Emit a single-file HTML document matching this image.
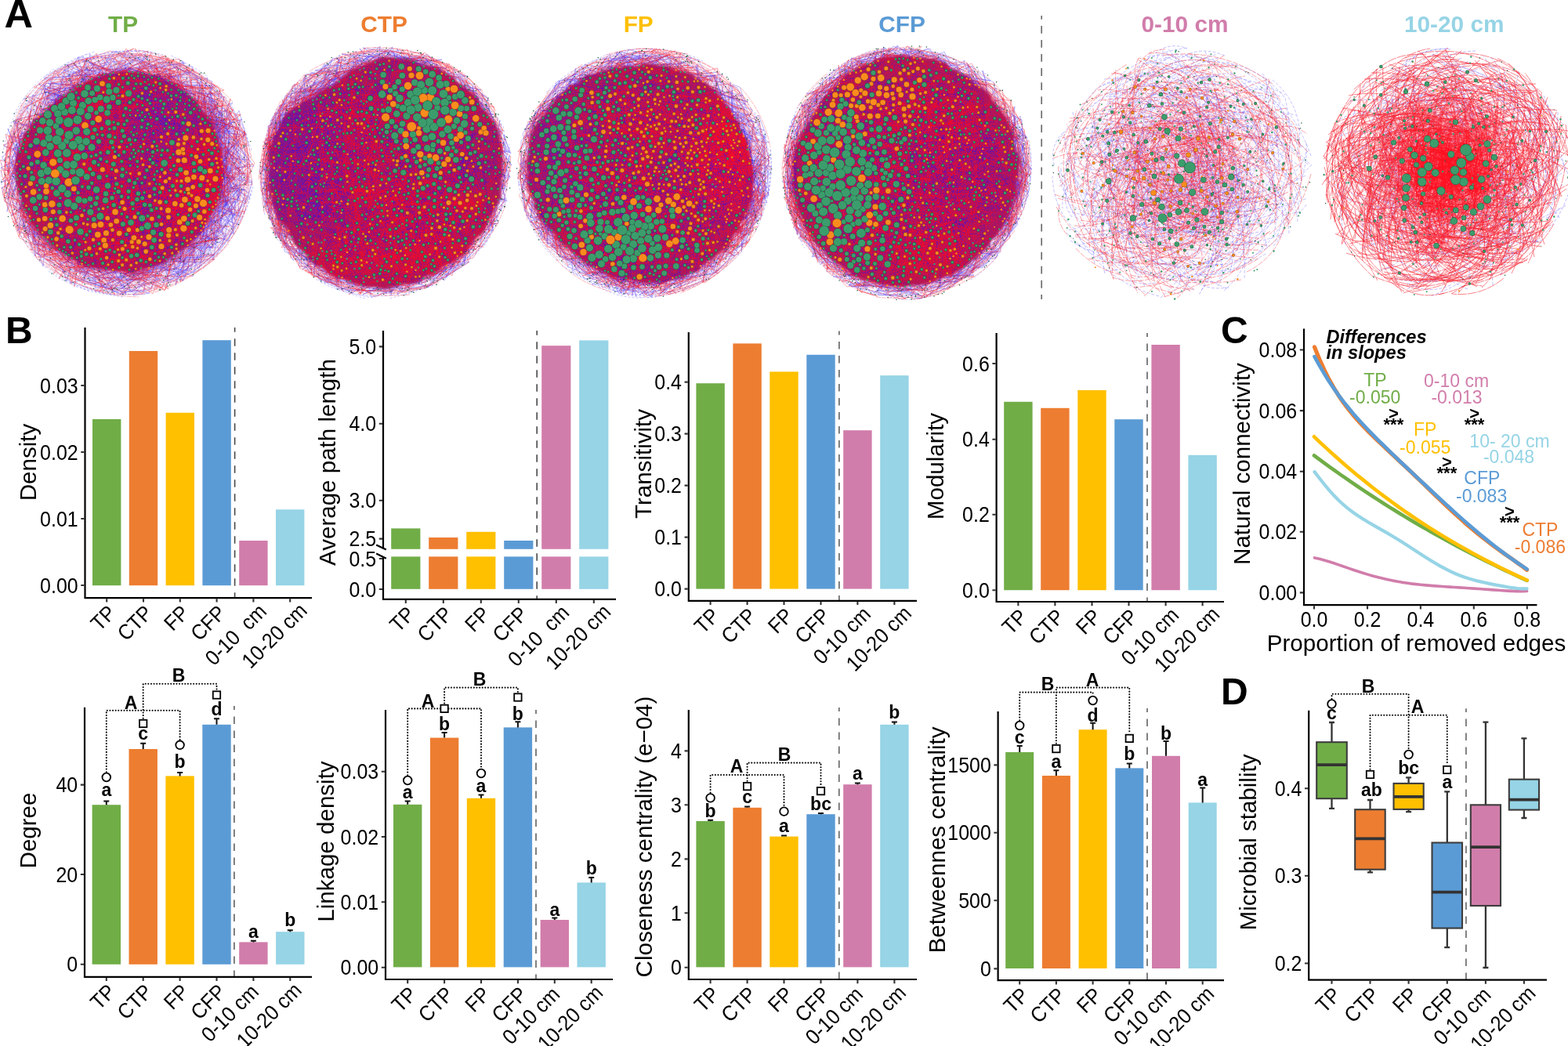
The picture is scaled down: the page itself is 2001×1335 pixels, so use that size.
<!DOCTYPE html>
<html lang="en"><head><meta charset="utf-8"><title>Figure</title>
<style>html,body{margin:0;padding:0;background:#fff;overflow:hidden}svg{display:block}svg{font-family:"Liberation Sans",sans-serif;font-size:26px}</style></head><body>
<svg width="2001" height="1335" viewBox="0 0 2001 1335">
<rect width="2001" height="1335" fill="#fff"/>
<g fill="none">
<defs><radialGradient id="g0h" cx="162" cy="220" r="161" gradientUnits="userSpaceOnUse"><stop offset="0.75" stop-color="#A060D0" stop-opacity="0.45"/><stop offset="0.9" stop-color="#C090E0" stop-opacity="0.24750000000000003"/><stop offset="1" stop-color="#E0C8F0" stop-opacity="0"/></radialGradient></defs>
<path d="M325 220L324 237L320 253L315 269L308 285L300 299L290 313L279 326L268 337L255 348L241 357L226 365L211 371L195 376L178 379L162 380L145 380L128 377L112 373L96 367L81 360L66 350L53 340L41 328L31 314L22 300L14 285L8 269L3 253L1 236L0 220L0 203L3 186L7 169L13 153L21 138L30 124L41 111L54 100L67 89L81 81L97 74L112 68L129 65L145 62L161 62L178 62L194 65L211 69L226 74L242 81L256 89L270 99L282 111L294 123L304 138L312 153L318 169L322 185L325 202Z" fill="url(#g0h)"/>
<path d="M247 309l0-20-13 15 38-42-15 20 5 27-4-7 26-45 7-66 2-49-18 47 9 14-9 21-4-23 13 38-4-26-34 140-49-26 40-218 6 30 20-30-4 7-30-12 26 2-6 41 33 32-3 34 34-43-34 33-8-6 35 58-9-22 16 24-44-9 33 28-29-17-27 32-33 28-3 3-42 32 17-23 8 4-39 1 13 37 48-36-21 17-33 4 20-26 45 16-12 5-8-21-19 18-78-3-56-59-18-12 4-13-7 6 210 69-9 15 3-23-7 23 26-47 14-18 6 21-2-35 39-33-47 59-5 28-47 2-32 17 8-18 45 29 15-48-35 11 12-5 69-47 5-24-26-33-2 2-7-60-15-5 7-48-53-26-13 6-15 7 33-6 14 39-7-28 6 22-33-31-45-19-30 48-54 32 17-18 16-11-8-29-29 30 26 6-26-6 23 5-10 13-2 11-12-34 35 17-29 19-3-4-36 8 3 32 41 120 13 23 97 28-28 17-41-14 11-29-30 11-12-2 30-13-71-38-4 9 12-25 162-160 43 25 15 15-9 4 13 12 41 5-11 6-31-6 23-12-23-8 20 2-25-7-62-50 26-12 59 37-26 39 27-23-14 2-1-23-2 60 15-21-13 14-2-61-56 1-52-12-61-24-10 21 53-14-4 22-33 3-1-21-19-3 11 39 54-18 122 67-1-42-5 14 1 31 24 20 19 38-38-8 30 8 3 45-17-8-2-41 34 21-36 44 35-40-31-16 10-35 20 14-33 31 28-4-36-4 20-57-28 5 30 44-20-52-4-33-13 11 9-49 12 13-64-1-38-16 55-22-5-4 11 17-28 7 62 132 37-62-38-21-12-33-5 21-221 31 1 8-6 38-8 82 44 4-7-9 42 44-56-62-3-6-29-61 21-13 25-72 3-3 1-19 57-6-66 6 20 9-21 42 3 4-43 38 27-17-16-19 3 2 28-3 4-13-35 51 60-68-25-20 52 4 35-45 60 23 22 31-33-22-9-23-64 37 23-17-13-20 64 26 9-15 43 45 25-1 1 41 25 91-64 50-12 32-110 15 19 6 26 9 17-34 2-6-18 4-5 16 32-23 18 4-36 0 3 4 42-15 12 0-28 3 33 2-12-8 24 26-70-9-50 8 20-4-45-7 35 16 0-11 33-4 34 2 70-155 5-32 9 45 2-37-33-11-28-35 58 55 5-5-13 19 7-29-4 33-7 26 5-29 32-30-37 13 7 16-192-62 5-5 16-12 3-29 13 23 64-12 7 1-7-4-59 22-44-20 28 26 30-25 3 17-20-2 12 2 5-2 11-10-116 94 1-3-29 39 20-58 52-29-23-6 79-20 55-5 69 48-1 10 27-18-260 88-11-39 16 30 3 84 5-34 17 23 16 20-18-24-13 15 1-10-19-28 0-32 11-40 6-16 10-36 7-25 86-16-31-22 32 25-37-16 81 19 55-16-58 15 23-8-63-5 18 2-80 34-19 7-32 28 0-6 6 10 2 12-3 2-8 65 1-33 0 45-18 17 17-39 12 33-13-53 3 17-16-67 13 47 0-25-5-12 5-1 14-3 3-16 18-12-3 1 0-2 49-48 30 10 27-5 112 22-13-5 26 56-2 31-17 37-5 8 13 6 2-12 15 47-33-25 32 9-20-40 4 9 17 36 1-23-42 17-25 42-3 21-21-16 81-64-17 50-42 43 39-36 19-10-30-34 24 26 34-70-21-16-20 20-16-103 19 30-11 15 11 24-9-8 16-34 2 67 16-19-14 21-11 52 24-40-36 22 27-2-29 8 41-43-4-11-17-5 32-19-12-44-14 24-21-40 17 15 24 33 2 34-33-42 6-42-13 5 0 81 20 4-13 4-7 21-1 11 0-26-2 19 20 31-19-7-32 37 3 25-16 22-6-17 37 2-1-22-26 23 1-17-5-10 7 7-61 17 31 23-45-17-54-13 27 7-38-15-12-3-37-14 58 33-35-23-5 11 4 0-9-30 18 17-20-13-8 17 73 23 2 32 61-24-30 22 96-62-38 15 3 39 22-10-67-10-76-12-63-35 3-47 17 32-10-19-9-25 3-56 8-55 232 161 25 17-15-32-134 68-22-3 147-91 31-34-1 45-21 22 17-10-6 20-23-28-4 24-14 62 34-57-73 55-64 15 8-17 98-28-32 7 2-218 27 49 32 13-18 20 13-40 6 17-41-15 18 30 44 35-23-55-13 48 22-48 10 29-33 22 2 57 40-63-41-32 7-19-1 10-7 18 5 2 9-2 0-16-20 13 53 37-33 13 37 11-16 45-32-50 15 35 2-11-3-50 1-36 13 8-16-36 20 20-5 20-110 192-20 4-29-18-2-2-8-21 49 9 8-2 9 2-57 23 50 9-21 3 48-58 41-39-15 39 20-36-42 47 15 2 20-28-9-19 41 14-12 25-15 1-5-7 22-27 17-20-13-26 10-1-16-40-9-39-1 1 0-43-26 5 24 44-1-17-21-40 3 28-237 70 21-37-14 15 36-44-17 50-29 5 7 24-12 7 24-8-16 45 3-28 8 0 226-115 5 18 21-35-131-8 50-31-39 15-28 19 4 5-2-24-34 30-57 158 12-2-23-1 8-23-12-46 5 9-10 14 10 7 9 42 3-15-7 34-2-55-2-33-20 52 47 23-39-72 20-22 3-6-21-25 34 10 33-46-23 12 31-3-14-26 45-22-38 51 10-40 7 2-30 35 6-11-28-10 38 24-36 29 32-47 45-8-13 8-19-31 13 28 46-25 2 18 2 0 15-6 36 11 17 15 38-24-11 56 25 4 5 45-6 23 22 0-29-2 34-45-28 26 35 45-21 57-39-20 22-52-9 31-152-174-6-16 181 72-48-13 54 40-15 50-27-78-35-31 14-4 38 39 15 2-30 1 23-19-20 22 0-41 12 74 18-12 30 28-52 50 8 45-95 53-10-18-31 12-8-13-83-26-8-51 76-144-2-15-18 9 4 15-40-3-1-15 38 3 23-18-28 38 20-13 60-40-42 5 9 14 23-8 16 11 27 7-22-1 45 3 58 38-89-37 28 1 44 48-19-29-11-7-16-23-39 7 8-13-15-19-33 31 3-6-26-7-7-2-16 34-41-15 22 28-17-14 66-19-42-13-19 56-35-20 40-11 1 25 5-12 43-43-5-16 30 28 18-31 65 37 51 28-17 36 10 37 5-8 46 36-26 7-26-70 33-2-17 97-6-59 9-8 3-6-10 18 14 13-5-6-9-15 9 20-13 15 6-1-14 16-13 58-50 52 47-16-20-41 0 32 24-50-1 11-1-4 23 23-51-2-1-5-21 32-55 2-11 14 61 0-30-23-31 42-30-44-30 15 37-9-17-10-58-22 95 57 106-62 0 9-19 54 7-38-24 22-8-21-45 9-43 5-68-52-1 16 7-8 1-2 19 11-41-27 17 48-1-60-1 20-11-87-31 14 31 15 12 37-7 29 30 9 18 55 11-39-32 9-18-6 46 29 66 24-17-20-46-11 59 31 36-15 52-18 31-17-63 6-56 37 70-58 14-9 11 34-4-38-14 6 26-30-34 38 40 6 14-17-5 31-6-21-2-17-4 33-10-14 5-31 23-21-12 28 39-49-32 3-172 106 43-12 37-2 4 35-28 3-42-13-9-35-32-9 14 11-39-53-17-11 238-111 30 20-33-47-18 23 0 0-41-35-19-23 9-9-29 261-28-8-21-3 58 10-1 23 12-34 52-29 30 16-25-19 33 8-17-23 21-2-49 24 2-1-22 16 19 39 31-52-48 53-14-11-35-9-9-4-1 8-93-12-2-39 8 11-23 19 3-20-22-29 10 5 5 32-7-22 73 63-5-21-30-21 112-242-24 14 13 21-64 7-11 11-37-13 172-28-37 7 21 31 50 42 10-1 27 4-3 40-23-14-5-26 9-11-10 9-4-2-9-29 11 20 24 53-24 44 20 4-66 63-183-39-8-36 15 40 43 68 113-25 63-60-237-36-3-11 4-9 0-9-14-7-14-3 56-64 48-18-10-32 8 0 2 35-9-18 61-2-21 7 38 7 35-5 41 3-41 11 5-17 11 30 15-10-11 15-7-40-5-4 50 19-10 31 0 33 44 33 8 28-18 13-36 52 14 20-10 3 11-40 10 15-67 35-41 31-23-4-35 1 55-16-51-2 22 34-92-257 41-2 11 4-40 33 195 120 45 18-31-51-2-77-58-58-8 10-58-23-2-13-16-2 22 31 72-10-22-15 44 6 45 113 5-54-16 14-12 15 22 29 4 34 5 61-13 5-12-74 19 16-17 67-23-15 7-21 28 30-52-1 15-10 34 18 9-37-50 18-49 44-60 13-44 11-16-24 13-3-43-57-2-17-9-6-30-53 62-74 15 9 5-37-13 22-12 4 12 3-26 43-31 4 3-5 2-18 8 50-18 53 17-84 16-8-25-6 26-30 8 34-28 43 14 84 37 36-21-23-33-17 12-58-31 14 130 101 24 23-16-27-39 6 34 25 16-33 124-141 2 11 37 26-66 76-1-16 10-1 13 17 6-5 4-45 23 1 6-36-33-54 22-13-3 3-22 35 0 24 51-5-37-50 30 42-28-2-4-14-3 2-16-18 5 10 21-18-12-12 17-21-7 3-2 34-128-82-30 15 30-23-10 258 11 40-8-15-9-21 41-2 67-8-10-32 7-15 13 2-7 44-42 17 11-33-186-32-26-81 4-25 19 20-20 54 7-15 4-28-16-42 17 42 47-80 8-38 15 29-39 34-24-14 9 39-12 42-4-16 1 4-6-19 6 49 40 68-43-39 14 7-2-21-15 44 22-29-28-7 16-76-24 56 35 36-2 19 14 46 5-48-6 28 23-7-35-1 35-3 20 36 29-10-21 20 21-23-54-27" stroke="#4A30F0" stroke-width="0.5" opacity="0.7"/>
<path d="M33 257l-9 45-22-62 31-21 1 29-1-6 26 57-19 20-6-26-3 9 69 55 22-23-19-1-63-18 8-36-15 25 0-20 13-12 9 13-16-3 10 10 11 32-7-3 6-10 16 18 18 6 24 10 30 31-23-35-16-1-44-18 21-9-24 8-22-3 63 39 50-20 75 23-11-12-1-8 7-3 3-23 53-8-50 5-1-1 26-8 20 10 0-21-16 43-133 1 27 24 41-6-35-18 36 26 2-5 33-25 28-44 0 18 16 12-5-39 46-8-31-5 10-41-7-18-6 12-13-44 41-27-32-8-29-5 28-17-1 63-14-36-49-48 28-6-110 5-16 1-23 25-12 16 0-25-16 5 37-12-38 7 38 9-6-27 5 4-4 19 15 0-18-2 33-47 13 38 42-8-42-11 17-20 24 25 0-5-11 16-27 0 26-9 13 6 4-22 25 34-3-6-43-44-22 44-23-9-1 17-16-2 95-4 21-34-44 9-45 25-70 31 48-21 38-23 61 1 17-19 19 9 16 64 14-3 14-19 1 79-8-11 0-2 31 24-31 26-18 27-35 42-27 23 21-19 7 22-7-17 16 10 41-1-31 22-72-2-20-8 2-6-40-3-52-31 26 17 40 36-60-28 0-10 11 0 14 37 11-12-43-34-18-26-9 8 52 57-22-16-10-8-26-58 4-40-4-15-1 15 9 34-5 44 19-18-13-43 18 54-33-29 22-3-1 4 8 49 12-23-7 0-29-20 22 21 22 31 77 7 21 23 39-6-29-1 6-10-116 1 23-23 12 26-11-17 3-2 1 25-47-30 18-17-32-14 49 49 74 36 11-12 6 7-169-154 26 0-32-11 6 19 17 36 0-59 10 20 1 41-9-27 12 12-4-44-16-33 17-9-26 34 19-9-20-14 23 83 4-20-14-2 18 23 12 25-2 0 3 8 28 34-30 7 2-47 6 30-34-18-22-77 32 2-12-59 63-35 12-13 15-37-29 55-19 11-21 38 3-14-25-11 16 42 243 11 17 25 3-62 1 10-52-43 19 47 31-45-24 45 3 33 36 17 12-26-30-39-19 30 17-59-7 1 1 13 7-28-2 8-41 4 7-33 21 16-59-15 5 0-7 0-14 3-8-20 24 22-29-4 50 12 12-1 28 12 16 11-11-18-9 43 31 24-5-22-3 57-38 36 21-69 32-21-96-57-1 1 15 0 33 49-8-57-3 50-6-19-128-30 19-6 4 3-11-16 38-3 59 23-71-18 13 9-9-2-13 6-14-16-38-3-55 26 49 12 26-16 2-25-34 19-2 9-54 28 51-26-8-18 24 29 2-23-38 2-24 46-30 50 11 8-15 24 25-28 8-22-26-7 21 45-2-27 73 132-7 43 5-44 1 3 4 1-69-59-14-79 9 52 3-32-5-1-7-36 26 101 2 6-17 22 31-4-41-65-3 50-2 6 20-14 34 30-2-2 1 32-36-75-31-7 25-14-9-29 19-48 18-4-36 38 2 24 20 66-8-10 11 13 12 23 15 10-28-15-29-22 14-9-17-52 6-2 9 62 42 18-56-48-8 2 6 17 37 11-21 11 6-38 15 32 31 37 3-2-26 4-10-46-5-9-18 9 11-29-21-4 22 38 53 57 92-7 38 6-22-10-1 13 20 13-6 14-43-34 19 16-12-8-15-9 51-9 24 8-1-32 11-5 4 4 29-29 2 16 7 9-37 17-48 12-38 12-62 8-7 2 14-23 2 0 67 7-55 29-43-9-19-21 61-1 11 44 18-15 35-21-66 9-65-28-30-17 62-174-42-4-20 74-18 49 18-53 6 3-23 13 8 21 2 20 49 46-42-8-4-1 53 30-27 10-9-69 13 44-18-129 27-51 56-18-18-15 5 28 15-10-5-29-49 41-3 14-27-13 29 30-41 1 34-9 15-54 222 152 0 8-15-23 42-7-59 52 32-17-17 1 5-31-4-2 28 3 1-17-8-13-13 19 5 9-25-67 13-27-20-32 6 46 21 14 6 43-18 104-43 11-22 51-23-8-26-10 20 0-30-6 63 27 10-50 16-13 43-11-3-5-12-36 8 18-13 15-15 1-63-200 7-24-45 18 9 18 20-25-7 2-25-13-32 11 48 21 9 4 6 3-44 1-33 17 15-46 47 24-40-19 54-19-50 24 26 19-12-15 35 5-44 14-47 0 22-10 35-4 22 7 35 3 59 22 7-9 14 37-3 7-28-41 24 45 0 2 17 59 4-8-20 81-38 34-29 34 15-48 8-8-8 37 8-19 26-9-22-12 3 9 4 7 13 0-49 11 1-4 15 1-63 6 11 9 29-15-59 8 38-7-34 2-51 6-10 14 18-35-16-11-61-49 68 70 89 18 26-2 46-8 2-33 5-18-12 7 53-6-23-2 1-24-6 25 4-41 4 1 25-9 16-23-9-17-50 95-5-7 50-59-22 15 0-41 1 34 38-26-50-28 0-3-5-45-67-30 17 9-2-17 19 13-23-8-14-33-6 38 80 7-16-1-2 34 2-3 13 8 0 6 7 37 1-46 1-2 37 28-27 2-10 8-40-69-3-40-32 7 18 32 59-2-80-4-36-16-13-20 25 29 69-6-1 39 22 19 7 30 43 1-1 1-34 47 24 9-15 12-8-3-6-12 2-20 40-51 10 69-16 0-30 17 17-52 10-49-21 2-12 19-12-19 2-4 11 25 16 8 5 72-242 57 27 18 49 2-41 11-27-27 9-8 2-9-22 25 45 2-24 24 15-29 2 0-53-38 220-133-2-3-1-29-34-11 1-20 1 24 42 32-27-16-17-10 6 1-22-43 2 30-30-8 20-16-30 18-25-12-22 0 15 20 14-33 29 15 40-18-44 13-8-11 63 18-32 12 40 23 42 28-15-21 2 29 44 3-54-21-9-58-24 29 45 37-38-32 14-19-10 11 14 12 62 85 8-41-34 28 3 58-11-21 3-16 3-17-15 113-41 2-11 9 10-5-2-4-10 23-12 37-56-38-101-27 6-2 19-12-4-5-17-28-39-15 10-35 63 99-26 19 49 26 12-29-66-41 11 7-4-14 22 35 15 7-59-70 0-10-9 6 12-32-21-26 17-35 14 7 52-43-3-16 0-6-11-5 11 27-19 5 203 151-78 60-4 14 5-23-28 7-19 3 36 9-79-19-9 1-30-11 26 27 37-8 51 23 10-29-12 46-64-38-52-36 6 2 208-89 17-5 21 17-7 15 3 19-45-18 9-54 22 22-30-24 47 45-26 18-48 46-9 29-31 0-50 52 44-29-35 15-16-10-4 17 37-20 33-21-18-1 48-33-8 12-10 22 0 4 36-30-55 26-12 41-66-38 12 21-41-17 21 2-16-10-28-19-24-178-13 35 29-18 20-40 21 11 80-12 62 5-31 6 33 18 25-26 26 53-44-1 4 3 15-22-9 2-9 21 13 5 8-56-14 51-33-53-128-15-24 33 47-29 6-29-36 30 21 8 14-10-2 8 53-7 89 35-12 9-44-35 13-18-60 6-20 6 64-16 14 28-37-31 37 19 28 46 3 10 47-14-33 25-8-41-13 21 45 9-32 19 49 47-13 15-33 21 34 10-32-46 10 65-25 18-2-24-18 16-21 38 0-9-81 10 26-3 8-2-34 3-10-3-12 2-8 5 30 20-7 11 9-39 35 5 40-17 0 21-28 2-17 0 25 19-84-38-61-14-12-33-27-56-2 33 140 104-87-29 49-3-34-9-25-37 6 26 7 17 35 13 48 18-28 7-40-24 11-25 9 11 65 20 37 17 2-30-15 2 30 35-33-21 57-35 44-9-32-4-2-16-10 63-9 13 10-51 20-14 0-15 18-19 17-29-3-14 31-9-46 36-2-28 16 43 16-10-31-47 5 43 27-36-14-9 19-31-26-34-52-9-49-21-157 85 25-31-26 24 17-17 45-56 80-23-67 12-10 2-26 4 94-27-21 16 32 8 51-2-37 1 10-17 24 24 3-5-10 11 23-14 8 11-1-3 4-21-47 15 10 11 5-1-42-27 23 17 43 31-2-8 6 4 20 4-28-12-27-34 18 4-12 24-2-11 9 0 41 50-68-53-15-5 50 20 4 8-27-39 16-9-26 27 39 26 37 11-16-8 6-10-54-28-29 4-1-19 32 34-3-21 42 20 22 51 13 50-14 42 17-18-4 39 2-22-20 17 22-29-11-53 39-6-42-21 0 38 14 19 30 2-7 16-24 37-42 32 3-10-20 30 47-2-27 7 4-46 11-5-3-6-14 16 19-27-3-1 8 3 30-13-206-172 25 20-3 14 4-7 167 53-18 20-54-105-26 23-20-29-29 33-13 0 43-17-10 6 38-1 43 40-41-27 2-18-25 18 2-2 25 9 24-24-46 1 32-9 34 66 60 9-7 24 2-16-15 36 26-29-35-15-16 14-2-42 22 20-35-49 39 18-38 10 1-7-8-16 10-1 4 35 4 9-40-28 8 2-55-21 6 7-9-6 65 13-9-29 50 26-40 19 48 9-106-49 15 7-20-33 50 46 62 22-65-50 16 22-28 4 6 4 29 19-21-9-5-45-43 17 40 16 72 26-29 12 37 7-7 41 11 0-12 31-7-23-5-3 15-12 13 50 14 15-75 60 19 9-30-14-60 31-47 15 31 3-12 5-44-31-6 33-6-47 93 42 22-28-61 5 72-10-37 13 19-10-21 7-25 32-26 5 26-19-14-14-30-9-63-67-25 12 24-14-4 10-4-15-7-44 2-15-22-12 40-12 0-20-8 43-13-24 12-30 7 10 15-37-21 71 3-45-6 41 5-34-17 28 23-8 29-27-6-36-16 22-16 49-12 41 20-40-4 0 13-27 7-3 46 215 13-33-26-10 6 12-46-47 14 30 69 30-25-11 22 35" stroke="#F01828" stroke-width="0.5" opacity="0.7"/>
<path d="M90 360Q157 386 223 358M218 71Q243 82 265 98M15 251Q27 296 61 328M314 252Q326 208 312 166M16 245Q1 168 56 113M312 255Q329 183 287 122M237 88Q290 117 311 173M101 358Q181 385 248 336M211 364Q275 339 308 279M131 72Q93 78 64 104M46 111Q77 78 121 66M39 301Q10 253 17 197M262 337Q298 308 308 263M262 109Q196 59 114 76M291 305Q270 328 246 347M62 346Q102 375 152 377M48 330Q81 364 128 373M186 70Q132 63 83 89M293 296Q308 270 313 242M107 73Q38 106 13 178M83 353Q126 381 176 375M18 146Q36 111 69 88M156 66Q184 62 211 71M323 238Q311 293 271 333M59 342Q21 308 13 257M141 368Q84 358 46 314M303 286Q318 265 321 239M120 80Q143 75 167 72M280 317Q255 348 217 360M26 301Q84 369 172 376M114 372Q45 341 16 272M89 348Q163 384 233 343M289 132Q263 98 223 83M157 379Q129 375 103 364M179 65Q110 62 54 104M58 97Q122 59 195 67M9 253Q-4 184 36 127M188 367Q269 344 308 269M293 296Q272 333 235 353M240 84Q301 123 321 192M314 266Q300 295 280 320M137 72Q180 65 221 84M313 165Q267 89 182 65M93 80Q49 104 24 146M102 77Q45 99 16 153M112 69Q83 81 57 99M25 146Q68 81 144 69M274 310Q234 361 170 364M15 155Q-4 201 4 250M259 343Q309 296 322 228" stroke="#6A5CFF" stroke-width="0.5" opacity="0.7" stroke-dasharray="3 2"/>
<path d="M279 323Q234 368 171 375M282 307Q299 288 307 264M6 222Q12 140 78 91M47 330Q104 377 177 379M18 266Q0 217 18 168M245 99Q309 141 313 218M183 78Q233 80 269 114M15 164Q-6 228 24 288M6 213Q9 170 29 132M177 64Q248 77 297 130M51 111Q103 65 173 74M314 194Q302 141 259 110M6 223Q8 148 65 99M205 358Q136 378 76 339M47 328Q26 306 15 278M28 144Q-7 222 27 301M218 351Q153 385 88 352M290 310Q316 278 318 237M279 318Q239 360 182 369M59 337Q115 381 185 375M27 156Q11 184 5 216M314 248Q323 215 313 183M277 112Q223 66 153 68M127 72Q78 79 45 118M50 106Q73 87 102 77M38 119Q16 155 9 196M31 141Q-7 216 28 293M188 70Q228 76 257 103M299 281Q309 258 307 234M280 125Q319 173 316 235M320 221Q317 196 312 171M217 354Q243 342 264 323M278 318Q300 296 310 267M288 133Q267 103 235 87M308 271Q269 345 190 372M253 341Q301 307 315 250M21 270Q7 233 14 193M9 253Q26 312 78 345M315 203Q320 243 300 278M251 94Q175 56 92 79M197 373Q253 356 292 311M49 117Q11 163 11 222M265 335Q302 308 314 264M208 366Q129 384 63 337M26 136Q56 89 111 75M241 90Q209 70 171 70M239 85Q304 126 321 201M283 123Q253 87 208 73M69 95Q129 58 198 74M314 237Q322 182 293 135" stroke="#FF3040" stroke-width="0.5" opacity="0.7" stroke-dasharray="6 1"/>
<filter id="g0b" x="-10%" y="-10%" width="120%" height="120%"><feGaussianBlur stdDeviation="1.8"/></filter>
<path d="M285 217L286 224L284 231L282 237L282 244L282 251L277 257L277 264L272 270L267 275L265 281L261 287L259 294L254 298L249 303L245 308L241 314L235 317L229 321L225 326L218 328L213 333L207 337L201 338L194 340L188 343L181 343L175 347L168 349L161 347L154 345L147 346L141 345L134 343L127 344L120 342L114 340L107 340L101 336L96 332L89 330L84 325L78 322L73 318L66 314L62 309L57 304L52 300L47 295L43 289L38 284L37 277L32 271L28 265L27 258L27 251L22 245L22 238L20 231L20 224L19 217L19 210L21 203L21 196L26 190L27 183L29 176L30 170L37 165L40 159L43 153L49 149L54 145L60 141L62 134L69 132L73 127L78 123L84 121L88 116L95 115L99 110L105 108L110 103L116 101L122 98L128 96L135 95L141 95L148 94L154 90L161 92L167 91L174 91L181 92L187 94L193 97L201 96L206 100L212 103L218 105L225 108L229 114L236 116L241 120L246 125L251 130L254 136L258 142L263 146L266 152L272 157L273 164L276 170L278 177L278 184L283 190L283 197L282 204L285 210Z" fill="#B0125A" filter="url(#g0b)"/>
<clipPath id="g0c"><path d="M285 217L283 237L277 257L269 276L258 293L245 308L230 322L213 332L194 341L174 345L154 347L134 345L114 341L95 333L77 322L62 309L48 294L36 277L27 258L22 238L20 217L22 196L29 176L40 159L53 144L68 131L83 120L99 109L116 101L135 95L154 91L174 91L194 95L213 102L230 112L246 125L259 140L270 158L278 177L283 197Z"/></clipPath><g clip-path="url(#g0c)">
<defs><radialGradient id="g0t0"><stop offset="0" stop-color="#F50A28" stop-opacity="0.88"/><stop offset="0.5" stop-color="#F50A28" stop-opacity="0.616"/><stop offset="1" stop-color="#F50A28" stop-opacity="0"/></radialGradient></defs>
<ellipse cx="250" cy="235" rx="60" ry="95" fill="url(#g0t0)"/>
<defs><radialGradient id="g0t1"><stop offset="0" stop-color="#5A18C8" stop-opacity="0.56"/><stop offset="0.5" stop-color="#5A18C8" stop-opacity="0.392"/><stop offset="1" stop-color="#5A18C8" stop-opacity="0"/></radialGradient></defs>
<ellipse cx="205" cy="150" rx="65" ry="60" fill="url(#g0t1)"/>
<defs><radialGradient id="g0t2"><stop offset="0" stop-color="#E80A28" stop-opacity="0.5"/><stop offset="0.5" stop-color="#E80A28" stop-opacity="0.35"/><stop offset="1" stop-color="#E80A28" stop-opacity="0"/></radialGradient></defs>
<ellipse cx="150" cy="300" rx="90" ry="45" fill="url(#g0t2)"/>
</g>
<path d="M284 211l3 23-2-13-26-30-22-14-41 2-59 14 5-75-6 42-37-15 56 21-14 54 16 40 1 51 31-5-15 25 10-11-36-37 5-39 5-58-41 38 53-12 53-9 62-3-5 5-243 39 56 78 8-66-22 41 20-58-13-61 185 65-20 15-43-25-16-48-31-16-7 4-37 2 12 19 16 51 4 55 25 0-75 4 183-45-8-60-112 142 6-164 11-65 56 19 18 65-38-39 42 8-9 142 16-34-175 49 48 21 15-89-11 58-60 11 5-30 16 45-10-52-24-19 36-24 33-13 56 20-159-9-6-17 61 20-14-16-10 64 51 6-15 20-7-6 6 0 105-16-62 3-40-9 66 0 13-3-6-16-14 21 22 33-57-228 23-2 51 19-133 118-23-31 62-4 19-2 36-25 14-57 5 60 32 35 46-13-70 47-1 68-9-65 0-64-1-52 4-16 11 59-17-10-32 29 27 40 11 51 35-43 9 67-26 24 1-33-38 11-67-2-2 14 71-233 47 16 6 53 5-44 32 24-23-19 22 51 6 29-169 52 13-50 60-2 12 64-12-27 40-30-20-9-27-30-70 0 23-43 60-17 0 11-7-6-1-18-43 9-9 48-4-32 42-14-69 142 73 1 26 14-28 29-22 42 107-120 6-55 7-14 17 82-6-12-33 8 13 34-80-128-27 7-4-30-13 8 21 48-60 2-14 46 22 7 30-34-33 3-38-3-6 42 9 54 154-55-8 43 35-29 2 37-43-20-30-44 21 5 43 37 5-2-21 9-14-61 22-32-5-31 19-8 5 71 9 10-10-21-13-49-34-8-12 47-58-18 56 21-46 27-10-59-59-7 30 12 7 10 2-43 5 5-76 127 175-46 3 19 33-23-55-8 16 12 29-11 16 26-61-11-9 20 31 25 4-5-40 32-8-54-37-35-45 19 36-43 49 27-50-23 38 31 31-18-68 4 48-9-8-34-2-50 34 39-27 2-10 0 43-37-11 0 6 10 66 12-49-27 39 33 15 17-195 153 41 1-13 36 2-115-44 30 75 0-4-61-3 13 6 72-54-25 5-58 55 3-2 63 22 6-5 7-16 60 17-54 107-72-41 12-13 25 27 27-70 7 33 38 36-28-36 21 21 14 38-14-29 11-85-139-32-30-25 36-21 49 62 6 4-32 25-7 13 1-34-20-48 3 21 35 43 75 18 19-36 21-96-120 13 38 124 42 17 44 24 2 15-13-78-98 50 70-39-8 13 14 30 10-23 25 30-34-54 19 8-60-52-15 7 72 20-45 6 63-17-48-45 15-8-47-22-56-25 23 11-58 11 12 10 36 2 60 38 27 11 35 41-4-28-9 52 7-9-53 49-13 2 5 64-7-23-38-62 14 64 2 7 58-24-18 26-2-41-114-29-28-47 6 20-44 106 113-56-7 16 63-26-7 1-62 29 0-32-35 16 32-23 11 1-17 39-31 7-15-9 64 21-54-120 103 38 27-32-17 1 35-11 45 54-17 9-27 5 27-63 6 7-8 26-80-52 24-31 14 8 41-17-15 10-70-36-10-6 47 245-56-56 21 21 50 2-38-26-53 59-5-4 47-12-35 13-2-241 40 95 35 43 7-29-35 12 33 2-19-20-29-54-11 1 37 47-29-48-31-22 20-11-10 34 12 2 38 48 10-7 22 41-23-27-41-15 21 62 8-14 6 29-33-41 17-13-66 16 20-11 58 20-27 38 11-9 33 31-17-1-21 3-16 28-47-57 2-25-21 6 9-18 5-34 14-47-3 9 53 75 2 14 58 25-25-39-32 25-34-43-26 16 63-67 6 51 25 35-23 2 11 25 40-22-45 21-56 40 21 19-43-30 46-146 112 3-3 3 5 24-9 7-19 8 26 20-47 24-2 67-10-29 36-5 7 1-65-16-6-15 57 30-43 16 0-87-8-50 15-9 11 48-14 30-32 21-51 73 3-4 13-8 17-35 23-43-2-16-2 2-47 34 17 19 41 60-10-43 17 22-39 19-55-4 32-45 3-91 122 53-6-54 14-11-45 23-16 0-64-4-69-38 39-9-17 10 53-2 13 48-5 19 28-1 9 8 3 56-15 21-24-77-2 29-44-22 23-6 74-38-30 35 13 52-4 5-17-67-10 18-37-2-41-20-28-4 37 26 31-3 66-23-11 12 49 5-57-19 36 34 0 18 10 42 6-12-25-52-3-29 13 19 19 28-7-10 49-36-21 30-24 24-11-22 28 19-29-24 53 34-35 24-13 24-33-61-14 62-16-71-76 33-14 31 42-27-30-15 13 0 31 21 16-67 84 9 19 49-25 27 15 0-58-20-23-19 11-6-1-33 3-30 26-32 30-19-64-1 58-55-4 12-33-32 28 132 24-8 8-63 9 38 29 1 14 27-10-16-45 43 17 72-6 7-9-34-25 46-30-15 6-29-43-7-17 36-14 28 49-33 33-25 51 3-27-63 5 18-58-59-5-17-40 11 59-86-42 17-45 29-28-14 6 33 40 9-9 35 9 24-39 30 16-8 8-9 58-38-2-53-27-33 39 24 8-34-34 216 6-64 101-20 28 12-27 3 7-27-45 36 1-33-43 15 12 20-36-34 40-18-15-48 30 36-6 2 31 45-8-35-17 21-45-57-7-2-23-10-32 18-22-32-12 26 0 66 9 10 33 25-53-57-17 58 72-5-54-2 16-68-10-6-14 55 4-1 9 7 54 11-60 28 14-31 37-65-9-61-3 32 35-27-42-21 44-34 45 70-74 1 28 17-46 73-1 37-12-10 178-3-12-38 29-42 14 52-6-1-11 17-26 2-30 68-3-39 26-1-47 31-81-57 1-74-42-29 12 22 56 28-4-10-64-16-11 92 193-12 15-23 22 22 10 17-101-51-4-11-31 30 13 39 13 2 31 21 42 20-139-57-4 50 11 0 2-51-4-38 10-27-14-35 39-19 38-60-1 9-20 18-31-12 66 15-54-39 9 47 8-32 29-22-29 88-87-3-10-42 19 41-9 2 35-31 21-36 0-7 36 33-38 18-36 17 37-23-47-23 7 221 13-177-20 51 23-52-5 38 4-25-11-41 18 55-21 37 25-6-38-41-26 0 44 21 45 15-12 43-21 2-57-12 10-34 27 38 12 41 32-2-45-29 23 31 17 24-39 15 13-74 4 11-64-19 54-39-35-3-6-13 11 6 20-32 28-19-1 57-5 50-2-3 64-43-10-5 40 38-22 54-15 54 20-46-6 3-32-50 8-14-49-12 63 45 15 2 10-36-29-36-27-53-17-26 6 139-70-134 118-1-17 41-8-67 12 190 96 0-17-166-20 13 42 7-18-38 3-8-46-2 0-19-59 154 99 32 21-5-33-65 11-11 23 62-8 17-32-71-2-23-52 36 25 37 33-31 45 49 10-41 15 37-15 1-27 18 7-9 23 39-23-16-53-27-45 34 27 1 7 27-24 18 5-8 19-223-110 46-8 15 31-1 3 10-46 24-27-27 196 65 12 3-55-69 3-44-23 3 18 64-2 7-49-31 2 14 24-31 15 28-32-26 8 28-48-62 112 36 21 31 29 55 4 40-8 11-10-31 7-46 7-17-45-7-50-37 19 1 24-4-45-51 4 26-39 1 65 72-29 60-19 38 26-27 7-18-13 27 33 21-33 15-2-17 61-53-17 51 13-34-152-29 45-56-16-15-48-19 13 3-19 83 178-26 41 23-34 5-48 53 23 25 30-47 1-12 30 39-31 7-42-8-52-23 13-3 38-19-32-15-26 45 3 25 2-50 8-11 0 16 39 57 20-23 0-10-50-50-27 17-40-102-24 77 149 40 21 13-7-23-47 19 38 11 27-55-8-19-18-41-4 11 63-11-64-46 27-1-57 7 46 94-97-35-22 6-41 45 24-24-12-31 31-60 17 64-4-38-16 36-20-35 9 11 69-30 4 34 39 22 25 20-33-54 19 163-23-55 17-40 29-30 36-31-44 59-17-23 35-10-56-69-11-42-36 7-1 46-8 0 77-9-64 32-46 8 21-3-38-10-31 41 15-43 32-45 9-4-26 4 60 16-18 18 19-29 13 19-33 3-70-11 50-31 26 72 5-1 51-27-4 22 14-21-18 143 81 12-44-59-10-40-30-57-3 15 0-16 53-38-25 38-20 13 23 34 14-6 40 59 14 17-65 28-29 5-27-42 11-3 61 24-54 17 59-32 41 13-2 25-14 2-32 23-28-8 14-153-74 0-7 34-8 54-11 68 18 29 25-18-4-138 24 12-51-32-21-31-11 75-2 7-53 34-10 16 62-6 38-20-21 46-14-34-37 62 10-27 27 10-29-12 62-103 74-3 13 22-21 9-33 30 7-18 7-6-67-35-23 52 12 64-4 30-5-7 32 23-22-24 18 10 54 10 48-158-84-19-45 18 60-15-61-51 7 52-2-25-32-8 53 22 40-38-3 18 58 57 8-4 55 61-124 17-38-44 34 22-9 50 11-53-9-12-26 42 10 51 27-45 29 6-24 0 42-36 42-62-6 20-56-43-35-21-33 13 33-22 7-8-43 24-36-4 12-31 8 3 37 20-42 53 12-7-2-1 0 13 58 49 31 43 8-143-15 10 68 61-5-19-7-26-48-3-34-65-13 57 12 4 66-11 35 17-36 8-8 16-21-6 19-14-49 7 23-4-38 7-26-54 9-14-16 56-10-14-40 66 1-54 1 29 51 18 55-38-12-5 45-27-34-41-24 49 25-27-49-4 26-13 10 34-13-11-44 8 45 71-8-23-54 38-13 15 40-42-32-10 20-94 35 50-11 29-7-55 14 12 65 33-32 35-10 30-31-46-18 7-20-6-29-25 46-13 35-3-70 3 42-5-7 25 20-28 39-2 2 34-21 1-63-22 13-5 31-21 25 11 39 98-94 0 36" stroke="#3A10E0" stroke-width="0.8" opacity="0.6" stroke-dasharray="2 1.5"/>
<path d="M200 230l-12-36 55 11-28-44-59 12 1-19 3 0-33-1-24 11 22 46-42 20-17-32 28 15 34 11-26-7 55-14-65 15-50-12 118-12 14-24 37 6 1 7 16 42-38 99 31-35 8-69 9-46 36 14-172 65 12-47-30-41 49 22 17 55 34-34-31 30-40 4 42-1-29 44-4-11-52 13 16 25-34-43 23-32-16-15 44-25-40 14 34 25-13 67-4-175 34-15 5 11-19 41-22-31-22 5-1 155 36-2-3 20 25-18 4 18 141-123 27 26-14 53-42 18-35 39 10-48 0-76 15-11-6-34-3-46-66 179-17-22 17-50-1 50 20 50-48 12 38 6-20-59-12-17-25-46 52 24-17 107-1-13-2-48 0 49 46-83-40-6-4-17-6-18 62 12-37 1 23-8-25 50 103 30-2-36-33 11 23-56-133-80 53 17 42 31-5 32 2 55-36 10 6 9-19 2-39-37-68 12 54-20 42-30-4-10-15-41 12-52-4-17 58 49 36-23 47 32-62-6 64 24 14 19-29 51-30 29-30 19-25-25 41-13 15 32 33-38-2-15-51-4 45-32-19-22 19 14-33-41-31-16-65-9 62-13-24 54-58 0 19-57 165 81-35-39 35 39-248 104 12-58 16-62 7 24-23-45 71 188-24-46 50-114-68 87 29-12 19-24-55-8-25 10 39-26-54 8 37 1 21-41 19-27 37 40-45-27 55 4 66 134-29 42 24-11-42 22 44-19-36 22 8-42 13-66 3-44-16-58 66 5 12 103-6-74-9-26 22 11-131 191-29-27-32-14-48-27 8-5 17-20-22-18 34 11-41 11 20 23 24-11 4 23 38-24 42 5-49-29-73 2 51-32-4 25 18-52 15-20-21 7 38 11 30-27-11 7-19 14 26-40 20-38 48 3-9 58-39 28 14 31 27 29 51 9-49-10-29-39-26-49-30 34-15-45-7-29 43-34-50 154 43 4-23-124 33-9 59 0 42 27-26 29-69 10 25-30-30-34-58-4 7 36 3 8 36-26-54-17 51 27 26 54 30-44 25-10 9 31 7 19-30-5-15-35-46 7 9-33-22 50 23 15 6 57-16 12-29-5-14-50 2-70 32 9 49-12-44 20 26-17-28 27 16 3-6-67-6-3 9 52 50 28-24 31-63 0-57 13-26 12 37 26 30 38 39 30-61 5 16 11 85-38 8-3 12-32 15 36-44-16-23-59-18 51 41-30-14 52-15 30 27-41-42-1-9-10 2 28 6-10-48-23 40 6-12-17 6 10 5-18 5-37 19-32-40-19 28-4-66-13-4 14 24 9-31 39 46-21 39-39-33-28-14 12 24-39-47 46 137-42-18 14-4 17-58 9-30-27 35 36 5-28-24 49-17 110-6-24 57-23 48-24-13-51 40-23-92-15 49 10-28-7-52 12 78-1-16 207-36-3-19-48-28-51 101-61 16-18-33-12 21-15 19 40-2 12 1 107 8 8 28-49 21-13-116-135 18 27-21-40 47 17 38 26-10 64-21-9-64 3 53-25-4 22-50-3 53 20-29-19 3-9 3 2 29 34-35 51-5-46-46 20 43 33 54-24 39 17-9 27-29 14-51 14 14-39-38 29 57-4-42-32 34-45 25-6-10-39 26 15 33 34 26 38-123-18 64 10 34 36 20-52-5-73-52-27-144-9-36 32 33-15-42 34 26 23 20-18 14 11 33-38 59-6 19-8 6 54 54-14 22 49-213 4-18-33 20 43-14-54 23 7 77-2 27 38-50-27-69 1 6-52 26-8 1-2 26-33 13 48-40-33 62 3-12 50-51 3 18 52-18-50 40-21 11-68-15-16-5 5-13 45 10-7 38 26 17-33-53 2 35-7-5-27 34 9-132 54 21 46-50-14 55-39-9 54 18-43-15 38 35-16-47 19 31 39-9-22-23-48 27-5 20 46-51-2-9-56 38-6-37-11 196-11-65-12-65-9-27 8-8 37-19 16-15-5-16 3 86-69-26 38 63 10-10-26 28-2 31-8-69-11 2 57 11 38-6-16-9-9-20-18 31 14-38 10 4 59-24 54-3 7-43-22 7-66 0 2 14 33-7 17 3 38 132 19-65 1 19 16 11-26 27-29-53 52 34 18 49-31 1-24-56 41 58-15-43 14-7 16 4-46 11-1-36-7 55-11-50 20 8-37-98-115 26 18 38 22 35 13 15 28-5 1 0 2-15 4-45-34 22-6-60 9 71 22 38 28 39-38-57 14-40 23-4-73-8 4-22-48 18 37-21 30-25-43-7-13 24 56 9 2 24 26-12-63 16-53-50 13 168 135 27-17-43-22-33 13-58 4-66 4 34-31 58 18 6 16 66-11 52 23 7-58-11-10-11 45-166-112-8 49-9 18 73-1-18 52-15 10-14 5 26 45 76-83 23 42-38-40 47 14-23 47 21-54 14 35 8-7-55-20-35 11 4 25 0-38-3 50-52-14 49 23-48-23 67-3 19 55-57 2-4-30-65 15 20-39 6 11-7-66-42 10-24-53 174-47 41 2-201 51 48-17 38 7-62 7 126 129 38-35 22-45 35-20-208 5-38-23 36 23-60 7 175 24-55 7-3 55-1 6-18 7 22-7 53-13-39 12 7-29-40 4 55 12-5-63-15 29 10-28-45 3-50-22-47-13 45-26 148 98 8-11-197-65 66-10-18-31 7-20-22 6 13 66 69 5-29-38-19-13-23-26-9 15-2 60 34 0 46-23 1 70 3-95 15-21-33-25-3 47-50-29 27-28 3 133-76-4 20 27-17 2 66 48 62-6 32 18-45-13-118-135 42-9 6 15-32-25-12 34 21 5-16-20 33-41 51-17 46-31 23 50-44-13-53 14 43-35-27 174-11-66 74 3-1 78-59 11-34-81 63-6 6-68-14 7 16-10-59 2 31 18-61-1 17-7-15 46 58-105 21 47-44-30-15 120-8-45 10 43-20 33 48 3-25 38 126-82-58-10 15 75 69-2-6-8 32 2-125-188 6 45 4 61 42 27 12 4 8 15-46 32 17 11-16 38-51-4 53-13 12-26-10-28-23-41 59 11 17 45 24-55-29-25 3 21 55 24-8 20 14-27-35-18-135-42 60 10-27-26 11 4 41-12 33-20 28 48 15 64-11 53-18-4-67-3 28-30 19 15 46-12-51 59 35-82-22-30 5 50-23-2 41 9-69 4-117-24 4-4 1 23 27 32-9-6-19 21-9-15 54-6 61-14-27 36-24-55-71 8 23-52-22-30-12 38 8-39-18-6 4 59-6 43 114-5 5 69-1-5 83-120-13 29 3-44-6 0-2-58 18 4-66 80-25 39-6-64 3 20-24 30 27-4 34 38-71 6-43-13 66-173-9 66 17-61 151 117-78 1 39 22-26 18 17-3-68-8-39 0-53-17-35-24-7 13 14 17-18-2 39-3-28-48 46-23-3 4-15-50 31 18 36-23-2 18 47-5-30 44 54-18-52 13-41-15-21-25 29-19 54 13-26 43-11 1 4 45 1-50 2-5-2 55 1-52 2 76 43-29-39-4 12 0-26-11 8-6 5-29-24 38-53 15 91-70-38 35-17 58 91 1 25 42 5-4-30 15-10 14 36-8 7-52-52 72 2 10-58 20 24-5 39 0-59-133-51 19-7 53-31-37 47 35 28 0 0 45-35-10 6-12 10-167 123 121 20-15-12 14 19 14-21 12-13-37-2 65 36-36-33 14-48-14 29-136-44-33-23 54 16 26-42 28 42-28-69-7 37-24 28-30 145 82-32-29-1 70-36 34-68-71 30-48-32-25 39-3-10-5 40 19-18-33 42 37-19-14-2 41 20-20-4 33-31 24-48-28-8-26-75-3 217 55-10 20 7-17-19-45-84-76-26-6 49 25 23-4-147 63 39 40 60 2-52-25 24-25 32 42-5-59-22-54 23 11-13 43-12 47-30-4 57-13 12 25-28 8 25 108 5-43 58-150-13 26-4-19-86 130-59-5-50-29-22-13 95-49 22 20 47 150-18-28 66-86-90-86 1-38-78 163-6 16 44-8-22-31 19 29-41-29 29 26 11 1-8 56 57 10 26-13-28-16-40 7 13-25 11 17 52-10-27-43 41 37 14 20 5 6-27-1 29-4 12-8 5-51-28-16 50-104-214 166 54-5 23-45 54 28-42 18-2 25 49-30-28-38-45 11-16-37 88-119 99 85-33-8 11 28-28 21 15 42 17 2-59-9 5-37 12-53-38-41 57-21-23-13-32 7 36 7-91-18 19 21-7 34-51-3-6-12 124 51 23-21-36-19-30 26-60-12 17 15-2-41 6 21 26-18 61 0-5-36-20 35-34-37 13 234-39 4 53-13-59 18 68-10-80-147-25-28-3 52 39-14-28 6-4-9-24-47 39 12-6-32 8 29 34 28 41 22-63 9 46 15-24 40 13 64-27-4 61 2-117-191 15 8-12 2 14 4 42-18 0-3 44 34-69-4-23 49 68 10-69 10 29-30-46 9-12-39 38-21-8-9 44-14 142 81-18 40-23 4 4-44-156 16-23-45 29 5 1-7-11 29 1-58-7-1 62 16 22 11 60 11-74 4 71-2 55-2-63-10 4-75-1 42 4-36 25 15-11 59 56 7-45-32 6 71 17-27-13-63 5-15-18 55 15 5-44 24-25 25 5 67-11-15-35-27 9-22 33-14 25 39-43 19-7 59 24-12 30 13-36-1-42 3-6 4-29-23 72 2-51-14-17-34 43 25-1-14 19 28 39-12 16-44-23-8-15 51 9 18-1-58 14 4-67 4 116-57 39 33 2-5-36-38-30 45-31-39-36-18-4-5 76-2 5 56 61-15-53-26 10-5-42-3-54-9-52 17-19 4-12 1 2 34 4-52-15 4 234 9-59 80-3 29-10-93 17 56 3-73-38 9" stroke="#FF0A1E" stroke-width="0.8" opacity="0.65" stroke-dasharray="2.5 1.5"/>
<g stroke-linecap="round" fill="none">
<path d="M166.2 81.4h0M23.7 155h0M94.6 81.2h0M87.8 102.5h0M143.1 373.1h0M15.4 250.1h0M50.9 332.1h0M33.6 128.5h0M162.9 362.5h0M84.9 340.2h0M270.1 143.2h0M31.4 165.1h0M172.3 366.3h0M79.7 353h0M5.9 252.2h0M103 337.8h0M204.6 369.7h0M198.5 68.6h0M238.2 86.1h0M33.4 125.6h0M20.4 185.1h0M251.2 310.2h0M126.6 357.6h0M87.5 85h0M254.7 94.6h0M151.2 67.9h0M4.2 180h0M281.3 252.1h0M165.6 73.6h0M51.9 135.2h0M311.9 155.8h0M312.8 186h0M165.9 352.7h0M214 365.1h0M229.6 329.9h0M221.3 75.8h0M277.7 137.6h0M18.2 267.3h0M69.2 338.1h0M247.2 315.9h0M283.1 275h0M21.7 268.9h0M211.6 72.3h0M125.6 77.8h0M143.2 369.4h0M107.4 354.2h0M293.9 243.9h0M298.2 178.9h0M222 343.7h0M230.5 77.6h0M6.3 223h0M8.3 239.8h0M251.8 128.6h0M286.1 152.4h0M50.8 305.2h0M43.1 140h0M33.3 283.2h0M25.8 163.2h0M320.7 218.6h0M311 187.4h0M64.7 329.4h0M265.8 324.1h0M31.8 288.3h0M269.9 294.2h0M15.1 181.7h0M169.3 346.7h0M256.3 101.7h0M134.1 362.7h0M311.5 200.9h0M8 246h0M190.7 76.7h0M6 204.2h0M27.1 153.4h0M132.9 370.7h0M254.9 116h0M93.3 360.6h0M234.1 333.2h0M295.8 292h0M216.7 363.7h0M145.5 367.9h0M187.4 72.5h0M198.8 69h0M187.6 76.1h0M103.6 104.5h0M33.5 297.3h0M119.8 342.9h0M310.8 185.7h0M260.8 93.2h0M277.4 133.1h0M269 153h0M185.6 71.5h0M40.1 151.6h0M111.3 87.3h0M288 288.1h0M197.3 95.5h0M218.9 79.7h0M37.7 154.9h0M46.7 146.6h0M246.4 350.6h0M210.7 97.5h0M211.8 337h0M267.5 109.5h0M31.1 295h0M126.5 345.8h0M200.8 349.1h0M319.8 180.5h0M298.8 156.6h0M311.3 226.8h0M1.8 232h0M154.4 349.5h0M97.3 350h0M18.4 171h0M277.1 115.9h0M86.8 352.2h0M89.8 344h0M149.8 369.2h0M10.9 200h0M304.4 286.6h0M26.4 265.4h0M256.5 93h0M99.6 107.5h0M284.1 146h0M258 113.4h0M112.4 355.6h0M63.2 319.1h0M30 289.1h0M65.8 317.1h0M66.1 348.9h0M307.9 241.9h0M241.7 83h0M148.1 368.1h0M211.4 352.4h0M259.4 323.5h0M16.9 225.3h0M15.8 250.2h0M227.6 88.8h0M57.8 118.1h0M114.4 357.5h0M292.1 182.6h0M89.3 114.5h0M298.6 208.1h0M277.1 309.2h0M104.9 100h0M270.3 305.3h0M158.1 353.6h0M17.3 287.9h0M156.8 375.7h0M262.4 307h0M217.2 337.9h0M172.5 74.3h0M135.2 94h0M282 173.7h0M215.5 79.3h0M110 78h0M88.3 95.5h0M110.6 97.7h0M274.8 283.5h0M221.1 331.3h0M288.8 201.9h0M312.8 235.3h0M119.7 368.3h0M203.3 370h0M49.1 302.5h0M106.5 101.8h0M262.2 106.2h0M175.9 360.3h0M154.2 352.1h0M45 145.3h0M22.3 287.7h0M277 159.3h0M20.5 237.2h0M280.2 254.5h0M108.2 362.8h0M289.8 226.2h0M304.4 159.2h0M113.5 101.6h0M294 142.1h0M18.1 145h0M62.4 119.1h0M42.7 153.2h0M192.8 361h0M264.8 138.4h0M275.8 148.9h0M14.1 160.8h0M148 81.7h0M229.6 357h0M279.8 150.2h0M277.1 126.6h0M159 365.7h0M17.9 154.2h0M278.5 304.7h0M164.9 366.7h0M89.4 100.9h0M32.6 294.8h0M83.2 82.9h0M10 234.7h0M214.9 360.7h0M270.5 311.9h0M254.2 298.5h0M82.6 346.9h0M168.3 68.9h0M245.1 89.8h0M253.6 330.9h0M238.2 99.9h0M189.7 90.4h0M170.7 351.5h0M227.3 349.9h0M43.4 134.7h0M244.3 343.5h0M130.5 95.8h0M3.5 194.3h0M208.7 357.6h0M112.5 77.4h0M137.7 372.7h0M52.3 136.4h0M83 358h0M10.5 276.6h0M176.9 73.7h0M219.9 332.1h0M33.4 308h0" stroke="#1E5A3E" stroke-width="1.5"/>
<path d="M105 106.4h0" stroke="#FA8C1E" stroke-width="2"/>
<path d="M57.5 139.7h0M74.9 125.8h0M63.8 311.5h0M133.2 95.1h0" stroke="#3C9D6C" stroke-width="2"/>
<path d="M262.1 285.1h0M104.5 336.7h0M273.8 166.7h0M275.5 261.1h0M256.7 294h0M21.5 209.4h0M249.8 301.8h0M227.7 321.3h0M189.9 341.7h0M283.7 212.8h0M49.1 149.2h0M282.6 203.5h0M283.9 226.9h0M239.6 313.1h0M278 252.6h0M260 289.7h0" stroke="#FA8C1E" stroke-width="2.5"/>
<path d="M22.4 229.3h0M56.2 302.9h0M169.4 92.1h0M198.5 115.1h0M283.1 223.5h0M31.7 267.5h0M116.9 100.9h0M164.9 91.2h0M52.3 145.9h0M190.5 94.6h0M89.5 116.1h0M21.9 221.1h0M33.5 271.3h0M27.6 181h0M212.1 331.1h0M214.8 127.6h0M48.4 293.5h0M180 342.2h0M275.9 171.3h0M181.9 93.8h0M239.3 120.4h0M219.5 107.1h0M264.8 150.3h0M271.8 268h0M81.4 121.4h0M222.6 326.3h0M29.5 259.5h0M20.3 226.4h0M91.7 329.2h0M126.3 98.4h0M93.6 114.5h0M245.1 124.6h0M23.8 241.6h0M235.3 117.6h0M280.7 242.3h0M144.6 92.8h0M43.5 156.3h0M62 136.4h0M60.6 307.9h0M225.1 108.7h0M98.9 110.6h0M267.6 276.3h0M176.3 92.9h0M24.5 189.6h0M26 252.8h0M112.7 338.2h0M214.8 102.8h0M39 281.4h0M279.6 248.3h0M198.5 143h0M83.4 325.8h0M275.1 256.5h0M37.7 165.2h0" stroke="#3C9D6C" stroke-width="2.5"/>
<defs><path id="n0_5" d="M102.2 266.1h0M24.5 206h0M202.5 100.2h0M183.8 98h0M47.4 288.2h0M184.8 104.4h0M75.9 318.1h0M274.2 175.6h0M26.5 247h0M190.4 108.1h0M175 133.2h0M195.8 170.1h0M168.1 96.5h0M254.7 141h0M192.6 337.8h0M220 139.1h0M219.8 149.5h0M218.6 114.4h0M166 146.9h0M165 344.3h0M225.2 138.1h0M84 322.1h0M193 161h0M235.9 132.6h0M278.8 238.6h0M268 159.9h0M236 139.7h0M42.9 280.2h0M167.5 168.5h0M47 154.1h0M167.9 195.5h0M178.5 147.3h0M275.7 180.6h0M193.9 99.1h0M278.5 193.2h0M214.5 119.2h0M35.8 168.7h0M31.7 178.4h0M194.5 199.5h0M209.9 164.2h0M25.6 193.9h0M251.5 134.4h0M175.5 141h0M174.6 170.3h0M135.5 342.2h0M247.1 130.3h0M208 117.5h0M190.9 121.1h0M189.9 145.4h0M140.6 95.4h0M30.2 184.3h0M189.1 101.4h0M199.6 210.7h0M87.6 325.2h0M195.6 138.3h0M104.9 332.7h0M199.3 234.7h0M182.7 177.8h0M109 334.9h0M80.1 320.2h0M230.4 124.3h0M227.7 115.1h0M102.6 110.1h0M67.7 310.4h0"/></defs>
<use href="#n0_5" stroke="#1E5A3E" stroke-width="3.5"/>
<use href="#n0_5" stroke="#3C9D6C" stroke-width="2.5"/>
<defs><path id="n0_6" d="M268.3 235.2h0M218.9 126.8h0M204 333.1h0M271.6 264.1h0M151.9 94.9h0M173.2 343.3h0M144.2 344.2h0M204.6 112.3h0M54.1 296.8h0M216.2 153.2h0M33.5 262.8h0M276.8 185.2h0M38.1 276.1h0M212.4 183.4h0M243.4 305.2h0M161.8 94.5h0M173.1 147.5h0M205.7 180.8h0"/></defs>
<use href="#n0_6" stroke="#90500F" stroke-width="3.5"/>
<use href="#n0_6" stroke="#FA8C1E" stroke-width="2.5"/>
<defs><path id="n0_7" d="M47 272.3h0M176.1 97.1h0M175.5 212.7h0M212.2 157.8h0M221 163.3h0M175.4 228.3h0M120.2 313.9h0M225.7 133h0M188.2 191.1h0M156.5 111.2h0M206.8 143.3h0M166.2 211.3h0M44.1 161.9h0M187.3 163.6h0M128.9 330.6h0M152 341.4h0M185.1 148.9h0M164.2 99.5h0M210.3 148.7h0M35.8 173.6h0M192.3 150.1h0M121.9 104.7h0M267.2 267.2h0M198.5 126.4h0M266.2 191.8h0M145.7 246.6h0M25.5 224.6h0M182 134.4h0M25.8 216.1h0M216.4 243h0M271 170.5h0M241.6 134.5h0M273.7 188.9h0M162.1 187.3h0M203.7 235.2h0M151.2 122h0M244.7 186.7h0M195.8 108.9h0M29.1 189.1h0M171.6 162.3h0M231.1 117.8h0M197.9 332.6h0M241.7 127.7h0M221.1 196.9h0M176.8 192.6h0M229.9 128.6h0M197.3 222.8h0M118.7 336.6h0M46 171.7h0M161.2 220h0M216.3 162.6h0M234.1 169.7h0M50.3 260.9h0M66.2 305.2h0M36.9 266.7h0M253.4 149.1h0M165.9 140.7h0M98.3 329.1h0M235.7 245.4h0M208.5 328.3h0M137.5 264.3h0M172.8 195.4h0M27.6 235h0M107.2 304.7h0M171.2 99.7h0M235.8 150.6h0M181.3 143.6h0M256.2 288.3h0"/></defs>
<use href="#n0_7" stroke="#1E5A3E" stroke-width="4"/>
<use href="#n0_7" stroke="#3C9D6C" stroke-width="3"/>
<defs><path id="n0_8" d="M225.6 230.9h0M238.6 306.9h0M72.8 313.3h0M138 337.8h0M147.4 227.3h0M261.6 280.1h0M257.9 284.2h0M255.8 157.9h0M278.6 213.7h0M214.9 143.5h0M108.7 318.9h0M183.6 183.7h0M225.1 317.5h0M180.6 202.2h0M131.8 117.7h0M217.8 249.5h0M150.6 318.5h0M180.7 302.2h0M198.7 104.9h0M32.9 238.5h0M166.4 221.4h0M219.8 322.9h0M60.9 302.7h0M109.2 309.1h0M277 207.9h0M192.6 117.1h0M204.4 225.8h0"/></defs>
<use href="#n0_8" stroke="#90500F" stroke-width="4"/>
<use href="#n0_8" stroke="#FA8C1E" stroke-width="3"/>
<defs><path id="n0_9" d="M252.5 190.5h0M204.3 306.8h0M266.7 203.4h0M160.1 313.3h0M106.5 285.2h0M152.3 325.2h0M131.6 266.3h0M167.2 338.6h0M123.5 323.8h0M111.7 286.6h0M182.5 210.2h0M190.7 234.5h0M84.9 271h0M92.3 323.1h0M190.9 212.8h0M225 312.3h0M230.6 244.3h0M145.4 99.8h0M265 230.8h0M212.2 109.9h0M233.8 146h0M77.1 292.2h0M223.8 242.9h0M257 177.2h0M174.1 335.4h0M260.6 184.3h0M249.7 291.1h0M175.4 316.8h0M210.2 323.8h0M197.8 255.9h0M228.2 177.9h0M211.7 114.8h0M276 202.3h0M181.4 119.1h0"/></defs>
<use href="#n0_9" stroke="#90500F" stroke-width="4.5"/>
<use href="#n0_9" stroke="#FA8C1E" stroke-width="3.5"/>
<defs><path id="n0_10" d="M184.9 171.9h0M166.9 184.3h0M170.4 172.3h0M156.1 328.8h0M47.2 236.6h0M155.3 273h0M171 200.2h0M173.7 107.1h0M81.9 315.6h0M259.4 197.2h0M169.7 266.6h0M181.3 125.8h0M143.1 334.3h0M217.3 201.3h0M235 303.8h0M247.6 138.9h0M227.3 273.9h0M33 193.7h0M139.6 100.4h0M139.8 164.8h0M218.4 122.2h0M179.6 107.1h0M200.4 218.6h0M71.2 279.1h0M97.2 118.2h0M196.7 180.9h0M170.3 239.2h0M200.1 186.5h0M140.1 319.1h0M261.9 156.8h0M136.3 224.8h0M107.5 268.4h0M170.6 191.2h0M181.1 233.6h0M202.5 328.3h0M179.5 187.3h0M200.9 191.8h0M277.1 218.9h0M146.8 193.6h0M95.5 306.4h0M217.9 216.7h0M142.8 215.9h0M247.1 160.6h0M197.9 323.8h0M152.8 264.4h0M188.3 127.8h0M155.3 237.8h0M232.8 311.2h0M145.1 155.9h0M124.2 171.8h0M197.2 248.4h0M171.2 113h0M146.8 240.4h0M204.8 128.8h0M151.6 107.7h0M205.9 198.1h0M224.8 121.7h0M166 202.7h0M191.4 132h0M112 279.7h0M184.1 245.8h0M240.8 274.7h0M90.4 270.8h0M30.4 244.3h0M186.4 334.3h0M135 320.7h0M251.7 180.8h0M50.2 242.3h0M76.9 252.7h0M181.9 193.4h0M208.1 138.2h0M258.4 152.1h0"/></defs>
<use href="#n0_10" stroke="#1E5A3E" stroke-width="4.5"/>
<use href="#n0_10" stroke="#3C9D6C" stroke-width="3.5"/>
<defs><path id="n0_11" d="M244.8 296.1h0M146.1 321.5h0M101.1 312h0M196.7 229h0M136.2 206.3h0M114.6 295.3h0M213.8 192.1h0M218.9 315.5h0M144.1 188.5h0M200.2 151.8h0M209.4 132.7h0M244.2 198.3h0M204.1 107h0M116.5 263.2h0M222 211.5h0M158.6 158.8h0M176.5 123h0M131.2 336h0M29.9 212.4h0M162.2 276.9h0M100.1 125.1h0M175.2 205.9h0M103.8 327.1h0M163.1 320.2h0M180.7 162.3h0M105 238.3h0M151.7 198.2h0M130.8 172.4h0M126.3 311h0M155.3 180.5h0M188.8 158.4h0M155.3 206h0M128.2 195h0M163.8 252h0M207.1 191.7h0M117 325.7h0M253.3 269.6h0M170.5 127.1h0M90.1 315.6h0M146.6 175.3h0M126.1 267.1h0M172.5 178.7h0M162 154.1h0M188.6 275.7h0M40.1 220.1h0M239.2 165.8h0M116.4 199.5h0M206.5 216.3h0M96.9 286.5h0M191.4 203.4h0M157.9 147.2h0M185 226.3h0M156.9 99.7h0M267.9 258.1h0M199.7 265.9h0M181.6 153.5h0M125.7 210.4h0M225.5 171h0M103.8 321.7h0M226.8 148.5h0"/></defs>
<use href="#n0_11" stroke="#1E5A3E" stroke-width="5"/>
<use href="#n0_11" stroke="#3C9D6C" stroke-width="4"/>
<defs><path id="n0_12" d="M143.8 306.3h0M244.5 249.5h0M240.7 246.5h0M161.2 331.7h0M234.9 182.9h0M107.3 209.5h0M224.3 143h0M152.4 187.8h0M127.8 317.6h0M223.9 292.9h0M187.5 140h0M205.6 266.2h0M214.1 170.7h0M206 174.8h0M33.9 249.9h0M151.2 333h0M231.4 231h0M225.9 300h0M194.4 186.8h0M156.5 122.4h0M156.1 338.2h0M216.3 227.7h0M216.4 307.3h0M245.6 282.1h0"/></defs>
<use href="#n0_12" stroke="#90500F" stroke-width="5"/>
<use href="#n0_12" stroke="#FA8C1E" stroke-width="4"/>
<defs><path id="n0_13" d="M160.4 138.5h0M231.2 237.4h0M65 279.9h0M155.2 250.8h0M176.3 272.2h0M243.2 143.7h0M202.8 276.7h0M195.1 193.9h0M72.5 287h0M204.1 245.4h0M128.4 202.9h0M117.1 233.8h0M158.4 194.1h0M150.7 158.1h0M179.6 332.6h0M99.6 246.1h0M110.5 299.8h0M78.7 301.5h0M186.2 112.4h0M165.7 130.7h0M122.5 197.9h0M66.8 240.1h0M195.2 208.1h0M226 222.9h0M187.4 217.3h0M233.6 156.9h0M129.8 164.1h0M110.2 324.5h0M161.4 299h0M211.9 257.7h0M270.4 195.5h0"/></defs>
<use href="#n0_13" stroke="#1E5A3E" stroke-width="5.5"/>
<use href="#n0_13" stroke="#3C9D6C" stroke-width="4.5"/>
<defs><path id="n0_14" d="M206 286.2h0M234.2 195.8h0M169.3 314.9h0M191.3 330.8h0M104.5 275h0M191 250.5h0M74.2 297.2h0M143.4 293.6h0M210.4 220.6h0M177.8 221.4h0M119 305.9h0M136.1 329.1h0M246.9 175.3h0"/></defs>
<use href="#n0_14" stroke="#90500F" stroke-width="5.5"/>
<use href="#n0_14" stroke="#FA8C1E" stroke-width="4.5"/>
<defs><path id="n0_15" d="M175.3 293.6h0M168.2 308.7h0M159 266.4h0M148.4 218h0M113.9 317.1h0M270.7 183.6h0M49.4 280.6h0M156.4 317.8h0M257.3 167.2h0M211.3 231.4h0M207.1 239.7h0M172.1 277.1h0M227.3 184.2h0M36.1 215.1h0M146.4 200.4h0"/></defs>
<use href="#n0_15" stroke="#90500F" stroke-width="6"/>
<use href="#n0_15" stroke="#FA8C1E" stroke-width="5"/>
<defs><path id="n0_16" d="M155.6 308.8h0M193.3 267.9h0M270.6 209.6h0M247.9 217.9h0M163.3 105.9h0M165.2 178.3h0M164.1 244.2h0M146 163.5h0M191.4 261.9h0M156.2 167.1h0M164.9 230.4h0M148.9 234.8h0M220.5 237.3h0M197.1 240.9h0M123.9 252.5h0M226.1 249.3h0M32 224.8h0M36.9 200.7h0M172 233.5h0M181.6 252.8h0M158.3 173.8h0M241.6 260.2h0M114.8 215.7h0M156.3 215.9h0M264.9 249.5h0"/></defs>
<use href="#n0_16" stroke="#1E5A3E" stroke-width="6"/>
<use href="#n0_16" stroke="#3C9D6C" stroke-width="5"/>
<defs><path id="n0_17" d="M123 144.1h0M137.9 194.2h0M239.6 284.9h0M272.6 242.4h0M156 224h0M121 165.6h0M145.3 261.8h0M174.9 254.6h0M255.6 236.4h0M113 239.3h0M174.7 325.6h0M167.6 326.8h0M40 209.2h0M193.8 315.6h0M151.2 244.5h0M142.9 252.6h0M86.9 308h0M176.4 246.9h0M184.7 261.3h0M247.3 208.4h0M58.5 252.5h0M76 270.4h0M39.1 185.8h0M169.1 259.8h0M90.4 281.5h0"/></defs>
<use href="#n0_17" stroke="#1E5A3E" stroke-width="6.5"/>
<use href="#n0_17" stroke="#3C9D6C" stroke-width="5.5"/>
<defs><path id="n0_18" d="M137.2 278.6h0M193.8 279.3h0M246.2 238.8h0M242.6 267.5h0M264.4 242.7h0M239.8 241.4h0M233.3 190.5h0M227.4 205.1h0M250.5 199.9h0M204.1 258.1h0M164.4 293.3h0M186.2 321.1h0M156.1 258.3h0M231.7 262.1h0M141.3 287.1h0M260.8 270.1h0M215 277.2h0M255.5 205.9h0M72.1 305.1h0"/></defs>
<use href="#n0_18" stroke="#90500F" stroke-width="6.5"/>
<use href="#n0_18" stroke="#FA8C1E" stroke-width="5.5"/>
<defs><path id="n0_19" d="M119.8 279.9h0M120.1 206.9h0M122.1 260.1h0M180.9 291.6h0M205.5 299.1h0M248.7 274.5h0M156.9 285.9h0M230.3 216.5h0M126 180.6h0M118.5 221.9h0M142.3 181.3h0M139.4 173.4h0M118.3 156.8h0M126.7 226.3h0M118.5 175.3h0M144.8 209.4h0M47.8 206.7h0M75.5 261.5h0"/></defs>
<use href="#n0_19" stroke="#1E5A3E" stroke-width="7"/>
<use href="#n0_19" stroke="#3C9D6C" stroke-width="6"/>
<defs><path id="n0_20" d="M177 308.5h0M184.7 311.3h0M215.2 300.4h0M240.7 157.9h0M249.9 262.7h0M265.3 178.6h0M265.6 166.8h0M38.9 234.2h0M67.8 270.3h0M57.6 292.1h0M130.8 216.6h0"/></defs>
<use href="#n0_20" stroke="#90500F" stroke-width="7"/>
<use href="#n0_20" stroke="#FA8C1E" stroke-width="6"/>
<defs><path id="n0_21" d="M139.4 136.5h0M138.5 109.6h0M135 247.3h0M115.1 253.8h0M196.7 306.6h0M199.5 287h0M219.5 182h0M261.1 219.1h0M57.9 267.8h0M64.4 296h0M45.1 266.1h0"/></defs>
<use href="#n0_21" stroke="#1E5A3E" stroke-width="7.5"/>
<use href="#n0_21" stroke="#3C9D6C" stroke-width="6.5"/>
<defs><path id="n0_22" d="M130.5 106.7h0M170.9 303.6h0M132.6 306.6h0M152.2 297.7h0M148.7 282.2h0M223.3 259.9h0M247.4 226h0M229.3 283.6h0M268.3 217.9h0M237.6 220.6h0M57.2 278.9h0M57.2 261.3h0M59 237.1h0M94.2 240.9h0"/></defs>
<use href="#n0_22" stroke="#90500F" stroke-width="7.5"/>
<use href="#n0_22" stroke="#FA8C1E" stroke-width="6.5"/>
<defs><path id="n0_23" d="M76.5 204.6h0M117.6 118.9h0M151 130.5h0M97.4 278h0M108.2 256.3h0M195.6 296.6h0M255.5 215.5h0M41.5 227.5h0"/></defs>
<use href="#n0_23" stroke="#1E5A3E" stroke-width="8"/>
<use href="#n0_23" stroke="#3C9D6C" stroke-width="7"/>
<defs><path id="n0_24" d="M206 314.6h0M134.4 313.2h0M120.2 287.8h0M135.5 297.6h0M215.7 293.5h0M190 302.6h0M214.6 268.4h0M254.6 277.4h0M257.7 227.1h0M235.3 204.4h0M274.9 228.3h0M236.9 176.1h0"/></defs>
<use href="#n0_24" stroke="#90500F" stroke-width="8"/>
<use href="#n0_24" stroke="#FA8C1E" stroke-width="7"/>
<defs><path id="n0_25" d="M71.5 161h0M84.8 180.1h0M92.8 219.1h0M143.9 124.5h0M137.1 144h0M112 111.8h0M121.1 127.4h0M138 156.5h0M127.7 124.2h0M134.5 255.7h0M137.6 237.1h0M167 284h0M50.3 251.3h0"/></defs>
<use href="#n0_25" stroke="#1E5A3E" stroke-width="8.4"/>
<use href="#n0_25" stroke="#3C9D6C" stroke-width="7.5"/>
<defs><path id="n0_26" d="M147 270.5h0M124.8 299.4h0M128.5 286.6h0M64.4 287.8h0M251.9 254.1h0M234.8 279h0M235.9 254.7h0M228.1 194.3h0M239.4 229.2h0M59 244.2h0M42.6 245h0"/></defs>
<use href="#n0_26" stroke="#90500F" stroke-width="8.4"/>
<use href="#n0_26" stroke="#FA8C1E" stroke-width="7.5"/>
<defs><path id="n0_27" d="M51 166.4h0M148.4 115.1h0M164.1 119.2h0M115.4 139.4h0M123.9 113.1h0M128.8 139.1h0M139.3 117h0M110.7 225.7h0M115.3 270.7h0M102.6 295.8h0M181.2 278.5h0"/></defs>
<use href="#n0_27" stroke="#1E5A3E" stroke-width="8.9"/>
<use href="#n0_27" stroke="#3C9D6C" stroke-width="8.1"/>
<defs><path id="n0_28" d="M234.4 291.6h0"/></defs>
<use href="#n0_28" stroke="#90500F" stroke-width="8.9"/>
<use href="#n0_28" stroke="#FA8C1E" stroke-width="8.1"/>
<defs><path id="n0_29" d="M112.2 148.1h0M46.5 180.4h0M58.3 194.6h0M54.3 154.4h0M107.7 199h0M55.6 210.9h0M72.3 246.5h0M112.8 128.8h0M100.5 254.9h0M123.1 242.2h0M209.6 208.2h0M42.3 255.5h0"/></defs>
<use href="#n0_29" stroke="#1E5A3E" stroke-width="9.4"/>
<use href="#n0_29" stroke="#3C9D6C" stroke-width="8.6"/>
<defs><path id="n0_30" d="M47.8 196.8h0M108.5 160.3h0M125.7 152h0M79.7 279h0M66.3 260.2h0"/></defs>
<use href="#n0_30" stroke="#90500F" stroke-width="9.4"/>
<use href="#n0_30" stroke="#FA8C1E" stroke-width="8.6"/>
<defs><path id="n0_31" d="M110.7 168.1h0M117 188.1h0M82.6 143h0M103.7 188h0M105.4 134.6h0M69.6 138.5h0M93.5 131.7h0M55.9 182.9h0M77 216.6h0M84.1 129h0M62.4 230.2h0M53.2 231.2h0M136.1 127h0M127.9 276h0M94.7 263.3h0M86.4 247.4h0M188.3 288.4h0"/></defs>
<use href="#n0_31" stroke="#1E5A3E" stroke-width="9.9"/>
<use href="#n0_31" stroke="#3C9D6C" stroke-width="9.1"/>
<defs><path id="n0_32" d="M67.7 207.3h0M259.5 259.4h0"/></defs>
<use href="#n0_32" stroke="#90500F" stroke-width="9.9"/>
<use href="#n0_32" stroke="#FA8C1E" stroke-width="9.1"/>
<defs><path id="n0_33" d="M109.9 180.7h0M97.3 166.9h0M63.6 156.6h0M78.5 136h0M62.5 176h0M85.4 210.4h0M83.8 222h0M64 186.8h0M73.9 145.2h0M98.5 200.7h0M108 119.7h0M52.5 221.3h0"/></defs>
<use href="#n0_33" stroke="#1E5A3E" stroke-width="10.4"/>
<use href="#n0_33" stroke="#3C9D6C" stroke-width="9.6"/>
<defs><path id="n0_34" d="M100.3 178.9h0M79.2 186.1h0M73.8 195.8h0M91.8 140.7h0M90.6 123.4h0M94 210.1h0M61 146.3h0M75.8 153.6h0M102.8 142.3h0M60.8 218.3h0M79.2 240.6h0M86.6 259.1h0"/></defs>
<use href="#n0_34" stroke="#1E5A3E" stroke-width="10.9"/>
<use href="#n0_34" stroke="#3C9D6C" stroke-width="10.1"/>
<defs><path id="n0_35" d="M87.6 232.8h0M88.6 293.2h0"/></defs>
<use href="#n0_35" stroke="#90500F" stroke-width="10.9"/>
<use href="#n0_35" stroke="#FA8C1E" stroke-width="10.1"/>
<defs><path id="n0_36" d="M76.2 168.2h0M85.3 195.2h0M96.5 230.2h0M60.8 166.6h0M71.5 231.2h0"/></defs>
<use href="#n0_36" stroke="#1E5A3E" stroke-width="11.4"/>
<use href="#n0_36" stroke="#3C9D6C" stroke-width="10.6"/>
<defs><path id="n0_37" d="M70.3 221.5h0"/></defs>
<use href="#n0_37" stroke="#90500F" stroke-width="11.4"/>
<use href="#n0_37" stroke="#FA8C1E" stroke-width="10.6"/>
<defs><path id="n0_38" d="M102.2 220.2h0M93.2 185.2h0M88.1 172.5h0M98.9 152.9h0"/></defs>
<use href="#n0_38" stroke="#1E5A3E" stroke-width="11.9"/>
<use href="#n0_38" stroke="#3C9D6C" stroke-width="11.1"/>
<defs><path id="n0_39" d="M72.6 178.7h0M87.2 156.1h0"/></defs>
<use href="#n0_39" stroke="#1E5A3E" stroke-width="12.9"/>
<use href="#n0_39" stroke="#3C9D6C" stroke-width="12.1"/>
</g>
</g>
<g fill="none">
<defs><radialGradient id="g1h" cx="490" cy="220" r="162" gradientUnits="userSpaceOnUse"><stop offset="0.75" stop-color="#A060D0" stop-opacity="0.45"/><stop offset="0.9" stop-color="#C090E0" stop-opacity="0.24750000000000003"/><stop offset="1" stop-color="#E0C8F0" stop-opacity="0"/></radialGradient></defs>
<path d="M654 220L652 236L649 253L644 269L637 285L629 299L619 313L608 325L596 337L583 347L570 357L555 364L540 371L524 376L507 380L491 381L473 381L457 379L440 375L424 370L408 362L394 353L381 342L369 329L358 316L349 301L342 285L337 269L333 253L331 236L330 220L331 203L334 186L338 170L344 154L352 139L361 125L371 112L383 100L396 89L410 80L425 72L441 66L457 62L474 59L490 59L507 59L524 62L540 66L556 72L571 79L586 88L599 99L612 110L623 123L632 138L640 153L646 169L651 185L653 202Z" fill="url(#g1h)"/>
<path d="M402 319l12 18-41-16 26 11-41-77 3 15 5 48 55 14 16 16-15 10-47-63-37-51 22 2-16-24 289-56 2 79-42 77-14 25 49-51 10-86-16-37 1-18-14-9 19 62 11 33 6-9-7-44 7 18-18 24 6 0-3-24 9 49-10 7-34 37 3 5-26 30-38 11 5 13-7-8-25 1 57-23 34-23 11-7-32 40 28-30-31 19-11 1 30-20-26 50-17-22-61 29-108-26 2-6-31-39-1 6 42 31-36-25 0-79-18-10 12-29 7 14-15 36 9 9-6 19 15 19 30 47-18-1 14-30-24-22-13-12-1-26 11 3-3-16 6 28-7-94 13-1 47-59 29-1-16-1 16-7 21 3-1 1-13 3 29-32 16 16-44-8 41 13-37-11-25 27-15 11 19-25-49 24 48-29 23 9-35 17-45 5 45 0 33-22 0-8 5 10 19-6-28-9-55 43 6 10-18-23-17 11 29 14 13-6 31-22-12-17 3 2-55 49-1-36-32 54 15-15-6 16 47-34 63-31-8 5-85 63 18-39-9 20-14 12-22 33-4-2 13-36 4 77-18 12 14 5 4-30-6-31 13-16 10-57 37 2-30 34 51-57-22 33-16 16-2-2-36 16 26-4 176 186-28 10-59 17-47-2-5-23-4-9 0 6-27-31 12 21-17-32 1 8-30-85 17 57 12 48 11 11 42 7-77-173 25-33 39-14 13-14-8 1-9 7-31-15 7 41-16 0 12-45 40-6 6 25-18 13-18-21 86-18 7-3 7 3 19-18-5 11 24-12 30 24-53-8 55 2-28-2-7 7-69 2 5-15-12-17 25 25 51 5 87 171 10-35-17-98-9 14 22 2-21-5 10 22-20-49 6 26 18 27-4-8-2-40 17 40-8 28 2 1 0 10-20-67 3 9-30-52 0 30 45 10-40-37 23 44-2 6 17 28 4 34-6-47 2 19 2-1-21-64 6 33-34-41 7 17-6-4-146 3-25-14-50 55-7 23 41-48-13 22 8-44-9 27-3-15 45-6 58-30 89-12-43 10 4-7-10-4-26 8 6 4 10-4 3 6 7-17-2 5-6-15-1 22 62 20-21-25-36-7-1 12-23 3-15-18 10 9 1 13-3-15-24 21-14 13 15-10 14-28-84 56 31-18 21-8 51-15 65 14 18 12-17-31-66-14-12 23-34 17-31 0-60 37 32-4 5-45 11 26 23-4 82-32-43-25 35 6 25 14 31 20-4-5 47 27-7-22-17 12 36 24 25 33-274 134-12-8 52 18-4-3 2 17-36-76-7 11-12 8 5-57 5-25 12-15-17 48 10 7 4 27-15 31 40 21-44-61 91-140-78 29 56-27 18 9 31-33 55-4-47-9-43 48-31-6 29-38-33 29-34 43 34-9 32-39-29 37 38-28-7 14 17-36 21-15 48-8 16 27-30 283 21-16 4 2-43-7-43 17-23-258-43 20 38-2-8-16-6 26 44-38-20 25 85-44-1 1 8 5 27 0-5-8-39-6 7 7 25 0 53 251 16-29 6 18-27 19-48 23-18 12 8-18-174-164 19-21 29-49-25 53-9 19 13-30-6 5-11 0-13 50 29-52-2-11-14-13 5 81-18-44 17 38 18-62-16-2 1 38 16-39-35 24 23 4-11 17 8-44-3 27-11 3 9-6 67-62-1-22-27 23-9-9 46-37 8 18 189 161-14 23-21 31-1 7 25-36 12-17 5-10-11-3 14 38-17 3 9-61 12-69-21 9 33 29-12-30-11 45-9-38-50-64-20-10-62-10 9-20 5 17-4-18-38 25-4 6 56-24-21 13-4-24 30 15-36 9 32-1 16-5 49 23-60-32 27 7-4 15 73 20-21-4-59-17-15-15-12 287 15-19-6 2-49 2 42 5-31 1 148-177 17 27 5-10-14-37-16-30-27-30-73-11 26 7 78 28 10 53 6 39-5 32-10 14 8-24 2-42 5 29 13 0-14 8 8 4-21 58-25-157 37 56-6-32 6-11-45-32 26 45 20 76-8-1 4 37-23 7-10 13 26-8 13-53 8 22-23-13-2 37-34 38 35-21-22-6-6 28 8-30-20 21 15-4 6-20-46 49 18-18 38-21-51 41-21 23-25-7-27-1-5-1-26-3-22-1 13 26-37-18 26 5-30-20 24 1-25 3-2-24-3-5-18-12-3 22 54 28 8 9 10-15-69-41-28-22 8 31 45 12-24 16 22-23-44-33 16 18 15 36 15 16 16-23-34-10 2-8-23-32-3-7-8-18-19-12-2-33 21-49 6-32-22 147 16-25-24-21 6-14 12-3 9-40-1-26-10 31-6-24 31-6 20-32 21-25 46-12-49 29-30 35-41 39-5 30 26-40 13-25-17 5-4 28 4-1-13-9 9 37-2 0 22-56-19 39-18 26 5 33 12-37 0 8 7 44 34 43 8 13-13-18-21-2 23 5 69 40-32 6 13-9 56 24-58-1 36 1 0-2 23-2-30-3-32-22-24 4 4 13-44-60 32 28-45-14 16-20-16-5 0 33 37 15 232-125-5-21 5 17-6-11 12-30-20-11 6 5 6 39 3 53-21 57 33-50-1-6-24 20 9-24-2-27-3-38 14 19-1 36-7 16 14 0-18-6-26 63-23 5 12 22 12-26 8-24-94 66-85 14-2-33 146-6-2-3-26 40 42-46 3-18-3 5-3 23 11-23 40-50 14-59-16 68-24 19-44 46 12-14 17 11-13-2-35 25 41-20-15 18-17 0-42 9-38-269-20 11 21-9 24-31 4 17-35-7-6 9 21-21-4 32 41-17 40 31 0-5-31-21 56 46 40 96 0-9 11 4 2-28-11 66-23 39-20 31-76 47 4 0 29-6-48-13-41 18 46 3 10-20-47 8 20-5-18-4-19-5-42-19 25 10-15 23 41-5 2-6-21-4 43 15-30-2-8-257 64-28 28 4 12-9 9 8-34-6 2 20 77 31 7-1 19 57 13-2-17-45-3 26 16 67 0-18 0-24-37-65-9 5 6 5-34-40-44-10 36 7 14 20-38-13 3-1-32-24 26 11 14-5 53 50-47-26 36 6-223 97-26 22 30-38-2 9 37-57-7-4 15 1 23-12-3 2 8-52 23 29-35 20-27 18-37 2-10 12 10 30 4 1 9-20 40-32 14-16-57 39-31 38 33-43 12-31-31 69 7 40 4-89 52-13 25-28 63-36-15 21-3-8 5 11-1-16-37 12-48 10 52 3 28-3 84 18 37 15 48 103-50 65-19 36-43 25-16-5 14-4-13 3 7-2-7 4-41 18 15-13-51 7 5-2 22 2 32 1 31-18-23 30-12-11-3 15 1-25 28 6 16 8 26-24 29-8-32 21-50 1 13-9-47 7 11 21-87-53 37 21-60-7-26-32 10-33-19 23 35 12-32-27 91 65 28 18 44-2-15 10-41-3-9 7-49-23 0-18 20 2-38-30-6-4-7-27-23-38 2-31 0 19 6-47-17 7 36-27 56-76-2 20 2 12-15-30 55 3 27-4-61-13 79 7 18 14-7 2 0-19-3-2 7 13-31-19-20-4-31 17 28 9-15-13-33 43-14-13-2 8-19 14 33-6-36 14-12 5 46-27 9-36 8 21-26-6-1-10-38 72-17 22 17-25 25-15-37 44-12-19 35-18 28-20-1 7 5-6-31 9 9-10-3-1-3 9 29-15 52-29 46 1-13 2 45 0 45 26-25-5 15 0 33 47 15 12-5 70 4-8 13 10-20-47 25-1-7-21 2 24-30-40-3-10 6 16 35 49-37-53 14-1 20 38-27-12 1-16 21 89-14 14 11-33-11-9-66 103 5 23 10-26 49-69-18 26 28-90-13-14-18-50 2-8 2 33 23 10-50-65-23-4-14 1 25 11 62 78-5-16 2 20-9 77 4-31-185-127-45-18-17 59-22 25-13-22 79-39-24 22-42 102-10 10 11-11-20 21 20-114-21 118-5-30 24 3 5-54-11 36 6-1-1 46-18-28 15 0-8-15-3-59 37-20 2 1-32 18-11 51 5 61 2-4 6-3 17 19 7-1 121 76-5 8-8-15 8 7-62-15 86 7 1-2 35 1 31-9-32-5 30-21 40-50 9-62-15-71-41-30 28 27-30-20-28-34 35 36-7-20 15 21 13 21-16-12 32 20-45-48 26 4-45 3 32 21 45 109 3-9 0 15-3-28-13-60 10 48 3-11-2-23 13 26-11 20 8 18 12-2-17-51 3 23 4-43-11 57 13 10-276-98-8 26-8 45-17 26 28 25-12-11-3 4 13-32 10 64-18-7 32 31 46 47 48 25-8-14 7 28 40-12-41-15 11 0-66-9 11 12 61 1-73-12 30 19-13-16-23-19-45-60 9 19-21-15 12 10 24 56 43 15 31 3 20-4 22 7 7-9 11 13 15-18 10 14 32-23-9-1 18-18-40 22 39-20-26 27 28-35-31 20 28-23 5 30 1-28-10 3-9 20 0 12 26-55 29 4-14-29-30 44-11 24-37 14 46-26-26 15 18-7-54 41 1-23-50 6 16 11-26 12 24-12 107-60-142-232-2 30-76 50-7 19-8-25 31-2 18-12-27-10 16-7-29 5-22 52 23-8-19-10 46-44 42-12-14 25 3-6-5 5-16 4-5 6 24-58 61 15-32 4 49-5 49 7-18-9-45 3 32-5-28 5 66 11-22-11-60 1 17-4 76 9 20 29-6-13 8 11 2-5 33 82-25 120-28 0-5 15-21 5 48-21 0 2-50 21 78-81-2 25-43 30 14 19 2-19 5 11-49 38-42 5-20-281-7-12-25 24-12 9-21-14-11 0 11 9 30-39 12 23-75 217-13-4-24-4 76 41-21-14 24 14-29 12 19 8 0-25 9 30-25-6-1-15-24-43" stroke="#4A30F0" stroke-width="0.5" opacity="0.7"/>
<path d="M633 164l12 46-12 33 15-14-34 52 21 5-23-3-8 5-1 0 19-42 16-37 1-4-14-22 1 1 0 16 13 45-27 28 26-50-41 74 43-72-7-13-8 37 10-15-6 9 9 0-5-11-49 87-7 33-24-17 7 5-20 0 31-9-9 22-44-265 55 19-31-10 11-4 35 6-3 22 13-22 22 28-28-22 4 16 43 83-9-67-24-16-2 0-10-19-6 3 4 13 2-11-12 13 36 48 14 86-25 31-26 28-4 20 27-23 17-30-13 10-8 7 3 14-20 25 21-7 31-55-24 32-23 9-7 22-38 20-65 13 40-21 53-12-32 6-62-264-23 10-66 7 12 37 21-18-60 47 23-19-11 18 9-13-29 9-21 69 26 14-5 0-4-7-16 11 15 9 14 61-23-46 21-6-9 39-8-49 14-28 1 5-18-2 30 64 6-5 23 65-52-60 18-15 49 55 10 9 2 7 0-5-1 13-27-3-3-35-53-39 4-7 12-22 8 54-3-49-19-42 13 11-3 69 61 50-6 3 66 20-59-29 45 39-21-33-56-2 3-37-35-27 9-4-23-55 3 20-1 23 13-7 4 20 0-70-19-19 20 19-7-40 2 28 22-33-15 7-3 9 16-29-17 22 14-30-20 52 26-49-19 19 10 3-9 36-6 51 11 8 12 54-5 6 54 27 34 8 4 18 15-18-2 14-33-23 70-265 18 15-50-18-42 26 31-6-80 46 33-17 96-41 6-2-2 7-10-18 35 27 2-4 6 9-16-10 9-15-49 2 35-5-40-11-17 28 88-6-30 9-12-13 36 7 11-4-6 24-207 178 16 21-12-31 33 36 1-1-2 28 8-16 58 40-6-13-33-14-68-64 15-3-3-10-28-11 21-17-3-15 3-5 14 74-19 1 3-45-7-49 9-45-2 52 25-48-26 38-15 9 18 21 90-144-5 35 87-21-61-3-15-1-57 11 35 21 140-5 16 11-16-41-23-5 15 2 25 24 12 4-33-15 49 52-61-42 19-17-27 9-16-1-66 2-18-22-17 45 6-46-37 44 11 12 11-37 36-17-21 3-10 43 32-31-2-14-15 31-30 12 12-5 67-24-61-10 43 10-9 9 16-7 5-2 54 1 43 24-13-15-48-11 21-20-23 20 30 8 14 5 47 50 37 60-298 48 1-32 7 12-8-19 3-39-1 3-10 16 5-38 14 5-4-27 89 207 4 1 20 16-50-34-23-206-25 6 25 7-51 38-5 91 17-36 4 50 0-32 0-67-3 16-7 7 16-46-26 32-3 9 16-6 11-25-14 20 30-36-42 28 4-5 46-31-18 15 23-23-36 74-12 29 11 2-12-59 4 56 5-54 3 32 23-65-3 5-16-29 2 7 2 33 18-17-4-18-17 22 5 110-3-82-6 48-23 15 35 41-16-7-5-68-1 11 3 27 3 1 18-90-3 110-14 27 3-18-1-86 1-22 6-8-26 46 36-70 53-23-17-26 36 13-4 4 33-32-16 22 10-2 46-5-2-26 62 39 17 17-140-32 42-23 30 26 5-16 103 94-35-36-23-52-6 9-31 4-7-1-39-4-15-8 18-6-44 23-3 0 4 7 20-10-55 33-26-14-28 25 239-14-58-58-24 17 0-6 39-2 27 40-7-29-13 7-2-4 32 29 31 19-13 15 3 4 4-8 3 23-24-49 0 3 10 15 21 76-5 80-4-19-16 8-22 29 8-8 27 8-33-2-74 37-54 4 50-3-30 4 4 0-21 21 12-24-26 24 26-14-40-20-29-26-39-6 1 0 7-26-29-30-3-21 8-6-3-20-9-10 47-47-12 0 13-36 7 14 31-41 24 0 100 11-8-11 14 11 6-17 6 23 1-17 21 22-44-13-29-18-89 16 21 16 12-13-3-24 8-6 89 21 21 18 39 47 15 17 10-11-23-4-19-28-5-22 5 19-44-31-14-21 50 43 45 101-36 88 18-23-7 8 22-37 1 40-36 29-25 16 24-26 7-10-101 54-119-211 32-16-28 10 4-11-46 64 15 15-15-29 47-32-23 7 39-38 44-8-8 1 8-13 4 11 33-23 32 7-25-1-71 7-29 42-14 8-2-1-18 37 36-40 3-32 14 220 22 16 0 14 7-12 0-6-37-22 3 13 74 47 19-10-58-21-35-19 34 43-23-17 56 12 26-13-43-3 67-4-166-165 1 20-14 7 92 147 26-3 14 8 63-17-15 7 11-8 51-33 6-7 17 16-24-8-20 17-46 45-7-1-24-6-62-21-74-60-5-6 19 5 34 31 67-254-20 17 65 9-29-8 11 4 16-10 54 30-21-8-57-10 31 4 41 11-4-26-53 1 12 1 100 76 31 15-34-41-3 17 7 13 7 13-11-20 12 14-7-12-19-27 43 65-10 8-8 71-236-140-6-8 54-26-67 55-6 17-22 62 14-2 0 4 46 83-60-56 29 7-10 39-1-54-20-2 21 57 5-35-19-45 0 5-8 15 18-52-2 3 77-97 72-29-106 73-16 0-3-13 18 4 188 182 5 7 0 18-10-22-13 13-5 9 62-49 6-46-14 57-8 21-254-117 15-29 9-67 42-17 0 18 10-14 37 1-29 18-9 7-68 15 3-5-20 81 13-34 11-10-21 39-1 0-4 37 16-29 3-5 17-83-27 82-3-51-1 38 4 1 5-1-2 30-16 0 57 90-11 7 44 28-7 2-31-42-26 3 7-14 6-19-16-74-5 27-13 9 37 83 24-9 2 14 37 9-38 12 3-18 53 15 21 6 30 3-3-1-63 10-38-53-53-69 17-114 68-26-1-6-18-14-33 17 10-9 28 8-16 16 27-4 36-22 52-30 4 20 25 11-21-6 20 1 22 22 43 29-21-18 25 18 19 65-2-34 12 8-19-6 0 34 3-7-10-26-20-35 2 2 14 22 11 122-12-17 13-2-14 4 4-10-2 25-25 18 7 32-42 25-17 9-45-3-8-12-29 21 7-4 12 4-87-30 37-6 19 8 14 7-29-5 3 17-28-15-7-39 4 16 24 12 59 12-92-4 43-6-15-9-26-6 4-14 15 17-17 14 18 12 28-1 7 8-70-48-4 9 22 22-11-44-10 5-17-58-23 15 16-6-7-45-1-35-4 57 18 51-13-26-7-2 20 37 3-31-26-8 12-28-7 10 0-35 16-36 27-24 21-34-63 79 6 8-1 39-9-31 15-13-17-10 14 4 25-26-4-16 20-6-9-16 15 14-28 14-13 17 27-26-26 26 6-18 16 2-26 12-2 17 49-58 32-29 56-2 27-10 56 27 9-11-33-24-52 10-18 9-26-22 33-2 35 18-173 134 3-8 5 64 9 37 6-6 16 0-19-10-5-27-10-56-11-31 22-10 25-28-3-29-17 54 15-43 24-8-4 8-11 10 5 2-25 15-27 37-3 1 32-49 21-15-12 8-26 7 9-18 11 22-9 12-13 82-12 32 14-49-15-22 0 0 53-88 27 0-34 4 31-13 64-34 27 14 34 1-6-18-23 1 20 25-9-2 56 19 6 14 25 32-35 171 54-75 4 20-21 12 0-13-25 46 25-43-1 23-3-16 19-41-2 23-20 21-10 30-24 21 42-39-14-1 39-45-4-20 14-19 2-11-23-17-4-37-19-36 24 32 11 23-4 51-11 31 5-28 5 29-3-17 17-25-16 24-9 7 19 20-28 32-22 12 2 22-58 39 4-20 14-10 32 2-42 5-4 30 72-57 1-28-51 43-16 21 3-2 19 1 2-2-15 11 60-93 27-73-14-12-292 34 9-6 12 35 7-122 28 16 217 142-16 35-45 44-19-8-37 8-14 14 20-14-19-4-50-1-58-73-29-25 30 39 16 15-45-17 24 30 14-24-31-4-1-45 3-12 2-3 1-20 1-8-11 13 10 2-15 18 9-10 9 34-11-18 23 87-21-49 47 31-18-17 5 7-13 16 29-3 22 40 59-1 40 12-54-15-37 6-11-21-38-10-33-50 17-3-14-50-3 23 8-37-3 26 13 64 16 43-45-76 36 15-14-89-3-44 2 47-16 41 16-63-12 34 9 11-4 20-6 29-2-40-9-41 20 2 26-36-9 10-17 5 3 32 1-8-7 21-4 1 5-9-10 17 14-7-17 47 17-27-10 46 71 49 96 20-54 22-5 0 31-9-70-2-35-58 33 48 24 4 179-57 20-65-21-70-16-24 23 35-3-18-7 0-19-44-32-17-48-4 18-20 31 35-20-8 66 50 27 31-232-45-40 44 7-15-3 5-3 1-4 2-9 30-19 4 25 26 2 34-21-22 19-41 4-19-3 12-14-1 6 15 276 2-4 34 4-34 16-30-2 11-10 37-5-45 19 55 7-27-19-8-8 46 13 11-15-5 5 15 8-18-27 35-37 35-20 31 20-32-47 29 52-9 6-26 39-66 7-35-2 13-18 65 24-79-7 28 9-31-32-79 38 40-17-30-14-5 28 44-10 38 19-16-19 88-2-57 9-31 11 15-16 25-1 22-4-15 19-18-17-9 17-5 8 2-26-35-12-25 20 27-27-46-1-9-14-35-36-19 5 22-14-3-8-16-51 9 4-26-17 22 5 2 6-13-28 9-10 21-4 3-6-9-2 17-39 20-20-3 3-27 18 33 8-14-29 13 0-29 34 13 11-17 8 0-34 23 6-25-21 40-29 126-7-23 12-25-17-22 14 31-4 0 9-72-15 21 10 10-13 27 32-56-8-12-1-6 35-10-28 33-23 7-13 42 72 114 48 37 44-5 47-17-1-1 45-12 3-28 13-18 5-9-4 11 9-10-59 56 48-188 24 28-18-25 0-13 20 4-29-22 29 58 16 33-11 22-6 12 1-54-215-65 37-19-15 2-67 38 8-4 3 13 3-14" stroke="#F01828" stroke-width="0.5" opacity="0.7"/>
<path d="M644 252Q633 294 605 327M347 188Q357 124 412 89M355 302Q338 269 338 233M482 71Q512 70 540 83M628 282Q604 336 552 361M357 134Q341 158 337 187M537 357Q459 386 395 333M642 161Q658 242 618 314M523 71Q577 83 611 127M383 102Q349 135 341 181M396 347Q336 287 335 202M543 75Q623 113 642 198M618 135Q575 78 503 73M338 184Q352 126 402 91M341 168Q354 142 371 120M546 76Q489 54 433 77M349 163Q324 222 348 283M476 380Q448 376 423 362M409 92Q452 63 503 68M626 302Q574 361 497 381M500 371Q426 376 375 323M516 376Q580 358 623 306M359 301Q326 251 340 192M364 147Q410 73 497 74M335 215Q339 151 386 106M357 298Q324 226 356 155M375 333Q332 277 331 207M561 90Q532 77 500 75M461 70Q384 90 349 162M360 294Q378 325 405 349M558 363Q479 388 402 356M515 72Q578 78 616 130M351 301Q394 361 466 381M615 313Q655 255 650 184M364 149Q324 224 364 300M557 350Q483 388 410 348M353 139Q325 204 338 275M546 355Q496 377 443 363M437 73Q377 97 349 156M523 65Q581 78 619 124M465 73Q518 65 564 92M401 348Q377 326 365 295M452 370Q416 361 389 336M496 368Q462 367 432 355M347 173Q324 235 354 295M409 360Q457 385 510 375M427 366Q363 332 339 264M359 152Q324 223 361 292M583 95Q645 147 649 228M343 178Q356 134 388 102" stroke="#6A5CFF" stroke-width="0.5" opacity="0.7" stroke-dasharray="3 2"/>
<path d="M606 319Q644 278 649 222M583 333Q626 296 637 241M341 201Q338 232 342 263M335 208Q339 173 358 142M407 355Q485 388 561 352M523 376Q446 384 382 340M631 273Q603 336 538 356M501 367Q473 375 445 367M405 346Q338 292 342 206M469 63Q554 64 617 122M395 91Q439 64 490 63M333 234Q334 194 349 158M340 228Q341 288 379 334M434 80Q394 99 371 137M645 261Q632 302 598 330M410 357Q384 343 368 318M519 363Q575 349 610 303M638 187Q645 217 642 248M419 89Q384 108 362 141M581 331Q643 287 641 210M350 165Q358 130 381 103M587 340Q549 372 499 375M369 309Q397 352 446 366M467 61Q532 57 588 92M382 342Q461 387 546 364M436 69Q519 55 594 95M342 176Q348 147 367 123M645 232Q646 150 584 98M616 116Q567 70 501 62M601 328Q552 373 485 375M558 80Q611 103 635 155M377 331Q342 293 340 241M411 89Q350 129 340 201M560 360Q524 375 486 371M588 331Q646 280 645 201M376 107Q335 161 330 230M415 86Q359 117 344 180M569 80Q610 103 633 142M449 71Q378 95 350 164M343 260Q328 206 355 156M358 129Q326 197 337 271M391 337Q439 380 503 370M398 103Q353 136 342 190M335 219Q340 148 388 96M429 76Q498 52 564 83M426 77Q451 65 478 65M576 342Q611 313 628 270M333 244Q328 191 352 143M334 220Q337 191 349 164M389 108Q422 77 468 72" stroke="#FF3040" stroke-width="0.5" opacity="0.7" stroke-dasharray="6 1"/>
<filter id="g1b" x="-10%" y="-10%" width="120%" height="120%"><feGaussianBlur stdDeviation="1.8"/></filter>
<path d="M642 219L640 227L640 235L638 242L639 251L636 258L632 265L629 272L624 279L621 286L619 294L613 299L607 304L602 310L598 316L594 323L588 328L581 331L575 336L567 338L562 343L556 349L549 351L542 353L536 359L528 362L521 363L513 363L505 366L498 367L490 369L482 367L475 366L467 366L459 364L452 362L445 359L438 355L429 355L423 351L416 346L411 341L403 339L397 334L392 328L388 321L381 317L376 311L373 304L369 298L366 290L360 285L355 279L353 272L350 265L347 257L348 249L343 242L343 234L344 227L342 219L346 211L343 204L344 196L344 188L348 181L349 173L355 167L358 160L361 153L364 146L370 141L376 137L384 133L389 128L397 126L403 122L408 118L414 114L420 111L426 108L431 104L437 99L442 94L448 89L455 87L462 85L468 81L475 78L482 75L490 73L498 73L505 74L513 76L521 75L528 78L535 81L542 83L550 84L558 86L564 90L571 94L578 98L583 104L589 109L596 113L602 118L609 123L612 130L615 138L622 143L626 150L631 156L634 164L637 171L638 179L641 187L640 195L642 203L641 211Z" fill="#B0125A" filter="url(#g1b)"/>
<clipPath id="g1c"><path d="M642 219L639 243L632 265L622 286L608 305L593 322L575 336L556 349L535 358L513 364L490 367L467 365L444 359L423 350L404 337L387 322L372 304L360 285L351 264L345 242L342 219L344 196L350 174L361 153L377 137L396 125L414 114L431 103L448 91L468 81L490 75L513 75L535 79L557 87L578 99L596 113L612 130L626 150L635 172L641 195Z"/></clipPath><g clip-path="url(#g1c)">
<defs><radialGradient id="g1t0"><stop offset="0" stop-color="#5214C8" stop-opacity="0.56"/><stop offset="0.5" stop-color="#5214C8" stop-opacity="0.392"/><stop offset="1" stop-color="#5214C8" stop-opacity="0"/></radialGradient></defs>
<ellipse cx="395" cy="200" rx="80" ry="110" fill="url(#g1t0)"/>
<defs><radialGradient id="g1t1"><stop offset="0" stop-color="#F00A28" stop-opacity="0.56"/><stop offset="0.5" stop-color="#F00A28" stop-opacity="0.392"/><stop offset="1" stop-color="#F00A28" stop-opacity="0"/></radialGradient></defs>
<ellipse cx="560" cy="290" rx="85" ry="85" fill="url(#g1t1)"/>
<defs><radialGradient id="g1t2"><stop offset="0" stop-color="#F00A28" stop-opacity="0.5"/><stop offset="0.5" stop-color="#F00A28" stop-opacity="0.35"/><stop offset="1" stop-color="#F00A28" stop-opacity="0"/></radialGradient></defs>
<ellipse cx="460" cy="330" rx="90" ry="45" fill="url(#g1t2)"/>
</g>
<path d="M422 170l-35-39 70-5 16 19-28-11 47-32 18-29 25 26 10-7-37 39-146 21 72-3-17-17 185 92-46 30-16-59 56-13-122-2-12 0-15 0-19 48-25 15-8-23-17-28 24 45-61-8 66 47 41-3-5 0-49-15 25 31 36 40-42-31-12 44 12-59 33-25-38-42 0-8-1 9 12 60-69-4 5-35 32-37-28 27 82-52-21-56 13-8 44 26 137 62-80 163 44-22-20-42-46 21-27-15 12 8 11-14 25-12 19 22 51 3-80-30-90-100-8 0-40-1-18 41 82-62-46 13 176-16 3 11-63 80 60-12 53-21-190-54-37 19-32-39 0 40-20 24 46 31 8-20-23 15 25 42-41-31 16-34-24-39 7 19 34 26-8 51-47-4 43 35 6 39 5-55 8-70-20-53-45 23 21-17 13-9 15-19 40 39 11 11-28 125 125-25 14 5 14 57-203-74-8-51 65-5-17 50 12-39 21 9 3 61 55-9-40-179-7 60-45-32-27 7 267 38-27-4 20 9-198 104-8-64 30-26 36 17 25 50 6-42 46 33 13 41-3-37-8-34 53-18-4-5-175-105 38 27 10 5 20-6 80 76 32 2 5 32-236-86 25-6-63 0 2 52 50-27-14-26 207 62-24 3 10 12 22 22 15-37-125 2-32 30-46 33-63-15 239-85-56 17-58-10-3-21-55-11 122 183 52-140-30 35 60 2-61 3-47-18-51-26 7 10 25 2-7 46 100 26-89 20 68 10-2 5-38-223-57-6-12 13 21 51 19-20-66-6 55 3-36-24-14 201-25 7 56 16 9 4-33-39-100-124 12 98-14 21-11-35-1-10 46 25-40 2 43-9 47 31-3 51 121-202 4-30-24-25-12 9-75 1-10 45-24 32 33-29-53 12 6 26-16 28-6 30 161 114 11-52-21 1 24 47-30 19 75-172 27 39 16-3-40 22-34-36-26 15 60 9 8 58-19-1-34 4-45 11 49 8-130-113-38-39 39-20-19 25 4 37 10 9-15-48 14 39-17 13-23 25 14 40-32-19 64 12 0-51 1 50 52-11 5-25-61 0 40 23-1-27-53-23 32-108 51-13-42 0-6 12 65-13 41 34 58 11 14 11 5 26-28-22-6 58 29-27 4 22-38 23-194 9 7 14-13-22 55-23 25 36 26-34 43 24 56 0 4-5-14 38-16-45 48-23 17 9-56-15 8 15 7 6 7-35 1 5 29 30-26-45-99-51-38-10 33-32-4 19-18 6 40 23-42-11 28 23-9 220 8-21 71-73 21-109-35-38 45 9-8 65 31-21-268 115 14 31 15 8-36-24 12-39 26 50 37-6-15 17 33 14-62 4 54-9 63-8-24 12 150-46-32 40-61 10-3 27-32-5 36-44-13 42-34 1-103-73 198 41 18-1-1-25-11 21-33-186 27 51-8-68 7 33 17 57-10-42-18 177-22 17-18 3-24-43-56-13-42 17 56 11-2-64-50-3 29 40 12 24-29 33 8-19 40-69 8 62 12-72 42 17 30-11-29 37 17-6 19 2-113-156-13 9 14-21-7 30-22-44 75 1-71 2-19-16-7 38 65-13 23-51-11 57 43-10-21 39 12 31-28 44 12 39-69 7-26 37-2 1-4-41 0-15-19 35-12-54 74 0 39 23 26-1-34-15 19-3 24 11 40 3 57 16-35 25-65 4-36-17-27-38 12 32 45 48-11-46-6 17-51-7 7-20-89-80 32-18 196 125-124-169-29-22-5 93-36 16 8 51-50-12 132-62 39-3 23-7 26-28 25-31-220 142-2 30 55-192 21 2-52 10-9 54 27-37-12-9-24 44 29 12 10-14 22 42-8-7 50 3 14 36-15-12 29 11-24-1-21-24 17 50-17-62 123 75-66 0 33 25 5 17 3-77-10 49-88-202 118 111 6 4-14 56 11 53 10-50-52-19 13 63 5 27 30-42-40 16-23 24 6-39-5-53-7 62 7-50 26-24 7-65-56-3 24-2-2-86 11-4-134 97 145-92 66 188-8-54 5 16-37-18 18 28 23-83-46-8 15 8 25-19-124 75 21 22 51-24 0 41 20 26-6 25 12-5-10-56 10-50-9 47 33-37-42 11-65-7 13 1-5 3-42-36-59 17-25 33-1-73 66 9-67-6 72 64-2-18 5 20-29 39-43 31 50-157-8-35 24-3 0 25-5 75-16 72 27-3-114 13 185 32 0-19 13-15-43 24-29 14 34 3-7-37 5 14-37-30 32-33 14-8-12-24 82 97-20-59-4 10-26-30-30 19 3 75 4-20-2 25 74-167-22 8 20 40-8 16 30-14 20-50-31-43-148 200 40-29-33 46 41 26-58 3 39-15-11-50-28-43 9 61-15-50 194 30 1-25-47 31-62 1 30-30 3 20 11-65-44-28-48 2 18-27-12 43-21-1 44 13 23 36 57 1-55-5 47 3-21-21-5 35-78 95-17-36-15-25 17 60-36-23 77-79 24-49 11-14 5 12-31 5-36-27 23-41-4-68-11 28 23 18 35-37-27-8-26 33 39-14-114 192 69 9-40-25 7 41 36-26-64-8-16-54 31-46 44 27-30 49-37 25 26 49-19 2 111-73 41 22-32-28 12 8-9 40 16-49-68 5-29-50-10-56-16-21 12 19 26 51-46-14 27-20 65 13 16 50 3 77-18-50-12 19 7-52 25 35-26 26-42-20-16 54-14-58-55-5 193 39 54-25-132-182 66 251 2-253-22 42 24 26 19-39-24 35-4 2 11 1 27-24-137 212-41-4 77-251-38 6-23 23-70 46 4-19 123 76-47-30-46-27-35-6 17 3 19 13 13 16-9-36 83 158-45-17 7-15-10-31 27-33-16 48-39 7-6 28 105 69-35-27 61-201 21 10 16 34 6 17-62 1 1 24 16 58 71 4-107-93-2-39-9-12-22 43-11-12 52-13 0-45 40 15-11 8 43-14-25-24-60 31-122 58 19-38 27 8 1-39-22 50 25-45 60-2-41-18 0 198-58-21 20-9 13-63-29 29 24 10 50 18-62 11-39 2-3-72 17 48 19-16-29 27-7-59 65-4 63-12 34-17-38-16 0-14 25 6 82 184-134-152 7 67 57-87-48 4-2-11-29-45 14 25 26-36 21-5 140 77-45 5-176 53 0 1 3 43 53 15 47-32 34-11 29-7-12 36-10-49-15 59 47 15-148-139 30 47 2-69-48-7 49 6 40-29 27-12-33 25 16-36 1 39 30 3 19-5-52 8-42-17-23 17-59 19-4-19 142 229-34-1-18-7-22-42-21 22 82-165-47-14 7-14-14 57 5-54-2 19 46 6-50-28-22-2 56-6-16 26-40 2 30-29-55-16 1 19 120 154 64 7-114-29 56-2 30-33-161-81-34 40-33-5 130 156-60-5-26-20 37-18-31-8-18 1 38-112-3 42-40-25 116-72 8 0-36-32 70 77 40 40-49 9 59-3 20-47 7 59 3 59-62-98-24 17 38 125-21-48 58 7 28-48 11-13-11-56-170 140 33-133 17 1 2-44 19-59-35 15 25 42-5 3 13 25-21-13 16 59-9 1 16-2 3 24-10-8 33 32 22-54-6-5 68-1-37 16 30-2-21 11-32-21-16 1 76 25-52 19-100 9-23-25-4-55 23 27-41-89 26 1-1-2-59 17 144 83 35 20-1-31-18-38 50-22-55-17-60-7-16 39-25-64-26 67 35-2 13 31 31-10-15-22 0 11 8-12-40-10 7 66-21-48-27 35 13-14-4-17 7-8 34-11 62-17-39 6 7-40-56 64-3 37 22 19-55 11-7-48-62-14 5-8 53-9 48 25 108 25-180 38 46-17 30-42-6-67-5 19-32-6 59 16 8 24-8 31-1 64 17-27 24 19 4 50 43-29-54 3-17 58-2-64-48 7 56 11 36 10 43-5 0 0-22-54 5-61-25-52-36-26-11 266-75-118 60 2-14 51-101-94 32-20 0 47-14 15 138 109-14-27-108-27 23 19 83-189-17-51-31 38 41 33 16-15-2-1-1-62 30 19-14-5-109 232 74-6 18-13 47-21-31-47-6-61-62-10 31-28 35-20-2 57-6 62-38-23 37 22-3-25-30-48-17 35-32 18 48-15 36-1 48 4-4-92 7 29-14 51 24 19 18 9-26-33 4-34-53 14 43 6 1 77-44 8 28 51-55 4-85-170 87-20 68 12-150 156 8-23 37-19 1-47-51 25 20 28-7-34-20 25 3 10 18 18 0 10 47 88-59-93 1-5 159-31 9-4 57 22-45 18-27-26-107 61 68-8 24 52-203-129 20 9 5 0 14 44 63-1 35 18 16-19 69 4 30-6 35 2-14-61 30 4-214-28 40 30 13 37-60-59-51-3 0-6-10 72 40-36 42-10-4 72-9 12-56-12 36-31-51-25 2-10-1-9 141-112-17 33-2 33-21 22-8 23-43 20 138 90-73-164 30 12-29 30 95-87-41 7-60-19-4 24 16 45 22-18-61-17-6 7 63 17 51 29-5 37 54-25-15 14 60 15-15-17-3-49-108 45-49 29 57 6-64 10 41-11 16-5 4-75-5 30 49 7 12 23-62 6 65 6-27 3 52 1-33 13 23-55-24-9-5-16-33-46-10 47-39 23 113-57-4 66 14 41-24-45 5 56-1-113-4 40-235 8 22 34 12 4-13-10-8 9 9-8 43-36-3 0 26 44-18 42 129-50-50-2 60-81 41 35 7 1-44 19 1 12-32-19-56-21 20 3 57-7 3 15 11 37-26 4 66 2-24 16-55-9-38 13-29 9-52 2-57 11 2-26 31-18-46 14 12-16 22-40-35 23 113-8 4 33-48-8-21 42 6-21 22-20 4 17 49 26-1 87-22 14 57-4 25-33-21-34 37-12 29 50-200-184" stroke="#3A10E0" stroke-width="0.8" opacity="0.6" stroke-dasharray="2 1.5"/>
<path d="M386 288l59-13 45-32-24 11 18 24 44-21-23 19-10-32 34 43-25-25-1 69-24-30 6 20 10-5 35 38 28-15-11 0-32 6 43-31 39 6 1-64 32 21-17 16-168 3-18 59 10-25-12-66-1 2 0-44 50 14 8-24-9-38-43-34 46-22-20 7-33 154-60-17 12-1-36-21 57 51 33-33 138-168-22 171 6-4-16 91 6 1-14-23-34-66 32-33-30 30-20-27 77 1 16 32-39 26 8-60 17 53 2-73-44-64 47-3 8 29-16-12-11 14-14-24 5 47 34-22-11 21 51 6 26-21-49 106 39-17-59 17-27-6 44-2-5-8-14-11-33 16-65 15 59-15-20-45 107-25 25-46-17-18-174 125 0 57-8-55-5 58-36 1 18 2-13-36 83-99-70 5-2-2 35-16-22 55-10-45 5-27 18-21 5-48 1 4-18 60 53 14 37-34 43-15 18 50-28 36 16-42 10 52-9-23 24 24 23 31-44 0 8-37 20-27 34-37-157-44-27 14 41 3 18 23 17 17 50 29-107 140 51-12-31 10-25 32 50-6 32-36-24 48 33-16-64-174 2-48-13-25 19 49-34-9 10 1 25-45 23 39 33-24-7-14-11 25 54-14-2 12-92 27 9 57 22-10-21 51-7 27 20 13-8-38-70 8-54-16 59-11-28-14-17-58-6-29-2-9 81 142 16-24 32 8-21 7 48-10 3 0-68 8-22 86 12-32-17-34 6 22-37-64 51 91-62 15-12-17 23 17 47 3-58-10 188-9-32 3-23-25-11-68-7-44-89 139-9-60 60 11 0 78 35 9-41-116-9-32-67 13 9 70 37-9 35-24 64 56 32-42-48-13-7-27 38-13 9 8-30 44-6 58 0-76 24 47 24-8-48-142-56 4-62 14 77-43 8-37 25 16-25 5 21-12 16 41 51 25-22-50-29-7 10 66 45 13-51 3-18-31-73 136 122-135-46-9-7-20-13-6-45 2-60 5 1-4 54 3 61 31 73-4-137 49 14 37-9-45-14 7 21-39 14 10-26-46-50-24-6 53-8-47 69 8 19-39-17 38-1 21-14 18-62 10-28-15 6 10 9 19 29-27 2-34 51-4 2 9 66-6-58-15 92 50 55-8 5 6 10-7-104 104-16-12-88-6 9 60 6-11-12 53 135-161 16-45 2-14-28 9-31-2-24 7 2 31-50-24 30-13 4 57-30-46-12 17 73 4-9 10 54-18-70-3-20 56 53-3-17 28-11 10 2 9-13 57-13-25 14 43-18-148-35 0 40-34-72 1 38 3 19 60 22-5-2-17 28 16 12-33-36-36 0 69-95 4 55 22 7-69 50-50-21 110 10 20-39 13-17-26-39-9 16-60 36-33 38 41-20 9-55 6 142 175 9-7 8 0 1-45 13-200-39-11-53 21 60 212-13-5-1-18-28-7-19-19 31-45-21 10-8 3-19 47 27 41 5 15-44-1 7-37 34 46-48 10-34-16 25-28-47 2 34-9 5 44-68-68 48 32 13-53 31-4 8 40-121-124 43-9 6-2 55 131 146-150-193-5 38-5-59 15 52-21 28-30 16 63 17 48-46-40 31-27-20-9-1 50 8 49 21-26-62 11-51-3 4-64 25 46 55-2 48 2-136 68 1 15 135 35-52 18 9-226-21 55-33-6 166-48 25 25 8-18-13 62-150 33 5-56 3-48 63 182-51-22 10-31 5-8-45 3 54 15 67-1-8 67 33 6-17 21-4-42-32-16 25-17-55 23-12-48 44-1 1 59-104-98 2 64 55-18 51 26 51-18-15 65-14-47-43-32-54 9-36-112-37 26 177 167-23-4-35 13-4-51-34 1-53-153-2 63 17 2 49 20 51 28-45-13-53 8 33 30 37 35-43-23 12 46 57 7 56-11-2-54-30 26-107-89 0 18 4-28-25 13 9-41 37 8 6 59-6 46 10-23 9-37-35 27 1 55 132 12-53-18-8 53-7-47-18-50-38 23-2-42 60 0-115-99 138-27-34-30-8 67-60 12 17 174 41-18 31 20-24-41-63 29 32-38 21-43-29 5 32 43-89-140 35 145-4 23 5-20-18 31-4 1 16 19-14-57-1-44 5-3 31-25 12-33-7 18-102-63-1 21 43 21-62-4 192 105 62 0 31-64-106 122-173-118 23-18-24-27 52 23 25-24 12-4-53-20 63 0 29 5-39-34 132 178-28 8-31-244-9 31 0-12 38 15 70 9-125-4-26 28 0 77-9-65 1-63 3 126 68-10-9 64-13 6-23 49 41 26-33-40 28-203-46 20-29 22 23-6-15-3-11 36-15-24-42 7 3 91-10-21 241-91-9 29-20 13-112-99-4 57-55-21 106 102 10 40-37-18 29-15 12-108-76 164-25 15 25-18-26 26 47-17-12-49 1 4 65 1-20 11 9 34-42-34-63-17 17 22 113-4 45 7 24-22 2 24-36-166 19 38-206 183-17-61-12-25 169 76-24 54 55-206 13 62 14 39-60-19 17-35-17-29-19 50-72-11 20-31 30-40-15-55 69-1-143 148 63 6 14 19 32 3-18 61 32-30 0 18-1 40 14-12 55-26-15-32 19-46-45 23-18-52-34-28 47 13-18 26-15 2 20-51-37-29 10-35 25-33 47 15 2 140 10 37 12-60 8-18-60-14-46 0 50-15 27 37-34 3-17 36 15 0 48 6 29 44-14-23-19-23-21 59-20 49 11-265-96 188-6-67-2 73-37 42 11 17 9-40 28-50-49 31-24 19 1-14 24 12-4 10 32-3-29 23-9-42-36 12-4-60 7-37 29-20 65-98-27 30 2 247 60-6-66-20-29-4-18-27-30-16 193-191 64 157-171-111 134 125 39-4 15-38-7 10 10-11 1-38-273 84 251-9-14 24-102-163 5-45-11 67 6-24 38 34-25-30 23 36-40-32 53 26-32 37-24 10 67 13 25 53-71 3 4 37-27 37-69 11-12-21-16-27 38-41 14 20 55-12-19-43 67 73 43 3-30 19 45-7-218-31 36-34-14-62 29 6 17 14 2 34 40-35-61 121-24 13-6-211-10 25-17-7 35 30-47-21 13 19 21 55-28 14-7 27 63 31 21 25 35 16 53 0 0-20 24-43 15 48 3 4-158-185 30 37 43-9-66 11 3 0 49 5 7 18-21-12-24-30-13 58-72-7 12-24 208 38 7 42-17 4 45-25-1 4-271-9 38-34 26-41 6 56 9-47-2 41-14 27 34 43 37-35 16 16 34-31 47 7-6 19-1 51-24-40 19 55 2-21-4-23-120-167 9 23-52-17 35-15-12 61-7 6-33 29 10-8-39 40 45 17 129 87 17-45-34-169 42-3-45 17-35 16 3 34-52 24-60-6-10 48 32 18 36-136 60 16 24 52 12 26-34 2 5-64-16-4-42 22-16 45 49 12-38-23 152 82-1-20-132-187-57 21 55 18-19 55-41 15 56-19 19 44 6 18-37-15 42-1 11-58-89 114-31-32 0-59 32 4-47 1 18 2 29 34 44 13 43-29-115-18 6 24 33-7 19 24 19 7 18-8-18-57 5-58 7 46 2-21 46-6-1 12 2-44-45 4-45 15 4-18 176 195-20-34 24-29-51 23 52-75-59 3 25-40 22 41 6 17 28 35-28 5-18-144 14 34-2 0 9 68 1 29-58-3-158-89 15 46 7-22 18-27 71 1 27 23 16-58 35 8-31-13-18 61 97 12-62-10 70 97 0-4 7 6 4-2-6-59 11 6-16-37-166 65-60 5-32-3-1 6 52-122 8 17 27 37 28 29 50-1-51 3-94 79 71-40 179-12-180 38-6 33 35-45 10-5 4 37 25-178 11-51-8-12 58 269-91-13 45 2 0-32-2 34 28 1-12-56 8-21 53-21-69 3-22-56 20-13 58 4-36-19-193 7 4-2-13 56 54 14-33 45-31-23 291-25 0-57-190-77 29 44-29-42 17 4-31 5-8 44-45-1 22 8 33-21 15-1-25-22 53 17-2 61 18 13-6-69-35 34 11-22-19 15-17-25-40 36 11 12-28 58 39 38 24-17-61-6 49-67-25-39-23 13 26 7 56 18 131 34-12 68 38-31 0-41 5 3-7-54-130-78-17 11-19 23 1 6-15-28 15 38 20 41-26 52 45 34 35 17-18 8 24 54 9-5-51-15-21 13 34 6 15 17-18-2-15-11-16-38-25-91 35-34 35 9-47-7 35 8 4-20-37-15-55 103 32-25 41-32-61 4 54 3-54-23 68-5 2 6-78 135 30-6-38-34-34-36 23 38 14-57 28-19 117 142-52-26 44 2-24-19 12-8 20-18 0 8 47-2-41-69-10 52 9 60-65-16 45-71-17 0-10 28-5 53 51-27 16 38 30-48-157-52-40 9-30-30-3-68 6-14 126 203 0-143-54 1 33 32 131 14-2 43-151 61-10-136-56-3 50 16-58 12 130-133 88 46-60 19 34 32-8-58 62 16 7 41-166 40-44 10-48-10 38-4 15-19 36-22 5-47 43-12-32 45-17-47 35-34 67 49-173 39-9 63-14-9-9-1 3-65 23-5 20-53 65 87-4 48-39 12 17 36-1-47-1-78 22-11-7-14 13 37-45 8-72 4 53 8-23 32 6-62-47 15 27-26-29-2-5 52 66 2-30-15 31-18 3 77 1-73 7-18 16-13 12 37-21-48 24 6-55 24-32 35 58 9-10-101 34-14 6 18 41 32-47-13 47 146 29 1-63-115 49 16-53-23-15-40-59 16 124 221-5-67 31-11 16-35-20-23 47-4 13 12-127-99 14-58-7 59 40 19-11-21-41 10 52-25-98 73 194 85-225-54 22 10 12-1 6-31-63 0 22-28-32 36 10-47 70 0 21 54 15 122 51 27-49-153-53-20-4-53" stroke="#FF0A1E" stroke-width="0.8" opacity="0.65" stroke-dasharray="2.5 1.5"/>
<g stroke-linecap="round" fill="none">
<path d="M357.7 156.2h0M518.7 75.6h0M339.2 242.2h0M603.4 116.1h0M545.3 358.9h0M392.3 331.6h0M647.5 207.2h0M481.5 65.6h0M484.5 70.1h0M341.9 253.6h0M637.1 267.3h0M352 303h0M336.5 240.4h0M638.7 181.8h0M596.2 98.5h0M358 307.1h0M458.8 70.7h0M450.5 65.9h0M352.2 157.5h0M564.6 350.8h0M352 156.8h0M606.3 311.2h0M633.9 167.5h0M629.7 149.3h0M549.2 353.7h0M537.9 76.6h0M596 109.7h0M377 311h0M643.6 263.7h0M513.2 368.7h0M623.1 138.9h0M647.4 175.6h0M565.5 356.5h0M350.4 288.2h0M442.5 359.1h0M630.2 156.8h0M392.4 339.1h0M381.6 326.3h0M579.8 86.2h0M340.7 213.8h0M525.6 69.1h0M385.4 323.2h0M609.3 306.2h0M485.9 370.1h0M380.3 131.2h0M525.3 372.2h0M350.1 164.1h0M448.1 373.2h0M610.1 126.6h0M649.3 213.5h0M488.8 73.5h0M599.1 114.1h0M551.4 72.9h0M388.1 118.7h0M551.8 81.9h0M511.5 68.1h0M593.8 108.7h0M632.7 288.1h0M578 337.6h0M639.3 268.7h0M597.9 114.2h0M470.7 78.1h0M498.7 371.7h0M343.7 275.6h0M417.2 80.7h0M621.8 286.4h0M621.4 128.7h0M632.5 145.8h0M336.7 264.5h0M644.4 263.8h0M332.2 207.5h0M495.8 67.7h0M340.6 195.9h0M352.9 303.6h0M351.7 156.5h0M591 337.9h0M400.4 353.8h0M558.2 358.5h0M423.2 73.4h0M481.6 370h0M536.5 67.5h0M516 74.2h0M447.2 69.2h0M418.7 81.9h0M606.3 308.1h0M359.4 286.8h0M342.6 204.7h0M646 174.4h0M489.7 375.5h0M544.9 354.6h0M444.2 66.4h0M632 149.1h0M440.2 73.6h0M343.3 278.2h0M406.9 350.5h0M549.2 356.7h0M347.8 278.3h0M603.8 319.3h0M635.3 281.7h0M493.1 61.6h0M585.1 91.4h0M639.2 253.7h0M420 89h0M572 90.5h0M650.6 240h0M481.5 366.7h0M607.3 115.4h0M384.5 330.2h0M332.5 221.5h0M348.1 285.8h0M623 125.3h0M626.9 132.5h0M340.5 217.2h0M635.9 146.1h0M644 207.3h0M391.9 109.5h0M370.6 308.9h0M557.2 363.3h0M470.8 69.6h0M650.9 207h0M646.7 242.1h0M409.8 359.1h0M344.5 187.5h0M340.2 237.2h0M391.2 329.3h0M566.1 348.3h0M444.3 80.8h0M338.7 209.9h0M430.9 369.3h0M514.1 64.2h0M444.6 367.1h0M642.9 209.3h0M618.4 303.7h0M404.7 95.5h0M387.9 331.8h0M598.2 321.4h0M594.5 321.1h0M537.3 67.7h0M632.8 145h0M618.4 295.9h0M543.1 363.7h0M342.2 198.8h0M390.4 97.2h0M348.6 297h0M363.7 301.5h0M589.9 338.7h0M641.9 240.6h0M343.9 252.1h0M641.9 222.9h0M426.1 93.8h0M497.2 367.2h0M620.7 134.9h0M532.8 64.6h0M564.6 79.4h0M527.9 373.3h0M605.3 107.2h0M464 77h0M373.8 116h0M620.7 134.1h0M337.1 216.2h0M631.4 282.2h0M581.1 92.5h0M640.2 254.2h0M515.5 377.1h0M336.5 189.4h0M338.2 183.7h0M596.7 97.6h0M632.8 147h0M346 175.4h0M385.9 118.4h0M583.6 331.4h0M481.9 374.5h0M553.9 357.5h0M611.4 314.4h0M377.2 330.6h0M534.7 361.1h0M405.6 96.8h0M339.6 196.9h0M396.8 111.2h0M436.8 368.8h0M427.6 90.5h0M569.2 343.8h0M540.3 73.3h0M450 365.5h0M445.5 371.7h0M587.3 90.6h0M361.8 150.4h0M338.6 233.1h0M483.4 369.5h0M520.8 370.3h0M593.2 323.4h0M344.6 248.7h0M619.6 133.5h0M642.7 230.8h0M451.9 73h0M535.9 369.4h0M552.8 360.1h0M361.8 289.6h0M506.2 367h0M521.8 367.5h0M332.9 212.8h0M519.5 369.9h0M365.7 140.3h0M366.4 141.3h0M633.6 261.8h0M340.5 184.1h0M461.5 368.8h0M642.8 185.1h0M549.7 82.7h0M461.7 81.6h0M550.1 76.9h0M416 95.3h0M544.8 366.5h0M476.8 367.9h0M542.7 80.5h0M494.7 69.3h0M430.3 74.5h0M610.1 305.7h0M639.2 176.9h0M612.8 300h0" stroke="#1E5A3E" stroke-width="1.5"/>
<path d="M523.3 76.6h0M635.3 254.9h0M342.5 216.7h0M411.4 145h0M504.4 74.6h0M530.8 78.3h0" stroke="#3C9D6C" stroke-width="2"/>
<path d="M351.2 171.3h0" stroke="#FA8C1E" stroke-width="2"/>
<path d="M388.1 321.6h0M417 152.1h0M356.8 213.5h0M432.9 104.2h0M424.2 194.6h0M467.9 129.9h0M422.8 346.9h0M453.3 318.9h0M396.5 301.5h0M442.1 296h0M411.3 320.4h0M467.8 273.3h0M554.8 347.3h0M470.5 326.8h0M411.5 185.5h0M540.8 84.9h0M414.4 306.2h0M498.3 310h0M426.6 262.9h0M400.5 262.5h0M422.6 320h0M382.9 148.3h0M540.3 355.1h0M574.1 99.2h0M391.2 175.3h0M453.3 314.6h0M399.5 331.6h0M477.8 354.8h0M500.5 257h0M639.4 199.3h0M381.9 306.4h0M421.3 111.5h0M460.9 129.2h0M406.6 309.5h0M446.4 317.9h0M410.8 170.9h0M478.1 263.6h0M375.3 142.8h0M623.8 212.4h0M622.8 283h0M398.7 293h0M420.4 276.3h0M533.9 341.5h0M427.1 161.9h0M513.5 285.7h0M372.9 302.3h0M416.9 222.2h0M432.5 352.4h0M478.8 94.3h0M351.3 186.8h0M350.2 206h0M433.5 260.1h0M510.5 361.7h0M366.4 170.8h0M447.2 358.5h0M452.2 165.9h0M619.1 265.9h0M433.4 166.9h0M569.1 95.3h0M462.5 177.1h0M481 338.9h0M463.6 355.6h0M454.5 176.6h0M617.7 139.3h0M488.8 305h0M451.2 302.8h0M396.4 196.9h0M451.7 96.2h0M348.9 236.5h0M459.3 89.2h0M605.4 299.7h0M442.6 330.2h0M478.8 79.7h0M482.1 316.1h0M410.1 339.2h0M475.3 111.1h0M393.4 151.8h0M452.4 342.9h0M606.4 123.4h0M410.3 309.4h0M460.9 363.5h0M500.5 238.3h0M378.4 256.4h0M392.2 286.4h0M632.1 221.7h0M449.8 157.8h0M474.9 327.3h0M427.7 325.8h0M513.9 229.1h0M526.5 263.7h0M426.1 168.5h0M417.8 174.3h0M479.2 255.9h0M487.6 133.8h0M456.8 309.5h0M382.9 296h0M481.5 359.1h0M555.2 87.9h0M410.9 283.2h0M413.8 233.8h0M496.9 106.4h0M464.3 359.9h0M399.3 127.9h0M464.4 87.3h0M399.4 328.1h0M346.1 209.1h0M355.4 253.5h0M393.2 325.6h0M372 230.6h0M629.2 158.1h0M474.3 335.4h0M404.2 126.4h0M631.2 168.2h0" stroke="#3C9D6C" stroke-width="2.5"/>
<path d="M516.9 325.7h0M435.7 271.8h0M481.6 146.7h0M360.7 260.9h0M633.3 234h0M347.6 247.5h0M461.6 169.1h0M368.4 294.4h0M535.5 307.2h0M493 261.8h0M389.6 279.1h0M425.4 343.4h0M468.1 334.8h0M470.9 295.9h0M630.3 263.9h0M443 322.1h0M426.9 303h0M436.8 108.7h0M411.3 264h0M353.6 217.8h0M421.2 149.1h0M483.2 218.1h0M435.5 256.7h0M417.2 226.6h0M393.4 199.4h0M570 338.9h0M519.4 346.7h0M418.8 160.7h0M344.7 233h0M467.5 182h0M472.2 285.7h0M398.9 174.7h0M436.5 354.2h0M349.8 214.5h0M381.5 136.2h0M418.6 138.8h0M443.7 196.7h0M370.5 166.5h0M376.9 171.5h0M373.8 205.7h0M508.7 266.3h0M583.7 326.7h0M529.6 311.8h0M530.5 344.8h0M476.5 242.2h0" stroke="#FA8C1E" stroke-width="2.5"/>
<defs><path id="n1_5" d="M504.7 319.1h0M548.7 324.8h0M435.8 157.6h0M492.9 234.2h0M610.8 189.6h0M592.4 290h0M494.6 275.2h0M496.6 77.5h0M600.7 244.5h0M435.3 328h0M479.5 210.6h0M456.8 209.4h0M510.4 241.1h0M415.4 121.4h0M471 353.7h0M398.1 164h0M504.9 249.4h0M574.9 288h0M535.3 352.8h0M409.5 316.9h0M567 286.4h0M576.7 315.9h0M588.6 321.8h0M460.7 103h0M371.7 199.3h0M518.2 316.6h0M409 148.1h0M464.8 163.6h0M530.5 353.2h0M435.9 134.1h0M563.1 252.3h0M563.7 93.9h0M494.3 269.2h0M397 208.2h0M442.1 342.7h0M619.4 280.6h0M470.1 209.5h0M463.5 298.4h0M370.7 275.3h0M455.2 100.2h0M525.5 341.1h0M443.3 231.9h0M361.8 253.6h0M601.9 205.5h0M430.6 183.5h0M465.3 204.8h0M629.1 259.6h0M407.4 287.7h0M362.8 229.8h0M513.2 261.6h0M632.9 251.1h0M501.7 243.7h0M485.5 282.3h0M636.8 189.6h0M562 308.4h0M616.5 255.5h0M609.3 258h0M490.6 89.1h0M433.4 304.9h0M429.9 130.9h0"/></defs>
<use href="#n1_5" stroke="#90500F" stroke-width="3.5"/>
<use href="#n1_5" stroke="#FA8C1E" stroke-width="2.5"/>
<defs><path id="n1_6" d="M624.4 222h0M410.8 161.6h0M465.4 216.7h0M435.7 149.7h0M387.5 209.4h0M478.8 100.2h0M452 192.8h0M479.2 158.5h0M442.8 143h0M499.1 327.5h0M436.8 336h0M378.9 289h0M412.9 238.1h0M456.7 253.5h0M530 279.5h0M549 273h0M578.2 103.3h0M420.8 176.9h0M430.5 270.2h0M366.1 262.2h0M494.3 175.7h0M466.5 279.5h0M475.8 165.4h0M408.7 122.2h0M536.6 253.6h0M446.8 140.2h0M382.9 171.3h0M584.5 295.5h0M475.5 267.6h0M464 132.4h0M543.9 342.9h0M439.2 211h0M523.8 319.2h0M405.5 209.8h0M410.2 293.2h0M478 193.7h0M467.9 239.5h0M444.5 255.4h0M541.1 332.4h0M527.7 80h0M393.5 159.9h0M500.9 89.5h0M471.9 171.3h0M481.9 260h0M619.8 250.4h0M447.7 203.3h0M439.3 128.1h0M385.4 275.4h0M497.8 221.6h0M436.7 268.1h0M382.3 311.3h0M366.4 202.6h0M417.6 331.7h0M420 212.1h0M620 219.3h0M489.2 205.7h0M540.3 344.8h0M635.4 241.1h0M374 244.3h0M456.4 328.6h0M608.5 176.8h0M490.6 330.2h0M368.6 150.5h0M413 175.9h0M417.3 135h0M503.5 190.3h0M531 295.7h0M491.6 345h0M386 223.6h0M359.6 278.9h0M466.8 352.4h0M424.9 228.2h0M356.8 267.3h0M622.3 277h0M447.2 98.4h0M550.2 337.2h0M462.4 97.9h0M430.1 219h0M628.2 200.8h0M489.2 276.2h0M379.5 262.1h0M493.2 306.7h0M409.1 235.5h0M621.7 149.8h0M353.1 248.1h0M555.7 310.9h0M404 156.1h0M376.8 235.8h0M479.3 311h0M403.3 250.8h0M449.7 207.9h0M403 234.7h0M487.2 221.3h0M396.6 267.7h0M610.7 266.3h0M546.9 310.7h0M416.5 326.8h0M425 130.9h0M412.5 124.8h0M393.1 309.6h0M458.5 232.3h0M471.7 100.6h0M615.2 281.2h0M494.9 214.8h0M450.2 110.9h0M509 214.4h0M509.5 288.3h0M494.8 245.2h0M469.4 189.1h0M518.9 253.5h0M373.7 185.9h0M433.7 187.5h0M423.4 247.1h0M637.6 220h0M420.5 124.6h0M506.8 322.8h0M453.8 239h0M636.8 195.6h0M471.9 342.2h0M511.5 183.9h0M494.8 130.9h0M480.2 153h0M438.3 170.5h0M437.8 238.6h0M609.5 201.9h0M532.2 289.5h0M563.9 324h0M453.4 218.8h0M423.5 324.1h0M364.2 207.9h0M609.5 132.9h0M466.3 306.1h0M435.2 318.7h0M447.9 335.7h0M445.5 121.3h0M427.8 299h0M427.3 222.1h0M519.8 330.2h0M577.9 310.5h0M483.5 299.3h0M456.9 201.2h0M378.9 153.2h0M355.9 188.4h0M420.1 185.5h0M588.4 202.8h0M407.2 325.1h0M499.1 167.4h0M444.5 130.8h0M401.4 147.4h0M427.2 329.8h0M587.8 110.3h0M415.7 157.6h0M506.9 360.5h0M487.5 339.5h0M376.1 221.6h0M616.7 240.2h0M458.8 342.4h0"/></defs>
<use href="#n1_6" stroke="#1E5A3E" stroke-width="3.5"/>
<use href="#n1_6" stroke="#3C9D6C" stroke-width="2.5"/>
<defs><path id="n1_7" d="M466.3 92h0M449.9 245.4h0M461.1 332.3h0M596.1 281.5h0M560.7 327.8h0M461.7 338.4h0M466.6 301.7h0M429.7 258.1h0M511.3 320.2h0M607.9 262.6h0M361 169.8h0M468.8 310.7h0M446.3 150.8h0M589.9 313.7h0M498.3 301.8h0M623.8 252.9h0M485.2 236.5h0M502.1 204.5h0M433.2 127.4h0M394.4 223.3h0M575 210.8h0M524.7 294.4h0M430.4 207.2h0M592.6 210.7h0M385.7 164.9h0M587.1 292.1h0M611.3 180.4h0M491.9 250.5h0M599.7 124.6h0M573.1 300.4h0M399.1 311.3h0M485.5 252.6h0M363.9 219.3h0M405 188.9h0M478.8 324.3h0M411.2 215.9h0M476.3 237.7h0M404.6 174.4h0M358.5 174.1h0M499.5 339.7h0M577.8 305.4h0M603.9 212.5h0M436 345.3h0M500.7 283.7h0M517.6 337.8h0M568.5 232.3h0M566.5 264.9h0M349.2 200.9h0M527.9 235h0M425.6 338.9h0M590.4 270h0M517.7 212.4h0M540.4 226.8h0"/></defs>
<use href="#n1_7" stroke="#90500F" stroke-width="4"/>
<use href="#n1_7" stroke="#FA8C1E" stroke-width="3"/>
<defs><path id="n1_8" d="M506.7 334.7h0M482.4 139.7h0M520.7 238h0M567.5 316.5h0M444.3 108.2h0M428.5 282.4h0M409.4 130.5h0M430.4 174.8h0M422.8 159.2h0M495.9 346.3h0M630.3 193h0M357.4 223.6h0M426.1 115.2h0M461.6 142.2h0M456.8 143.1h0M486.9 191.8h0M545.2 284.3h0M526.2 282.7h0M563 261.1h0M440.8 313.7h0M620.4 200.1h0M410.7 224.5h0M429.2 143.4h0M459.7 263.1h0M538.4 321.6h0M436 281.2h0M475.3 280h0M430.4 214.1h0M505.6 225.2h0M434.2 119.7h0M518.8 304.4h0M502.8 304.1h0M454.5 353.5h0M523.3 312.4h0M448.2 308.4h0M432.9 113.7h0M487.3 269.1h0M484.6 169.7h0M603.6 235.4h0M354.6 257.5h0M398.3 215.3h0M462.2 274.2h0M382.3 140.7h0M476.9 146.2h0M454.4 334.2h0M506.3 349.2h0M371.9 263h0M443 169.9h0M453.8 153.4h0M551 345.1h0M547.1 267.9h0M518.8 287.5h0M463.2 110.7h0M618 270.9h0M395.4 276.7h0M417.1 321.3h0M401 197.4h0M501.2 355.4h0M401 138.7h0M611.4 270.6h0M607.3 280.8h0M519.1 281.3h0M574.5 294.4h0M411.8 270.7h0M571.5 331.8h0M493.5 317.7h0M439 193.3h0M404.8 329.9h0M617.2 147.6h0M373.2 252.6h0M455.4 284.7h0M423.7 141.3h0M571 266.2h0M499.7 193.4h0M404.5 257.3h0M627.3 240.8h0M403.5 219.4h0M396.9 253.1h0M502.1 198.6h0M484.9 82.6h0M389.6 316.6h0M612.2 289.1h0M481.5 163.2h0M527.6 307.1h0M489.7 81.6h0M351.8 243.5h0M515.9 248.6h0M419.9 254.1h0M480.7 87.7h0M403 283.7h0M475.9 207.8h0M393.1 256.7h0M479.1 108.3h0M499.7 316.5h0M448.2 169.5h0M462.3 252.2h0M457 292.9h0M518.6 299.3h0M481.3 286.8h0M418.4 195.6h0M524.3 182.1h0M509.2 245.4h0M508.1 302.1h0M457.9 226.1h0M399.8 132.9h0M580.4 264.8h0M385.2 160h0M594.6 310.2h0M619.3 183.6h0M592.8 244.7h0M516 312.6h0M622.8 157.9h0M399.9 191.4h0M630.6 174.3h0M497.1 360.3h0M367.4 159.2h0M623.8 186.8h0M480.9 205.3h0M456.9 214.5h0M444.3 214.7h0M380.8 266.4h0M437.8 183.9h0M551.9 285.5h0M403.6 243.7h0M348.4 229.9h0M494.4 184.8h0M452.5 256.3h0M567.6 237.5h0"/></defs>
<use href="#n1_8" stroke="#1E5A3E" stroke-width="4"/>
<use href="#n1_8" stroke="#3C9D6C" stroke-width="3"/>
<defs><path id="n1_9" d="M574.8 130.5h0M562.7 213.5h0M540.5 312.6h0M464.8 152.3h0M532.4 334.2h0M508.3 308.6h0M553.3 275.5h0M398.3 238.2h0M503 267.4h0M568 328.6h0M521.2 246.7h0M632.4 213.7h0M485.9 344.3h0M478.4 174.6h0M456.6 118.7h0M506.5 275h0M487.4 262h0M355.8 198.4h0M364.8 177.7h0M488.2 199.2h0M472.9 307h0M465 228.4h0M427.8 187.6h0M448.7 296.9h0M489.7 173.9h0M416.8 181.9h0M457.8 305h0M474.7 291.5h0M469.7 161.1h0M603.1 158h0M473 92.5h0M552.5 332.3h0M554.3 339.8h0M482 276.6h0M513.2 306.8h0M532.7 257.6h0M484.7 349.2h0M569.8 251.7h0M466.7 257.9h0M521.5 231h0M574.8 273h0M619.4 207.3h0M496.9 85.1h0M448.1 240.7h0M467.9 144.1h0M390.8 205.2h0M487.8 165.5h0M406.8 203.8h0M453.4 107.5h0M487.3 229.2h0M443.6 288.3h0M586.9 276.5h0M444.8 113.2h0M395.1 167.4h0M517.5 352.4h0M434.8 228.7h0M372 257.2h0M391.1 182.3h0M360.9 249h0M588.2 232.5h0M493.4 334.2h0M462.4 237.9h0M513.2 330.2h0M461.9 183.1h0M380.5 206.5h0M367.2 254.4h0M430.2 334.6h0M505.3 291.8h0M497.7 293h0M422.4 202h0M458.1 111.3h0M615.1 177.4h0M477.4 350.7h0M624.1 258h0M563.8 201.7h0M528.6 201.2h0M384.6 285.5h0"/></defs>
<use href="#n1_9" stroke="#1E5A3E" stroke-width="4.5"/>
<use href="#n1_9" stroke="#3C9D6C" stroke-width="3.5"/>
<defs><path id="n1_10" d="M557.9 281.7h0M593.9 265.6h0M355.9 183h0M442.8 224.8h0M580.4 322.6h0M550.6 299.1h0M478.4 216.7h0M452 124.6h0M530.7 222.4h0M558.9 274h0M480.3 180.4h0M430.7 153.2h0M585.4 248.8h0M444.6 161.5h0M488.5 357.1h0M524.4 222.9h0M456.6 157.4h0M613.4 214h0M582.9 269.1h0M596.5 218h0M550.9 291.2h0M506.3 210.5h0M461.5 157.7h0M607.3 273.3h0M426.6 120.8h0M440 302.8h0M411.9 154.1h0M468.4 243.9h0M430.7 340.7h0M387.2 303.3h0M443.7 260.3h0M527.4 240.6h0M387.5 264.7h0M475.8 319.3h0M579.7 290.5h0M567.6 195.8h0"/></defs>
<use href="#n1_10" stroke="#90500F" stroke-width="4.5"/>
<use href="#n1_10" stroke="#FA8C1E" stroke-width="3.5"/>
<defs><path id="n1_11" d="M555.2 246.9h0M533.1 243.8h0M586.4 226.5h0M487.4 180.8h0M545.6 237.1h0M532.8 250.1h0M535.7 278h0M523.4 212.2h0M599.5 275.9h0M567.2 299.5h0M512.7 269.2h0M573.1 219.4h0M615.1 230h0M594 304.4h0M534.4 264.8h0M585.3 306.9h0M542.8 327.6h0M603.4 185h0M597.2 240.2h0"/></defs>
<use href="#n1_11" stroke="#1E5A3E" stroke-width="5"/>
<use href="#n1_11" stroke="#3C9D6C" stroke-width="4"/>
<defs><path id="n1_12" d="M536.4 204.2h0M541.7 264.3h0M535.3 271.4h0M612.7 247.9h0M519.9 271.8h0M607 250h0M507.2 205.4h0M602 265.9h0M543.5 300.2h0M556 316.8h0"/></defs>
<use href="#n1_12" stroke="#90500F" stroke-width="5"/>
<use href="#n1_12" stroke="#FA8C1E" stroke-width="4"/>
<defs><path id="n1_13" d="M534.2 227h0M496.4 228.5h0M578.4 188.4h0M603.8 289.4h0M606.2 194.1h0M569.8 280h0M580.8 245h0M578.5 283.9h0M569.1 273.6h0M554.2 264.1h0M547.4 252.5h0M595 224.1h0M590.6 282.5h0M597.3 187.8h0M508.6 189.5h0M568.3 292.7h0M554.4 255.8h0"/></defs>
<use href="#n1_13" stroke="#1E5A3E" stroke-width="5.5"/>
<use href="#n1_13" stroke="#3C9D6C" stroke-width="4.5"/>
<defs><path id="n1_14" d="M579.7 217.1h0M560.9 290.1h0M579.8 253.4h0M596.1 255.8h0M536.2 234h0M596.8 249h0M595.2 201.9h0"/></defs>
<use href="#n1_14" stroke="#90500F" stroke-width="5.5"/>
<use href="#n1_14" stroke="#FA8C1E" stroke-width="4.5"/>
<defs><path id="n1_15" d="M588.5 181.6h0M602.5 164h0M600.3 196.1h0M542.3 210.2h0M553.8 234.8h0M536 212.4h0M512.9 201.6h0M611.2 208.6h0M585.9 214.4h0M560.5 240.1h0M562 227.3h0M614.1 199.1h0M545.9 223.9h0M519.8 205.1h0"/></defs>
<use href="#n1_15" stroke="#1E5A3E" stroke-width="6"/>
<use href="#n1_15" stroke="#3C9D6C" stroke-width="5"/>
<defs><path id="n1_16" d="M534.6 163.6h0M562.3 220.5h0M587.1 259.1h0M517.5 199.3h0"/></defs>
<use href="#n1_16" stroke="#90500F" stroke-width="6"/>
<use href="#n1_16" stroke="#FA8C1E" stroke-width="5"/>
<defs><path id="n1_17" d="M488.8 141h0M559.3 180.2h0M593.9 169.3h0M582.1 192.9h0M493.5 168.6h0M559.6 207.9h0M531.6 206.7h0M504.1 218.1h0"/></defs>
<use href="#n1_17" stroke="#1E5A3E" stroke-width="6.5"/>
<use href="#n1_17" stroke="#3C9D6C" stroke-width="5.5"/>
<defs><path id="n1_18" d="M589.8 196.7h0"/></defs>
<use href="#n1_18" stroke="#90500F" stroke-width="6.5"/>
<use href="#n1_18" stroke="#FA8C1E" stroke-width="5.5"/>
<defs><path id="n1_19" d="M505 161.7h0M575.9 198h0M473.5 138.4h0M552.2 191.3h0M542.5 201.7h0M507.6 135.6h0M612.3 158.7h0M505.8 180.3h0M557.6 214.9h0M547.2 216.6h0M555.2 224.3h0M583.9 237.2h0M539.8 240.3h0"/></defs>
<use href="#n1_19" stroke="#1E5A3E" stroke-width="7"/>
<use href="#n1_19" stroke="#3C9D6C" stroke-width="6"/>
<defs><path id="n1_20" d="M613.6 168.5h0M522.8 87.7h0M571.5 113.4h0M548.2 198.9h0M572.5 258.8h0"/></defs>
<use href="#n1_20" stroke="#90500F" stroke-width="7"/>
<use href="#n1_20" stroke="#FA8C1E" stroke-width="6"/>
<defs><path id="n1_21" d="M572.7 124.8h0M472.5 125.5h0M576.5 182.2h0M488 104.8h0M604.7 138.4h0M503.6 110.9h0M498.2 115.4h0M543.2 91.6h0M529.6 178.2h0"/></defs>
<use href="#n1_21" stroke="#1E5A3E" stroke-width="7.5"/>
<use href="#n1_21" stroke="#3C9D6C" stroke-width="6.5"/>
<defs><path id="n1_22" d="M617.7 163.7h0M602.2 130.2h0M538.3 220.4h0"/></defs>
<use href="#n1_22" stroke="#90500F" stroke-width="7.5"/>
<use href="#n1_22" stroke="#FA8C1E" stroke-width="6.5"/>
<defs><path id="n1_23" d="M595.5 138.5h0M494.2 161.2h0M533.6 187.5h0M534.1 88h0M597.4 176.7h0M571.2 189.7h0M500 155.3h0M552.8 184.9h0M504.6 119.5h0M561.4 193h0M579.4 161.2h0M513.3 114h0M593.5 148.6h0M573.6 242.1h0M601.6 228.4h0M514.8 220.2h0"/></defs>
<use href="#n1_23" stroke="#1E5A3E" stroke-width="8"/>
<use href="#n1_23" stroke="#3C9D6C" stroke-width="7"/>
<defs><path id="n1_24" d="M497.1 124.2h0M525 96.2h0M491.9 110.6h0M620 169.8h0M582.3 177.6h0M566.8 209.6h0M571.7 203.4h0"/></defs>
<use href="#n1_24" stroke="#90500F" stroke-width="8"/>
<use href="#n1_24" stroke="#FA8C1E" stroke-width="7"/>
<defs><path id="n1_25" d="M580.7 123.6h0M558.1 137.8h0M527.9 192.6h0M513.3 96.5h0M513.6 158h0M508.3 104.5h0M587.5 165.1h0M575.1 174.1h0M560.1 99.2h0M517.7 179.6h0M489.1 95.5h0M512.2 84.9h0M581.8 204h0"/></defs>
<use href="#n1_25" stroke="#1E5A3E" stroke-width="8.4"/>
<use href="#n1_25" stroke="#3C9D6C" stroke-width="7.5"/>
<defs><path id="n1_26" d="M534.5 169.8h0M518.3 186.7h0M565.6 182.3h0M501.8 132.8h0M586.5 145.4h0"/></defs>
<use href="#n1_26" stroke="#90500F" stroke-width="8.4"/>
<use href="#n1_26" stroke="#FA8C1E" stroke-width="7.5"/>
<defs><path id="n1_27" d="M529.2 105.4h0M569.5 107h0M526.9 171.6h0M495.9 139.9h0M511.5 166.8h0M549.4 205.9h0M588.2 138.2h0"/></defs>
<use href="#n1_27" stroke="#1E5A3E" stroke-width="8.9"/>
<use href="#n1_27" stroke="#3C9D6C" stroke-width="8.1"/>
<defs><path id="n1_28" d="M517.5 171.4h0M536.3 197.1h0"/></defs>
<use href="#n1_28" stroke="#90500F" stroke-width="8.9"/>
<use href="#n1_28" stroke="#FA8C1E" stroke-width="8.1"/>
<defs><path id="n1_29" d="M564.4 171.3h0M551.7 94.7h0M582.8 154h0M545.3 189.1h0M506.3 145.2h0M593.4 128.2h0M542.7 176.8h0"/></defs>
<use href="#n1_29" stroke="#1E5A3E" stroke-width="9.4"/>
<use href="#n1_29" stroke="#3C9D6C" stroke-width="8.6"/>
<defs><path id="n1_30" d="M587.7 172.6h0M556.1 201.3h0M607.2 151.1h0"/></defs>
<use href="#n1_30" stroke="#90500F" stroke-width="9.4"/>
<use href="#n1_30" stroke="#FA8C1E" stroke-width="8.6"/>
<defs><path id="n1_31" d="M518.9 148h0M541.4 115.4h0M514.3 138h0M503.7 173.2h0"/></defs>
<use href="#n1_31" stroke="#1E5A3E" stroke-width="9.9"/>
<use href="#n1_31" stroke="#3C9D6C" stroke-width="9.1"/>
<defs><path id="n1_32" d="M509.9 125.5h0M578.1 143.4h0M520.7 131.1h0M524 120.5h0M592.6 158.1h0M551.5 174.3h0M487.6 120.4h0"/></defs>
<use href="#n1_32" stroke="#1E5A3E" stroke-width="10.4"/>
<use href="#n1_32" stroke="#3C9D6C" stroke-width="9.6"/>
<defs><path id="n1_33" d="M520.6 109.6h0M535.5 96.5h0M579.5 113.5h0M580.6 134.5h0"/></defs>
<use href="#n1_33" stroke="#90500F" stroke-width="10.4"/>
<use href="#n1_33" stroke="#FA8C1E" stroke-width="9.6"/>
<defs><path id="n1_34" d="M561.7 108h0M537.1 108.3h0M587.8 120.7h0M571.4 165.3h0M533.4 137.4h0M548.1 155.5h0M544.5 164.6h0"/></defs>
<use href="#n1_34" stroke="#1E5A3E" stroke-width="10.9"/>
<use href="#n1_34" stroke="#3C9D6C" stroke-width="10.1"/>
<defs><path id="n1_35" d="M572.1 152.2h0M549.2 124.5h0M492.1 149.8h0"/></defs>
<use href="#n1_35" stroke="#90500F" stroke-width="10.9"/>
<use href="#n1_35" stroke="#FA8C1E" stroke-width="10.1"/>
<defs><path id="n1_36" d="M556.8 129.3h0M567.5 131.1h0M554 162.1h0M547.9 104.8h0M565.9 119.7h0M532.4 149.7h0"/></defs>
<use href="#n1_36" stroke="#1E5A3E" stroke-width="11.4"/>
<use href="#n1_36" stroke="#3C9D6C" stroke-width="10.6"/>
<defs><path id="n1_37" d="M541.9 144.1h0"/></defs>
<use href="#n1_37" stroke="#90500F" stroke-width="11.4"/>
<use href="#n1_37" stroke="#FA8C1E" stroke-width="10.6"/>
<defs><path id="n1_38" d="M539.2 156.9h0M551.7 115.5h0M532.5 117h0"/></defs>
<use href="#n1_38" stroke="#1E5A3E" stroke-width="11.9"/>
<use href="#n1_38" stroke="#3C9D6C" stroke-width="11.1"/>
<defs><path id="n1_39" d="M540.1 125.3h0"/></defs>
<use href="#n1_39" stroke="#90500F" stroke-width="11.9"/>
<use href="#n1_39" stroke="#FA8C1E" stroke-width="11.1"/>
<defs><path id="n1_40" d="M524.3 140.3h0M567.8 140.7h0M563 156.3h0M529.8 127.7h0"/></defs>
<use href="#n1_40" stroke="#1E5A3E" stroke-width="12.4"/>
<use href="#n1_40" stroke="#3C9D6C" stroke-width="11.6"/>
<defs><path id="n1_41" d="M525.3 161.6h0"/></defs>
<use href="#n1_41" stroke="#90500F" stroke-width="12.4"/>
<use href="#n1_41" stroke="#FA8C1E" stroke-width="11.6"/>
<defs><path id="n1_42" d="M553 145.9h0M545.7 134.8h0"/></defs>
<use href="#n1_42" stroke="#1E5A3E" stroke-width="13.4"/>
<use href="#n1_42" stroke="#3C9D6C" stroke-width="12.6"/>
</g>
</g>
<g fill="none">
<defs><radialGradient id="g2h" cx="823" cy="220" r="161" gradientUnits="userSpaceOnUse"><stop offset="0.75" stop-color="#A060D0" stop-opacity="0.45"/><stop offset="0.9" stop-color="#C090E0" stop-opacity="0.24750000000000003"/><stop offset="1" stop-color="#E0C8F0" stop-opacity="0"/></radialGradient></defs>
<path d="M985 220L984 236L981 253L976 269L970 285L962 300L953 314L942 327L930 339L917 349L903 359L888 366L873 372L856 377L840 379L823 380L806 379L790 376L774 371L758 365L743 358L729 349L716 338L704 327L693 314L683 300L675 285L668 270L663 253L660 237L659 220L660 202L662 185L667 169L674 153L682 138L692 124L703 112L716 100L729 91L744 82L759 75L774 70L790 65L807 63L823 62L840 62L856 64L872 68L888 73L904 80L918 88L932 99L944 110L955 123L965 138L972 153L978 169L982 186L985 203Z" fill="url(#g2h)"/>
<path d="M688 269l-2-4 2 1 2-15-7-41 161-137-162 123-11-30 39-28 5 0 14-36 29-5 67-27 8 8-41-12 4 15-28 24-10-16-10 18 51-17-36 8-38 12 8-13-19 43 1-13 32-13 18-15-1-7-38 31 18-31-14 5 14-9-2-2 14 23 205 46-15-11 1 41-5-8 40 28-31-25-7-1 16-39-67-22-50-28 108 50-46-12 17-33-23 3-19-15-51 13-36-26 20 22-11-15-5 19-91 36-23 20 49-32 2-18 71-19 66-11-6 29 39 26 19-11-51-19 44-5 19 69-5-7 32 1-13 98 1 16 11-35-23 35 23 14-9 14-46 42-35 18 0-14-10 4-45 29 8-4-18-22-37-12 46 8-18 7-14-9 30 7-54-11 44 29-59-47-38-33 119 59 19 4-48-6 1 3-2 24 34-18-34-4-16 3-32-33 31 44 8-16-49-32-30-16 139 58 19-6-62 7 22-13-29 21-32-18 34 1-35-9 18-2-30 13-23-24 6 5 18 8 31-4-28-5 11 8 76 6 26 15-23 0-59-9 1 0-38-17 9 16 4-22-45-19 15 10-37-17-24-30 48 21-30-9 17-6 27 46-10-12 19 14-19-15-22-37-3 29 25-2-23-27-1 36 19-11 21 34 0-22-25 3 4-16-4-5 24 17-47-32-4-51-20-7 12 23 17 15-8-18-18-37 16 15 0-7-17 1 0-18 49-68-15 14 28-16 4-39-16 47 38-29-2 0 37-34 57 11 13-1 33 38-7-36 4 17-18 0-42-38-38 24 42-3 3-5-10 16 18-12 7 15-27-2-13-23-27 13-57 32-19 26 41-35 188 36-26-16 1 9-19-20 16 14 30 20-58-56 63 51 34 36-33-7-260-27-11 48 0 17 2 33-10 23 42 37-34-24 14 15-4-7-4-47 4-79 13-7 64-58-52 39 14-9 41-24-24 3-53 69 8-17-32 79 28 14 5 14 41 50 0 22-9 7-4-41 20 15-78-52 0-45 21 19-4 2 9 13 43 55 29 19 45-237 1-3-98 12-20 47 5 12-10 25-9 70 6-52 12-53-7 95 0 4-3 7 9 6-15-63 28-61-11 21 11-24-22 5 9-17 24-26-10 26 23-19 7-4 8 7 21-6 16-20 37 13-77-10-68 161 238-106 14 26-17-45-2-27 38 44-4 45-12-35-4 10 16 45 36 1-275 111 30 6 14 22 40-3 45 8-42-6-44-9-22-28-40-41 2-27 1 67 10-15 24 43-35-60-3-26 128 127 0-23-21-9-42-17-37-26-20-43 7 15 2 3-19 18 19-6 10 2 1 28 63 52-19-34-35-3 36-4 25 45 12-2-8-25 1 14-14-11 3-7 38 5-56-18 37 42-25-20-20-21-17-15-6-7-31-22 57 40 36 22-34-16 3 21 149-256-38 10 34 19 20-7-17 8 10 19 42 30-34-16-53-53-19-29 63 43 37 10-63-16 18-18 20 45 2-36 23 117-9 44-197-154-36 0 38-4-28-8 11 23-16-6-30 29 11 14 15-28-9-6 46-29 4-13 27 2 48-6 24-10 31 28 24 32 18 19-22-22 43-5-69-14-4-4-55-21 42-1 28-6 42 63 19-7-44-18 41 73 17 29-28 56 23-56 15 7-27-9 12 24-23 44 0-4 15 29 16-39-178 107-8-23 4-12 35 12-77-22 13-3 2 16-5 9 27-6 6 24 8-12 8-12-4 7-10 5-47-31-52-76-26-41 9-5 3-4 9-25 94-79-21 1 11-11 46 3 16-22 13 7-29 18-23-12 6-8 4-10 55 18-36 13 6 1 32-3-9-25-48 29 40-1 28-15-39 10 38 15 26 13-36-31 24-13-73-3-43 9 53-15 128 194 26-6-23 48-23-10 15-23 4 48 14-54 2-7-14 0-2-15-4 16 4 34-31 40-16-10 8 12 18-32 28-6 0-31-28 43 17 18-21 5 20-71 8-7 15-28-11 36-13 13-185 77 59 19-25 3 17-22-60 7-55-67 57 30 208-139-29-21 22 21-60-81 26 5 25 8 25 58-41-38-13-34-57-7 10 12 48-7 13 51 44 39-23 42 10 27 10 28-23-29-4 21 5 7 14-32-13-52 10 65 21-21-38 25-9 25-21-161 26 31 43 11-10-26-32 20-3-51 5 65 5-20 0-8-16-10-16-16 18 34 14 20 26 55-11-11 1-2 6-5 3-16 6 3 0-19 9 16-35-37 9 22-12 11-8-43 6-8-11-6-42-35 0-24 6 38 52 87 13 68 12-13-55 53 2-13 27-51-1 13 32-38-7 9-23 24-22 36 11 19 9-72 3-12 23 17-8 10-35 36 20-97 5 7-7 26-9 48 30-9-2-42-16-6 29-7 2 37-6-17-11-32-5 26 13-16-2 22-18 46 29-71-39 61 25-16-20-17 12 22-4-6-5-3 30-10-27-7-8-32 29 0-24 58 32-37-58-68 27 11 3 12-2 33-5-6 8-29 14 17-291 34 4-14-17 10 26 26-1 1 13 50-16-64 233-103 6 9 29 6-29 10 0-1 16-13 9 81 14 54-10-4 23-40-46 55-24 25 23-7-40 22-44 46 18-18-36-6-70-19 13 23 33 6 26 3 60-12-38 6-56-9 43-2 28 23 2-27 29 10 31-58-3 4-52 42-17 2-56 6-42-21-19 1-24-1 41 27-34-14 11-11-4-20-37-42 1-8 21 32-11 25 0-6 8 16 82 41 8 4 72-34 33-19-26 16 0 12-33 23-29 6-137-201 22-21-24 27 28-34-4 4 26-55 13 1-30 33 39-27-2 8-14 9-29 16-16 43-3 60-23-31 22-68 44-18-14 12-47 40 23 4-24 33 36 95-19-109-7-7 3 60 6 8-22-86 19-31 61-34-40 27-28 23 18-19-18 21 19-8 12-45 33-14 29 9 16-33 103 43-38-21 32 20 26 26 48 43-26-14 36 14-18 26 9 17-14 15 4 2 1 10 15-6 7 10-21 21 3 14-6-16-3 50 10-69-4-46 9 89-71 36 38-21-37 16 41-22-7 9 32-74 2 21 3 4 18-15-8 7-44 47-14 3 37-15-29 8-35 48-16-9 23-5-19 23 40-8-20-25-48 48 8-24 13 2-11-6 16-6-73 32 5-7-30-20-66-23-12-54-29-45 16-60 19-11-16 33 14-32-27 9 19-5 15-9 29-43-15 21 1-22 252 65-33 15 8 18 23 16-118 145-6-4 56-243 24 40 12 36 26 40 7-54-19 72 30-34-21-4-36-50-47-52 32 28-14 217 14-36 28-39 2-20-1 45-9-20 34-19-15 28-41 46-220-47 26 12-36-80 204 111-78 28 25 18 7-30-44 7-78-29-8-31-11-25-3-108 11-15-36 28 33-22 14-29 16-1-39 43-18 6 14-41-2 36 39-44 65-29 1-7 13 5-25 3-1 1-44 23 6-15-2-6 10 13-11 6-41 30 37-26 34-23 2-6 19 0 33 2-53-20 46-2 136 61-8-23-9-3-3 57 11 29 1 2 15 7 13 24 2-6-27-8 34 34-52 40-19 61 28-22-31-12-42 43-72-14 4 1-5-1-37 20 33 0-3-23 21 13 6 25-15-29 8-4-5 18 84-14-24-3 9-2-14-1-1 0-19 6 12-4-57-4-30 7 56 5-42-16-5 0 25 39 33-10 62-21 20-29 4 24-26-3-2-6-23 27-45-12 47-4 3-2 60-47 3 28-8-4 10-25 35-28 5-4-8-38-2 36-35 43 34-21 3 2-3-29-25-83-1-47-251 133 6-6 1 5 59-158-8 7 29-1-38 9-1 7-38 11 17-23 17-4-16 38-2-4-1-3 5-31-44 62 24-7-8 27 0 11 3-3 12-71 46-40 19 24 44-17 7-19-34 18 27 0-24-21 18 29-64 0-36 27-33 49-6 8 0 28 29 63-16 11 278-62-16 49 27-3-20 13 26-5-36 41-47 12-8 27-21 13 30-17-12-15 1-2-52 15-22 8 13-6-74-3-11-11 38-2 1 3-28 1 65 8-11 8-2 8-58-26 17 21 54-11-3 31 5-31 18 33 10-20 51-30-10 7-47 29-90-46-45-45-22 4 7-43-15-31-7 32 21-2 1-16-9 36 8 11-1 9-7-8 23 14 5 33 25 3 69-220 0-27-26 34-59 18-11 31-27 24 8-29 25-30 64-15 53-6 13-23-48 4-5 19-6-27-33 41-29 29-9-29 90-38 9 24-66 5 34-5-22-7-14 26 53-48-50 51-1-10 59-21 11-21-35 23 38 7 5-4-15 4 30-12-34 1 19-12 14 22-13-9 26 2-18-3-45-10-24 26-23 1-15 19-12 15-8 24 1 1 249 5 4 20-6-28-6-20-18 4 46 16-27 22 11 3 24-8-42-11 19-18-31 2 13 31 9 34-5 54-21 40 40-28-17-25 36 5-30-56 22 40-31 37-26 55-18-10 1 24 38-56 0-16 4-7-26 48 2-1-7 31-1-33-14 37 64-47-31 21 27-35-57 33-7 21 6-13 5-2 35-47-4 13-28 29-5 2 6 3-38 28 41-9-26-10 34 2 20-36 3-12 14 7 3-89 24-23-4-15 2 81-14-41-4-5-1-23-3-30-5 6 0 36 8-3-11 1 6 42-4-30 20-1-21 58-5 25-101 86 7-5 2-22 11-6-55 3-29 8 8-12-94-70 9-2 0 9-17-78-7 40 2-5-3-49 4-28 4 74 39 69 50 34-63-47-39-34-5-1 36 26-13 23 7-24-30-35 9-34 25-48-17-12-8 36 26-27-18-16-5 46 29-40-7 14-13 9-19 32-1 46 16 27 22 2-11 22 5 11-6-54-15 13 1-32 8 8-23-37 23-11" stroke="#4A30F0" stroke-width="0.5" opacity="0.7"/>
<path d="M760 328l-31-10-4-18-23-17-6-16 35 43 14 11-29-30-24-26 221 46 24 16-7-7-27 8 0-6 14-18 31-14-3-39-2 44 2-38 2 31-36 44-24 0-35 25 4-14 5 11-21 24 62-21-22-23-55 19 18-7 29 14 1-23-14 14 9 18 8-31-35 21-19-12-55-5 6 11-18-7-21-29-19-26 37 33 32 29 35-5-34-5-51-24-15 0-55-93 83 101-56-62-30-39 19-15 6 47-9-7 38 39 6 7 15 21 47 25 73 30 46-47-42 21-23-1-35 31-30-44 21 10 5 21 11-17 24 5 12-4-23 17 68-36 36-20 7 16 6-11-221 17-14-35-2-18-20 0 18-8 18 37 255-97-33 58 24 6-9 23-46 30 60-55 3-22-19-2 0-2 13-1-33 34 11 6-100 66-1 23 5-29-1 27-46-28-3 4-23 2 9 6 37 3 55-23 19-12 51-71-109 93 7-1-1 18-11-7-21 10 30-10 32-19 98-58-28-12 5-26-97-146-27-8 45 12 13-21 36 49 42 18-23-30-24 9 3-37-23 6-17 4 36 4-32 2-24-9 2-1-51-5-35-13-17 33 30-15-13-17-7 10-14 25-47 44-19-10 14 4-1 17 11-31 105 213-75-28-5-10-20-19-3 34-2-20-22-27 1-48-3 3 2-21-10-5 36-79 57-49-7 24 2-2 142 240-8-19-57 24-25 2-71-31-1 7-22-16-46-56-2 3 26 20 4 9-4 5-20 4 17-5-17-5 30 7-9-16 6 8 33 32-48-17 0-42-4-5 28 46-2 31-22-18 27 5 29 13 18 9 53 24 33-11-14 9 34-5-33 23-17-22 2 23-23-33-32 9 43-4 52-8-14 16 0 9-28 13-21-35 31 31 24-31-33 9 10 15 56-14-113-10-9 4-90-102 9-30-3-21 5-14-14 21 88-102 1-12-2 6 16-10-26 6 26 7-16-14-14 19-9-2 7 14 2-2 15-21-24-6 2 30 12-23 15 4 36-21-3 21-1-1 2-8 26 7 45 0-35-17 24 25 7-35-12 20-26-22 11-2 29 28-12-20 7 26 26 18-39-16-12-9 57 4-60-28-30 30 8-3 5-25-3 26 22-1 22 7-72-5 38-22-18 11 26-13 17 29 20 3-48-13-10 3 24 2-22-19-1-11-49 27-30 15-18 11-33 19 80-45 54 1 20 0-22-5 32 0-21-1-45-3-17 21-1-11 42 1 30-33 23 39-10-15 64 14-47-32-52 10-29 3 5 3-11 11 7 3 6 0 7-4 25-3 9 2 77 19-22 1 55 46 34 32-14 19 12 28-4-6-14-12 13 55 1-51 2 28-16-16-18-44 5 13 22 57-5-18-15-4 28 7-22 27-14 6 4-77 16 18-13 23 28-21-10 1-12 21-31 54 7 4-14 46-16-16 15-9 6 10-54 6 6 4-66 6-4 20 26-21-67-21 22 19-8 13 1-19-3-7-43-25 2-2 1 10 66 30-70-29 77 28-68 3-20-44 4 20-13-28-14 0 30 29-11-36-10 24 92 48-34-34-13 19-12-7 12-12 63 37-23-4 27-15 5 2-15 3-4 16 10-12-15 20 15-26 33-3-5 17-28-11 4-5-41-12-15-1 69 13 26 11 7-15-16 10-48 3 17 11-2-20-95-46-22-41-12 26 14-119-5-7-1 6 107-73-20 4-3-23 104 276-69 3-2 11-13-21-47-6 22-4-6 7 20 16-22-27 28 18-33 2 8-14-20-16 16 23-23-11 12 13 42 22 6-6-22-8-24-12 184-42-11 3 38-22 8-82-30-4 8-36 18 23-28-58 4 69 6 43 9 8-28 70 12 11-26-2 7-17-12 5 59-36-27-15-16 36-11 29 9 12-26-15 33-10 43-61-41 37 18-3 6-54-11 21 12 16-1 12-28 25-31 28 26 10 23-53-9-7-45 45 4-5 46-55-4 47-65 26 35-27 38-8 5-54-13 37 6 9-35 26-19 13-13 9-1-8-31 9 92-29 14-26-22 6-13 8 9-3 26-79-7-5 18 37-25 12-1 1 4-6 13 14-32 20 44-23-20-48-2-28-3-4-15-35 30-11-17 16-29-52-14 7-38-44-11 16 43-4 9 10 8 32 52 30-2 42-2 25 8 20-28 28-13 24-1 14 1-2-7-5 32-45 27-10-2 21-10-23 0 12-7 41-9-23-14 19 39-42-2 26-31 25-14 5 2 5-56 24 24-12 20 20-38-11 28 0 19-33-19 24 44-33-86 48-84 21 4-10-22 10 15-21 3 16-17-28-27 7-33-43 247-68 24-10-32 43 32-63-5-39-57-34-35-48 2 27 64 27 5 0-41-18 23-3-1 51 29 25-1 90-3-9 27-19-12 12-7-21-11 0 7 18-24 46 39-37-26-2-3-9-13 42 24 16-53 8 1 1-16 35 1 4-70-11 22 2-6 0 34-3-49 10 4 20 66-45-6 1 38-25-13 10 32-54 19-12 21-25-34-17 0-20 20-3-19 43 8 24 8 1-22 34 1-29-26 79-14-18-5 41 7-27-34 16 37-11-14-2-9 2-47 28-44-2 40-14-27-6 11 15-5 8-7-20-5 4 55 24-1-31 22-2-94 16-5-18-34 11 35-15-2 23 20-9-45-28-27-5 5 9 27 21-29-46 10 10-63-66 18 19 71 75-73-48 5 1 3-18-4 32 10-33-19-19 47 60-30-2 33 25-2-24-25-12 12 4-24-32 22 29-21-27 28 32 62 50 178-89-27 27 19-4 9-3-67 52-2 19-17-27-10 26-61-7 51-5-11 11-69-21 26 11-57-28 87 27-45-5-4 6 6 25 3-30-23 20-58-72 43-188 47-10 49-24 8 33-16-16-16-1 14 10 57 4-10 14 76 38-24 42-6-13 34 70-15 58-69 38-34 3-38-262 30 9-43-23-31 22 18 4 46-36-11 26-21-11 174 125-30-65-13 19 11 27-1-6 34 4-29 50 28 14-25 8 8 2-8 16-6 20-7-21-12 20-12 15-37 29 12-7-4 2-10 16 15-17-71 18-27-5-65-36 25 44-9-30-46-5 0-51-13 10 7-18-9-78-2-1-17 21 9 14-12 17 5-36 25 61-11 19 15-1-1-15-17-41 6 1 7 26 11 31 8 9-9-8 25 64-8-7 16-12 24 5 18 42 62-19-1-1 27 28-36-28-8 0-29 13-56-46 31 15 27 28 2-6 28 21 36-16-16 6 32-272 36 14-29-13-32-10-28 5 36-5 38 38-6-5 15-12-43-5 13-16-18-7 47 36 22 12 6 24 20 13-25-8 13-5 10 9 25 46 1 7-23 19 6-27 3 50-16 6-6 11-12 31 15-26 1 3-7 1-13 25 7-5 32-2-71 33 0 10 9-17 5 3-15 7-17 34-21 9 62-26 9-43 40-23-20-17-2 38-23 4 20 0-34 12 39-34 3 20 10-10-13 17-56 18 40 2-1-33 21-73 34-27-1 18-21-25-7 38-32-87 1 1-15-17 3-6-55-22 19 1 23 6-27-33-18 17 37 1-59-6 18 12 8-12 0-1 2 11 48 21 6-19 11 43 25 76-2-12 27-18-28 72 29-52-25 34-1-9 6-2 29-28-118 162-41 1-32 6 40-13 0-1 70-36 30-6-13 20 16-28-1 14-6-27 27 9-3 14-35-4-39 49 27-42 15 1-15 26-28-6 41-35 11-11 9-16-4 2-25 43-1-7-35 57-98-278 4 8 30-12 37 3-54-4-39 18-18-7 19 3 29-11-15 13 43-11 30-7-52 12 9-28-20 23 43 1 9-2 49-10-80 10-113 145 8 30-24-28 14-6-15-20 14 23 19 32 7 19-16 19 2-11-4-14-1-30 18 29-32-43 2 4 29 38-32-34-4-35 17 15-18 40 17-41 3-37-16 41-3-11 2-48 18 81 0-10-7-51-3-37 30-23 23-11 32-14 11-14-34 12-7 12-40 27 47-24-23 18-14 18-16-11 12 15 48-69 1 10 68-4 108 199-39 36 25-10 36-41-4-24-1 17-2 2-6 3 19-8-13 42-92 35 31 0-67 7-26 1-7-12-77-61 9 36-44-71 14-26 6 13-9 26-4-57 16 47 16 43-25-25 3-21-7-19-16-9 26-19-13-36 33-37-20 23-17 58 17-69 11 12 13-31 20-6 16-31 18 6 35-19 20 20-35 7-24 6 15 0 85-37-100 24 37 3-57 8-55 156-26-50 13-51 20 1-5 31-2 17-6-17 53-65-15 11-17 18-29 18 47-48 6 8-43 46 33-36-24-1 40-25 13-8 48-9-23 9 18-14 3-10-31-1 74-6 31 25-25-5-14 2-13-1-7-7 50-19-50 23-19-10-97 199-23-35-4-24 7-29-6 32 16-15 7 8 4 61-20-84 6 21 9-2-7-23 10 2 4-55-3-4 17-9-46 69 72-83-34 53 28-41-34 19 23-3-55 84 31 30-22-78 60-53 38-24 124 7 17-13-30 6-72-7-15-10 20-3 26 16-1-20-27 9-24 14-48 23-40 20-20 11 229-29-14-16 21 31 31-19-27-19 28 41-75-40 53 5-8 35 53 54-8-34-36-8-142-51 39-27 22 14 41-2-184 58-17 55 14-32 13-30 25-16 41-19 47-7 47-3-3-15-10-6-32 20-70 252 13 24 137-51-35 23 22-13 19-15 11-6-33 34-26 8-3 2-70 1-14-2-34-18-30-2-11-48-13-3 2-11 6-3-9-19 11 21-9 19 7 24-20-26 12 8-4-62-14 39 32-117-4 14 7-17-30 7 12 88 11 23-21-19 16 22 7 2-31-39 24-92-16 41 26-43 50-31-47 45-18 26-15 14 12 56 17 36-6-10" stroke="#F01828" stroke-width="0.5" opacity="0.7"/>
<path d="M945 312Q894 371 817 372M758 357Q694 325 668 258M703 319Q719 339 741 351M665 207Q668 246 686 280M900 358Q963 310 979 233M965 285Q990 240 983 189M879 359Q846 369 811 368M668 183Q657 237 678 288M885 359Q823 386 761 357M811 68Q838 69 866 74M810 63Q745 74 697 120M764 366Q790 381 820 380M741 92Q768 74 800 66M755 89Q702 115 680 170M950 139Q929 108 896 89M971 266Q984 229 980 189M847 71Q794 65 747 91M688 140Q654 198 669 263M667 185Q680 147 710 119M887 73Q836 55 784 67M683 159Q673 186 669 214M800 368Q724 352 683 286M767 76Q832 55 897 78M711 333Q685 309 674 277M674 261Q691 314 738 344M962 275Q976 243 976 208M872 369Q921 352 952 310M963 151Q983 197 970 247M979 190Q971 153 948 124M704 307Q661 248 681 178M717 339Q782 380 858 372M703 323Q665 278 660 220M777 367Q806 382 837 379M983 191Q988 247 963 298M730 347Q768 368 811 371M902 353Q855 383 801 371M826 368Q865 367 897 344M920 342Q895 358 867 365M979 243Q967 295 929 331M965 283Q991 213 963 143M862 371Q814 385 768 365M844 377Q782 380 729 347M981 222Q970 298 913 348M826 380Q884 375 927 335M855 375Q910 362 948 320M894 90Q830 55 764 86M981 244Q987 193 962 148M762 76Q724 89 697 118M669 166Q707 100 776 69M766 87Q846 56 918 102" stroke="#6A5CFF" stroke-width="0.5" opacity="0.7" stroke-dasharray="3 2"/>
<path d="M750 84Q812 56 878 69M968 287Q944 334 898 361M977 239Q971 268 956 293M947 306Q988 248 974 178M833 368Q903 364 943 307M829 376Q860 374 889 362M935 324Q909 359 868 374M954 131Q897 69 814 65M799 365Q743 356 710 309M664 221Q668 286 713 333M787 360Q717 342 688 276M675 276Q660 239 666 200M954 308Q935 334 907 351M673 183Q687 140 721 112M931 324Q965 286 969 236M900 89Q921 101 936 119M710 331Q738 362 780 372M704 120Q728 92 762 78M972 213Q970 241 961 268M800 69Q856 60 905 89M678 146Q725 86 798 64M703 121Q686 143 673 167M983 217Q974 141 915 92M872 70Q823 55 773 70M960 141Q932 92 878 72M770 80Q748 90 727 103M701 115Q654 193 673 281M948 305Q893 371 808 367M911 90Q933 107 953 127M662 198Q683 126 743 82M952 313Q991 233 967 147M948 315Q927 342 899 361M945 112Q975 144 983 188M966 169Q951 128 914 105M669 178Q683 125 730 95M687 292Q676 269 668 245M746 351Q824 386 899 347M707 314Q658 257 678 185M814 66Q870 62 919 92M682 284Q730 357 815 372M670 221Q671 249 680 277M867 67Q839 61 811 62M758 80Q693 113 670 183M835 378Q881 374 919 347M716 114Q736 96 761 84M958 282Q932 338 876 362M922 341Q891 365 853 376M855 71Q816 63 779 76M693 309Q673 280 662 247M731 100Q698 125 678 162" stroke="#FF3040" stroke-width="0.5" opacity="0.7" stroke-dasharray="6 1"/>
<filter id="g2b" x="-10%" y="-10%" width="120%" height="120%"><feGaussianBlur stdDeviation="1.8"/></filter>
<path d="M961 220L961 228L960 235L960 243L961 251L957 258L956 265L951 271L950 279L944 284L943 292L937 297L934 304L931 311L927 317L919 321L914 326L909 331L902 334L896 339L892 346L884 347L877 351L870 354L863 356L856 357L849 361L841 361L834 361L826 362L819 360L812 358L805 357L798 356L790 355L783 354L777 351L770 347L763 345L758 341L751 339L745 334L740 330L734 326L729 320L725 315L718 312L713 307L709 300L704 295L699 290L694 284L688 279L687 271L681 265L682 257L679 250L674 243L673 236L673 228L674 221L672 213L673 205L674 197L675 190L675 182L677 174L680 167L683 160L688 154L693 148L698 142L702 135L707 129L711 124L717 119L723 114L728 108L737 107L742 102L747 96L755 95L763 94L769 90L776 89L783 86L790 86L797 85L805 84L812 86L819 82L826 81L834 82L841 84L848 83L855 86L862 89L869 90L876 92L883 94L888 100L895 103L902 106L907 112L914 115L917 122L922 127L926 134L932 138L934 146L938 152L944 157L944 165L948 171L952 177L955 184L955 192L956 199L959 206L960 213Z" fill="#B0125A" filter="url(#g2b)"/>
<clipPath id="g2c"><path d="M961 220L960 243L955 265L946 285L934 304L920 321L903 336L884 347L863 355L841 360L819 361L797 357L777 350L758 341L740 329L723 316L708 301L694 284L683 265L676 243L673 221L674 197L679 175L688 154L701 135L717 119L736 106L755 96L776 88L797 84L819 82L841 83L862 88L883 95L902 107L918 122L931 139L942 158L951 178L958 199Z"/></clipPath><g clip-path="url(#g2c)">
<defs><radialGradient id="g2t0"><stop offset="0" stop-color="#F80A28" stop-opacity="0.88"/><stop offset="0.5" stop-color="#F80A28" stop-opacity="0.616"/><stop offset="1" stop-color="#F80A28" stop-opacity="0"/></radialGradient></defs>
<ellipse cx="925" cy="200" rx="65" ry="100" fill="url(#g2t0)"/>
<defs><radialGradient id="g2t1"><stop offset="0" stop-color="#5A14C8" stop-opacity="0.38"/><stop offset="0.5" stop-color="#5A14C8" stop-opacity="0.26599999999999996"/><stop offset="1" stop-color="#5A14C8" stop-opacity="0"/></radialGradient></defs>
<ellipse cx="715" cy="200" rx="60" ry="85" fill="url(#g2t1)"/>
</g>
<path d="M888 143l20 2-6-10-82 128 4 32 11 16 7 54-27-128-8 1-5 37 45 13-14 60-24-35 45 0 14 11 18-66-1-20-61 6-57 9-3 74-13-3 45 2-20-59 18 36 35 22-2-73-3 39-2-10 53 1-6-26-38 3 61-10 10 57 16-13-76-61-35 6-61 18-9 32-33-5 55 19-4-16 183-30-36-36 41 0-230-31 19 48 39 13 31 34-52 27 0 27 43 16 130-63-78-1-39-46 53 13-13-9-50 21 52-10-9 11 36-21 5-49 34 28-6-19-124-99-37 31 51 14-23 25 41-3-1-12-46-52 12-30-46 202 18-16-16 17 60-17 37-7-107-31 85 83 3 0 16-38-12 27-11-40 17 61 34 29-25 13-3-64 8-33-19 4-31-42 15 52 56 20 9 44-47 18-19-31 17-22 46-19 7-66-79-42 54 14 19 4-3 70 43-15-32-15-26-53-29 40-22-17-6 64 16-56 4-45 15 24-84 16-11-2-48 15 193 12 28 19 10 15 3 38-185-184 11 56 12-52-48 25 137 107-7-14-69-9-14 26-44-72-7 69 6-42 40 29 12-18 26-27 2 69-21 48 22-46-22 18 21-48 47-11-45 30 172-42-7-35-47-6-26-32 57 3-118 7-24 4-15 37 1-21 63-14-8 8-29 10-25 22 8-45-40 0 12-18-9 10-32-44-32 27 72 144-10-7-32-35-22 44-11-11 42 2 12 58 61 8-10-12-8 30 47-18-28 23 80-104-146-80 19 21 190 28-35-11-80 85 0 52 16-8 44-30-17-15-61-8-2-58 25-21-13 10 40 23 48 24 46-15-51-86-31-35 25 10-22-12 12 48-15 48-28 37-19-50 6 29 18 50-12-96-12-8-15-8 24-44-39 36 9-42-57 9-62-2 24 4 11-33 93-23 5 23 44-15-60 5 5 39 0 34-54-13-28-9 18-34-77 110 236 70-13 38-26 19-200-125 246 40 42-38-34 17 0 43 4-48 3 46 33-46-41-4-9 7 0 10-37 19 19-41 44 9-47 17 60 16 1-67-175 58-37-10 66-4-39-3 9 59 6-44 13 43-48-19 37-36 46-18-69-32-83 2 16 43 55 22 13 13 25 27 9 41 143-137-7-11-23-30-5 24 20 29-19-35-37-6 10-56-13 21-30-27-45-26-59 157 64-3 14-29 132 11-12-15 29 7-3-49 1 14 6 29-34 39-61 4-24 7 18-14 12 49-145-161 8 65 34 17 47-16 10-31 2 3-52 26 4 48-14 14 26-14-54 20 20 33 14-2 24 29 6-43 5 36-23-13 54 1-26-36 22 8 4 47 12-13-53 10 47 20 102-189 13 40-18-8-35-29-5 13 8 69-49 22 33 23-4-67-17 11 9-18-29 13-30 34 94-129-24-38-22 34-12-7 3-6 55 15 17 149-3 23-19-5 32-29 9-27-20 18-46 33-43 35-9-21-20 42 19-44 53-1-2 1-2 30-113-41 107-141 37-1-14-17-113-14-64-12-27 47 42 11 145 87 5-65 24-7-120 172-35-141 173-30-12-32-9-26-7 40 10-56-119 10 67 7-10-52-27 12 17 32 20-18-56 18-29-40 126 58-76-49 6 71 6 73 45-5 62 12 19-14-177-69 10-12 18-30-4 31-9-32 127 33-116 13-11 11-8-34-50 2-26 27 28-75 70 256 10-11-5-19 25 2 51-10 7-48 27 20-38-8 15 17-82 22-46-11-43 26 22-6 25-206 30 31-33-8-65-4-4 38 239 48-239-53 85 187-9-2 60-198-43-2 52-1-30 33-43 3 53 18 19 60-39-33 20 35 19-13 0-6-2 63 46 26-96-197 8-59-56 11 27 8-83 184 165 14 40-3-16-13 12 40-7 15-24 16-71-227 10-22 101 202-1-45 16-9-21 40-5-4 53-13-55-23 13 23-72-152-16 39 49 13 65-13 20 38-162 21-2 73-11 38 60-102-31-9-28 31 29-45 16-29 8-16-26-51-90 154 38 24-1-2-7-17-15 17 29 47-27-29 48-10-26 42-32-45-23-15 89 23 10-31-48-4 18-25 145-65-50 11-27 29 46-54-137 44-8 16-24 38-30-7 9 34-15-63-7-15 162 48 90-45-65 1 59-21 37 15 5-2-182 85 6 43 8-63-9-44-30-25 55 7-31 6-26 13-39-7-36 25 34 20 5-61-25-50 25 91-28 28 10 16-15-38 23 18-8 22 175-16-25 7 18-114-21-35-34 39-21-26 50 15-15-11-3-16-16 202 54 11 15 1 0-78-18-155 32 23 60 118 12-20-22-53-7 50 10-51-100-86 11 32-2-44 7 25 20 44-61 127-9 60-15-17 33 20-76-42 17 34 10-64-2-64-8 53-21 24 28-17 14-3-38-28 11-65-70 6 87 145 51-25 15-53-57 16-14-52 32-25 10 12-48 132 25 16 5-170-30-22 2-52 65 2 23 54-3-27-22-14 5 64 27 4-36 3-47-3-12-47 1 46 45 20-20-58-19 58-51 10 59 12 39 35 1 1-66 5-24-35 170 97-30-40-4 43 49-158-30-15-44 32 16 26 26 53-13 32-14-24-26-26 5 87 50-2 5-51-28-46 23-28 57-1-118 38 17 3-33 27 62-8-40-36-34 26-34-10 93-43-31-17-55-5 32-45-3-34 9 25-63-6 59 1 34-32 84 226 1-44-205 13 16 33 5-2-18-43-4 25 236-49-58-19 12-24-53 0-83 34 12-22-33-39 4-63-33 17 21 14 52 24-46 4 1-31-12 54-14-41 8 1-29 24 45 6-41 5 8 15 198 59-51 0 56 2-36 18 20 13-77-2-32-11 27 8-18 11 12 11-37-28-12 55 24-27 1 2 1 12-64-10 199-143 30 48-99-64-50-2 0-9-28-43 10 67 53-9-41-31 36-4 11 37 15 27-50 23-4 20-10-2 89-69-41 35-57-2 29 13 27-35 10 57 46 17 33 29-61-7 61 10-18-27 13-107 5 9-154 117-9-11 56 10-37 10-26 27-8 24 18-25 183-69-22-45-230-28 30 42 36 0-1 75 30-45 146-7-4 30-129-7-46-21-44 18-7 31 19-44-50 28 237-141-59 100 21 48 38-22-55 9 42-31-70 30-1-75 47 26 31 11 27 31 6-20-32-54-46-10 26-1 8 29-14 56-35-6 10 53-55 13-27-27-8 39-31 7 77-240-5 7 53 8 32 36 13-8 24 23-32 11 3 20 22 39-49 1 5 41 8 62 45-142-7-52-8 11-98-49-72 3 71-5 10 34-57-9-34 45 16-51 27 74-29 31-32 0 36 40 187-84-23 36-36-41-142 39 77 33-55 15 42 15-47 25 10 33 29-51-32 8-32 26 16-61-23 0-26 46 48 5 59 10 76-184-4 33-19-6-11-52 85 158-1 0-58 18 18 38-35-21 2-34-29 9 21-1 2 73-46 10-33-9-67-54 68 1 8-22-41 0-23 13 121 43 75-141-17-45-193 99 34 41 68-7-121-99 61 14 48 27-4 12-13 47-33 10 40 27 34 43 27-11-37 2 60-185 36 37-167 102 26 36 28 6-10-54-34-39-11 33 45 34-2 20-7-62-90-28-1-24 47-2 39 27-37 29-4-65-32 45-1-53-23-49 170 89-5 33 14-21 14-32-48-7-27 37 8 61-2-37 60 18-35-11 2-48-21 50-26-28-14 57 51 24-47-6 35-1-36-3 30 20-52-86 18-3 39 13 56 13 10-19 0-162-1 26-23 50 53 74-151-80 21-4 52-24 68 33 1 40-20-6 44 35-197-147 104 134 22 23 34 0-18 43-15 36 52-23-9 11-205-173 54-19 44-5-20-25-36-5 40-18 26 69 20 18-52-15 7 46-5 61 9 66 27-35 16 36 12-26-32 28-5 23-5-70-4 49 34 25 6-21 15-55 28 19 6 30-45-21-41 1 122-16-11-27 16 14-143 18 24-113 57 17 5 51 57-15-4 20-32-33 59 4-44-16 68 11-193-42 20 13 16-38-39-38-21-10 49 20-24-17-12 13 8 9-16-48-33 27 58-11-16-8 28 37 62 17-39-10 94 28-39-14-13-43 69 9-50-13-2 4-28 5 9-24-17 33-29 34 128 87-5-55-3-48 18 9-22 47-21-1-49-4 9 37 20-7 7 44-2-7 8-52-4-102 25 49-207 51 7-13-40 35-5-12 16-4 35-8 62 14-14 4 49 9-67-7-8-9 18 8-32-39-32-27-15 51 20-12 185-100 15 13-20-9-9 56-17-57 61 130-64 8-85-80 7-55-41 14 21 157-23-48 63 128-42-246-4-18 111 100-19 58 14-11 25-26-10-43-30 4-13-65 52-3-11 60-29 26-4 71-2 45 56 3-1 31 7-73-7 58-20 9-5 10-47 5 56-192 10-20-151-38-32 31-2 13 3 2-27 41 43 4 16 4 80-18-66-14 39 35 1 37 3-55-3-63 14-20 81 225 12-15-22 27 8-49-5-71 28-39 9 5-77 3-16 18 14 50-12-43 45-23 8-15-29 44-24-12 2-65-37-27 40-5 23 37 16 3-24 32-53-3-10 59 21-52 21-27-4-66 68 6 31 38-50-19-37 41 55 14 14 4-24 1-69 0-10-65 15 4-89 60 6 14 59 3 28 9 10 45 3 27 12-32 58-4-13-28-32 32 22 44-31 26-13-14-46-16-41 10 26 16 47 32-91-158-25 21-12-51 170-53-56-11-76 194 190-73 26-33-90 99-49 1-10 37-12 4 35-22-85-117 37 45-20 31-61 18 240 34-21-127-58-18-24-56 27 28-42-30 39 38 17 2-26 35-35 41-7-52-51-4-3 27-13 6-34-37 38 14 14-38-38-14 11 1 149 131 23-9-190-55" stroke="#3A10E0" stroke-width="0.8" opacity="0.6" stroke-dasharray="2 1.5"/>
<path d="M825 291l5 44 29-48 61 19-30-28 2 3-71 9-67 13 44-9-46 1 36-11-76-1 20 47 23-32 69-4-22-53 28 18-60-11-30-38 9-7-17 13 135 100 50-16-12 30 1-66 34 25-152-126-55 11-8 5 32 11 18-29 14-64 14-7-23 4 27 43 21 13 4-37-11 41 25 20-28 1 15-61 35 3-20-18 10 39-35-2 28-39-84 158 58-28-8-12-53 26 0 68 25 43 85-57 38 25-75 1-104 8-9-60 62 8-15 15 35 2-40-29-16 61 121-65 33-14-6 62-20-56-29-136 28 6-23 36-13 8 3-18 27 29-174 10-13-24 112-18-9-14 4-27-17 57 1 17 12-64 5 29-12 43-4 12 49-16-4 57 49 21-12-49 60 5 35-35-43-30-21-1 35 27-37 31-42 30 56 7-9-61-42-30 44 3-4 9-6-6-26-49 45 8-18 43 51 0-48 21 3 64-16-51-12-66-20-19 9 21 52 7 19 31-37-12-38 8-61 2 117 11-4 42-25 20-24 2-18-51-37 29 14-28-49 26 4 1 40-29-49-2 7 63-11 39 69 1 1-39-95 12-53-8 6-27 6-27 36 39-14 18 144 55-21-9-52-24-8-52-35 36 11-22 129-71-39 28 20 49-18 47 77-126 19-23-16 9 22 16-19-27 11 55 10-5-149-51-70 26 12 57-7 32-9 57 104-175 54 23-3 64-5 31 40 20-10-20 3-53-1-52-44 14-10-5-25 25-6 10 13 31-62 11 13-22 12 15 53 19-27 13-11-62 22 56 1 50-23-8 47 50-16-61-1-5-40-28 45-17-36-1 44-3-15 55 19-26 3 58 53-198-64 8-37 38-19-7-17-32 5 74-68 6 50 24-11-19 19-29-6 30 42 13-133-7 43 10 16-38 52-21-8-34 25-36 35 41-37-4-1-57 30 178 5 60-4 10 27-60-24 5 29-25-26 41 12 12-47-207 0 69 49 20 4-37 11 24 8 14-35-20 21-24 28-10-38 10 23-42 0 13 31 32 2-23-63 12-44 5 55 4-20 12 11 11-25-7 8 60 24-6 6 5-96 72 23-30-78 2-19-29 37-40 39-25 3-69 21 21 13-44-27 15 9-2 53 95 48-25-93 121-48 30 49 29 14-234-9 22 10 27-14-55 23 19 7 55-13 25 43-36-58 14 38 35 55-2 2 49-43 32 51 13 46-12-69-2-29-2 58 10-33 1-59-6 26-34-41 17 16 48 50 27-25-18-6-47-3-35 6 38 3-14-34 43 30-50 0-69-20 9-2-21 39-13 37 7-100 129 19 25-30 9 43-6-49-14 61-11-14-31 11 34 36 12-107-69-3-62-9-33-11-43 192 105 7-51-172-85-28 50-27 35 82 110 0 67-18-12 19-26-6 20 10-67-3-20 39 22 11 64-10 16 55-24-155-47 45-1 9 54 32-34 3 9-56 19 16-7-33-17 7-184 59 31 18-8 67 10-21 5 30 44 55-15-51 89-28 3 6-33 26-28-19 20 10-67 34 35-14 6-59 2-6 17-10 14-38 18 64-14 21-14-15 22 14 25 12-28 35-36-126-62 23 15 47-13-9-36-49 20 35 33 17-57-47 16-20 24-52 24-30 28 11-21-2-61 6 25 13-33 140 118-68-9-7-65-39-34-12 3-16-22-53 128 130-33 30-39 62 12-24 6 3-59-68-9 2 16-21 113 2 66-66-8-3 28-2-70-29 42 12-39 39-33-11 3-20-7 50-1-58 19 16-44-19-6-19-36 82-16-52 178-30-15 12-30 29 39 161-195 0 41 12-24-163-14-31 40-11 13-22-35 109 162 9 37-40-27-14 17 181-132-118 115 17-17-12 25 65 1-10 2 9 22-179-79-22-47 17-53 70 8-26-28-29 40 9 0 4-72 183 7-59-1-48-31-10 21 58-21-37-7 25 14-25-17-43 16-6-10 27 21-106 173 21-59 68 6 4-72-23 29-18 22 11 2 60-5 12-28-42 6-29 41 21 48-9-10-39 41 45-19-35-43-1 14-4-71 194 118-11-38 2-52 20 8 14-41-2-3-196 124 66-104-31 12 40 24 7-5-35-122 23 48 24 11 13 58-16 21-32 9 34 31 102-48-37-38-105-46 15 12 55-13-37-34-4 44 6-42 54 212-38-2 53-23-32-34-44-34-9-18 37 3 1 33 15-41-10-45-23 35-27-38 27 33-4-32 32-26-10-39 40 16-184 28 66 10 45-26 104 90-48 119 4-39-65-15 35 29-41 34-10-52 28-21 7 34-45 17-107-108 44-22-7 69 12-66-77 31 22-34 157 139 48 1 32-46-202 22 37-27 52-27 16 52 10 44 16-1 47-90 33-7-35-44 8 33-48-2-43-14-36 22 123-5-63 7 69 3-20-50 47-7-68 7-23-11-68-10 16-25-13 57 76 2-32-27 6-35-15 55-19 36 59-10 2 46-49 10-13-19-60 16-7-48-21-43-10-44-12 67-14-48 41 26 24 14-61-6 29-24-2 23 59-3-25-1-15-53 24-30-24-13 49 16 93-34 94 165-39 32-156-69-58-1 63-1-32-3-23 3 137-105 9-5-37 34 1 69-44-11 69 90 11-19-6-7 48-19 44 28 1-3-66 5-56-20-17 26-121-76 54 19-33 12 4-31 50 25 13-25 8 45-19-116 34 43-39-28 16-13-1 30-1 1-43-9 20 62 80-48-22 8-44-24 6-14 70 9-53-22-49 14 29 29 64-4 8 68 29 20-10-34-28-21 3-45 11 51-16 23-54 15-6-6 160-30 5 33-5 57-45 35-64 4-14-7 4-22-23 14-112-137 50 29 20-2-26-51 20-19-28 38 42 20 0-6-21-44 13 39 19 30 41-27-32-8-24 49 8-38 27-20 55-15-10 52 18-33-27-1 3-9-12 14-30 7 22 8 11 38 5 39 44 25 60-9-54-8 7 57-3 16 22-23 27-22-182-45-24 32 81-74 3-18 51 4 26-46 46 16-14 38 40 38-101 66-11-5 32-43-11-59-1 53-10-32 14-54-32-4-15 35 4 23-14-50-2 77-29 34 70 4-20-19-23 38 22-37-54 7 7 12 38 39 5-53-14-51 27 18 28-7 55-6-24-50 47 14-35-27 18 20-77-2-73-4 5 34 49 19-19 17 15-13-34 35-6 50 55-5 15-57-24 30 20 46 100-67-260-18 96 90 17-41 25 1 24 2 51 20-78-149 5 58 10 50-25 5 1 45 16-37-25 25 9 18-57-7-24-232 3 3 16 25-25 7-11-19 47-4-1 18 5-11 15-37 76 236-5-71-33-41-42-34-6 50 0 54-16 35 37-33-24 42 50 14-14-53-96 13 4-13-6-27 88-52-44-2-43-35-30 11 74-2-2 55-42-13-36-21 19 51 8 28 97 23-17 20-41-19-24-17 33-3-16-19 1-10 53-7 35 17-19-9-39 32 48-99-12-31-46 29 21 2-20 12 2-4-59-1 59 4-14-1 23 11-8 44-10 54 27-33 28-37 35-22 20-124-95 199-31-11 36 5 12-22 26-7 7 10-50-18-27 2 25 52-45-8 106 20 2-76 12 33 72 46 8 7 36-37-236-140 24 4 142-51-58 101-38 30 9-60 1 52 68 7 25 46-4-63-20 49 0-26 39 14-17-45 14 127 11-15-76-164 12 44-38-28-53 17 0-19 9 27 73 7 69-2 62 11-45-25-55 13 26-30 56 1 6 57-81-108-50 30 31 41 19 13 53 25-47-26 3-41 46 20 24 36-172-58 62 13-7 8 17 10-5-38 10-29-16-39-3 48 32 13 45 30-122-79 14-1-10 29-43 9 5-31 37 41 154 40-28-35-9 26-169 98-19 7-29-15 197 68-34-58 11 21 41 19-8-35-11 27-6-53 9 47-50-19 99-72 1 67-19 34-28-28-7 28 10-22-56 16 14-53 48-54 9 11 37-5-3 31-41 24-5-8-11 23-179-55-1-26 35 22 45-10-25 17-9-67 13-41 7-7 34 34-36-31 35-21 34 40 2 15-7-3-35-28-18-30 38 38-44 6-29 21 56 10-17-61 109 101 35-10-17-57 6 39-6-37-8 20 16-19-17-8-138 52-48-36-32 0 64-10 59 41 1 0 56 15 4-44 44-25 0 44 4-28-30 13-5 50 26-11-54 2-28-50-31-17 16-34-23 221 25-16-3-70 25-53-8-40 32 25-51-4-11-68 66 5 34 28-109 150 6-4 19 10-45 21 16 35-36-23 32 42-62-30 49 20 36 18 28-40 4 18-9-28-130-71 7-15 59 13-27 40 16-45-1-9 31 17-18 36 22 46 11 42 38-8-35-15-45-6 108-88-51-11-27-1-23-9 15-63 34-2-2 71-48-11-45-7-4-28 11 6-6-70 236 131-11-1-187-119-8 24-14 44 44-33-65 10 42-5-53 9 23 16 0-14 33 29 24 26-26-51-9 0 36-38-1-9-21 11 138 191-39-28-7-69 26 4-37-39 3-58 52-26 0 63-18 31 3 54-22 37 3-53 0 25 37 40-47-21-54-20-7 26 57 10 70-169 12 71 12-44-81-56-34-18 100 40-24 42 21 9-4 44 7-56-4 33-47-15 63-5-106 172-146-156-8 30 71-5-51-22 70-2 30-41-10-12 29 24 16 57 28-2-13-47-57 7 44-33-75-2-27-20 5 12 15-19 70 80-2 61-62-15 21 58 1 6 127-68-46 6-15 57 39-32 11-10 2 23-4-47-13-63-13 3 49-31-46 20-56-16-44-2 25-47 26 29-38-8-23 15 50 17-15 33-27 53-23-38 93 53 6 37-37 17 0 28 19-1-31-66-47 7 37-25-13-14 9-44-72 0-8 26-1 71 232-42-15-32 18 23" stroke="#FF0A1E" stroke-width="0.8" opacity="0.65" stroke-dasharray="2.5 1.5"/>
<g stroke-linecap="round" fill="none">
<path d="M839.5 81.4h0M678.4 154.5h0M876.3 75.8h0M964.7 221.2h0M974.3 243.7h0M966.9 165.7h0M720.5 102.6h0M682.6 162h0M982.6 198h0M666.2 227.8h0M929.4 101h0M862.6 76h0M901.3 357.1h0M976 202.2h0M659.6 215h0M964.7 292.6h0M705.5 128.3h0M927.9 318.4h0M832.4 369.6h0M744 100.1h0M911.9 332.3h0M811.4 65.9h0M876.7 71.5h0M714.7 326.9h0M940.8 125.3h0M969.9 210.4h0M771.4 362.4h0M728.9 347.6h0M943.4 127.3h0M791.7 79.7h0M943 157.4h0M971.3 231.5h0M693.3 295.5h0M846.8 63h0M795.9 356.6h0M958.2 285.1h0M761.4 358.4h0M824.6 62.2h0M699.8 294h0M678.3 172.1h0M687.7 306.1h0M756.8 350.1h0M865 85.4h0M739.5 347.6h0M763.5 80.4h0M962 269.4h0M927.7 98.6h0M790.7 84.6h0M938.9 122h0M891.4 78.6h0M976.2 171.3h0M855.1 85.4h0M674.2 164h0M716.6 333.1h0M882.7 80.6h0M681.7 147.2h0M841.3 70.3h0M877.8 71.2h0M840.8 364.8h0M962.6 205.2h0M752.7 359.6h0M828.6 364h0M762.2 82.7h0M667.1 245.1h0M955.8 299.7h0M872.1 79h0M884.1 348.4h0M682.6 163.9h0M681.3 293.3h0M667.8 244h0M784.8 372.5h0M694.2 129.9h0M881.9 78.7h0M678.7 148.8h0M914.5 106.4h0M964.4 278.1h0M733.6 339.2h0M779.7 360.9h0M670.1 165h0M969.3 155.3h0M860.1 366.7h0M922.1 103.5h0M842.6 367.9h0M753 355.3h0M894.6 96.6h0M877.5 78.6h0M952.8 176.9h0M811.5 77.3h0M798.4 358.9h0M763.3 73.5h0M762.3 349.2h0M749.4 84h0M765.6 346.3h0M733.3 97.8h0M957.2 290.9h0M975.6 218.9h0M792.8 361.3h0M744.1 87.4h0M926.1 329.9h0M919.4 117.9h0M668.9 194.8h0M964.8 153.3h0M967.6 152.8h0M935.5 315.7h0M669.3 191.8h0M671.4 255.6h0M736.5 91.3h0M807 69.4h0M819.6 64.6h0M929.1 118h0M875.7 72.2h0M681.1 160.6h0M687.7 297.9h0M921.1 124.9h0M670.9 177.9h0M686.7 154.5h0M914.3 335.2h0M927.6 117h0M666.1 241.6h0M752.2 355h0M925.9 110.8h0M661.7 220.2h0M895.5 93h0M963.9 274.5h0M915.5 113.5h0M904.6 356.1h0M774 360.3h0M664.3 193.7h0M685.6 273.7h0M792.5 360.4h0M768.1 89.5h0M966.6 284.9h0M967.5 282.1h0M673.9 181.8h0M965.7 150.6h0M683.1 152.2h0M953.9 127.4h0M910 111.9h0M668 198.2h0M892.9 352.5h0M785.8 72.5h0M784.9 367.4h0M776.3 365h0M921.7 94.3h0M745 335.7h0M856.4 364.8h0M826.6 364.6h0M874.8 78.2h0M749.8 356.3h0M921.8 104.2h0M879.1 80h0M680.8 141.5h0M708.4 119.7h0M727.6 104.3h0M914.3 108.4h0M683.2 144.9h0M976.1 231.8h0M822.6 66.9h0M704.5 128.9h0M956.4 190.5h0M941.9 313.2h0M677.7 275.2h0M967.3 195.3h0M767.9 80.6h0M901.9 349.9h0M692.7 134.9h0M873.1 68.8h0M934.7 309.7h0M744.4 340h0M968.1 227.1h0M983.4 220.3h0M929.5 314.3h0M664.3 218.3h0M746.8 95.6h0M955.5 268.7h0M899.1 350.2h0M957.9 145.6h0M818.7 64.8h0M915.2 91.4h0M729.9 330h0M945.6 138.2h0M672.1 255.8h0M790.7 66.8h0M796 374.9h0M797.8 363.4h0M713.2 325.1h0M972 262.4h0M823.7 71.6h0M766.2 75.8h0M885.9 346.9h0M898.5 345.7h0M739.1 334.7h0M860.8 363.1h0M695.1 132.7h0M760 87.6h0M837.5 364.8h0M961.1 221.4h0M676.3 151.1h0M846.2 378.2h0M676.5 152.3h0M964.4 156.1h0M946.4 165.9h0M738.4 103h0M687.8 130.1h0M940.5 314.9h0M952.7 286.9h0M671.9 180.7h0M776 86.8h0M666.5 252.8h0M761.6 361.3h0M684.4 282.6h0M974.9 223.8h0M759.8 360.2h0M831.3 366.3h0M816.4 360.6h0M984.6 215.4h0M718 312.1h0M664.9 192.9h0M863.6 68.1h0M718.5 115.3h0" stroke="#1E5A3E" stroke-width="1.5"/>
<path d="M723 316h0M741 330.2h0M698.3 139.2h0M873.7 351.5h0" stroke="#3C9D6C" stroke-width="2"/>
<path d="M790.7 85.2h0M938.1 234.7h0M954.1 186.3h0M951.7 272.4h0M726.1 112.3h0" stroke="#FA8C1E" stroke-width="2"/>
<path d="M931.3 307.6h0M677.6 247.6h0M918.7 208.4h0M922.3 239.1h0M948.4 249.5h0M943 264.3h0M899.3 213.4h0M717.6 121.1h0M912.5 254h0M894 339.3h0M887.7 100.3h0M933.3 268.4h0M944.2 194.2h0M929.1 301.7h0M933.2 185.7h0M923.9 315.4h0M955 250.5h0M897.1 104.2h0M934.3 145.2h0M930.3 272.9h0M937.4 182.3h0M957.5 202h0M926.9 283.4h0M948.9 173.7h0M925.5 276.4h0M933.2 260.2h0M913.2 209.6h0M926.5 311.1h0M909.1 242.1h0M921.3 127.8h0M915.1 158.4h0M932.3 216.2h0M934.3 200.8h0M862.6 89.4h0M858.4 354.7h0M921.5 245.1h0M938 281.4h0M761.4 341h0" stroke="#FA8C1E" stroke-width="2.5"/>
<path d="M909.3 180.6h0M841.7 358.9h0M821.3 84.6h0M863.2 354.1h0M683.8 259.8h0M909.4 235.3h0M867.3 352.6h0M745.3 100.9h0M754.2 336.5h0M846.8 85.3h0M679 179.9h0M704 293.7h0M828.8 358.9h0M873.9 92h0M767 93.2h0M932.5 160.9h0M912.1 118.2h0M757.8 340.6h0M953.6 190.7h0M680.1 252.4h0M868.5 91.9h0M696.2 285.1h0M675.8 197h0M913.5 238.2h0M944.4 272.6h0M815.6 84h0M738.6 327.6h0M749.4 334.6h0M937.7 150.5h0M675.6 190.7h0M881.2 347.6h0M781.6 87.3h0M674.7 232.8h0M927.4 137.1h0M732.7 322.9h0M902.4 156.9h0M692 280.2h0M916.4 204h0M926.7 160.7h0M705.9 131.6h0M688.5 155.8h0M906.6 287.3h0M941 219.8h0" stroke="#3C9D6C" stroke-width="2.5"/>
<defs><path id="n2_5" d="M928.1 305.7h0M870.9 103.8h0M796.6 204.5h0M679.1 189.1h0M681.8 175.5h0M804.5 87.1h0M851.5 135.1h0M798.9 183.6h0M851.2 91.4h0M944 168.5h0M753.3 99.6h0M902 327.1h0M677.6 235.2h0M693.3 150.7h0M881.4 244.2h0M884.7 251.4h0M786.8 88.7h0M781.8 91.6h0M713.6 302h0M904.6 330.3h0M897.5 311.3h0M928.5 202.5h0M930.5 287.2h0M690.5 159.8h0M913.6 269.5h0M716 306.2h0M687.1 266.3h0M721.8 119.5h0M900.7 319.5h0M701.5 141.5h0M675.1 208.6h0M838.2 356.8h0M771.2 94.4h0M939.2 291h0M906.2 279.2h0M789.3 183.2h0M697.4 281.4h0M850.1 222.1h0M814.3 176.7h0M917.5 139.7h0M909.8 277h0M956 228.8h0M890.6 217h0M892.9 151.2h0M772.1 345.6h0M679.6 244.2h0M898.8 116.6h0M703.6 137.1h0M845.9 222.9h0M798.9 354.8h0M776.1 347h0M871.8 115.6h0M851 99.6h0"/></defs>
<use href="#n2_5" stroke="#1E5A3E" stroke-width="3.5"/>
<use href="#n2_5" stroke="#3C9D6C" stroke-width="2.5"/>
<defs><path id="n2_6" d="M918.5 231.8h0M935.1 222.5h0M793.6 170.3h0M886 103.8h0M876.1 253.5h0M794.2 210.4h0M900.6 130.8h0M915.6 308.5h0M808.4 152.4h0M832.8 236.3h0M907.2 163.6h0M901.4 165.2h0M821 106.1h0M929.2 267.6h0M840.9 133.7h0M933.6 166.2h0M849.1 167.5h0M816.5 180.7h0M938.4 163.4h0M748.5 103.3h0M899.6 111.1h0M856 168.3h0M869.1 145.8h0M933.8 246.3h0M844.6 187.8h0M810.5 146.7h0M884.7 177.1h0M891.2 221.9h0M874.7 208.2h0M936 178.7h0M907.7 295.2h0M905.2 203.7h0M896.7 282.7h0M946.6 243.5h0M915 196.9h0M689.4 271h0M921.5 154.9h0M882.7 212.2h0M804.2 203.7h0M893.1 194.7h0M943 282.8h0M840.6 240.6h0M776.8 92.7h0M847.2 235.7h0M906.1 194.5h0M941.2 185.9h0M841.1 219.1h0M905.5 268.6h0M847.4 124h0M935.4 189.1h0M890.4 103.6h0M901.7 181.7h0M899.4 268.5h0M917.1 146.5h0M922.8 164.4h0M825.5 86.6h0M856.4 225.1h0M855.4 161.2h0M854.4 122.2h0M865.2 149.7h0M890.7 190.2h0M862.3 174.8h0M815.6 88.7h0M789.8 232h0M956.4 208.5h0M847.7 163.4h0M832 201.8h0M818.3 196.4h0M916.2 126.6h0M809.6 138h0M927.7 279.7h0M911.7 297.1h0"/></defs>
<use href="#n2_6" stroke="#90500F" stroke-width="3.5"/>
<use href="#n2_6" stroke="#FA8C1E" stroke-width="2.5"/>
<defs><path id="n2_7" d="M903.4 176.7h0M831.9 174.1h0M847.1 182.6h0M805.1 172.8h0M910.8 264.8h0M894.3 235.3h0M844.1 96.5h0M875.5 235.5h0M931 232.3h0M829.7 152.6h0M786.7 236.2h0M873.7 138.3h0M769.3 160.8h0M826.8 130.3h0M877.7 211.3h0M830.5 227.4h0M827.9 222h0M948 225.2h0M929.5 219.5h0M865.4 224.7h0M899.6 192.8h0M866.9 319.8h0M826.6 142.3h0M870.2 235h0M902.1 222.7h0M953.9 239.9h0M830.6 161.6h0M922.9 180.6h0M900.7 198.8h0M835.3 218.8h0M888.2 146.4h0M940 171h0M836.1 132.6h0M897.6 151.6h0M831.9 87.9h0M903.4 217.5h0M868.7 229.6h0M883.2 149.6h0M817.7 211.8h0M842.2 145.9h0M896.4 187.1h0M936.4 159.4h0M910.7 168.1h0M881.4 191.8h0M903.7 210h0M944.2 229.8h0M835.5 159.7h0M807.1 198.5h0M897 294.2h0M862.9 97.4h0M878.5 161.4h0M778.8 169.7h0M789.5 157.7h0M867.1 176.1h0M905.5 319.2h0M842.4 129.3h0M836.1 187.3h0M874.3 98.6h0M883.2 340.2h0M773.8 186.4h0M948.4 205.6h0M842.9 103.3h0M848.5 152.3h0M827.5 120.7h0M886.1 194.7h0M876.1 268.9h0M882.3 272.4h0M864.5 123.9h0M803.1 230h0M870 151.2h0M911.4 260h0M882.4 186.8h0M786.2 210.4h0M826.4 159.4h0M929.3 172.3h0M869.4 330.4h0M825.9 147.6h0M864.5 166.9h0M870.2 193.7h0M913.5 228.5h0"/></defs>
<use href="#n2_7" stroke="#90500F" stroke-width="4"/>
<use href="#n2_7" stroke="#FA8C1E" stroke-width="3"/>
<defs><path id="n2_8" d="M800 224.5h0M923.5 249.9h0M809.2 130.3h0M735.1 112.4h0M851 264.1h0M859.9 127.3h0M920.7 190.7h0M849.5 275.9h0M913.6 319.6h0M876.3 312.6h0M830.3 109.4h0M928.9 154.6h0M874.4 217.1h0M817.5 99.5h0M781.5 205h0M766.7 263.5h0M903.8 304.5h0M809.6 354.7h0M887.6 241.1h0M878.1 104.2h0M745.4 107h0M857.8 300.3h0M846.9 89.3h0M907.1 138.3h0M838.2 96.6h0M843.4 227.3h0M808.7 177.4h0M727 117.5h0M678.2 216.9h0M948.7 267.8h0M834.1 145.7h0M819.3 92h0M763.5 111h0M789.1 191.4h0M895.2 139.8h0M853.3 139.3h0M811 243.1h0M678.9 210.7h0M800.9 177.5h0M866.5 202.8h0M791.5 91.8h0M787.6 169.2h0M933.9 284.5h0M797.9 89h0M848.5 217.8h0M823 353.5h0M834.5 241h0M908.2 325.1h0M823.4 94.7h0M903.8 293.6h0M824.4 242.2h0M834.3 223.7h0M922.7 171.1h0M750.7 125.3h0M699.8 147.8h0M717.7 127.8h0M834.2 350.4h0M687.4 261.9h0M827.7 135.6h0M797.3 147.5h0M793.8 156.6h0M858.9 122.7h0"/></defs>
<use href="#n2_8" stroke="#1E5A3E" stroke-width="4"/>
<use href="#n2_8" stroke="#3C9D6C" stroke-width="3"/>
<defs><path id="n2_9" d="M799.1 350h0M835.8 294.4h0M769.6 140.9h0M774.7 104.5h0M766.5 213.1h0M713.4 133.1h0M775.2 179.4h0M830.4 117h0M812.2 196.1h0M792.9 151h0M878.6 341.4h0M786.8 216.1h0M765.5 100.3h0M777 226.2h0M733.4 283.3h0M895.5 331.5h0M786.8 130.6h0M777.4 115.8h0M767.9 174.1h0M761.9 170.7h0M845.9 115.5h0M726.3 310.3h0M805.7 140.8h0M882 139.2h0M703.4 283.2h0M686.8 196.2h0M869.2 129.8h0M807.2 101.8h0M873.9 338.6h0M796.1 122.9h0M792.4 195.1h0M840.6 208.1h0M735.2 304.4h0M923.6 219h0M780.9 233.8h0M890.8 288.7h0M739.7 200.4h0M759.8 298.5h0M729 131.4h0M813.7 104.6h0M689.5 203.4h0M796.7 233.4h0M762.7 222.4h0M757.3 235.7h0M829.3 349h0M857.5 110.7h0M940 275.1h0M910.1 157.1h0M772 99.2h0M890.8 271.4h0M681.3 193.8h0M884.2 218h0M851.2 213.4h0M841.4 352.6h0M866.9 159.7h0M742.3 164h0M720.1 276.6h0M781.9 142.3h0M692.6 264.4h0M906.6 172.5h0M905.4 226.6h0"/></defs>
<use href="#n2_9" stroke="#1E5A3E" stroke-width="4.5"/>
<use href="#n2_9" stroke="#3C9D6C" stroke-width="3.5"/>
<defs><path id="n2_10" d="M803.1 165.5h0M833.9 193h0M881.2 222.2h0M758.3 201.4h0M772.4 200.1h0M801.4 118.2h0M682.3 200.4h0M893.5 241.7h0M861.2 209.1h0M927.6 167.2h0M872.2 187.2h0M874.4 175.8h0M856.3 211h0M826.2 104.3h0M846.2 243.8h0M797.6 132.6h0M889.5 134h0M943.2 180.5h0M877 133.6h0M806.8 188h0M824.3 164.6h0M905.7 128.6h0M907.9 256.5h0M865 113.6h0M812.5 212.3h0M862.5 155h0M751.5 173.1h0M852.2 248.6h0M923.6 149.9h0M860.1 145.2h0M841.2 235.1h0M680.1 206h0M888.9 258.8h0M897.7 232h0M814.8 135.1h0M777.3 154.5h0M865.8 212.9h0M850.2 196.8h0M831.2 140h0M882.6 202.6h0M860.3 181.1h0M853.6 103.9h0M924.2 210.9h0M896 204.3h0M917 289.1h0M817.6 143.8h0M823.8 117.3h0M791.8 127.5h0M868.4 183.4h0M895.2 180.7h0M916.6 182.3h0M756.2 124.1h0M846.9 207.5h0M901 125.8h0M758.3 259.5h0M868.8 242h0M926.9 192h0M891.6 247.9h0M860.6 231.2h0M917.3 262.5h0M877.1 201.5h0M910.2 309.5h0M788.9 164.1h0M907 221.1h0"/></defs>
<use href="#n2_10" stroke="#90500F" stroke-width="4.5"/>
<use href="#n2_10" stroke="#FA8C1E" stroke-width="3.5"/>
<defs><path id="n2_11" d="M835.9 345.5h0M740.2 220.8h0M764.6 187.8h0M782 185.3h0M747.2 261.9h0M857.8 319.1h0M773.9 252.8h0M773 237h0M768 152.1h0M784.7 103.1h0M895.5 274.8h0M742.2 186.2h0M784.4 111.7h0M768.1 124.4h0M828.9 180h0M748.2 185.7h0M888.3 152.9h0M826.7 212.5h0M732.8 208.3h0M762.1 207.1h0M783.2 165.5h0M728.5 225.5h0M765.6 136.2h0M797.2 174.3h0M892.9 299.2h0M723 127.4h0M883.5 128.9h0M863.5 330.9h0M878.4 278.7h0M899 263.6h0M813.7 184.9h0M787.5 204.8h0M871.9 273.8h0M869.3 282h0M899.2 256.9h0M800.2 97.3h0M893.9 158.1h0M763.6 234.1h0M840.2 112.1h0M690.2 255.4h0M746.1 139.8h0M783.2 136.3h0M742.3 177.2h0M865.7 289.6h0M878.6 317.5h0M798.1 198.5h0M889 199h0M797.2 242.6h0M735.3 268.9h0M769.3 208.1h0M826.5 169.8h0M887.7 294.2h0"/></defs>
<use href="#n2_11" stroke="#1E5A3E" stroke-width="5"/>
<use href="#n2_11" stroke="#3C9D6C" stroke-width="4"/>
<defs><path id="n2_12" d="M844.7 170h0M753.4 158.6h0M842.4 200.2h0M827.7 91.8h0M835.6 126.9h0M898.3 239.3h0M900.3 279.2h0M839.6 120.6h0M818.6 168.4h0M794.1 182.9h0M785 120h0M808.4 221.1h0M887.2 275.9h0M841.1 158.2h0M881.5 285.2h0M830.7 207h0M901 298.3h0M891.5 169.9h0M837.9 164.5h0M889.8 210.2h0M888.5 182.7h0M883.9 117.2h0M864.3 295.7h0M821.9 173.9h0M854 218.9h0M879.4 153.6h0M840.8 182.9h0M875.5 182.1h0M813.4 164.8h0M778.4 97.3h0M857.2 154.7h0M815 219.4h0M824.8 193.9h0M900.2 247.5h0M807.8 121.4h0M878.3 297.6h0M873.3 161.3h0M878.4 195.6h0M884.4 159.4h0M884.7 305.7h0M837.1 214h0M892.3 229.8h0M880.2 233h0M862.3 217.2h0M801.7 189.5h0M891.2 280.7h0M802.9 146.4h0M838.3 149.7h0M883.4 333.8h0M896.3 323.8h0M902.9 310.4h0M903.8 147.7h0M891.5 111.5h0M896.8 167.3h0M915.8 135.5h0M778.1 162.4h0M873.1 224.9h0"/></defs>
<use href="#n2_12" stroke="#90500F" stroke-width="5"/>
<use href="#n2_12" stroke="#FA8C1E" stroke-width="4"/>
<defs><path id="n2_13" d="M885 263.5h0M741.4 269.6h0M820.3 202.8h0M881.3 169.6h0M773.3 193.1h0M826.5 200.1h0M782 260.3h0M877.7 112.3h0M775 216.2h0M810.4 109.5h0M862.9 135.5h0M817.4 156.4h0M872.8 264.2h0M820.8 189.3h0M815 126.4h0M755.6 131h0M853.8 236h0M861.5 188.8h0M804.5 158.3h0M863.8 105h0M870.9 256.7h0"/></defs>
<use href="#n2_13" stroke="#90500F" stroke-width="5.5"/>
<use href="#n2_13" stroke="#FA8C1E" stroke-width="4.5"/>
<defs><path id="n2_14" d="M850.6 228.7h0M766.2 298.4h0M712.7 190.5h0M698.5 154.3h0M729.5 238.8h0M725.5 206.8h0M714.7 198.2h0M816.8 240.5h0M861.4 198h0M687.3 185.9h0M819.3 120.8h0M891.1 127.7h0M803.3 210.3h0M744.7 133.1h0M843.4 176.9h0M803.8 237.1h0M783.5 156.5h0M854.2 179.6h0M751.8 150.9h0M767.1 181.2h0M829.8 98.9h0M761.7 104.6h0M844 193.9h0M823.3 111.7h0M775.3 129.6h0M809.6 92.7h0M888.7 163.5h0M804.1 110.7h0M773.4 112.1h0M797.8 105.5h0M859.9 117.4h0M790.9 106.4h0M763.3 120.8h0M810 226.8h0M785.3 179h0M772 146.8h0M786.8 96.6h0M893.5 117.3h0M764.5 200.8h0M787.6 242.3h0M860.6 239.8h0M851.6 110.4h0M740.7 226.5h0M832.1 340.8h0M752.5 142h0M830.6 186.6h0M854.8 204.6h0M777.5 242.5h0M707.1 201.4h0M717.7 287.8h0M776.1 205.9h0M811.6 206.5h0"/></defs>
<use href="#n2_14" stroke="#1E5A3E" stroke-width="5.5"/>
<use href="#n2_14" stroke="#3C9D6C" stroke-width="4.5"/>
<defs><path id="n2_15" d="M897.2 304.5h0M734.1 275.3h0M746.1 213.8h0M713.4 293.2h0M699.2 178.4h0M755.5 243h0M771.5 118.3h0M723.4 184.7h0M788 226.6h0M759.1 165.4h0M724.9 292.3h0M761.1 157.5h0M754.6 265.3h0M789.3 139.8h0M699.8 227.7h0M783 194.2h0"/></defs>
<use href="#n2_15" stroke="#1E5A3E" stroke-width="6"/>
<use href="#n2_15" stroke="#3C9D6C" stroke-width="5"/>
<defs><path id="n2_16" d="M880.5 291.6h0M699.2 254.9h0M776 139.1h0M793.9 217.4h0M684.5 229.3h0M778.6 122.4h0M732.9 160.1h0M781.3 221.1h0M696.5 202.4h0M821.3 227.7h0"/></defs>
<use href="#n2_16" stroke="#90500F" stroke-width="6"/>
<use href="#n2_16" stroke="#FA8C1E" stroke-width="5"/>
<defs><path id="n2_17" d="M746.9 281.7h0M799.8 285.6h0M781.8 337h0M741.1 288.5h0M754.9 118.2h0M770.1 168.3h0"/></defs>
<use href="#n2_17" stroke="#90500F" stroke-width="6.5"/>
<use href="#n2_17" stroke="#FA8C1E" stroke-width="5.5"/>
<defs><path id="n2_18" d="M820.7 251.7h0M722.9 283.9h0M870.1 314.8h0M871.1 296.9h0M718.3 262.7h0M720 238.4h0M733.6 198.1h0M763.4 130.2h0M735.6 215h0M726.8 275.1h0M716.3 250.6h0M713.4 281h0M719.1 270.3h0M709.2 225.4h0M700.8 213h0M762.5 251.4h0M739.1 206.7h0M769.9 247.4h0"/></defs>
<use href="#n2_18" stroke="#1E5A3E" stroke-width="6.5"/>
<use href="#n2_18" stroke="#3C9D6C" stroke-width="5.5"/>
<defs><path id="n2_19" d="M828 296h0M775 283.7h0M754.1 254.3h0M875.9 328.3h0M849.6 339.6h0M722.7 217.9h0M735.9 149.6h0M719.4 169.2h0M722.8 136.2h0M753.2 192.6h0M732.3 167.8h0M698.1 186.5h0M759.7 148.8h0M741.1 121.3h0M721 230.3h0M725.4 269.3h0M701.3 266.9h0M700 238.2h0M685.1 210.4h0M698.5 244.4h0M708.8 250.6h0M754.8 229.3h0M747.6 221.6h0"/></defs>
<use href="#n2_19" stroke="#1E5A3E" stroke-width="7"/>
<use href="#n2_19" stroke="#3C9D6C" stroke-width="6"/>
<defs><path id="n2_20" d="M843.4 261.4h0M748 248.6h0M826 235.1h0M754.8 302.6h0M713.4 273.3h0"/></defs>
<use href="#n2_20" stroke="#90500F" stroke-width="7"/>
<use href="#n2_20" stroke="#FA8C1E" stroke-width="6"/>
<defs><path id="n2_21" d="M819.5 340.4h0M832.3 310.5h0M808.5 341.6h0M707.7 275.8h0M889.2 312.9h0M788.5 269.7h0M732.6 294.2h0M729.9 255.1h0M753.7 296h0M847.7 348.8h0M740.1 277h0M841 340.8h0M764.7 274.1h0M739.5 261.9h0M787.5 253.3h0M889.5 319.4h0M834.3 274.4h0M771.3 271.8h0M844.8 282.4h0M820.2 273.7h0M718.1 193h0M758.4 215.8h0M708.4 213.6h0M732.6 174.8h0M707 192.1h0M729.8 245.3h0M697.2 167.1h0M748.9 201.7h0M725.3 155.5h0M725.8 197.7h0M733.7 126.5h0M703.2 221.1h0M691.4 172.1h0M742.7 115.3h0M747.1 193h0M770.3 226.8h0M734.4 234.5h0M736.1 188.7h0M685.9 218.3h0M737.1 249.3h0M714.4 243h0M743 254.6h0M692.7 233.2h0M712.3 207.9h0M715.7 257h0M697.4 275.3h0"/></defs>
<use href="#n2_21" stroke="#1E5A3E" stroke-width="7.5"/>
<use href="#n2_21" stroke="#3C9D6C" stroke-width="6.5"/>
<defs><path id="n2_22" d="M796.4 251.9h0M858.8 288.9h0M740.6 156.5h0"/></defs>
<use href="#n2_22" stroke="#90500F" stroke-width="7.5"/>
<use href="#n2_22" stroke="#FA8C1E" stroke-width="6.5"/>
<defs><path id="n2_23" d="M801.9 297.5h0M850.7 326h0M792 258.6h0M804.8 264.5h0M858.3 275.4h0M815.5 262.8h0M796.8 339.7h0M813.8 252.2h0M806.9 283.6h0M727 301.7h0M794.8 268.5h0M772.6 260.4h0M727.1 145.5h0M719 145.2h0M706.3 241.6h0M724.8 163.2h0M697.1 194.3h0M707 231.8h0M709.4 267.6h0"/></defs>
<use href="#n2_23" stroke="#1E5A3E" stroke-width="8"/>
<use href="#n2_23" stroke="#3C9D6C" stroke-width="7"/>
<defs><path id="n2_24" d="M816.1 353.2h0M859.3 260.9h0"/></defs>
<use href="#n2_24" stroke="#90500F" stroke-width="8"/>
<use href="#n2_24" stroke="#FA8C1E" stroke-width="7"/>
<defs><path id="n2_25" d="M772.6 330.7h0M837.8 283.3h0M862.8 339.8h0M790.7 336.3h0M857.4 268.4h0M733.5 314.5h0M783.9 343.4h0M871.1 306.5h0M712.3 183.9h0M713.3 150.3h0M720.4 177.2h0M707 175.3h0"/></defs>
<use href="#n2_25" stroke="#1E5A3E" stroke-width="8.4"/>
<use href="#n2_25" stroke="#3C9D6C" stroke-width="7.5"/>
<defs><path id="n2_26" d="M742.3 312.5h0M879.6 259.8h0M722.6 255.8h0"/></defs>
<use href="#n2_26" stroke="#90500F" stroke-width="8.4"/>
<use href="#n2_26" stroke="#FA8C1E" stroke-width="7.5"/>
<defs><path id="n2_27" d="M795.8 315.3h0M784 296.8h0M813.5 322.7h0M849 302.9h0M749.6 306.8h0M766.4 283.2h0M839.9 325.8h0M793.4 348.7h0M758 177.7h0M715.3 162.3h0M685.9 248.9h0M740.3 239.4h0"/></defs>
<use href="#n2_27" stroke="#1E5A3E" stroke-width="8.9"/>
<use href="#n2_27" stroke="#3C9D6C" stroke-width="8.1"/>
<defs><path id="n2_28" d="M840.3 268.2h0M827.5 266.9h0M744.5 321.9h0"/></defs>
<use href="#n2_28" stroke="#90500F" stroke-width="8.9"/>
<use href="#n2_28" stroke="#FA8C1E" stroke-width="8.1"/>
<defs><path id="n2_29" d="M771.7 301.5h0M781.4 270.7h0M830 329.2h0M709.3 141.2h0M706.3 164.4h0"/></defs>
<use href="#n2_29" stroke="#1E5A3E" stroke-width="9.4"/>
<use href="#n2_29" stroke="#3C9D6C" stroke-width="8.6"/>
<defs><path id="n2_30" d="M838.5 253.9h0M853.2 256.3h0M863.7 251.1h0M808.5 257.4h0M865.8 268.2h0M854.3 311.1h0M862.2 307.6h0"/></defs>
<use href="#n2_30" stroke="#90500F" stroke-width="9.4"/>
<use href="#n2_30" stroke="#FA8C1E" stroke-width="8.6"/>
<defs><path id="n2_31" d="M752.5 316.3h0M752.7 276.4h0M767.4 336.7h0M817.6 307.2h0M830.5 288.6h0M827.5 257.4h0M737.9 141.3h0M715.8 220.6h0"/></defs>
<use href="#n2_31" stroke="#1E5A3E" stroke-width="9.9"/>
<use href="#n2_31" stroke="#3C9D6C" stroke-width="9.1"/>
<defs><path id="n2_32" d="M789.1 302.6h0"/></defs>
<use href="#n2_32" stroke="#90500F" stroke-width="9.9"/>
<use href="#n2_32" stroke="#FA8C1E" stroke-width="9.1"/>
<defs><path id="n2_33" d="M832.8 319.2h0M838.7 304h0M808.2 330.1h0M764.9 291.7h0M781.6 328.2h0M822.6 289.1h0M809.2 275.1h0M806.9 291.6h0M753.9 284.6h0M827.4 279.9h0M840.2 315.7h0"/></defs>
<use href="#n2_33" stroke="#1E5A3E" stroke-width="10.4"/>
<use href="#n2_33" stroke="#3C9D6C" stroke-width="9.6"/>
<defs><path id="n2_34" d="M799.6 331.4h0M808.2 311.8h0M845.4 292.2h0M810.4 301h0M786.1 312.2h0M776.2 317.5h0M798.7 277.9h0M819.3 297.2h0M745.5 299.2h0M764.6 324.9h0M827.3 304.7h0M814.8 285.9h0M755.3 328.9h0"/></defs>
<use href="#n2_34" stroke="#1E5A3E" stroke-width="10.9"/>
<use href="#n2_34" stroke="#3C9D6C" stroke-width="10.1"/>
<defs><path id="n2_35" d="M820.3 329.3h0"/></defs>
<use href="#n2_35" stroke="#90500F" stroke-width="10.9"/>
<use href="#n2_35" stroke="#FA8C1E" stroke-width="10.1"/>
<defs><path id="n2_36" d="M789.2 321.5h0M819.5 316.8h0M763.1 307.1h0"/></defs>
<use href="#n2_36" stroke="#1E5A3E" stroke-width="11.4"/>
<use href="#n2_36" stroke="#3C9D6C" stroke-width="10.6"/>
<defs><path id="n2_37" d="M776.6 292.6h0M788.7 283.5h0M803.6 320.3h0"/></defs>
<use href="#n2_37" stroke="#1E5A3E" stroke-width="11.9"/>
<use href="#n2_37" stroke="#3C9D6C" stroke-width="11.1"/>
<defs><path id="n2_38" d="M779 306h0"/></defs>
<use href="#n2_38" stroke="#90500F" stroke-width="11.9"/>
<use href="#n2_38" stroke="#FA8C1E" stroke-width="11.1"/>
<defs><path id="n2_39" d="M798.7 305.8h0"/></defs>
<use href="#n2_39" stroke="#1E5A3E" stroke-width="12.9"/>
<use href="#n2_39" stroke="#3C9D6C" stroke-width="12.1"/>
<defs><path id="n2_40" d="M794 293.5h0"/></defs>
<use href="#n2_40" stroke="#1E5A3E" stroke-width="13.4"/>
<use href="#n2_40" stroke="#3C9D6C" stroke-width="12.6"/>
</g>
</g>
<g fill="none">
<defs><radialGradient id="g3h" cx="1156" cy="220" r="162" gradientUnits="userSpaceOnUse"><stop offset="0.75" stop-color="#A060D0" stop-opacity="0.45"/><stop offset="0.9" stop-color="#C090E0" stop-opacity="0.24750000000000003"/><stop offset="1" stop-color="#E0C8F0" stop-opacity="0"/></radialGradient></defs>
<path d="M1317 220L1315 236L1312 253L1307 269L1301 284L1293 299L1284 313L1274 326L1262 338L1250 349L1236 358L1222 367L1206 374L1190 379L1173 382L1156 384L1139 383L1122 381L1105 376L1089 370L1074 362L1060 352L1047 341L1036 328L1025 314L1017 300L1010 285L1004 269L1000 253L998 236L997 220L998 203L1000 186L1004 170L1009 154L1017 139L1026 125L1036 111L1048 99L1061 88L1075 79L1090 71L1106 65L1122 61L1139 58L1156 58L1173 58L1190 61L1206 65L1222 71L1237 79L1252 88L1265 99L1277 110L1288 124L1297 138L1305 153L1310 169L1314 186L1317 203Z" fill="url(#g3h)"/>
<path d="M1249 310l-35 26 11-3 29 9 19-22-11 4-26-3 20-23 30-51 15-11-14-10 2-21 9 39-1 37-12 22-55 53 19-46 19-22 13 4-21 3 25-9-14 43-21-12-45 23 13 8 15-27-26 44-49 4 36-22 23-6 16-18 35-20-74 44-15 2 4 23 36-35 46-52 24-19 5-12-7-13-22 44-9 16 10 19-9-21-2 2-115 68 36 12-63-6-48-58-34-46 18 34 31 24-42-51-16-23 193 88 11 4-201-154-20 7 13 51 28-115 165 203-12 4 1 24 63-78 2 13 21-24 7-86 11-28-16 23 12 1-2 70-243-140 48-22-4 4 32-31 13 2 33 16-29-4 0-2 41 7 47 25-21-19-59-24-27 18-55 32 118-29-37-13-41 7 14-13-10 16-1 4 1-6 4-11 31 9-49 13 2-16 75 3 83 45-37-20 30 15-6-3 18 18 32 27 2-1 8 11-32-22-51-47 34 20-18-6 23 27 16 41 5-10 8-5 3 63-14 9-7 12-1 22 9-37 14-8-9-47-27-45 24 39-33-47 30 32 19 60-3-45-17-16 9 62 20 17-21-6-19 54-22 20 34-44-23 20 11-13 29 3-30 5 16 0-61 52 50-75-10 23 22-12-12 0-13 21 4 13 12-7-12-20 3 6-5 12 7-27 20-16 22-25-11-47-20-4 22-6-23 18 8 47-29 54 12 19-2-33 15-22-24-109-33-66 1-3-24 20-10-27 8-4 17 37-36-21-7 7 31-5-24-5-37 7-34 3 60-1 8 0-18-1 40-10 4 22 13 5-17-28-46-15 61 22 51 73 29 52-24 56-23 38-5 23 11-32-71 62-16 0 71-4-158 2 5-11 197-121-1 11 24-1-13 38 4-37-18 31 10 29-12 10 6-79 11-49-12 24 4 7 17-20-16 28 15-12-3 61-30 20 16-11-10-3 22-16-15-56 24 0-18 8-3 57-37 41 34-41-31 52-58 54 77-50-56 45 28-53-40 44-42 17-33-3-115-153 20-41-15 24 219-80-5-36-37 5-58 0 61-9-3 16 66 10-108-19-29 5 22-27 72 29 20-7 23 64-2-3-106-59-51-14-24 34-23 28-21-7 46-40 41 3-22 4-11 12-5-30-16 21-26 22 45-14-1 1 9-11 102-26 37 35 26 37 14 122 2 7 9 18-60 40 16-4 4-16-7 12-51 33-36 6-53-17 28 12 30-2 6 22-108-66 3 4-10 14 12-3-14 15-22-54 0-8-8 23 0-61 3-4 5-1-2-28 2 25-9 11 11 4-1 10 248 28 15-18-20 14-35 45-74 36-41-2-36 6 35-8-19 9 49 0-54-24 42 15-5 20-48-12 21-21-36-1 8-8-8 15-13-41 8 17-15 2-23-24 7-39-16-65 29-40 1-25 5 8-15-26 16 12-2 16 21-22-44 45-15 4 39-61 7 31 12-42 18 3-9 6 183 210-36 8 13-11-39 29 50-30 30-26-48 37 45-64 1 7 11-33 23-13-31 29 9-63 5-52-15 43 14-16-8 40 0 22 1 18-3-6 4 38-23 30-4-7-203 15 7 9 3 18-15-30-9-11 3 28 34 27-2-4 2-20 16 36 77-16 26 12-5 8 51-45 27-3-18-14-62 42-41 16 17-7-67-3-20 0-19-3 41-2-5-9-6 7 32 4 17 14 35 11-55-13-1 12 30-2-4-20-18-3-4 14-38-32 30 13 0 8 20 2 32 3 15-11 4 6-34 16-53-20 0-3-27-19-14-3-2-2 32 33 23-1-7 12-12-8-8 2-6-18-35-18-31-35 57 49 3 15 9-9 24-1-4 9 2 14-73-55 67-234 24-2 23-19-41 33 30-28 44 24 24-18 26 26 29 38 22 13-25-14 47 108-22 49 35-75-17-18-283 31 6 39 4-14 34 59-5 5-39-28 0-40 14 32 33 35-19-21-7-22-34-49 23 28-18-33 18 0 18-61-22-12-4 30 32-22 4-21 5 5-36-3 10 8-9 74-22-24 266 107 28-33 15-47-38-60-3-53-19-12-18 3-4 14-8-33-7 6-38 2-29-27-18 30-6-12 51 10-51-1-28 265-24-27-58-57 298-92-35-10 23-15 1 14-5-8-20 9 38 18-27 14 7 15-6 14 20-11-2-62-19-10 6 22-5 60 17 15-9-1-8-13 1-14 21-17-16-37-3 32 20-15-47-47 9-16 13 76-5-21-20-54 3 20 44 56-18 36 16-11-16-45 14 69-6 26 0-58 21 10-32-30-25-57 44 83-20-37 18-27 5 32-31-24 19-9-4 49 5-48-10 75 4-17 2 12-7-34 23 39-22 1 8-7 0 7 7-39-14-8-69-73-189 15 39 6-15-13 106-26 27-10 14-2 8 22-34-28-51 20-27-11-69 66 23-39-3 35-3 0-35 32 56-41 8-27-9 3 38-7-30-11 25 10 43-39 45 17-1-6-36 8-32-4-28 11-16 11-29 29-22 71-7 5-4 23 13 13-11-3 12 7-12 3 4-26 10-26-14 30 136 144-110-39-9-65-21-12 18-16 6-65 0 4 27-50 5 9 7-20-38 28-10 39-6 35 1 15-4-22 8 29 6 32 0 15-2-34-7 16-6 4 29 31 40 35 42 15-24-6-26-20-26 11 40 0 2 5 28 14 7 7-39 5 76-4 7-5 23-8-5 28 103-187 7 35 8 40-10-46-9 83-16 28-190-1 35 18-8 16-22-30 15 24 30 17 45-6-10-13 67-19-213-175-12 1 60-37 35-46 18-16-7 29 49-27 27 7 15 24 61 196 16 15-9-34-6 30-35 32 21-13 10 12-48 24-10 3-68-7-21 20 28-21-23 6-58-18-24-44-24-29-9-51 6 29 7-28 4 84 19 20 20-5-23-26 30 32 22 20-9-13 62 22 19 2 62-23-8 4 34-17-3-3-22 22-19 2-36 18-11-5 17 15-16-15 63 3 1-4-17 3-23-5 62-33-20 25-20 3-63 18 35-8-70 0 29 16 20 1 46-27 27-9 1 9-32-2 17 22 17-43-57 45 29-14 11-5-47 16 54-4-80 0 34 19 40-13 16-39 10-14 13 27-74 24 46-36 61-56 10 15-11 13-3-39-284-14 18 20 11-11-29-24 9 14 4-11 18 48 3-10-24-13 18-69 4-50 137 213-23 10 22-9 9 17-55-5 3-16 37 15-85-36-54-36-11-48 18 19-7-30 3 39 2 30-10-19 7-78-28 26 24 4 3-30 23-66-13 35-10-23 18-32-25 83 12 55-9 45 35 3-12-15 20 27-28 10 14-29-15-8 1 1 30 30 41 28-18-15-3 22-36-58 27 30-34-7-7-45-12-43 8 36 0 18 11 5-32-51 2 13 16 16-11-68 6-31 42-45 40-41-20-12 30 4 20 6 1-15-48 27 40-27-47 13-8 25 11 2 20-12 13-5-2-27-16 32-46 48 7-16 45-35-48 6 50-26 57-9-57 18 15-1 29 2-34 6 11-5-32 5 33-29 16 24 35 1 93 207 26-57 13 13-31 46 13-36-42 42 31-29-10 19 18-16-27 29 15-8-47 27-51 27-2 0-53-1-15-3 6 13-19-7-18-12 2-8 23 32 31 4-18-10 58 8 5-2-15-12-46 6 66-12 44-9-24 32-69-13-10-3-64-19-36-83 0 3 8 26 10 15-38-29 30 27 45 45-42-11-20-93 5 36 22 28 11 29-6-5-29-86-10-6 21 46-3 10-27-53 0 4 5-18-3 39 21-63-7-13 7-7 8-13-18 40 10-49 46-33 42-28 2-25 7 0 41 19-36 3-10-13 176 89 3 13-14 6-5-5 0-9 9 23-4 7 29-12-13 52-11-14-180-140-1 8-58 25 41-14-20 16-38 6 21 15 4-44 1 40-49 36 19 81-7 2 2-37-3 19 5 9-13-6-15-3 27 0-11 14 2-84-1 46-12-7 18-50-17 40 10-50-5 7 17 40 18-42-22-20 6 12 43-23 12-28-33 52 4-45 48-3-38 22-27 10 9-5-24 11 45-35-8 26-25 51-5-32-23 86 14 57-17-24 2-75 20 50 1 10 5-68-19 3-10 23 20-37-2-4 7 24-18 51 11-45 7-32-14 15 10-7 88-79 63-7 59 28 59 70 21 57-52 83-69 26-39 1-60-8-82-100 18 11 16 37-7 4 2 15-34-56 5 24 5-25 36 48-19-10 187 44 21 7 58-63-13-22 0-8-5-2 14 17-21 4 14 33-31-7 34-39-48 67-46 34-46 7 8 8-41-1 28 1 79-38 26-28 19-31-5 12 28-44 13-42-5 33-12-13 6 4-9 50 6-17-3 31-13-10-9 3 26-14-32 36-24 38 15-38-14 16 30 6 29-43-17 11-18 31-47 30 10 2 12-18 26-31-88-241-2 10-11 10-9-26-3 21 29-7 11 8 42 30-49-51-59 27 3-29-2 17 15-3-5 13 40 1 29-10-10-3 35 15-12 10 36 8 12 39 6-14 21 24 4 42-8 36-6-64 23 30-9 47-17-75-1 2-21-56-37-13 34 27 18 22 17 57-9-34 6-15-6 15 0-19 1 29-3-24-19-23 45 45-2 20-13 8 21-36-28-47-21 13 31 101-57 109 15-35-19 22-17 12 13-5-3-6 4 8-216-104-9-44 1 34 7-16 14 34 4-84 19-26-11 12-9-24 15 23 17-32-28 15 134-71 2 0 51 36 20-14 9 16 2 4 9 34-4-15-62-43 65 25-2 18-23-45 32 29 5 23-18-3 26-5 8 22 6 34-26-31 1-3-6-5-4-40-4-14 5 19-64-17-33-8 96 36-37-23-35-11 91 77-132-80 49-2-7-19-95 25 0 4 10-1-3-13-17 15" stroke="#4A30F0" stroke-width="0.5" opacity="0.7"/>
<path d="M1125 84l-45 19-42 14 37-3 7-1 23-16 37-12 1 1-12-2 41-10-70 15 2 9 33-35-39 8-13 33 4-26 12 12 9-21 14 10 6-5-5-2-19 12-16 9-11 3 63-29-57 27 11-3-20-7 13 13 31-32-12 31 22-12-31 9 2 2-9 4 66-14 18-26-60 34 40-9-65 19 29-12-19-10 19 3 76-13-2 17-20-2 28-8 13 15-31-5-26-2 66 1 9 5 17 27 32 40-25-42-28-7-17-15 28 0-5 21 15-10 24 41 3 16-12-21-11-24 8 24 40 28-27-5 11 58 26 16-26-20 26 24-23-14-1 18-35 55-4 41-19-13 38-35-10 13-94 47-52 0-25-15-26 2-46-56 23-7-12-43-9-76 41-40-4-16-27 95-5-48 0 50 137 170-14 9 12-306 27 1-28 10 29 5-60-2 7-16 31 14 70-7 24 31-6 12 30 27 12 25-13-19 1 1 10 61-8-56-22-18 11-1-27-30-8-28-18 21 36 16 42 53 4-1-16 16 6 41 0-45-9 64 5-2-1 27-44 40 24-1 13-18 10-83 5-1-2 26 20-58-10 71-16 32-6-25 6 26 2-74 0 18 5 22-7 16 26-47-17 67-22-10-13 17 32-46-15 40 13 3-10-33 13-11-4 12 3-4-6-45-15-71-25-27-15-1 32 9 28 24-25 0 16 26-41-47 19 172 4 0-30 48 30-27-4-9-19 44 4-4 44-42-4-60-7 50-10-10 2-7-1 20-8 4 14 2 23-22-19-25 17 31 8-14-18-64 10 17-9-18-2-15 5-64 7 41-9-20-19 3 6 11 17 11 13-7 11 55-31 6 10-6-2 12-6-33-18-66 6 31 5-41 8 70 20 54-27 49-91-221-36 8 48-7-54 2-15-18 2-1 40 18-19 2 12-9-26 12 17 1 52 12 21 16 46 52 5-34 12 83-22-51 5-3 2 14-4-36 13 53 1 23-13-54 10 44-2 29 3 5-2-71 1-12 16 23-23-7 14 54-14 52 5-35-5 10 16 6-10-33-146-142 46 7 1-6 52 12 27 28 25 5-32-22-6 21-33-25 54 53 32 28 9 39-25-7 1-71-21-11 31 51 10 41-23-22 9-8 5-26-17 15 6 22 3 18-8 29-24 56 5-24 9-22 1 57-26 1 29-47-15 17-83 66-30-6 29 28 66-55-11-5 31-3 9-39 11 3-24 11-17 49-42 12-38 0 18 25-44-26 2 2-50 9 100 9 37-19 27-39-34 15 62-37-26 43-22-17-27 52 35-27-56 26-4-18-82-9 36 14-12 9 33-3-27 12-62-45-59-44 19-27 9 21 2 20 13 5 1 1-26-48 19 39-35-14 22 0-6 16-28-44 26-9 2 16-21-50 7-11 47-92-20 47 1-38-3 25 34-46-46 32-7 33 55-44-21 16-5 10-26 77-8 24-2-13 4-40 20-23-15-28 41-37-3 8-35 32 21-3 9-20 38-40-2-5 18 16-84 84-3 57 19 54-7 9-21-45-4-2 1 7-4 9 11 36-18-98 25-10 1 16-19-36-6 66 11-10-4-3 26-66-17 64 25 62 9 37 76 41-90-71-20-19 21 8-1-7-21-81 5-23 28-26-13 13-37 58 29-44 7-44 40-21-5-23 4 33-33 34-25 18 16 13-21 0 35-35-11 24-31 25 37-35 28-52-25 41 39-41 2-7-44 11 3 43-15 97 277-23-10-14-21 57 29 2-15-30 13-31-5-13-20-46 2 22 19 26-13 39 4-70-10-56-22 9-13 0-9-22 15 3 10 31 4 9 4-15 22 76 1 6-3 36 4-11 9-1-16 9-16 38 30-23-11 25-41 26 34-39 4 0 15-11-55-147 21 28-19-34-8-18 44 46-9-22-41-15 21 34 20 7 15 61-100 145 39 12-12-24-48 20-18 17-10 4 16 6-6 1-16-5-5-25 7 0-12 16-35-31-53-43-16-47-4 44 1-74-14-7 8 46 25 34-26-20 30 26-11-11 6-3-2-17-20-47-8-6 12-21 15-57-9 99 10 35-13-52 5 16 38 82-37-9 14-22-21 21 60 37 32 14-19-17 13 5-11 27 26 8-22-6-19-43-36-14-10-43-16-15 13-78-10 36 19-50-32 108 7-8 1-16-1 4 14-5-18-49 17 65-10 5 5-42-2-22 9 57-9-54-6 22 10-16 5-30 0-1-6-48 16 5-26 11 45-10-13 5 3 0-14-10 3-3 31-7 21-50 42-11-9 25-43 4-48 34 7-8 24-8 24-3 70-26-62 18 31-21 8-16-1 16-40 20-21-7 20-10-7 17-2-6 13 3 13-5-18 10 26-15 52-1-68 288-19-19-26-14 36 11-23-2-50-59-10-40-7-67 18 43 17-76 11-20-19 60-6 30 5-45-4 28 3-5-12 29-9-26-6 17 13 35 20 53 23 1 6 17-5 1 0 18 8-17 46 31-50-42-39-15 27 8-42-48 24 12 139 77 11-1 63 4-72 8-59-13 13 4 14 0-99-194-11 28-6 17-13-22 10 62 55 117 184-63-19 52 18-55 45-62-12 17-9 10 4-39 13 37-6 17-3 21-8-34 9 21 2-38-4-5 15-55-5 1-1 35-11 34 25-27-28-43 13 29-10-51 16-10-16 15 4 11-2 44 12 1 9-14-1 20-17 37-7-34 19-2-4 15 9-29-18-10-15-46 4 19 8 16-3 6 9-39-29-38-31-43-21 16-22-27-90 15-72 37 77-43-67 64 8 13-10-2-7 17 53-95-20 51 24-22 48-20 0-17 32 12-40 5-46 12-5 6 10-4-16 21 17-42 3 26 12-6-21-14 6 4-9-5-11 8-14 27 8 13 19-40-34 40 5 15-17-10-1-5 37-25 16 2-4-23 12 14 4-25-23 45-49 15 8 44-25 24 18 65-20-59 13-35 20-8-40 23 11 32 7 21 4-25 4 54-4 24 8-4-25-33 20 10-2-46-8 40 6-32-3 30-17-21 18 9-1 7 36 50-25-7 1-30-28-13 7-14 1 23 34 52 22 11 8 4 5 21 40-3-65-5 21-10 2 14-19-26 68-256-2 4 51 8 31 19 21 1-3-11-24-13-48 11 42-9 4 13 32 16 20 8-30-7-50-26 5-15-119 258-14 7-14-79-22-17 23-44-3 12-7-52 29-23 26-6 43-44 30-5-12 16 40-21-44 20 58-11-37 5 5-21 39 11-166 195-5-51-21 46 18-35 8-44-13 28 10 34 4 42 7 23-17-32-13-3-2-16-8-36 27-24-1 25 8 49 17 59-4-12 19 13-11-12 5-1-3 29 31-1-27-21-8-11 1-2-29-50 50 64-41-26 28 15-32-63-13-15 14-49 3-19 41-60 53-47 53 25-56-19-33 8 28 15-31 17 4-16 20-10 22-9-56 45 1-36-20 34 3 19 5-30 40-12-9 8 0-20 118 21-27-21-20 0-7-19 21 22-36 1-17-2 38 2-81 14 44-18-38 1 30 6-5-15-13 25-13-21 29 4 54 7 9-17-18 15 15-1-5-17 62 29 11 31 29 39 27-11-31-39-27-14 32 30-18-13 26 111-110 149-52-31-23-7 89 4-9 8-1 23-9-15 40-12-112 8-49-53-19-9-7-53-5-4-11-65 15 26 0-2 21-38 50-58 34-17 39 2 27 4 8 3 68 14-35-1-9-4 35 40 33 45 6 9 4 25 9-17-40-43 20 9-3 5 5 27 11-28-35-47 16 24-16-6 14 48 6-33 3 68-6-24 10 3-14 46 4-61-12-45-41-33-35-36 8 3 48 56 16 22 23 41-11-32 16 8-22-15 5 21 17-16-23-13 0 15 13 9 7-6 7 53-13 47-2 21-43 26-13 5-19 10-38 38 32-34-10 29-19 13-40-23-65-16 25-1-19-8 2 6-22 2 18 3-21-31 223-55 32-51-26 0 0 18 23 3 4 10-48 47 49-61-16-8-18-73-4 1-37-25 40 12-8 23 5 6-7-8-10-13 29-1-29-34-13 23 25 25 14 36 0 5 1 1 14 3-7-60-12 39 4 58 14 34-15 38-42 25-46 46-30 6-3-1 9-30-26 1-47-6-33-12 24 13-35-38-46-29 22 4-22-9 12-21 54 82 40 32-40-11 5 2-29-58-36-37-2 27 12-46-17-20 19 20 2-54-3-11 10-22-8-2 28-53 42-2 106-21-60 5-118 197-2 20 66 42-4-2-43-43-29-36-1-60-6 46 34 46 19 31 6 11-16 2 12 13 10-26-25 5 34 35 34-5-20-20 21 12-22-14 21 10-35-15 13 20-52-31 101 29-69-2-12-35 219-169-40-65-26 11 8 9-28-9 6 3-24-29 42 38-55-32-8 8 55 13-22-3-5-6-14-1 64 22 28 35 4-8 23 9 15 65 8 40-5 22-47 31 11-23-7 22 1 1 28-17-20-5 18-5 8-28-21 32 36-43-25-6-7 37-34 67-6 17-44 28-42-14 40 10 9-28-47 11-64-13-25-23-51-28 31 37-17-28 19-3 24 28-35-40-5-14-10 3 26 26-42-39 5 4 3 3 20 9-24-31 6-4 18 36-14-14 10 11-10-51 3-4-12 9-1 27 28 39-9-29 25 75-28-77 226 71-15 11-21-11-42 35-17-1-25 3-31-16 88-8 48-27 31-4 17-91-11 48 13-1-41 34 1 10-40 38-73-3 18 30 22-17 26-12 11 6-33 3-12-10 13-4-23 8 9-5 17 12-38-7-18-3-38 12 52-4-33-13-18-12-5 20 4 1-61-69 25 21-51-56-4-28 11 10 34 100-16-49-6-81-22 1 11-26-6 31 9-6 11 26-9-40 3-24 46-58-5-8 12 18-1-3" stroke="#F01828" stroke-width="0.5" opacity="0.7"/>
<path d="M1046 107Q1086 66 1143 61M1088 74Q1067 88 1049 104M1095 83Q1059 100 1034 131M1105 75Q1081 88 1061 106M1021 151Q1054 85 1126 67M1218 360Q1249 348 1271 323M1273 311Q1251 337 1221 353M1030 122Q1046 101 1068 87M1019 266Q1007 232 1014 197M1012 175Q1001 215 1013 254M1184 67Q1106 58 1046 109M1109 374Q1047 350 1015 291M1015 147Q1002 175 1001 206M1301 164Q1321 211 1305 260M1036 125Q1006 161 1004 208M1151 63Q1230 68 1278 129M1116 68Q1048 90 1013 153M1171 66Q1109 57 1060 95M1163 369Q1075 370 1027 297M1003 182Q1008 156 1021 132M1284 291Q1273 314 1253 330M1296 174Q1310 216 1298 259M1071 353Q1106 374 1146 377M1272 316Q1239 354 1192 369M1170 376Q1105 383 1052 344M1090 354Q1058 345 1037 320M1111 65Q1053 86 1023 140M1259 95Q1186 54 1103 69M1068 93Q1093 80 1119 73M1232 347Q1193 374 1146 375M1188 378Q1162 386 1135 379M1295 290Q1320 245 1315 193M1127 62Q1046 92 1007 167M1021 152Q1009 180 1011 211M1004 239Q1006 281 1027 317M1024 309Q992 238 1007 162M1068 352Q1046 335 1030 312M1212 356Q1191 367 1168 370M1277 321Q1261 343 1239 357M1190 66Q1214 70 1234 86M1215 74Q1154 51 1093 75M1261 331Q1204 381 1127 377M1072 349Q1049 331 1032 307M1298 285Q1253 354 1173 381M1177 69Q1125 65 1081 92M1059 338Q1022 311 1009 268M1313 199Q1315 234 1300 265M1284 297Q1322 232 1299 161M1308 197Q1316 263 1276 317M1313 179Q1321 223 1307 265" stroke="#6A5CFF" stroke-width="0.5" opacity="0.7" stroke-dasharray="3 2"/>
<path d="M1032 299Q1049 331 1079 351M1003 186Q1011 155 1027 127M1313 184Q1315 266 1266 331M1022 154Q993 215 1020 277M1118 379Q1185 387 1242 353M1236 357Q1258 345 1274 326M1085 76Q1154 51 1222 77M1073 83Q1098 68 1126 62M1058 105Q1010 152 1013 219M1005 250Q1012 281 1027 308M1017 159Q1044 94 1111 74M1282 303Q1295 280 1301 255M1213 364Q1286 321 1306 239M1228 86Q1173 60 1114 76M1315 207Q1309 147 1267 105M1196 363Q1140 382 1088 354M1001 237Q1010 300 1059 343M1011 186Q1004 210 1006 235M1055 101Q999 165 1006 249M1059 339Q1023 307 1015 259M1010 211Q1006 280 1057 327M1024 305Q1009 278 1007 248M1295 267Q1305 245 1310 220M1161 60Q1093 63 1042 108M1007 183Q1019 135 1055 101M1002 190Q1011 146 1039 112M1058 338Q1018 298 1013 241M1275 124Q1255 102 1230 89M1295 294Q1248 358 1171 382M1244 337Q1275 312 1291 276M1245 101Q1313 156 1302 242M1288 137Q1241 73 1161 68M1115 377Q1063 361 1032 316M1302 190Q1314 264 1261 319M1292 286Q1255 353 1181 374M1034 320Q1077 368 1141 377M1133 63Q1205 58 1263 101M998 217Q1001 158 1041 115M1301 203Q1306 288 1240 341M1215 359Q1184 373 1149 370M1290 293Q1319 237 1304 175M1020 169Q999 228 1025 285M1047 324Q1006 275 1008 212M1189 364Q1219 359 1242 341M1308 231Q1300 284 1262 323M1278 123Q1298 143 1308 169M1001 226Q1002 278 1034 319M1307 165Q1321 240 1280 301M1055 94Q1032 113 1017 138M1076 84Q1014 130 1002 206" stroke="#FF3040" stroke-width="0.5" opacity="0.7" stroke-dasharray="6 1"/>
<filter id="g3b" x="-10%" y="-10%" width="120%" height="120%"><feGaussianBlur stdDeviation="1.8"/></filter>
<path d="M1300 217L1299 225L1297 232L1297 239L1298 247L1294 254L1292 262L1289 268L1286 276L1283 282L1280 289L1275 295L1271 301L1265 306L1262 313L1257 319L1250 322L1246 329L1239 332L1234 339L1228 343L1221 346L1215 351L1207 352L1200 355L1193 358L1186 361L1178 363L1170 364L1163 364L1155 366L1147 366L1139 366L1132 364L1124 363L1116 361L1109 358L1101 357L1094 354L1087 351L1081 345L1075 340L1068 336L1062 332L1056 327L1052 320L1045 316L1040 310L1036 303L1032 297L1027 291L1026 283L1022 276L1019 269L1016 262L1017 254L1013 247L1013 240L1010 232L1012 224L1012 217L1010 209L1013 202L1014 195L1015 187L1019 180L1022 174L1025 167L1029 161L1033 155L1036 148L1041 143L1045 137L1048 130L1051 123L1057 119L1062 113L1068 109L1072 103L1077 97L1083 93L1090 89L1096 84L1103 83L1111 80L1117 76L1125 74L1132 72L1140 72L1147 70L1155 71L1163 72L1170 72L1178 74L1185 75L1193 75L1200 79L1207 80L1213 88L1220 89L1226 94L1233 96L1240 101L1244 107L1251 110L1257 115L1263 120L1266 127L1271 133L1275 139L1280 145L1285 151L1287 158L1290 165L1294 172L1294 180L1295 187L1297 195L1302 202L1301 209Z" fill="#B0125A" filter="url(#g3b)"/>
<clipPath id="g3c"><path d="M1300 217L1298 240L1292 261L1283 282L1271 301L1256 318L1240 334L1221 347L1200 357L1178 364L1155 367L1131 365L1109 360L1087 351L1067 338L1050 322L1036 303L1025 283L1017 262L1012 240L1011 217L1014 195L1021 173L1032 154L1044 136L1057 119L1072 103L1090 89L1110 79L1132 74L1155 72L1178 74L1200 80L1220 89L1239 101L1256 116L1271 133L1283 152L1293 172L1299 194Z"/></clipPath><g clip-path="url(#g3c)">
<defs><radialGradient id="g3t0"><stop offset="0" stop-color="#8A1488" stop-opacity="0.38"/><stop offset="0.5" stop-color="#8A1488" stop-opacity="0.26599999999999996"/><stop offset="1" stop-color="#8A1488" stop-opacity="0"/></radialGradient></defs>
<ellipse cx="1245" cy="230" rx="75" ry="115" fill="url(#g3t0)"/>
<defs><radialGradient id="g3t1"><stop offset="0" stop-color="#F00A28" stop-opacity="0.5"/><stop offset="0.5" stop-color="#F00A28" stop-opacity="0.35"/><stop offset="1" stop-color="#F00A28" stop-opacity="0"/></radialGradient></defs>
<ellipse cx="1180" cy="320" rx="85" ry="50" fill="url(#g3t1)"/>
<defs><radialGradient id="g3t2"><stop offset="0" stop-color="#F00A28" stop-opacity="0.38"/><stop offset="0.5" stop-color="#F00A28" stop-opacity="0.26599999999999996"/><stop offset="1" stop-color="#F00A28" stop-opacity="0"/></radialGradient></defs>
<ellipse cx="1200" cy="140" rx="70" ry="50" fill="url(#g3t2)"/>
</g>
<path d="M1126 120l97 58 40-1-12-60-22-7-5 26-28 8 3-43 51 6-49-28-14 10 27 7-36 31-21-26-10-28 56 175-11-14-36-1-44-4-46 12-25-42 39-5 39 10-19 48 11-58 41 11 27-28 16-17-30 34 17-13 33 6 25 36-14 38 58 7-34-11-2 13 2 20-23 16 16 12-24 27-1-1-58-12-58-19 9 33 46 17-11-16-22 23 66-225-38 83 6 69-38 29 16-5-9 27 6-9-31 10 145-247-20 31-7-31-3 72 45 2-71-48-6-28 40 17-61 18 62-18 27 35-99 146-35 9-42 31 35-29-19 32 60 4-26-19-23-35 51 19 43-21-8 7 18 2 8 36-5-3-137-180-17-24 117-24 32 4-35 39-16 36-12-15-3 4 111 58-46-4 7-30-11 45 21 39 7 50-13-39 16-27-44 8 43 17-42-26-22-16 60-11-62 15 17-4-66-12-6-25-46-7 26 28 26 43-6-13-70 4 22-28-18-16-8-20 38-13 4 7 18-27-26-50-25 47 20 25 47 20-8 50-31 22 48-31-54 18 160-46 15 15 11 60 11-50-63-15 30-12 12 53-17 33 0-38-25 31 38-22 0 51-152-212 40-15-42-1 38 7-40 34 18 28 62 16 40 24-66 9 67 12-80-115 120 7-51 113-1 40-7 41-5-75-9 54-150-74 38-37-13-34 17 73-5-75 49-17 37-38-18-12-26 19 28-22-30 11 9-3 27 38 44 26 21 48-64 13-68 115 7-39-39-5 3-53 220 45-55 20-9-42 22-47-34 45-51-19 31-5-32 46 30 23-38 31 1-67 36-7-63 15-80-74 122-92-57 15-15 24 218 17 3 62 5-17-144 60-35 43-68-3 48 28-7-1 32-5 4-22 19-13-18 55-44 7 4-31-17-25 11-25 57 7 42 2 5-11-9 68 4 1-58 19-11-8-26-43 20 35-71-184 125 61-2-22-16 63 15 25-18 44 6-16-20-4-24-33-20-32 205 35-29-44-9-56-27-4 33-17 21 5 11 13-227 145 36 31 12-69-6 38 91 36-37-267 17 40 15 13-8 63 36-32-35-36 92 119-8 12-35-20-9-39 62-9-72 4 40 0 41-27-23-7 9 26-134-21-39 26 48 1 29-21 49-9-18 59-11-123 3 54-11 68-3 38-47-163-1 60-1-64-10 64 20-38 20-10 12 27 2 22 32-40-34-33 22 271 19-253 27-9-96 75 11 42 8 42-38 20 30-22-22 104 31-43 22 26-143-170 180-81-170 150 6-43-7-28-42 45 5 15 62-9 28-17 16-42 40-18 14 40 13 26-11 38-11 39 36 28 8 31 41-94-37-29 29 42 14-49 30 14-90-137 2-3 32 6-9 70-7 72 19-58 44 23-59-8 4 5 32-12-60-13 14-58-38 0-15 47 9 35-28 13 13 51-52 27-14 59 54-14 70-216-23 74 34 132-43-56 28-17 20-13 39 10-29-17 3 40-42 15 42-7-27-3 10 4 27 39 6-57-5-71-13 18 6 10 15-35-12-66-55-2-158 110 24 30 10-43 13 20 3-35-52-18 35-21 85 63 40 34-19 38-32 2 54-8 33-187-119 252-8-51 26 11 23-40 110-65 24 55-198-110 55-24 7-63-34 32 4 50 26 30-16-27-18 36-9 5 18 40 26 9 44 15 10 21-57-55 130-38-50 3-79 55 3-7-3 61-15-11 71-5-39-15-10 44-16 38-36-20 142-215-41-30 21 10-52 46 33 36 67-12-22-24-50 28 15 161 36-28 6-3-90-9 61 4-32-47 7 26-4-6-50-22-8 42-7 48 5-7 45-6 105-83 10-44-256 99 30-35-40 0 37-9 55-25-5 15-15-9-17-39-13 2 33 21 12 38-24 40 35 11 40-13 64-15 28-37-23-4 14 18 23-11-7 16-28 22-74-86-50 2 10-64 20 3 24-50 107 157-8 18-183 83-24-28-22-43 31-12-46 28 10-14 30 26 30 18 43 18 34-43 47-16 9-41-70-4 8-28-39 1-45-29-13-10 167-72 17 37-133-27-21 182-32-14-53-21-1-70 39 9-16 64 40 9-4 14 30-46 30 29 152-78-237 40-28-47 32 17 42-3-2 54-10-70 3-35 16-25 4-8 9 57-40-19-3 8-25-20 43 135 128 15 12 7-46-23 67 0-18 18-23 56-1-26-29-23 9 2-4 48-109-229 1 72 26 23 19-73-61-16 12 50 13-61 56 22 2-25-19 23-97 77 49 19 30 29-4-14-23 37-28-43 7-4 6 24 45 47-23 5-11-47 37-26 63 13 37-31 31 16-7 26 13-46-27-30-22-8 27 41-3 37 30-27 12 21-5-15-45 1-41-36 1-58-65 10-1 54 40 91 14-33 69 8 26 48 12-5-40 33-24-195-97 130 41 30-65 0 10 38 4-55-9-53 24 25 19-19-19-43 54-112 39 26 46-1 4 57-67 5-13 63 25 24-19-13 38 21-24-36 42-29-63 85 61 0-46-26 37-5-20 0-17-32 2-5 5-65 30-23-36 7 25-40-3 68-52 26-41 7 15 27-35-29 2 75-12-15 38-17-41-11-40-1 27 34-21-35-45-17 61 78 184-126-37-16 12-15-55 13 13 41-36-5-35-24 14-11 32 41 37 5 47-31 6-6-6 55 9-32-1-9 14 24-20 5-24-44-139 62-12-48 29 10-31 5 48 2-2-54-45 28-33 35 20 25-42 13 64-9-25 5 34-43 6 41 177-10 13-24-39-7 0 42 23-40 24 18-237-58 42 37 9-4 33-36 89 25-27-1 0 43 59 21-2-69 16 48-49-14-146-15 49 12-64 10 59-9-11-10-32 19-16-14 29-22-1-4-58-8 104 62-21-136-51 16 1 42-19 10 36-13-39 26 142 189 7-48-78 0 11 13-22 9-35-33 54-25-16-60-17-35 19 24 38-8-8 18 40 28-63 66 64 2 5-31-79-28 14-37-6 46-4 17 53-20 0-48 17 13 35 31-34-34-10 19-9-63-10-58-18 23-9 56-15 33 4-53 1 56-27-23-7 12 37 21-3-41 26 39 49 5 26 45 0-21-10-66 30-29 1 48 20 54 25-1-165-45-29 42-2 49 0-65 14 48-25 32 31-17 32-231 48 25 2 36 43-2 1-20 19 26-31-39-10 106-56-13 58-5 55 7 5 35-252 30 220-75 26-17-127 0 21-10 51 13 2 77 48-22-30-34 30 3-32 27 42 19-18-44-45-7 62-12-40-31 30-19 18 3-62 13-25 48-77 2 53-8-164 21 13 39-9-67 38-19-12-16 67 48-1-64-1 0-53 0 36 203-10-214-4 67-29-37 26-44-18 17 8 55-1 50-51 8 71-83-34-22 13 11 66 8 0 4 13-28 148 117-9-3-8 23-47-27 22-49 23-20-33 14 62-17-133 113 50-25 43 19-15-41-141 97 8-7-5-57-3 48 80-198-18-51 15 57 51-1 22 46 13 41 39 14-121-141-9-5-45 55-23 24-41 20 17-47 20-5 34 45 29 22 15 36-34-44-2-48-11 30-7 32-15-23-1 30 29 32-48 17 24 53-29-27-17 4-20 35 32 4 33-8-26 28-34-198 117 103-20 50 57-16 50-4 3-45-9-40-37 41-27-19 13 33-40-22 8-18 7 51-3 7 22-37-123-68 41-3 16 10 42-34 63 196-35-28-186-69 58 21 1 68 71-137 2-64-54 15-30-1 224 132-188 37-51-2 156-178-124 131-53 5 42-12-5 28 29 12-17 33 118-5 25-48-37-36 14-10 3 18 39 42-161-129 6-4-50 21 38-20 47 18-14 14-29-44 104 180 57-18-8-57 53-25 24 35-140 55-26 6-65-142 19 0-38 16 43-2-13 21 10 54-50-21 28-2-24-79 81-67-63 17 34 20 21-32 125 230-6 9-14-16 7-43-41 18-9 50-27 9-34-16 21-49 16-44-31 30-45-29-16-34-20-19 35 35 206 9 10-51-40-12 4-6-7-24-21 48 53 2 12-15-168-68-39 177-25 12 38-25 13-61-19-45 27 27-32 41-29-50 3-48-24 38-19 21 54-24-27-45 56 21 49 31 58 13 30-5-139-67 11 64-7 44 24 32 53-8 31 6-22-57-16 9 19-57 18 37 50-3-4 29-4-19-61 8 35-12-15 64-44-16 5-12 7-59-2-84-127 127 30 14-20 1 197-85-27 3-6 57-6 64-31-15 3-128-23 44 8 118-20 36-5 12 22-239-23 23 28 40-22 13-2 76-17 24 39-22-47-1 53 13 8-33 24-19 59-14-36 42 53-12-204 57 17 1 94-13 24-19-10-31-51-25 12-1-57 20 3 74-8-50-24-31-33-9 19 44-64-9 31-44 0-38-29 82 33-25-33-11 12 62 22-46 3-61 51-19-5 40-65-9 40-16 36 7-33 15 27 17 1-29-21-16 218 107-84-119 11-1-54-8-7-9 106 100 0 22-48 14 66-16-28 11-13 16-25-29-37 42-52 25-48-1-31-13-37-27 0-71-1 44 7-59 53-71 30 73 10-61-12 19-43-12 73 7-35-38 203 148 5-10-18 55-122-192 1 12-85-2 0-11-51 189 18-39 8-54 5 54-11-4 52-10-18-23-29 1-17 60 25-3 51-14 53-21-15-52 27 53-8-45-14 26-22-6 2 17 22 44 3-75-40-6-11 38 15-31 63 15 4 63 12 23-46-23 0-46 20-56-10 19-34 44-54-93 24 50 4-65 21 2 75 109 10-63 33-13-48 8-20 23-14-20-13-58-49 2-22 31 1-30-10 135-28 17-2-24 41 16 14-127 34 16-60 42 57-5-35 40-20 4 21-17-6 19 25-55-20-21-26 30 10-20-5 74-26-104 44 22" stroke="#3A10E0" stroke-width="0.8" opacity="0.6" stroke-dasharray="2 1.5"/>
<path d="M1144 221l66 14-78-162 116 47-38 38 29 45 50 11-56-18 28 27 32-35-195 100-12-107 0-41 18 51 52 5-29 21 57-45 16 58-2 36-70-7-12-53-17 55 4 63 42-7-16 51 118-127-178 81 22-47-30-24-49 6 227-105 21 44 39 16-30-10-43 17-52 11-77 3-18-43 33 19-62-7 25-22-31-42 32-44-2 55 118-5-1-20-30-19 35 19-12 45 5-20-41-28-46 231-37-30 16 14-4-33 49 10 40 3-41-32 18-17-12 0 7 57 36 11-3-228-65 10-32 39 3 3-15 57-37-43-19 39 226 10 3 39 9-12-1 60-17-29-210-97 117 110 17-60-44 34-1 10 118 29-42-36 23 4 34 24-23-34 24 47-203-114 57 7 9-35 30-44-41 0 60-10-14 30 0 43 12 5 70 126-54-26-20-57-25 21 0 68 178-80-256 10 221 63-34-183-58 1 26-41 8 12-35 27-74 72 38 36 19-1-63 13-17 11 32 42-17 49 78 1 18-48-15 40-57-18-24-12-1-59-47 15 15-20 5-44-42-19 37-41 11 67-9-37-50 17 55-2-33 4-19 38 36-43 40-24 20-21 52 23-5 74-84-75 54 26-37-12 166-10-8 58 5 68-22-3-4-63-141-5 34-27-26-40-26 6-11-34-29 48 31-44-22 27 12 49-30 18 20 25 167-143-123 232 4-74 54-13-51 13 29 24 18 48 27-212 63 209 11-11-52 17-13-32-39 31 15-16 32 7-58-176 137 86-109 56 25-16-72 5-30-1 76 2-6 19-62-95-53 25 207-48 32 34 32-63-249-15 125 77 28-8 18-43 60 13-70-2-29 40 47 4-50-25 15-36 29-39-16 59 21-55-75 149-60-12 50-14 57-3 13 32 66-91 22 55-56-21-14 25 44-1-228-88 4-25 239 41 9 39-89-97 27-30 5 42 49 19-38 14-102 198 35-179 54-19-35-35-42 31-30 44 61 6 34 17 47 2-42-37-2-65-170 85 34 1-14-6-34-12 26 27 46-52 3-58-6 14-45 3 160 149-9-46-4-76-37-17 34-21 7 13-86-16 43 27 39-36 7 59-183 2 86 118 33 37-16-2-80-167-13 10 15-49 30-13-22-2 187 107 4-91 28 43-27-30-7 19-168 16-14 54 50 2 1-78-45 4 70-10-64 6 13 42 153-17 8 44-174-38-18 13-35 31-5-18 41-21-47 5 49 13 69-8-59 9-20 51 22-39-8-63-50 23 39 9-23-36 55-10-33-8 28 24 34-10 33 44-17 53 91 36-9 15-32-22 14 19-6-93 45 4-4 63 12-116-32-21-64-15-43 27 36-41 35-2-5-18-16 45-32 28-64-4 136-23 10 10-133 138 16-62 27 152-6 6-33-274-33 34 184-27-8 21 30 41-53 18 48 14 30-41-41 16-16-32-41-1-6 26 75-9-57 20-17 4-107 71-37-38-12 62 173-13 55-9-164 40 11 33-6-33-21 37 82-138 11 49 7 36 75-3-59 21-24 20 50 9-2-72 4-65-7 49 18-33-10-40 20-31-26 28 34 11-6-20 41 39-54-8-20-5-84-18-6 57 4 29 2 68 32-23 92-171-9 1-44 19-19 1 31 46-5 40 36-10 0-26 45-1-11-10 28 48-19 24 18 0-5-12-213 79-4-48 6-10 14 43 4-66 54-8 71 4-11-66 65 1 13 18-46 31-18 38 23 49-18-1 25 11 5-73 13 58-41 37-44-19-62-181 71 6-27 46-9-67 36-15-36 8 16-19 0 69 15 9 20 22 2-47-8-63-64 0 41 6-4-8-50-11 10 39 26 16 54 22-25-47 21-3 26 24 3 24 1 12 20-3-73-3 44 20 28 34-52 149-4-35 36-30-91-218-34 1 104 91-21-13 15-38-19 25 12 62-55 7 16-3 9-69 42 15 47-20 14 62 11 37-169 84 42-92 40 29 28 0 24 30 27-40-226-93 30-5 30 32 14-22 17 24-57-43-43 37 7 61 13-37 11 19 58-90 5 57-16-53 9 38-14-5-66 2 28-12 16 49-43 22 7-1 54-16-31-30 47 16-28-18 11 59 102 37-34 44 55-21-2 3-51-9 6-36 49 0 18-10 18 35 13-66-24-4-35 39-22 1 44-7 36 31-53 25-50-24-27 37 28 4-11-36 26 19 7 56 27-223 1 40 14-16 29 39-50-9-25 143-45 1 46 25-53-258 56-1-20-5 22 24 66 89-127 103 39 23-126-56 26-47 0-57-24 8 17 1-32-10-23 29 218 116 0-34-11 26 50-28-25-37-72 126-56-190 67 1-12 5 39 36-54 15 0-44 10 54 2 72 62-14-23-22-7-9-53-21-29 32-19 51 68 7-46-18 15 7-52-13 23-43 44 9 59 20 49-31-54-10-8 36-110-157-33-15-6-5 4 186 5 18 34 23-15-11 19 9 5-9-49-9 111-47 16-96 0 46-16-97-62 15 60 11 35 29-25 31-4-9 64-5 12-57-87 211-1-249-40 35 12-11 20 17 46-33 36 43-13 57-14 43-27 49-13-61 51-1-14 20 29 12-41-17-41-14 33 42 36 31-76 29 3 13 15-49 54 19-64-202-20-34-15 3-28 28-1-37-21 30 110 65-26 1-40 21 36 39 50 7-3-70-57 92 19-133 54-9-3 7-11-51-147 247-7-16-22-85 245-36-12-52-47 27-21-10-50-8-38 38 2-76-40 19 17 26-1-2-1 29-63-16-2 100 65 7-18-44 10-17 45-12 9 56-15-40-64 1-11-68 43-14 26 20 6 69-31 39 60 10 8 53 10-66-38-24 62 12 5 20 11-10-30 40 18-56 36 34-52-4 28 31 54-21-66 13-9-62-47-47 4-55 32 33-44-8 6-9 16-16 38-27 3 14-68-10 30 141-7 70-2-56 3-14 42-30 46-21 8 50 46-9-50-12 17 43 25-105-36-8-24-25 33 71-29 25 26 2-128-135-39-5 74 247-33 14 5 15 72-42 28-3-4 19-11-32 19 8-118-102-13 43-45-16 59 106 54-17-66-14-3-29 1 46-25 5 11-56-44-18-10-45-25 44 54-2 84-125-54 9-5 6-30 24 16-12 1-7 48 28 14 4-6-16-29-24-29 51-14 47 1 56-36-23 27 30-25-11 147-118 50-25-11 27 23 27-37 16 12-59-4 13 39 16-28-53 43-11-29 2-3 72 29-48-67-3-22 55-11-57-19 8-1 72-65 11-28-99 28-26 31-20 29-25 36 0-11 6 61 170 30-30 0-2-25-10 26-30-33-3 7 33 30 75-116-105-27-14 14-45-47-4 162 39-162 103-10 35 29-12 17 62 2 1 91-20 32 1-111-76-20-39 29 40-1-66-15 6 40-17-9 50 8 10-33 27 1-106-13 17 29 25-23-57 0-20-56-18 13 4-33 85-36 2 3-14 50-3-4 13-13 18 25-31-45-3 13 69 57-17 11-30-14-21 34 11 0 47-7 64 8-32-59 7-35 30 245-150-42-31 22 32-18 14-88 183-8-45 24-12-20 22 56-20 0 57-12 10-4-59-38 40-138-123 55-19-18-14 97-53-10-49 12 48 39 13 45-25 16 47-1 1-238 70 10-36 256 28-1 51-17-62 47 8-172-151 17-1 3 25-41 33-5 34 12 44 5-128 2-7-21 12 69 183 53 6 11-44 37 37 6-15-41-69-37-15-24 40 7-19-89 146-44-32 14 16 20 23 24 4-44-27 30 25 0-75-31-37 13 52 130-181 27 36-31 19 5 63 0 38-2 58 33 5-60 19 25-44-73 0-44-14 32-3-59-12 30-48-20 31 7 3 173-128-7 14-26-36-20 54-46-4 7 24-34 19 39 30 39 24-20-15-24-49 0-29 23-54 26-14-61 67 3-21 79 29-45-3 4 21 16 8 55 12-109-113-21 45 65 106-47-25-73 129 38 14 34-42-2-20-12 10 58-13 51-19 1-30 33-14 4 8-36-24-36-23-45 0-31 32-64-1 25 46-52-16 155-80 21-12 35-11 8 42-19 60-7 46 30-29-252-46 42 5-36-25 89 62-20-7-30 20 33 46 64 3 34-18 18 0-16-16-4 38-31 14 41-90-15-13-11 47-51-1-12 39 17-61-13-15 42-38 52-6 22-2-31 37-111-61 29 11-8-69-34-30 86 253 25 7-3-22-48 23-54-10-23-31 142-70 0 20-45-33-6-4 50 22-150-14 28-7-13-27-6-44 3 59 227-48-1 13-65 7-3 56 19 32 17-26 28-20-15-6 10-44-49 30 5 34 31-47-19 24-62-18 13-29-17 7 25 13-21 10-10-30-39-12-61 17 4-4-66 12 21-23 16 64 37 10 179-79-11 20-8 10-13-61-59-14 76 163 21 3-3 6-153-81 26-44 11-49 147 111-11-63-27 11 29 47-57 10-48-26 64 14-44-2-27 15-3 58-34 25-3-8 48-27 36 20-1 32 20-58 50-3 1-63-19 54-28 10-133-19 1-71-25-13-19 25 31-45-44 35-3 67 48 4-23-19 18 60 22-48-52 10-25 30-7-2 57-2-57 7 1 19 26-42-20 20-2-73 4-46 9-24-14 51 15 35 167-43-69 3 31 45-28 51 3-33 63-2 42-11 6 44-22-31-10 64 34-16-48 23-7-6 3-57-25-40 17 39-83 108-93-142-6-49 89-9 3 4 20-49 28 21-46 30 87-14 32-20-199 2-30 50 59-11 145 174-54-202-23-33 105 108 13 55 21 20-32-42-187-35 23-86 17 4-2 73 40 27-34 37-5-37-28-32 47 2-18 53-12 8 16-35 27-12-24-22 61 8 14 55-110 22 64-23 3 28 8-38 19-10 51 21 33 14-39-14-148-9-3-31-19 31" stroke="#FF0A1E" stroke-width="0.8" opacity="0.65" stroke-dasharray="2.5 1.5"/>
<g stroke-linecap="round" fill="none">
<path d="M1198.2 357.9h0M1027 143h0M1283.7 285.1h0M1134.7 65.6h0M1285.3 140.9h0M1295.8 284.9h0M1181.2 364.1h0M1051.2 118.6h0M1120.4 62.2h0M1178.2 70.4h0M1025.7 287.5h0M1303.6 206.5h0M1262 333.2h0M1204.1 71.1h0M1007.2 198.9h0M1114.8 68.4h0M1212 366.3h0M1279.3 303.4h0M1176.8 367.8h0M1247.9 91.9h0M1001.4 243.4h0M1111.2 374h0M1002.9 194.2h0M1016.4 279.2h0M1300.2 173.1h0M1083.9 351.5h0M1259.3 320.5h0M1271.6 104.8h0M1304.3 158.5h0M1262.2 314.8h0M1098.2 368.8h0M1227 355.6h0M1270.6 313.8h0M1038.8 307.2h0M1256.6 340.9h0M1163.5 58.9h0M1297.1 163.2h0M1015.3 282.8h0M1159 379.4h0M1005.7 232h0M1022.2 131.4h0M1144 382.4h0M1001 251.9h0M1293.5 286.8h0M1192 378.1h0M1027.5 149.6h0M1179.6 379h0M1020.1 277h0M1085.1 90.8h0M1010.7 167.3h0M1077.4 348.7h0M1004.6 175.4h0M1032.6 146.2h0M1032.3 136h0M1232.3 353.4h0M1135.9 376.6h0M1287.5 278.2h0M1074.2 345.1h0M1163 62.6h0M1152.1 369.3h0M1276.1 115.6h0M1168.4 378.5h0M1202.4 374.8h0M1173.4 66.3h0M1168.4 377.3h0M1266.6 327.2h0M1005.5 173.6h0M1259 316.9h0M1246.9 86.1h0M1041.8 130h0M1171.7 63.7h0M1173.4 59.1h0M1151 378.1h0M1182.3 60.1h0M1308.6 176h0M1301 162.6h0M1099.6 80.2h0M1205.8 79.8h0M1091.4 360.5h0M1193.5 66.7h0M1087.6 358.6h0M1148.4 375.8h0M1040.2 323.7h0M1010.8 244.8h0M1284.1 143.5h0M1068.3 339.4h0M1118.2 62.3h0M1312.5 196.2h0M1288.8 159.8h0M1075 91.6h0M1205.4 358.3h0M1128.4 68.4h0M1064.3 99h0M1027.7 301.3h0M1269.1 325.4h0M1072.4 95.9h0M1296.1 162.7h0M1089.7 356.8h0M1260.5 95.9h0M1183.4 368.9h0M1170.6 366.3h0M1314.5 234.6h0M1282.6 298.8h0M1162.9 377.6h0M1149.9 370.9h0M1014.5 177.4h0M1180 370h0M1259.2 318.9h0M1001.6 247.7h0M1127.6 60.6h0M1217.3 352.7h0M1110.9 69.7h0M1204.8 372.8h0M1002.1 196.2h0M1281 306.5h0M1307.6 208h0M1052.3 124h0M1292.4 165.8h0M1258.6 338.9h0M1094.1 370.7h0M1077.9 352.4h0M1042.3 130.4h0M1197.2 375.6h0M1285.9 155.7h0M1006.9 262.5h0M1301.7 174.7h0M1105.7 369.5h0M1306.7 183.6h0M1242 97.5h0M1308 235.9h0M1016.6 172.6h0M1000 225.8h0M1058.6 95.3h0M1301.1 246.7h0M1303.1 220.3h0M1281 139.8h0M1009.3 269.6h0M1071.1 357.9h0M1082.8 359.9h0M1010.3 176.4h0M1008.8 272.2h0M1120.5 69.3h0M1130.7 369.9h0M1006.2 211.5h0M1049.2 99.9h0M1053.2 99.6h0M1016 154.2h0M1244.3 330h0M1078.6 352.3h0M1254.3 104.2h0M1163.2 381.9h0M1059.7 89.3h0M1235.9 339.4h0M1008.6 246.6h0M1003.1 219.6h0M1124.4 66.4h0M1014.8 283.6h0M1308.5 217.1h0M1294 269.4h0M1156.6 377.1h0M1034.1 148.6h0M1133.1 379.4h0M1270.2 131.3h0M1030.5 127.4h0M1038.9 318h0M1095.4 357.3h0M1008.4 191.1h0M1078.7 89.1h0M1006.2 267.3h0M1042 126.4h0M1217 75.5h0M1285.7 285.7h0M1013.3 174.4h0M1286.2 292.7h0M1268.6 109.2h0M1149.4 69.6h0M1076.4 351.1h0M1301.4 218.7h0M1142.7 68.1h0M1119.8 371h0M1027.6 158.5h0M1253.3 326.5h0M1264.9 318.2h0M1307.2 188.9h0M1147.2 369.8h0M1028.4 306.2h0M1049.7 107.5h0M1078.9 92.9h0M1290.3 128.1h0M1028.3 123.2h0M1224.5 363.8h0M1004.5 207.8h0M1064 89.6h0M1011.6 166.9h0M999.6 240h0M1233.6 358.2h0M1046.4 122.8h0M1198.7 365.1h0M1061.8 105.4h0M1116.8 376h0M1268.7 311.2h0M1046.3 106.7h0M1234.5 352.3h0M1313.6 224.2h0M1243.8 91.2h0M1020.2 149.6h0M1017.4 156.3h0M1034.9 139.8h0M1035.9 132.3h0M1114.4 365.8h0M1020.5 139.8h0M1017.1 271h0M1197.5 72.9h0M1134 370h0M1085.1 84.1h0M1005.3 199.6h0M1102.4 362.6h0M1304.9 261.5h0M1172 375.2h0M1279.4 115.3h0" stroke="#1E5A3E" stroke-width="1.5"/>
<path d="M1236.4 258.2h0M1261 294.4h0M1199.8 79.8h0M1269.1 289.8h0" stroke="#FA8C1E" stroke-width="2"/>
<path d="M1202.9 239.8h0M1267.2 181.6h0M1253.9 251.4h0M1228.4 94h0M1225.9 187.3h0M1292.3 170.9h0M1017.5 264.3h0M1028.2 160.5h0M1265.9 255h0M1253.8 274.8h0M1208.9 235h0" stroke="#3C9D6C" stroke-width="2"/>
<path d="M1012 209.7h0M1252.7 195.9h0M1037.9 145.7h0M1233.8 100.2h0M1084.9 94h0M1185.6 162.2h0M1025 280.6h0M1289.1 244.3h0M1277.9 159.8h0M1281.8 279.1h0M1062.5 115.3h0M1033.7 298h0M1212.4 164.7h0M1259.3 275.5h0M1048.1 132.8h0M1211.6 290.1h0M1070.8 106.5h0M1297.2 225.5h0M1205 121.1h0M1252.2 243.3h0M1132.1 364.2h0M1186.7 359.1h0M1254.1 190h0M1222.4 123.4h0M1257.9 183.2h0M1257.2 160.4h0M1235.1 136.7h0M1210.3 277.5h0M1075.3 343h0M1216.9 233.1h0M1077 102.1h0M1120.6 77.7h0M1142.2 365.2h0M1282.5 262.2h0M1271 250.2h0M1249.7 323.2h0M1047 316.7h0M1187 194.8h0M1279.4 203.1h0M1096.8 86h0M1257.6 242.3h0M1205.1 194.6h0M1195.2 288.2h0M1237.1 213.4h0M1220.5 323.6h0M1279.7 282.3h0M1253.1 317.5h0M1236.3 178.7h0M1174.4 74.7h0M1182.9 203.2h0M1234.4 182.8h0M1278 267.5h0M1166.3 73.7h0M1237.8 101.1h0M1249.6 111.6h0M1244.6 108.2h0M1241.2 231.9h0M1256.5 222.5h0M1216.6 327h0M1277.4 253h0M1011.3 223.4h0" stroke="#FA8C1E" stroke-width="2.5"/>
<path d="M1180.4 183h0M1215.9 103.5h0M1270 246h0M1270.3 256.9h0M1203 224.2h0M1089.6 90.2h0M1092.7 351.4h0M1182.2 274.6h0M1015.8 189h0M1019.9 179.3h0M1213.4 262h0M1294.3 246.1h0M1036.7 300.8h0M1012.7 229.9h0M1251.2 173.3h0M1254.3 279.7h0M1107 81.5h0M1261.8 225h0M1232.4 164.1h0M1226 130h0M1227 256h0M1259.3 257.9h0M1269.1 177.3h0M1065.3 333.7h0M1279.7 206.7h0M1167.5 194.2h0M1229.9 274.1h0M1198.9 328.6h0M1247.6 130.1h0M1275 166.7h0M1213.6 206.6h0M1216.1 259.9h0M1201 320.7h0M1038.7 304.2h0M1188.1 174.4h0M1014 250.3h0M1194.5 246.9h0M1275.1 292.5h0M1258.7 170h0M1241.7 310.3h0M1241 145.2h0M1291.6 255.6h0M1170.5 75.1h0M1211.1 168.7h0M1155 365.7h0M1232.1 322.6h0M1192.5 337h0M1181.6 218.1h0M1146.1 365.5h0M1114.3 80.3h0M1272.6 135.8h0M1161.4 364.3h0M1194.1 349h0M1106.9 357.5h0M1231.2 227.8h0M1286 270.6h0M1215.4 302.5h0M1211.3 304.8h0M1239.6 327.1h0M1282.9 171.5h0M1260.5 281.5h0M1297.9 199.9h0M1025.5 167.3h0M1288.2 176.9h0M1256.5 202.6h0M1210.8 258.5h0M1240.1 188.4h0M1016.1 258.7h0M1289 266h0M1230.8 340.1h0M1296.9 204.3h0M1057.4 122h0" stroke="#3C9D6C" stroke-width="2.5"/>
<defs><path id="n3_5" d="M1242.9 291.7h0M1177.5 78.4h0M1229.5 314.1h0M1035.5 153.8h0M1212.5 329.9h0M1175.1 252.6h0M1208.8 348.7h0M1014.5 206h0M1174.3 169.1h0M1257.6 262h0M1201 165.3h0M1209.8 127.7h0M1223.9 176.6h0M1201.5 85.1h0M1260.3 209.2h0M1203.8 187.4h0M1174.2 303.2h0M1186.6 330.3h0M1224.5 183.7h0M1249.6 239.9h0M1261 219h0M1179 287.5h0M1223.3 297.6h0M1171.8 149.2h0M1041.9 144.3h0M1199.2 178.5h0M1209.9 172.4h0M1165.7 239.8h0M1249.6 283.1h0M1197.8 300.8h0M1270.5 166.5h0M1236.8 304.7h0M1254.3 304.4h0M1166.7 277.5h0M1218 267.1h0M1208.1 205.5h0M1212.3 190.6h0M1285.3 242.2h0M1069.1 110.4h0M1203.5 157.6h0M1222.5 95.3h0M1239.5 239.6h0M1191.8 103.2h0M1110.6 83h0M1291.5 180.7h0M1272.1 218.5h0M1092.5 92.6h0"/></defs>
<use href="#n3_5" stroke="#90500F" stroke-width="3.5"/>
<use href="#n3_5" stroke="#FA8C1E" stroke-width="2.5"/>
<defs><path id="n3_6" d="M1225.7 280.8h0M1162.7 274.8h0M1271.8 234.3h0M1060.3 327.6h0M1185.2 268.1h0M1181.6 235.6h0M1167 335.4h0M1213.5 89.5h0M1225.6 114.1h0M1164 264.1h0M1234.8 240.6h0M1196.8 103.4h0M1239.5 321.9h0M1126.1 351.3h0M1295.6 215.1h0M1216.6 238.1h0M1057.6 323.2h0M1252.3 157.1h0M1296.3 210h0M1190.8 260.6h0M1235.1 199.4h0M1173.3 233.1h0M1239.9 119.7h0M1186.6 198.8h0M1237.1 330.9h0M1194.8 149.8h0M1160.2 189.4h0M1200.8 291.8h0M1211.1 138h0M1169 171.1h0M1265.7 246.4h0M1167.7 258.3h0M1024.4 272.3h0M1190.5 185.4h0M1207.5 115.1h0M1276.1 276.3h0M1162.8 347.4h0M1055.1 127.8h0M1143 75.5h0M1287.1 202.9h0M1158.2 76.6h0M1292.3 185.2h0M1253.6 230.2h0M1275 231.4h0M1243.2 181.5h0M1167.1 341.6h0M1147.7 75h0M1215.9 198h0M1250.6 314h0M1225 141h0M1047.7 137.3h0M1265.8 189.2h0M1254.4 311.1h0M1230.5 171.6h0M1237.2 316.5h0M1244.2 238.4h0M1216.4 287.2h0M1263.6 304.8h0M1243.8 321.1h0M1152.8 74.7h0M1150 187.9h0M1218.1 163.1h0M1179.9 241.9h0M1203.9 137.4h0M1272.7 141h0M1167.5 290.7h0M1223.4 101.4h0M1184 208h0M1276.3 218h0M1191 218.7h0M1179.1 124.1h0M1190.7 289.8h0M1029.9 287.4h0M1252 168.2h0M1015.7 242.1h0M1274.8 162.9h0M1271.9 171.8h0M1161.6 194.9h0M1241.6 161.1h0M1173.7 349.2h0M1223 118.6h0M1161.2 309.9h0M1115.9 355.2h0M1287.7 198.1h0M1037.3 296.4h0M1203.2 272.1h0M1044.5 309.4h0M1191.3 80h0M1017.7 252.4h0M1160.8 330.1h0M1051.1 317h0M1229.9 200.1h0M1203.7 341.4h0M1168.3 230.5h0"/></defs>
<use href="#n3_6" stroke="#1E5A3E" stroke-width="3.5"/>
<use href="#n3_6" stroke="#3C9D6C" stroke-width="2.5"/>
<defs><path id="n3_7" d="M1182.5 259.8h0M1159.6 360.1h0M1174.1 126.5h0M1167.7 225h0M1020.1 191.4h0M1137.3 89.4h0M1223.9 267.1h0M1206.9 318.8h0M1276 152.6h0M1222.9 338.4h0M1069.1 114.8h0M1189.9 346.5h0M1162.8 179.2h0M1237.4 220.8h0M1207.5 90.1h0M1028.8 174.8h0M1243.1 254.5h0M1158.7 87.3h0M1175.7 187.2h0M1168.6 212.7h0M1139.4 360.5h0M1191.2 242.2h0M1164 250h0M1200.8 128h0M1173.2 159.7h0M1025.6 262.7h0M1232.5 149.2h0M1146.7 340.2h0M1030 281.8h0M1164.2 199.5h0M1227.8 148.9h0M1197.5 295.8h0M1019.8 196.6h0M1212.2 233.2h0M1248.4 293.7h0M1293.4 195.9h0M1120.4 358.1h0M1167.9 303.7h0M1274.6 207.5h0M1190.9 236.7h0M1134.1 172.6h0M1188.5 154.1h0M1231.5 117h0M1193.5 175.2h0M1148.2 202.4h0M1194.2 193.9h0M1150 165h0M1278.6 171.9h0M1178.2 213.5h0M1245.5 245.2h0M1255.6 236.1h0M1253.2 179.4h0M1185 212.2h0M1180.8 143.6h0M1237.3 170.8h0M1134.9 325.7h0M1119.7 299.6h0M1116.7 83.6h0M1188.1 278.7h0M1161.4 323.3h0M1033.8 289.5h0M1214.6 144.9h0M1264.6 136.5h0M1172.6 110.9h0M1144.2 181.4h0M1018.6 217h0M1288.1 216.9h0M1172.4 322.6h0M1153.3 345.8h0M1250 249.2h0M1224.7 166.4h0M1226.2 171.7h0M1245.8 313.5h0M1192.6 156.6h0M1230.7 259.5h0M1186.4 283.7h0M1248 125.5h0M1179.3 305.7h0M1203.1 211h0M1243.3 249.7h0M1034.9 159.4h0M1237.3 228.4h0M1166.8 317.3h0M1146.4 79.3h0M1152.1 234.2h0M1286.2 257.1h0M1118.4 342.4h0M1191.3 200.4h0M1227.8 99.1h0M1117.3 307h0M1230.3 105.5h0M1146.2 176.5h0"/></defs>
<use href="#n3_7" stroke="#1E5A3E" stroke-width="4"/>
<use href="#n3_7" stroke="#3C9D6C" stroke-width="3"/>
<defs><path id="n3_8" d="M1139.8 140.7h0M1209.4 245.1h0M1275.5 238.3h0M1291.2 189.7h0M1232.3 209.1h0M1282.6 193.8h0M1159 236.3h0M1188.8 130.6h0M1170.3 190.2h0M1167.6 79.5h0M1144.3 323.4h0M1250.1 152.9h0M1227.1 225.9h0M1224.8 204.4h0M1173.3 277.3h0M1229 137.3h0M1190.4 125.9h0M1133.8 78.8h0M1154.5 327.2h0M1202.5 308.9h0M1182.4 345.3h0M1280 258.4h0M1259.4 252.3h0M1250.7 200.8h0M1256.7 298h0M1214.5 175.3h0M1214.8 216.4h0M1232.3 175.8h0M1150.5 274h0M1219.8 274.8h0M1281.5 162.6h0M1217.5 111.2h0M1281.3 188h0M1157.1 117.3h0M1195.1 343.8h0M1098.7 90.6h0M1186.4 246.1h0M1285.8 167.4h0M1177.7 259.1h0M1146.3 155.6h0M1209 340.1h0M1066 328.6h0M1193.5 353.1h0M1208 263.8h0M1246.7 136.6h0M1180.2 191.5h0M1205 298.1h0M1248.6 143.7h0M1189.4 311.3h0M1175.5 283.9h0M1108.1 353.6h0M1207.7 165.1h0M1219.1 188.8h0M1238.9 264h0M1237.2 107.8h0M1162.2 356.2h0M1248.8 270.6h0"/></defs>
<use href="#n3_8" stroke="#90500F" stroke-width="4"/>
<use href="#n3_8" stroke="#FA8C1E" stroke-width="3"/>
<defs><path id="n3_9" d="M1114.7 290.7h0M1061.6 256.5h0M1105.5 154.4h0M1045.8 231.2h0M1215.3 334.8h0M1189.2 273.5h0M1290.9 209.9h0M1152.1 84h0M1047 146.2h0M1156.1 282h0M1133.8 252.9h0M1174.1 142.5h0M1195 167.2h0M1128.7 347.2h0M1167.5 153.2h0M1142.6 243.6h0M1190.6 114.8h0M1190.9 207.5h0M1187.7 294.6h0M1180.8 198.5h0M1169.2 180.6h0M1176.2 343.8h0M1146.9 310.5h0M1172.6 238.3h0M1137.2 266.8h0M1185.8 89.4h0M1031.3 194.8h0M1149.3 306h0M1154.2 204.9h0M1189.9 302.9h0M1179.4 205.6h0M1236 125.5h0M1182.6 279.3h0M1201.3 112.8h0M1193.8 279.6h0M1194.9 93.2h0M1147.6 359.3h0M1179.7 354.3h0M1172.7 315h0M1194.6 143.1h0M1218.8 307.6h0M1259.4 156.9h0M1156.3 194.5h0M1181.7 156.1h0M1142 302.8h0M1227.6 122.3h0M1211.1 296h0M1138 294.4h0M1260.7 165.7h0M1175.4 219.2h0M1167.9 164.6h0M1146.4 328.8h0M1279.5 181.3h0M1053 136.6h0M1136.3 330.5h0M1282.6 246.3h0M1021.3 247.9h0M1171.4 268.4h0M1173.6 330.8h0M1207.9 252.9h0M1209.8 145.2h0M1145.1 353.9h0M1257.4 143h0M1138.5 321.7h0M1136.1 200.1h0M1269.3 151h0M1215.7 150.3h0M1097.5 338h0M1077.3 300.4h0M1153.5 341.1h0M1160.4 183.8h0M1173.8 198.7h0M1161.3 267.8h0M1155.6 312.4h0M1212 311.1h0"/></defs>
<use href="#n3_9" stroke="#1E5A3E" stroke-width="4.5"/>
<use href="#n3_9" stroke="#3C9D6C" stroke-width="3.5"/>
<defs><path id="n3_10" d="M1169.3 347h0M1195.9 113.7h0M1020.1 243.1h0M1083.9 311.5h0M1172.5 288.1h0M1212.9 319.7h0M1130.9 138h0M1124 139.1h0M1204.8 147.7h0M1200.8 153.7h0M1117.1 324.4h0M1181.8 296.6h0M1210.9 180.7h0M1162 81.3h0M1195.4 234.2h0M1102.1 146h0M1218.3 318.1h0M1183.9 323h0M1284.2 208.1h0M1161.2 336.6h0M1172.7 135.3h0M1210.6 104.5h0M1219.2 128.6h0M1174.6 119.6h0M1228.6 327.1h0"/></defs>
<use href="#n3_10" stroke="#90500F" stroke-width="4.5"/>
<use href="#n3_10" stroke="#FA8C1E" stroke-width="3.5"/>
<defs><path id="n3_11" d="M1063.5 128h0M1111.6 246.1h0M1153.5 290.9h0M1181.1 118h0M1164.9 159.1h0M1167.7 133.3h0M1200 338.1h0M1150.4 280h0M1135.5 144.5h0M1215.8 136.2h0M1159.6 93.8h0M1186.9 317.1h0M1158.4 252.6h0M1161.4 300h0M1098.5 123.4h0M1111.8 341.9h0M1195.8 323.1h0M1165.2 91.3h0M1160.9 172.5h0M1140.2 133.9h0"/></defs>
<use href="#n3_11" stroke="#90500F" stroke-width="5"/>
<use href="#n3_11" stroke="#FA8C1E" stroke-width="4"/>
<defs><path id="n3_12" d="M1117.2 318h0M1138.9 218.4h0M1126.5 300.7h0M1162 288.7h0M1161 167.1h0M1158.8 129.3h0M1130.3 355.4h0M1187.8 96.1h0M1165.5 329.5h0M1152.7 351.7h0M1156.7 319.9h0M1163.6 205h0M1140.7 309.3h0M1154.6 267.9h0M1034.9 281h0M1129.1 158.6h0M1155.2 162.9h0M1180.6 173.4h0M1178.7 130.6h0M1146.9 265.1h0M1204.3 100.5h0M1164.8 142.5h0M1166.7 311.5h0M1110.3 195.6h0"/></defs>
<use href="#n3_12" stroke="#1E5A3E" stroke-width="5"/>
<use href="#n3_12" stroke="#3C9D6C" stroke-width="4"/>
<defs><path id="n3_13" d="M1090.2 184.4h0M1131.2 203.1h0M1108.4 185.4h0M1132.9 229.3h0M1150.5 209.8h0M1144.1 296.9h0M1098.5 324.3h0M1112.9 350.1h0M1102.4 342.6h0M1194.6 121.4h0M1141 207.2h0M1175.3 153.6h0M1136.7 315h0M1138.8 256.9h0M1134.1 104.5h0M1126.6 252h0"/></defs>
<use href="#n3_13" stroke="#1E5A3E" stroke-width="5.5"/>
<use href="#n3_13" stroke="#3C9D6C" stroke-width="4.5"/>
<defs><path id="n3_14" d="M1148.6 93.5h0M1028.3 246.7h0M1113 300.2h0M1180.4 138h0M1178.4 90.7h0M1122 91.7h0M1150.2 101.3h0M1161.2 148.4h0M1153.7 89.5h0M1139.3 354.6h0M1155.5 299.3h0M1153.5 262.1h0M1139.8 110h0"/></defs>
<use href="#n3_14" stroke="#90500F" stroke-width="5.5"/>
<use href="#n3_14" stroke="#FA8C1E" stroke-width="4.5"/>
<defs><path id="n3_15" d="M1088.6 173.9h0M1094.2 154.6h0M1138.8 119.6h0M1093.3 135.2h0M1111.8 106.9h0M1111.2 137h0M1098.8 115.2h0M1140.2 125.7h0M1120.8 133.9h0M1073.1 121.4h0M1108.1 88.4h0M1071.8 331.3h0M1148.1 131.8h0M1155.6 155.1h0M1130.8 87.2h0M1171.3 87.4h0M1163.9 114.2h0M1153.9 147.2h0M1159.9 135.7h0"/></defs>
<use href="#n3_15" stroke="#90500F" stroke-width="6"/>
<use href="#n3_15" stroke="#FA8C1E" stroke-width="5"/>
<defs><path id="n3_16" d="M1167.4 105.4h0M1117.8 221h0M1080.5 323.8h0M1141 172.9h0M1089.5 334h0M1089.3 326h0M1147 223.6h0M1128.6 175.1h0M1140.4 271.7h0M1179.4 97.8h0M1116.5 336.5h0M1147.5 170.8h0M1073.2 319.4h0"/></defs>
<use href="#n3_16" stroke="#1E5A3E" stroke-width="6"/>
<use href="#n3_16" stroke="#3C9D6C" stroke-width="5"/>
<defs><path id="n3_17" d="M1107.7 129.2h0M1088.4 127.2h0M1144.3 189.7h0"/></defs>
<use href="#n3_17" stroke="#90500F" stroke-width="6.5"/>
<use href="#n3_17" stroke="#FA8C1E" stroke-width="5.5"/>
<defs><path id="n3_18" d="M1100.6 214.8h0M1158.6 224.6h0M1125.6 217.2h0M1096.3 130.4h0M1150.1 181.8h0M1153.5 240.7h0M1045.1 302.3h0M1148.3 196.2h0M1050.7 310.7h0M1116 187.9h0M1111.6 156.1h0M1121.5 174.5h0"/></defs>
<use href="#n3_18" stroke="#1E5A3E" stroke-width="6.5"/>
<use href="#n3_18" stroke="#3C9D6C" stroke-width="5.5"/>
<defs><path id="n3_19" d="M1086.1 134.9h0M1077.1 111.8h0M1123 111.5h0M1114.5 100.7h0M1131.1 113h0M1092.9 149.2h0M1103.7 171.1h0M1153.6 139.1h0"/></defs>
<use href="#n3_19" stroke="#90500F" stroke-width="7"/>
<use href="#n3_19" stroke="#FA8C1E" stroke-width="6"/>
<defs><path id="n3_20" d="M1074.3 127.4h0M1179.4 108h0M1107 109.4h0M1076.8 283.1h0M1080.8 331.1h0M1128.8 235.8h0M1024.1 255.2h0M1130 220.7h0M1106.9 293.5h0M1135 164.6h0M1107.1 335.5h0M1127.1 226.9h0M1114.4 92.9h0M1119.1 195.6h0M1130.8 152h0M1113 203.8h0M1156.2 215.2h0M1112.3 165.2h0M1041.8 288.9h0M1112.7 121h0"/></defs>
<use href="#n3_20" stroke="#1E5A3E" stroke-width="7"/>
<use href="#n3_20" stroke="#3C9D6C" stroke-width="6"/>
<defs><path id="n3_21" d="M1088.6 286.2h0M1088.6 167.7h0M1069.5 175.5h0M1025 182.8h0M1045.4 194.6h0M1077.4 149.8h0M1130.2 272.6h0M1021.4 236.3h0M1126.3 317.5h0M1141.7 150.1h0M1128.4 193.9h0M1122.7 183.9h0M1154.4 177.4h0M1125.7 203.8h0M1160.1 244.8h0M1136.2 224.1h0M1117 272.5h0M1109.5 309.8h0M1118.2 235.6h0"/></defs>
<use href="#n3_21" stroke="#1E5A3E" stroke-width="7.5"/>
<use href="#n3_21" stroke="#3C9D6C" stroke-width="6.5"/>
<defs><path id="n3_22" d="M1037.6 180.5h0M1156.9 107.7h0M1173.4 102.3h0M1120.3 148h0M1126.6 130.8h0M1149.7 121h0M1033.1 208.2h0M1117.5 286.3h0M1133.4 243.8h0M1133.4 283.8h0"/></defs>
<use href="#n3_22" stroke="#90500F" stroke-width="7.5"/>
<use href="#n3_22" stroke="#FA8C1E" stroke-width="6.5"/>
<defs><path id="n3_23" d="M1063.7 204.1h0M1117 264.1h0M1069.3 154.1h0M1065.9 121.2h0M1110.3 148.2h0M1147.2 114.2h0M1141.2 101.7h0M1103.8 119h0M1081.4 120.8h0M1106.9 317.8h0"/></defs>
<use href="#n3_23" stroke="#90500F" stroke-width="8"/>
<use href="#n3_23" stroke="#FA8C1E" stroke-width="7"/>
<defs><path id="n3_24" d="M1037.1 165.7h0M1079 132.6h0M1149.8 254.6h0M1144.2 287.1h0M1088.1 301.8h0M1095.8 331.3h0M1137.9 179.5h0"/></defs>
<use href="#n3_24" stroke="#1E5A3E" stroke-width="8"/>
<use href="#n3_24" stroke="#3C9D6C" stroke-width="7"/>
<defs><path id="n3_25" d="M1093.7 344.6h0M1050.1 240.2h0M1101.1 267.1h0M1048.1 160.9h0M1052.1 152.6h0M1083.9 152.5h0M1054.6 169.5h0M1069.1 164h0M1065.6 169.9h0M1123.3 329.3h0M1034.3 221.9h0M1027.6 223.7h0M1130.1 290.9h0M1126 306.7h0"/></defs>
<use href="#n3_25" stroke="#1E5A3E" stroke-width="8.4"/>
<use href="#n3_25" stroke="#3C9D6C" stroke-width="7.5"/>
<defs><path id="n3_26" d="M1075.3 158.9h0M1062.5 133.8h0M1131.4 121.4h0M1121.6 119.2h0"/></defs>
<use href="#n3_26" stroke="#90500F" stroke-width="8.4"/>
<use href="#n3_26" stroke="#FA8C1E" stroke-width="7.5"/>
<defs><path id="n3_27" d="M1040.4 272.5h0M1115.2 214.6h0M1045.9 262.6h0M1077.1 308.4h0M1117.8 251.1h0M1083.6 160.5h0M1072.5 135.8h0M1132.7 337.2h0M1132.1 210.9h0M1143.8 235.1h0M1085.3 338.7h0"/></defs>
<use href="#n3_27" stroke="#1E5A3E" stroke-width="8.9"/>
<use href="#n3_27" stroke="#3C9D6C" stroke-width="8.1"/>
<defs><path id="n3_28" d="M1109.3 284.4h0M1118.4 242.8h0M1094.8 102.6h0M1164.5 123.3h0M1114.7 130.2h0M1021.1 229h0"/></defs>
<use href="#n3_28" stroke="#90500F" stroke-width="8.9"/>
<use href="#n3_28" stroke="#FA8C1E" stroke-width="8.1"/>
<defs><path id="n3_29" d="M1089.1 252.9h0M1062.5 238.2h0M1103.6 279.5h0M1099.9 182.2h0M1108.4 253.4h0M1122.5 278.2h0M1113.1 179.7h0M1054.2 220.6h0M1121.9 164.5h0"/></defs>
<use href="#n3_29" stroke="#1E5A3E" stroke-width="9.4"/>
<use href="#n3_29" stroke="#3C9D6C" stroke-width="8.6"/>
<defs><path id="n3_30" d="M1038.6 253.8h0M1109.8 274.5h0M1058.9 308.6h0M1070.8 184.2h0M1042.5 156.3h0M1100.3 137.3h0M1124.2 99.4h0M1091.8 118.4h0"/></defs>
<use href="#n3_30" stroke="#90500F" stroke-width="9.4"/>
<use href="#n3_30" stroke="#FA8C1E" stroke-width="8.6"/>
<defs><path id="n3_31" d="M1063.5 316.9h0M1097.7 236.7h0M1095.2 272.4h0M1095.6 283.7h0M1097.7 252.8h0M1027.7 215h0M1045.3 280.8h0M1093.7 317h0M1048.8 248.7h0M1082.1 188.1h0M1027.6 201.9h0M1060.7 151.6h0M1099.6 310.3h0M1106.4 328h0"/></defs>
<use href="#n3_31" stroke="#1E5A3E" stroke-width="9.9"/>
<use href="#n3_31" stroke="#3C9D6C" stroke-width="9.1"/>
<defs><path id="n3_32" d="M1059.9 299.9h0M1057.2 143.3h0M1103.2 97.9h0"/></defs>
<use href="#n3_32" stroke="#90500F" stroke-width="9.9"/>
<use href="#n3_32" stroke="#FA8C1E" stroke-width="9.1"/>
<defs><path id="n3_33" d="M1031.8 186.4h0M1085.9 144.1h0M1096.4 174h0M1098.2 161h0M1107.2 261.6h0M1054.9 202.7h0M1038.1 214.3h0M1101.3 195.9h0M1103.3 243.8h0M1126.1 263.5h0M1081.8 256.4h0M1076.1 168.5h0M1030.9 238.3h0M1038.7 198.4h0M1108.4 210.8h0M1043.9 169.9h0"/></defs>
<use href="#n3_33" stroke="#1E5A3E" stroke-width="10.4"/>
<use href="#n3_33" stroke="#3C9D6C" stroke-width="9.6"/>
<defs><path id="n3_34" d="M1099.8 227.5h0M1070.3 144.4h0M1085.2 111h0"/></defs>
<use href="#n3_34" stroke="#90500F" stroke-width="10.4"/>
<use href="#n3_34" stroke="#FA8C1E" stroke-width="9.6"/>
<defs><path id="n3_35" d="M1069.1 296.9h0M1060.3 163.3h0M1059.5 214.1h0M1043.8 186.9h0M1084.8 268.6h0M1039.1 231.5h0M1044.7 220.7h0M1093 191.7h0M1108.1 235.3h0M1107.9 219.7h0M1069 308.9h0"/></defs>
<use href="#n3_35" stroke="#1E5A3E" stroke-width="10.9"/>
<use href="#n3_35" stroke="#3C9D6C" stroke-width="10.1"/>
<defs><path id="n3_36" d="M1054.7 232.1h0M1099.8 205.9h0M1035.2 265.4h0M1062.5 224.2h0M1060 178.9h0M1075 261.9h0M1081.2 178.5h0M1083.5 278.5h0M1069.1 275h0"/></defs>
<use href="#n3_36" stroke="#1E5A3E" stroke-width="11.4"/>
<use href="#n3_36" stroke="#3C9D6C" stroke-width="10.6"/>
<defs><path id="n3_37" d="M1079.9 197.1h0M1049.3 179.6h0M1054.3 284.1h0M1050.6 270.2h0M1081.3 216.1h0M1058.1 245.6h0M1054.5 191h0"/></defs>
<use href="#n3_37" stroke="#1E5A3E" stroke-width="11.9"/>
<use href="#n3_37" stroke="#3C9D6C" stroke-width="11.1"/>
<defs><path id="n3_38" d="M1068.1 284.7h0"/></defs>
<use href="#n3_38" stroke="#90500F" stroke-width="11.9"/>
<use href="#n3_38" stroke="#FA8C1E" stroke-width="11.1"/>
<defs><path id="n3_39" d="M1092.9 218.7h0M1090.7 244.1h0M1041.5 242.7h0M1098.8 297.6h0M1079.1 245.7h0M1054.1 257h0M1082.1 291.8h0M1050.4 210.9h0"/></defs>
<use href="#n3_39" stroke="#1E5A3E" stroke-width="12.4"/>
<use href="#n3_39" stroke="#3C9D6C" stroke-width="11.6"/>
<defs><path id="n3_40" d="M1072.6 221.6h0"/></defs>
<use href="#n3_40" stroke="#1E5A3E" stroke-width="12.9"/>
<use href="#n3_40" stroke="#3C9D6C" stroke-width="12.1"/>
<defs><path id="n3_41" d="M1063.2 266.1h0M1072.6 236.4h0M1093.3 261.6h0M1051.7 294.6h0M1071.1 209.8h0M1068.5 250h0M1084.7 206.4h0M1086.2 230.7h0M1065.1 194.6h0"/></defs>
<use href="#n3_41" stroke="#1E5A3E" stroke-width="13.4"/>
<use href="#n3_41" stroke="#3C9D6C" stroke-width="12.6"/>
</g>
</g>
<g fill="none">
<defs><radialGradient id="sh4" cx="1506" cy="220" r="165" gradientUnits="userSpaceOnUse"><stop offset="0" stop-color="#C860A8" stop-opacity="0.28"/><stop offset="0.45" stop-color="#D888C0" stop-opacity="0.16"/><stop offset="0.8" stop-color="#E8C0E8" stop-opacity="0.06"/><stop offset="1" stop-color="#fff" stop-opacity="0"/></radialGradient></defs>
<path d="M1675 220L1673 237L1669 254L1663 271L1656 286L1647 301L1637 315L1625 328L1613 339L1600 350L1586 359L1571 367L1556 374L1539 379L1523 383L1506 384L1488 384L1471 382L1454 377L1438 371L1423 363L1408 354L1395 342L1383 330L1372 316L1363 302L1355 286L1349 270L1344 254L1341 237L1341 220L1342 202L1346 186L1352 170L1360 155L1370 141L1380 129L1391 117L1403 106L1415 95L1428 85L1442 77L1457 70L1473 65L1489 62L1506 61L1522 61L1539 63L1555 67L1571 72L1587 79L1602 87L1616 96L1630 108L1642 120L1652 135L1661 150L1668 167L1673 184L1675 202Z" fill="url(#sh4)"/>
<path d="M1579 89Q1523 62 1462 73M1420 224Q1449 200 1487 206M1645 298Q1643 242 1599 208M1476 215Q1527 253 1587 232M1457 192Q1420 271 1453 351M1424 239Q1463 161 1549 151M1486 360Q1437 283 1482 203M1593 113Q1652 136 1657 199M1554 234Q1525 180 1467 158M1402 112Q1444 87 1493 94M1502 117Q1587 137 1621 217M1518 253Q1459 227 1439 167M1417 155Q1471 162 1503 207M1431 336Q1389 330 1371 292M1561 337Q1476 355 1409 298M1461 346Q1544 366 1617 323M1570 347Q1580 307 1564 268M1504 158Q1563 139 1607 182M1553 230Q1538 249 1515 243M1516 246Q1537 271 1528 303M1535 287Q1526 314 1498 321M1570 237Q1592 240 1602 260M1460 135Q1530 99 1591 148M1436 127Q1472 77 1532 87M1484 277Q1537 319 1604 311M1396 179Q1438 136 1494 156M1503 136Q1422 129 1380 200M1417 261Q1406 294 1433 315M1552 361Q1594 308 1574 243M1478 173Q1432 162 1387 180M1474 194Q1516 164 1563 183M1552 210Q1546 271 1507 317M1411 223Q1397 234 1398 252M1538 66Q1573 143 1524 212M1616 309Q1581 359 1522 349M1554 224Q1484 173 1405 209M1478 171Q1456 129 1484 90M1631 188Q1565 146 1487 156M1399 182Q1393 155 1404 130M1549 296Q1555 252 1517 230M1563 71Q1523 54 1493 86M1513 145Q1536 166 1543 196M1479 216Q1417 187 1353 209M1496 225Q1460 219 1434 194M1436 225Q1460 158 1531 147M1545 131Q1610 165 1622 238M1534 140Q1567 195 1528 247M1629 187Q1635 140 1612 98M1522 121Q1545 197 1507 268M1415 123Q1497 127 1525 204M1534 100Q1560 171 1505 223M1611 94Q1642 131 1637 178M1630 244Q1563 273 1505 229M1376 239Q1365 219 1376 199M1367 208Q1373 264 1423 292M1535 258Q1568 275 1604 267M1597 277Q1538 270 1502 222M1553 337Q1513 354 1478 329M1450 310Q1531 311 1575 244M1455 83Q1430 151 1450 220M1507 130Q1464 94 1409 101M1435 246Q1491 318 1581 333M1448 207Q1517 195 1579 228M1627 272Q1538 308 1469 242M1554 365Q1563 352 1559 336M1587 141Q1607 219 1562 285M1580 114Q1578 163 1544 198M1524 196Q1568 251 1544 316M1479 378Q1407 359 1372 294M1524 87Q1543 153 1512 213M1406 323Q1427 339 1452 332M1566 186Q1590 231 1571 280M1559 293Q1492 310 1450 254M1494 115Q1538 190 1529 277M1474 128Q1466 98 1478 71M1575 219Q1574 300 1523 363M1518 175Q1576 239 1547 320M1600 169Q1649 216 1656 283M1423 270Q1389 295 1397 336M1549 265Q1577 268 1594 244M1551 332Q1557 267 1516 215M1534 87Q1573 141 1556 206M1625 314Q1643 296 1637 272M1475 94Q1415 146 1409 226M1408 266Q1473 304 1548 294M1449 232Q1484 285 1548 293M1633 173Q1589 238 1511 242M1559 128Q1486 77 1404 110M1646 193Q1636 181 1621 186M1515 280Q1452 248 1451 178M1512 111Q1576 99 1636 124M1634 165Q1595 155 1557 169M1392 185Q1425 105 1503 68M1545 331Q1568 285 1559 235M1592 276Q1584 187 1517 126M1420 198Q1409 232 1428 262M1533 371Q1585 298 1541 220M1668 192Q1660 269 1606 323M1474 68Q1493 53 1515 62M1610 173Q1570 112 1498 125M1528 99Q1587 92 1640 121M1632 194Q1608 217 1574 223M1439 328Q1397 282 1422 226M1383 221Q1354 234 1356 266M1548 147Q1487 111 1418 120M1374 159Q1403 202 1453 215M1489 76Q1475 77 1469 90M1616 114Q1555 111 1530 167M1493 82Q1530 68 1563 90M1588 355Q1592 269 1540 200M1540 223Q1609 222 1656 274M1495 292Q1408 243 1413 144M1461 365Q1411 298 1447 223M1452 228Q1453 155 1510 109M1431 223Q1491 263 1558 239M1409 270Q1389 290 1361 294M1635 260Q1594 264 1562 238M1578 177Q1519 158 1461 183M1359 186Q1399 105 1488 88M1476 297Q1564 273 1597 188M1631 280Q1573 294 1517 274M1430 203Q1474 252 1536 231M1524 118Q1599 130 1627 199M1505 220Q1427 212 1401 139M1509 161Q1468 175 1464 219M1544 280Q1576 219 1533 165M1489 84Q1557 103 1569 173M1525 234Q1506 279 1457 277M1622 176Q1567 121 1491 136M1583 227Q1564 275 1517 296M1584 227Q1563 263 1525 280M1421 107Q1471 63 1537 75M1392 156Q1432 230 1516 229M1533 251Q1530 161 1468 96M1581 300Q1648 242 1616 159M1529 287Q1474 280 1460 227M1523 130Q1474 153 1477 207M1528 252Q1445 300 1365 246M1539 293Q1542 317 1522 329M1621 271Q1608 234 1570 231M1517 326Q1487 285 1487 234M1501 225Q1454 170 1451 97M1395 260Q1414 213 1459 189M1568 118Q1619 152 1640 210M1465 264Q1470 291 1495 301M1626 128Q1650 155 1649 191M1521 160Q1557 215 1551 280M1560 259Q1532 303 1484 322M1488 357Q1570 332 1621 263M1515 212Q1582 186 1637 233M1459 167Q1457 182 1466 193M1483 115Q1432 138 1412 189M1424 303Q1472 308 1505 273M1540 100Q1546 122 1533 139M1587 235Q1530 288 1454 296M1492 117Q1467 103 1440 113M1474 263Q1457 224 1479 187M1667 182Q1669 208 1647 224M1606 296Q1537 313 1479 271M1469 68Q1435 127 1456 193M1488 132Q1519 94 1568 94M1443 151Q1487 125 1537 138M1559 168Q1603 167 1623 206M1434 239Q1469 191 1528 197M1579 280Q1592 188 1515 138M1386 250Q1386 194 1434 164M1510 329Q1581 355 1634 301M1466 176Q1445 183 1439 204M1481 254Q1427 289 1365 270M1632 225Q1637 131 1557 84M1526 254Q1498 246 1480 223M1550 268Q1548 257 1539 249M1525 219Q1484 292 1402 300M1368 277Q1355 260 1362 240M1507 334Q1444 297 1454 226M1492 120Q1559 123 1607 169M1629 176Q1635 139 1603 119M1580 262Q1601 286 1586 314M1456 290Q1392 237 1417 157M1518 371Q1473 345 1459 296M1535 283Q1487 262 1488 209M1560 198Q1605 254 1578 321M1645 281Q1600 213 1519 212M1413 166Q1381 156 1357 180M1380 180Q1453 144 1533 159M1510 232Q1533 264 1525 303M1459 202Q1423 208 1414 243M1460 113Q1426 115 1407 143M1439 154Q1418 131 1432 102M1521 113Q1609 123 1666 191M1407 302Q1389 279 1404 254M1395 310Q1345 282 1343 225M1586 152Q1519 145 1459 179M1584 195Q1583 247 1548 286M1441 195Q1413 176 1385 192M1526 192Q1449 198 1393 252M1504 350Q1470 327 1461 287M1525 152Q1561 178 1570 221M1617 316Q1602 241 1528 216M1416 253Q1439 288 1481 294M1661 254Q1647 167 1572 120M1617 111Q1615 144 1591 167M1366 307Q1404 334 1446 315M1377 208Q1399 224 1423 212M1534 144Q1571 203 1569 273M1512 110Q1493 82 1459 77M1671 209Q1628 160 1566 180M1565 241Q1490 274 1418 236M1480 154Q1534 150 1568 193M1453 204Q1468 164 1508 150M1576 273Q1546 209 1477 194M1385 161Q1414 215 1468 242M1472 237Q1525 259 1578 240M1559 341Q1555 287 1519 246M1667 261Q1661 272 1649 272M1495 318Q1450 258 1491 195M1475 160Q1443 196 1447 244M1539 190Q1562 283 1492 349M1548 360Q1457 352 1423 267M1628 257Q1617 165 1535 124M1478 131Q1513 134 1532 162M1535 79Q1598 75 1639 124M1532 185Q1560 205 1564 239M1550 164Q1548 234 1486 268M1498 357Q1448 350 1411 316M1593 159Q1589 194 1557 207M1471 210Q1455 256 1479 298M1493 166Q1515 197 1513 236M1578 233Q1580 135 1493 89M1580 284Q1551 201 1474 159M1545 152Q1584 135 1624 150M1542 242Q1560 270 1541 298M1421 100Q1412 124 1420 148M1504 133Q1526 171 1514 213M1375 313Q1460 296 1516 230M1470 130Q1412 126 1384 177M1420 338Q1439 368 1475 361M1374 231Q1406 269 1454 282M1487 109Q1499 99 1514 105M1443 245Q1399 172 1432 94M1483 201Q1434 164 1379 192M1490 128Q1558 147 1583 213M1666 224Q1591 265 1512 233M1542 162Q1566 123 1612 122M1516 311Q1531 280 1514 251M1465 169Q1540 171 1566 242M1460 255Q1523 245 1560 193M1542 326Q1545 353 1530 376M1575 316Q1609 250 1588 179M1628 248Q1621 308 1563 325M1657 268Q1656 224 1618 204M1360 212Q1386 166 1438 160M1555 74Q1483 88 1463 159M1399 126Q1444 70 1516 61M1588 155Q1641 218 1626 298M1497 372Q1509 362 1506 347M1431 198Q1488 269 1578 281M1383 275Q1414 212 1479 185M1542 127Q1469 101 1412 154M1512 362Q1566 333 1572 272M1507 244Q1477 267 1446 247M1505 374Q1517 368 1517 354M1505 82Q1464 131 1495 188M1467 193Q1437 175 1403 181M1457 81Q1508 76 1551 102M1630 151Q1641 143 1654 147M1509 198Q1521 211 1514 227M1358 223Q1357 254 1374 279M1433 191Q1434 159 1461 143M1426 268Q1497 269 1534 209M1499 194Q1488 213 1501 231M1424 165Q1506 123 1589 162M1587 321Q1575 348 1545 346M1386 257Q1449 336 1546 305M1520 226Q1584 290 1668 253M1658 185Q1663 135 1624 102M1396 249Q1386 249 1377 243M1673 199Q1644 116 1564 78M1461 249Q1427 287 1449 333M1410 349Q1391 262 1459 204M1458 122Q1408 189 1420 271M1386 224Q1385 152 1439 104M1553 167Q1504 159 1479 202M1366 247Q1353 222 1366 197M1458 318Q1442 348 1408 345M1568 367Q1529 373 1505 342M1597 277Q1520 268 1477 204M1638 192Q1614 272 1531 283M1510 194Q1499 163 1467 158M1617 259Q1558 300 1489 283M1400 113Q1358 153 1372 209M1674 210Q1627 263 1556 268M1432 169Q1375 242 1404 331M1594 130Q1578 166 1544 187M1430 113Q1511 146 1559 220M1388 291Q1461 309 1504 246M1437 203Q1438 299 1526 338M1556 188Q1534 113 1455 107M1479 315Q1404 267 1380 182M1489 86Q1448 142 1460 210M1656 248Q1609 312 1533 336M1434 279Q1446 248 1478 236M1448 160Q1480 90 1554 69M1523 301Q1575 223 1548 134M1455 316Q1426 310 1417 281M1502 251Q1546 214 1549 157M1616 104Q1627 169 1596 227M1460 184Q1438 173 1414 180M1556 329Q1503 351 1452 325M1609 232Q1602 291 1554 324M1453 245Q1438 281 1448 319M1481 380Q1532 335 1548 269M1488 100Q1466 91 1444 98M1354 215Q1356 265 1393 299M1593 214Q1616 275 1581 331M1382 261Q1397 210 1439 177M1510 359Q1472 281 1503 199M1589 289Q1539 306 1489 287M1454 146Q1405 219 1433 302M1636 183Q1614 148 1573 152M1609 251Q1548 260 1500 221M1545 339Q1558 266 1529 199M1369 143Q1377 184 1408 213M1562 371Q1609 330 1589 270M1570 94Q1640 119 1661 190M1448 260Q1521 257 1573 206M1577 105Q1636 135 1641 201M1596 104Q1510 128 1485 214M1483 242Q1416 255 1360 216M1529 117Q1567 139 1566 184M1425 187Q1464 103 1556 97M1405 190Q1458 267 1551 264M1491 63Q1535 111 1527 176M1524 370Q1453 324 1449 239M1500 118Q1477 128 1465 150M1366 261Q1430 300 1502 279M1522 338Q1615 332 1640 243M1579 216Q1552 292 1472 303M1539 160Q1466 189 1444 264M1445 199Q1400 253 1410 323M1515 239Q1558 273 1607 248M1444 159Q1461 162 1473 174M1594 201Q1634 206 1654 240M1527 261Q1457 254 1412 200M1412 281Q1470 320 1532 288M1566 195Q1620 178 1663 216M1558 307Q1599 315 1638 298M1645 261Q1594 204 1517 206M1534 120Q1522 81 1483 72M1446 115Q1445 101 1432 97M1590 133Q1540 91 1475 85M1361 297Q1421 362 1503 331M1434 137Q1428 162 1446 180M1480 355Q1420 341 1384 291M1543 278Q1560 260 1554 236M1536 148Q1550 102 1514 70M1534 221Q1503 239 1470 227M1460 158Q1443 201 1471 239M1669 210Q1619 160 1549 150M1522 275Q1447 237 1445 153M1433 257Q1479 282 1528 265M1484 282Q1575 264 1608 177M1442 305Q1367 259 1358 171M1454 303Q1473 293 1478 272M1469 150Q1453 168 1454 192M1640 125Q1660 212 1615 289M1515 329Q1579 281 1583 201M1518 351Q1542 350 1557 333M1509 136Q1526 179 1507 221M1622 229Q1647 264 1629 303M1565 368Q1481 332 1453 246M1534 82Q1503 97 1487 128M1418 234Q1387 245 1381 277M1357 169Q1338 187 1346 213M1370 258Q1349 241 1353 215M1430 202Q1463 233 1506 220M1561 308Q1590 268 1592 218M1414 211Q1384 185 1398 148M1387 140Q1409 196 1469 201M1514 189Q1456 225 1448 293M1524 223Q1504 308 1440 366M1484 248Q1495 298 1546 306M1505 227Q1497 297 1442 341M1503 111Q1403 98 1349 182M1498 213Q1538 190 1582 202M1524 284Q1537 302 1559 300M1511 199Q1579 214 1606 277M1505 165Q1500 116 1455 96M1531 196Q1519 250 1473 278M1608 178Q1593 132 1555 104M1394 242Q1462 286 1528 238M1481 148Q1420 205 1401 287M1386 202Q1410 189 1437 197M1547 268Q1564 286 1553 309M1600 141Q1534 151 1492 202M1546 210Q1525 244 1484 247M1471 229Q1470 257 1491 274M1483 65Q1552 100 1578 172M1458 249Q1504 292 1567 300M1515 166Q1476 201 1487 252" stroke="#5A50FF" stroke-width="0.5" opacity="0.7" stroke-dasharray="4 2"/>
<path d="M1373 317Q1397 343 1431 351M1406 173Q1478 148 1546 181M1539 208Q1566 190 1567 158M1520 227Q1525 267 1490 289M1606 242Q1593 314 1527 346M1454 94Q1426 145 1441 201M1580 188Q1545 168 1505 178M1416 185Q1409 250 1466 282M1417 163Q1441 218 1501 227M1597 285Q1565 361 1484 379M1608 250Q1527 287 1445 252M1599 243Q1573 285 1527 298M1421 357Q1409 269 1463 199M1464 211Q1511 283 1596 269M1550 293Q1503 297 1462 274M1552 214Q1611 210 1639 158M1484 328Q1416 311 1399 244M1514 214Q1486 200 1457 213M1453 96Q1422 186 1486 256M1480 272Q1466 272 1460 260M1584 165Q1607 242 1560 307M1364 203Q1424 151 1502 167M1591 137Q1527 102 1456 116M1507 126Q1441 98 1379 134M1393 303Q1480 338 1560 289M1533 102Q1588 106 1627 144M1480 372Q1424 318 1452 246M1474 160Q1533 148 1571 194M1469 93Q1446 113 1445 143M1534 286Q1542 313 1563 330M1545 95Q1488 140 1504 211M1430 225Q1457 160 1520 127M1391 316Q1385 290 1406 275M1417 152Q1490 141 1533 200M1526 319Q1474 319 1432 287M1568 88Q1624 150 1609 232M1603 215Q1576 189 1538 197M1519 133Q1458 112 1401 142M1510 211Q1509 155 1460 128M1350 253Q1427 277 1501 248M1355 195Q1375 123 1438 82M1434 199Q1398 250 1424 307M1351 212Q1349 227 1359 237M1421 92Q1483 112 1485 177M1559 280Q1560 230 1514 211M1551 237Q1587 178 1554 118M1494 91Q1549 109 1552 166M1562 71Q1522 95 1507 140M1549 221Q1591 241 1611 284M1628 283Q1555 297 1488 263M1417 191Q1391 228 1393 273M1411 271Q1379 243 1392 202M1616 181Q1557 159 1507 198M1364 156Q1434 121 1503 156M1455 300Q1505 323 1555 299M1578 246Q1550 200 1501 178M1392 330Q1454 308 1482 248M1404 134Q1351 198 1381 276M1417 153Q1439 107 1487 90M1497 343Q1470 346 1452 325M1510 99Q1556 176 1532 263M1521 245Q1554 272 1591 253M1550 211Q1554 250 1529 281M1556 270Q1569 303 1606 304M1448 256Q1478 273 1508 256M1500 158Q1582 149 1622 221M1465 192Q1439 154 1438 109M1448 264Q1486 263 1501 228M1455 169Q1508 113 1585 111M1537 365Q1586 353 1597 304M1608 182Q1607 150 1585 128M1536 106Q1620 113 1660 186M1344 202Q1378 188 1412 203M1445 199Q1396 252 1427 317M1516 68Q1579 87 1584 153M1573 169Q1578 239 1521 281M1489 242Q1444 271 1434 323M1609 230Q1575 301 1496 304M1372 302Q1467 317 1524 239M1547 245Q1610 270 1659 222M1558 172Q1476 161 1410 212M1467 107Q1510 98 1539 131M1559 234Q1609 234 1631 279M1497 218Q1507 247 1539 250M1503 196Q1461 151 1401 159M1404 187Q1412 271 1479 321M1657 190Q1674 257 1620 299M1618 161Q1596 107 1545 78M1524 178Q1446 191 1397 253M1602 206Q1612 183 1595 165M1467 275Q1527 287 1579 252M1522 222Q1503 240 1478 237M1532 329Q1511 332 1496 319M1487 134Q1520 165 1509 209M1494 82Q1425 115 1400 188M1590 218Q1509 171 1423 211M1425 216Q1423 277 1478 303M1555 115Q1529 106 1507 121M1486 281Q1451 286 1427 259M1488 314Q1435 346 1386 309M1537 361Q1452 361 1387 306M1629 183Q1578 162 1540 202M1617 146Q1661 177 1661 232M1419 352Q1392 270 1422 189M1564 211Q1607 194 1627 152M1560 175Q1610 164 1646 200M1433 119Q1500 74 1579 87M1372 300Q1425 298 1466 266M1556 263Q1557 302 1533 333M1633 182Q1588 228 1524 241M1512 230Q1529 248 1553 251M1505 375Q1414 360 1378 275M1405 128Q1482 117 1550 155M1408 207Q1429 192 1455 193M1621 295Q1581 326 1535 304M1456 89Q1428 153 1472 207M1443 257Q1416 292 1371 288M1520 338Q1459 319 1434 259M1496 252Q1447 216 1427 158M1453 193Q1439 192 1429 201M1452 110Q1502 79 1560 83M1634 128Q1607 91 1561 81M1475 200Q1450 192 1431 212M1479 290Q1558 297 1627 258M1382 240Q1384 193 1415 158M1456 302Q1537 295 1601 244M1515 186Q1515 113 1452 76M1492 212Q1435 154 1356 176M1515 361Q1512 373 1502 380M1401 198Q1454 150 1524 157M1426 107Q1414 172 1472 206M1372 258Q1343 195 1392 146M1424 291Q1405 300 1404 322M1447 187Q1434 170 1441 150M1594 270Q1608 240 1587 215M1576 226Q1507 262 1430 254M1449 176Q1421 162 1420 130M1439 273Q1444 229 1480 203M1536 202Q1523 261 1467 286M1419 215Q1423 167 1455 132M1474 232Q1414 295 1452 374M1474 326Q1532 301 1546 239M1591 298Q1572 293 1563 276M1466 68Q1501 64 1523 92M1466 74Q1447 93 1445 120M1424 89Q1418 165 1485 201M1561 303Q1606 244 1568 179M1389 154Q1344 229 1386 306M1495 188Q1458 255 1482 327M1441 153Q1476 143 1510 154M1488 236Q1418 232 1372 180M1494 318Q1450 260 1452 187M1529 123Q1511 85 1470 88M1499 231Q1591 207 1625 117M1569 217Q1573 296 1533 364M1552 87Q1581 156 1537 217M1539 121Q1513 135 1513 164M1474 291Q1491 297 1503 284M1642 138Q1573 148 1529 203M1625 245Q1623 175 1579 120M1519 372Q1460 301 1504 219M1502 213Q1424 235 1375 300M1646 265Q1602 181 1507 184M1485 143Q1452 223 1512 285M1623 155Q1598 221 1530 238M1396 270Q1372 195 1416 131M1442 121Q1452 94 1480 86M1530 139Q1554 223 1526 305M1458 132Q1542 142 1586 215M1543 254Q1500 316 1428 334M1473 227Q1469 162 1523 126M1348 264Q1395 346 1489 336M1352 261Q1347 284 1363 301M1553 213Q1553 228 1542 238M1629 167Q1625 127 1587 117M1587 121Q1659 179 1644 270M1454 172Q1444 203 1467 228M1455 331Q1493 346 1529 324M1499 172Q1578 189 1623 255M1528 302Q1472 340 1411 309M1537 230Q1500 236 1469 214M1642 176Q1625 152 1596 148M1624 165Q1627 135 1600 123M1497 217Q1460 282 1482 353M1518 116Q1606 105 1646 183M1582 156Q1534 89 1453 74M1618 296Q1588 335 1541 349M1431 351Q1385 323 1392 270M1627 139Q1659 153 1658 189M1487 63Q1462 63 1451 86M1352 194Q1375 171 1408 177M1504 299Q1553 311 1585 273M1346 248Q1403 272 1451 232M1550 116Q1570 166 1550 216M1524 107Q1572 146 1575 207M1546 355Q1488 317 1482 248M1484 194Q1553 161 1612 210M1445 243Q1479 276 1526 278M1579 83Q1494 89 1435 151M1527 207Q1604 194 1665 243M1479 176Q1510 147 1553 148M1584 253Q1578 179 1521 131M1445 126Q1426 111 1401 115M1489 150Q1450 192 1445 249M1669 194Q1645 166 1608 174M1545 94Q1458 106 1409 179M1546 193Q1523 138 1468 116M1515 223Q1550 229 1558 264M1538 143Q1608 134 1659 183M1649 210Q1638 278 1577 308M1659 188Q1636 151 1594 137M1577 130Q1514 127 1489 186M1540 141Q1549 102 1589 97M1533 89Q1617 112 1653 191M1416 132Q1507 135 1538 221M1517 122Q1579 175 1577 257M1481 219Q1492 248 1522 258M1443 92Q1423 122 1440 155M1615 211Q1626 159 1598 114M1554 140Q1509 141 1476 170M1502 296Q1499 326 1517 350M1417 262Q1393 301 1418 340M1588 222Q1559 306 1485 356M1443 351Q1473 360 1494 336M1389 305Q1431 308 1453 270M1481 188Q1503 179 1525 189M1487 379Q1447 305 1492 235M1499 337Q1546 290 1520 230M1460 118Q1401 151 1376 214M1573 175Q1540 156 1502 163M1407 252Q1438 214 1488 206M1446 173Q1399 253 1438 338M1537 284Q1488 253 1479 195M1530 203Q1526 236 1495 245M1633 223Q1593 144 1505 134M1452 185Q1492 238 1556 253M1381 177Q1417 227 1478 238M1461 259Q1515 326 1601 329M1511 214Q1522 295 1457 345M1577 181Q1557 224 1510 222M1461 376Q1412 333 1430 270M1552 128Q1521 103 1481 105M1419 354Q1474 371 1510 326M1365 151Q1447 143 1499 206M1479 153Q1455 198 1487 238M1421 330Q1413 290 1446 266M1496 226Q1510 298 1582 314M1606 319Q1522 321 1465 259M1592 186Q1638 226 1626 286M1583 164Q1568 142 1541 137M1514 194Q1544 121 1620 101M1395 289Q1351 220 1374 141M1558 197Q1546 261 1481 272M1419 165Q1449 131 1494 136M1529 156Q1518 154 1509 160M1547 186Q1571 167 1600 177M1473 106Q1493 120 1492 143M1443 179Q1466 158 1498 155M1526 350Q1539 333 1531 315M1424 286Q1418 190 1496 134M1465 207Q1445 193 1421 198M1459 120Q1441 98 1453 74M1396 287Q1381 227 1427 185M1506 266Q1477 237 1478 196M1416 205Q1391 195 1364 203M1436 226Q1417 257 1432 290M1482 247Q1456 208 1460 162M1450 203Q1462 153 1512 144M1620 231Q1631 248 1627 267M1530 206Q1468 145 1386 177M1480 286Q1464 321 1473 358M1504 236Q1547 229 1566 190M1490 221Q1558 248 1625 217M1452 107Q1439 135 1453 163M1524 314Q1531 280 1516 249M1517 228Q1482 235 1451 219M1556 194Q1498 157 1430 169M1352 238Q1402 189 1470 204M1597 269Q1633 178 1569 104M1438 242Q1457 160 1528 114M1504 221Q1479 159 1521 106M1545 140Q1620 164 1634 242M1493 159Q1439 210 1449 284M1495 368Q1429 326 1436 248M1437 230Q1410 294 1450 350M1467 348Q1400 325 1385 256M1550 275Q1509 296 1463 289M1471 192Q1483 130 1528 86M1464 244Q1468 271 1488 289M1644 153Q1600 142 1569 175M1438 306Q1488 329 1536 302M1504 208Q1479 143 1410 128M1507 143Q1582 207 1556 302M1490 300Q1520 295 1533 268M1524 369Q1453 369 1422 305M1618 133Q1661 205 1644 287M1468 135Q1547 145 1587 214M1535 190Q1530 146 1498 115M1370 248Q1348 174 1404 120M1465 221Q1507 167 1576 169M1495 238Q1463 201 1474 154M1463 288Q1440 236 1453 180M1490 83Q1414 131 1416 221M1471 193Q1412 225 1398 291M1627 216Q1645 221 1658 209M1430 318Q1419 296 1422 271M1620 102Q1602 190 1526 237M1566 126Q1508 158 1488 220M1498 185Q1418 193 1363 252M1401 185Q1410 263 1474 308M1646 164Q1581 116 1505 144M1606 330Q1560 359 1505 358M1479 247Q1416 205 1424 129M1645 186Q1592 124 1511 116M1394 153Q1414 92 1478 85M1583 235Q1559 277 1510 278M1567 170Q1621 169 1662 205M1428 250Q1438 302 1486 325M1482 169Q1521 138 1570 137M1644 245Q1580 276 1523 234M1475 211Q1463 189 1480 169M1387 148Q1452 134 1489 190M1565 296Q1531 298 1504 276M1453 274Q1398 217 1395 138M1493 155Q1422 149 1384 208M1528 323Q1555 245 1524 170M1458 201Q1421 191 1397 220M1454 293Q1473 326 1510 334M1394 205Q1415 182 1447 180M1344 200Q1381 116 1466 82M1540 275Q1521 295 1494 288M1501 338Q1572 299 1606 225M1476 106Q1528 129 1557 179M1484 119Q1538 131 1559 182M1616 313Q1533 304 1510 224M1404 241Q1425 294 1482 294M1437 342Q1416 303 1419 259M1524 184Q1448 200 1410 268M1533 248Q1554 275 1589 274M1396 184Q1437 159 1477 184M1500 342Q1480 276 1503 212M1375 185Q1405 236 1458 258M1471 223Q1477 255 1508 265M1552 335Q1602 307 1614 251M1642 285Q1657 217 1632 153M1561 148Q1505 150 1484 203M1627 181Q1639 171 1654 173M1474 324Q1424 287 1415 225M1496 229Q1406 238 1361 158M1452 234Q1462 182 1509 158M1458 228Q1490 255 1532 253M1578 210Q1518 178 1461 214M1523 130Q1476 164 1473 223M1535 265Q1488 329 1410 314M1576 289Q1524 287 1499 242M1449 261Q1449 192 1509 156M1557 222Q1560 159 1504 129M1483 151Q1428 127 1381 165M1386 232Q1380 218 1391 208M1425 188Q1423 155 1442 127M1438 183Q1459 249 1524 273M1431 139Q1430 118 1449 107M1478 224Q1526 148 1615 153M1539 184Q1575 220 1564 270M1587 327Q1591 271 1557 227M1607 209Q1626 186 1612 159M1594 166Q1533 109 1449 110M1369 210Q1440 246 1517 225M1500 212Q1480 194 1479 168M1582 179Q1573 110 1509 82M1385 244Q1410 274 1449 271M1532 212Q1543 144 1502 89M1388 221Q1361 189 1377 150M1610 142Q1597 199 1549 232M1452 255Q1423 290 1379 281M1447 101Q1434 92 1418 94M1490 374Q1557 350 1574 281M1527 159Q1537 188 1529 217M1444 303Q1497 374 1584 357M1498 367Q1443 329 1436 263M1471 203Q1508 154 1570 152M1648 197Q1650 227 1632 250M1591 347Q1637 324 1642 273M1465 340Q1441 303 1448 260M1620 168Q1645 153 1668 171M1597 204Q1624 166 1625 120M1530 228Q1526 140 1448 97M1599 198Q1558 180 1518 201M1507 156Q1539 202 1514 251M1403 227Q1454 191 1514 205M1367 251Q1399 211 1449 218M1408 165Q1494 152 1549 219M1542 289Q1497 337 1432 338M1461 204Q1442 194 1442 173M1524 224Q1534 138 1468 82M1639 257Q1586 214 1518 217M1541 73Q1467 99 1421 162M1554 169Q1562 129 1541 94M1365 197Q1380 251 1436 256M1460 277Q1512 261 1516 207M1628 125Q1591 108 1556 130M1464 227Q1521 254 1571 214M1446 367Q1512 363 1559 316M1558 302Q1468 288 1423 209M1517 275Q1503 307 1468 305M1527 284Q1529 256 1510 234M1515 330Q1503 331 1494 324M1514 90Q1609 97 1643 187M1488 169Q1487 135 1458 118M1399 221Q1447 292 1530 273M1526 183Q1547 235 1533 289M1460 378Q1519 327 1521 249M1596 290Q1642 238 1648 169M1673 222Q1651 307 1572 347M1430 295Q1491 312 1538 268M1407 264Q1408 245 1420 230M1513 217Q1475 286 1400 310M1513 220Q1596 219 1647 285M1588 190Q1622 220 1607 263M1363 245Q1343 181 1391 135M1555 161Q1632 181 1661 255M1519 327Q1462 335 1411 309M1406 170Q1444 257 1538 269M1564 85Q1526 68 1487 84M1624 107Q1561 60 1484 71M1617 259Q1652 206 1640 145M1448 277Q1431 203 1458 132M1419 338Q1428 274 1477 231M1403 280Q1419 284 1430 271M1389 330Q1473 350 1542 298" stroke="#F52030" stroke-width="0.5" opacity="0.8" stroke-dasharray="7 1.5"/>
<path d="M1546 183l1-13-73-11 44 22-7-9 29 28-8-42 28 69-31-54 49 16-29-13-4-12-36 21 20 67 29 12-12-78-33 8 19 52-4-48-43-41 19 67 42 64-7-1 9-51-41 28-18 9 34-43-48-41 83-13 25 19-65 34 40 52-2-103-8-27-18 60-64 25-34 19 22-49 14 16 35 33 47 7-40-15-59 33 15-3-23-67-6 7 104-5-25-74 38 69-55 3 16 62 42 6-17-87-54-35 40 67-77-1 42 64 11-94 47 39-60 10-18-3-19-63-4 32 54-8-27-43-25 40 13 92 67-26-90 0 78 28-33-62-6-4-5 34 34 42 11-58 16 30-1 11 8 3 16-6-19-64-35 70 52-7 23-46-37-72 33 78-67 39-16 3 67-38 3-70-57 22 31-18" stroke="#FF1828" stroke-width="0.6" opacity="0.7"/>
<g stroke-linecap="round" fill="none">
<path d="M1446.6 328.5h0M1524.7 69.9h0M1522.9 333.6h0M1389.5 205.8h0M1545 277.4h0M1605.5 202.1h0M1452.1 247.8h0M1419.2 226.2h0M1526.4 338.2h0M1464.7 164.1h0M1443.7 188.4h0M1487.1 196.3h0M1369.5 304.2h0M1608.9 110.7h0M1541.2 284.6h0" stroke="#1E5A3E" stroke-width="1"/>
<path d="M1450.4 230.7h0M1633.5 239.7h0M1466 245.4h0M1660.9 156.9h0M1456.3 155.1h0M1374.5 163.4h0M1505.5 224.3h0M1587.1 200.8h0M1492.5 118.6h0M1644.5 198.8h0M1548.4 245.5h0M1416.3 227.4h0M1526.9 113.6h0M1554.5 160.4h0M1472.2 350.6h0M1610.3 111.9h0M1622.5 140.6h0M1662.9 238.7h0M1652.9 191.7h0M1379.8 154.8h0M1659.3 163.8h0M1582.6 230.1h0M1555.2 227.7h0M1473.7 224.9h0M1493.4 374.4h0M1468.8 348.7h0M1591 222.7h0M1430.8 276.7h0M1466.1 234.6h0M1617 204.7h0M1470.8 283.5h0M1532 215.1h0M1372 267.3h0M1472.4 168.4h0M1367.1 252.1h0M1671.4 232.7h0M1546 117.4h0M1386.7 177.7h0M1377.6 313.8h0M1397 319h0M1471 133.5h0M1629.9 261.2h0M1497.3 237.2h0M1641 156.8h0M1396.1 271h0M1431.4 163.6h0M1415.5 342.1h0M1542.6 194.9h0M1434.3 149.1h0M1505.6 171.9h0M1524 97.7h0M1558.8 191.3h0M1378 174.7h0M1610.4 314.5h0M1437.7 345.3h0M1592.9 92.7h0M1372.7 162.2h0M1599.8 201.3h0M1620.4 144.3h0M1608.2 154.7h0M1567.2 343h0M1356.3 224.9h0M1537 196.4h0M1552.3 97.7h0M1621.3 203.1h0M1455.2 135.4h0M1559.1 331.3h0M1601.7 307.5h0M1375.2 150.5h0M1436.6 215.7h0M1609.4 181.8h0M1538.1 353.4h0M1465 271.9h0M1451.7 189.8h0M1569.9 210.9h0M1459.5 239.4h0M1362.6 209.3h0M1499.6 331.6h0M1644.3 222.1h0M1495 373.8h0M1578.1 156.9h0M1464.4 192.2h0M1609.5 174.9h0M1426.4 168.3h0M1514 157.8h0M1477 142.4h0M1561.7 150.1h0M1550.5 253.5h0M1492.5 262.4h0M1477.6 196.8h0M1583 330.8h0M1380 190.7h0M1488 234.9h0M1547.1 333.6h0M1432.1 135.7h0M1531.5 358.5h0M1527 270.2h0M1467.1 271h0M1596.8 236.2h0M1402.5 218.4h0M1476.3 162.9h0M1388.2 139.9h0M1387.2 130.2h0M1489.8 107.9h0M1538.2 331.2h0M1640.7 170.1h0M1589.9 91.7h0M1410.5 147.9h0M1504.1 65.8h0M1428.3 221.2h0M1482.4 103.7h0M1539.8 191.6h0M1615.6 129.8h0M1465.6 282h0M1412.4 299.9h0M1592 163.2h0M1549.9 82h0M1431 260.5h0M1376.1 156.2h0M1344.4 220.5h0M1450.7 366.8h0M1353.1 182.6h0M1518.1 354.2h0M1626.4 240.3h0M1646.7 289.5h0M1552.2 323h0M1544.7 313.7h0M1394.2 161.8h0" stroke="#1E5A3E" stroke-width="1.5"/>
<path d="M1393.6 125.5h0M1423.5 273.1h0M1583.4 183h0M1596.1 331.4h0M1532.1 76.6h0M1414.8 280.8h0M1447.6 266.8h0M1469.6 246.1h0M1570.8 295.5h0M1597.6 132.9h0M1655.3 234h0M1457.9 162h0M1499.2 111.9h0M1584.2 115.4h0M1427 308h0M1547 256.6h0M1491.4 175.4h0" stroke="#90500F" stroke-width="1.5"/>
<path d="M1421.6 312.9h0M1502.5 221.4h0M1593.9 168.4h0M1479.6 258.7h0M1361.8 291h0M1382.4 256.7h0M1666.1 204.3h0M1371.8 174.8h0M1529.9 296.8h0M1396.2 241.2h0M1469.9 74h0M1657.1 275.4h0M1459.7 255h0M1542.3 262.7h0M1394.4 329.3h0M1475.1 154.9h0M1636.8 261.1h0M1477.2 81.3h0M1391.4 231.8h0M1536.1 299.2h0M1513.4 168.2h0M1350.7 222.2h0M1443.9 303.8h0M1502.3 311.9h0M1555.2 307.7h0M1416.9 136.2h0M1577 84.7h0M1485.4 319.1h0M1477.8 227.9h0M1448 296.9h0M1621.8 122.2h0M1599.5 116.3h0M1438.2 338.7h0M1604.2 223.9h0M1371.9 295.5h0M1345 198.3h0M1374 150.6h0M1464.6 230.8h0M1484.7 286.5h0M1403 295.2h0M1420.5 105.3h0M1592.1 154.7h0M1566.5 360.7h0M1567.6 303.7h0M1603.4 206.7h0M1634.8 142.9h0M1501.5 126.4h0M1575 190h0M1481.8 274.2h0M1560.3 270.9h0M1442.3 101.7h0M1562.8 123.4h0M1648.5 248.3h0M1429.2 347.4h0M1474.2 218.1h0M1427.3 191.9h0M1405.8 133.3h0M1656.3 178.6h0M1373.8 180.4h0M1510.3 237.1h0M1343.6 211.2h0M1427.6 144.2h0M1599 322.8h0M1625 301.1h0M1569.8 161.2h0M1508.2 371.5h0M1644.2 271.5h0M1605.1 234.4h0M1618.5 191.4h0M1564.5 319.9h0M1420 215.9h0M1572.4 222.1h0M1351.1 269.3h0M1535.7 253h0M1410.8 206.4h0M1519.5 295.6h0M1473 136.4h0M1421.5 178.2h0M1546.8 290.1h0M1615.4 254.1h0M1458.4 269.3h0M1535.8 189.8h0M1477.2 99h0M1356.4 250.8h0M1525.2 269.5h0M1578.2 119h0M1604.3 344h0M1414.4 186.9h0M1484.9 286.5h0M1536 77h0M1602.1 192.8h0M1441.8 113.4h0M1520.2 225.9h0M1403.7 210.5h0M1477.3 287.2h0M1569.1 312.6h0M1503.4 141.5h0M1420.7 300h0M1558.5 214.3h0M1545.4 69.3h0M1488.5 194.2h0M1584 253.2h0M1596.9 163.7h0M1536.5 297.3h0M1455.9 309.1h0M1543.4 256.4h0M1450.2 276.1h0M1567.2 269.6h0M1428.1 143.5h0M1605.9 137.2h0M1426.4 196.1h0M1493.4 357.2h0M1600.6 345.4h0M1378.5 133.5h0M1469.8 150.2h0M1405.8 116.9h0M1420.4 331.7h0M1549.1 301.3h0M1541.8 182.6h0M1463.9 313.9h0M1500.1 66.4h0M1565.5 290.7h0M1404 271.4h0M1610.7 170.5h0M1666.4 238.8h0M1525.4 161.8h0M1497.3 353.6h0M1558.6 156.7h0M1381.5 140.3h0M1533.1 182.7h0M1596.4 268.9h0M1514.6 239.1h0M1567.2 174.8h0M1375.5 190.9h0M1409.5 140.6h0M1464.9 94.6h0M1573.6 152.3h0M1413.8 335.7h0M1470 372h0M1520.5 163.4h0M1350.9 179.4h0M1505.1 290.8h0" stroke="#3C9D6C" stroke-width="2"/>
<path d="M1550.6 305.1h0M1481.9 165.5h0M1397.8 341.3h0M1547.9 302.7h0M1425.2 224.4h0M1568 239.2h0M1437.2 87.6h0M1524.7 89.1h0M1549.9 115.4h0M1460.5 74.9h0M1519.7 216.2h0M1453.6 249.1h0M1627.4 158.7h0M1561.6 301.5h0M1510.3 160h0M1535.9 336.4h0M1553.5 339.1h0" stroke="#FA8C1E" stroke-width="2"/>
<path d="M1567.1 141.2h0M1439.4 204.8h0M1419.5 102.2h0M1556.9 156.3h0M1536 77.3h0M1533.7 225.2h0M1470.7 202.8h0M1420.1 210.7h0M1517 339.4h0M1579.3 356.2h0M1531.7 160.6h0M1544.5 101.7h0M1607.3 253.2h0M1533.4 280.5h0M1619.1 158.5h0M1521.3 352.9h0M1444.9 239.6h0M1494 375.3h0M1553.4 215.5h0M1415.3 158.7h0" stroke="#FA8C1E" stroke-width="2.5"/>
<path d="M1542.2 297.8h0M1555 295.3h0M1484.7 204.5h0M1406.4 254.7h0M1647.6 221.6h0M1544.8 318.2h0M1503.6 271.7h0M1405.5 239.5h0M1519.8 341.2h0M1380.3 196.8h0M1424.3 290.3h0M1606.5 281.5h0M1519.8 173h0M1528.8 105.9h0M1402.9 264.7h0M1507.4 106.1h0M1519.4 219.2h0M1506.2 211.3h0M1479 92.8h0M1499.1 381.6h0M1555.2 150.4h0M1626.8 243.7h0M1363.4 280.1h0M1460.8 94h0M1421.5 216.2h0M1621 267.8h0M1424.1 194h0M1561.2 348.2h0M1517.4 260h0M1546.8 249.6h0M1639.2 290.7h0M1401.4 169.6h0M1637.3 210.2h0M1479.1 264.6h0M1481.4 219.7h0M1416.1 294.8h0M1533.1 239.4h0M1510.8 219h0M1612.6 298.4h0M1590.1 150.1h0M1496.6 131.5h0M1640.8 184.5h0M1498.8 161.1h0M1453.8 130.9h0M1435.3 274.6h0M1436.4 338.6h0M1440.4 151.5h0M1520.6 73.9h0M1409.5 313.4h0M1500.6 64.8h0M1468.2 234.6h0M1625.5 320.6h0M1482.2 346.6h0M1658.9 271.5h0M1482.9 284.5h0M1491 171.6h0M1501.1 294.1h0M1567.3 101.2h0M1605.6 309.2h0M1646.5 252.8h0M1546.4 267.1h0M1527.7 191.7h0M1423 286h0M1462.2 333.2h0M1531.8 359.7h0M1575.4 93.4h0M1493.5 146.2h0M1594.6 282.4h0M1542.6 86.2h0M1372.1 308.9h0M1389.7 145.1h0M1420.8 105.9h0M1491.3 275.1h0M1439.3 86.5h0M1379.8 201h0M1575 137.5h0M1619.9 239.5h0M1440.2 216.1h0M1392.4 187.2h0M1556.7 105.7h0M1365.5 301.3h0M1560.3 292.8h0M1384.5 262.9h0M1603.4 217.7h0M1381.8 226.6h0M1623.3 169.1h0M1567 107.6h0M1545.1 340h0M1386.6 186.1h0M1544.9 116h0M1482.8 96.4h0M1456.6 120h0M1591.7 168.3h0M1626.9 236.5h0M1516.5 98.2h0M1421.1 253h0" stroke="#3C9D6C" stroke-width="2.5"/>
<defs><path id="s4_7" d="M1435.6 96.6h0M1466.4 281.5h0M1468.6 253.1h0M1597 152.2h0M1491.7 97.9h0M1555.7 177.9h0M1441.1 134.4h0M1548.3 211h0M1437.4 245.2h0M1619.7 241.8h0M1591.3 286.5h0M1539.9 199.3h0M1434.6 190h0M1611.6 171.5h0M1609.4 288h0M1580 276.2h0M1523.7 161.2h0M1580.3 230.3h0M1522.4 263.9h0M1638 208.6h0M1611.8 231.2h0M1491.6 222.9h0M1540.4 312.7h0M1531.4 148.4h0M1587.9 211.6h0"/></defs>
<use href="#s4_7" stroke="#1E5A3E" stroke-width="3.4"/>
<use href="#s4_7" stroke="#3C9D6C" stroke-width="2.6"/>
<defs><path id="s4_8" d="M1503.1 321.2h0M1618.2 257.6h0M1472.5 111.9h0M1514.5 124.6h0M1538.4 300.4h0M1467.7 163.4h0M1553.5 277.1h0M1518.9 113.7h0M1456.7 148.5h0M1515.8 340h0M1637.1 215.5h0M1522.1 272.8h0M1468.5 219.1h0"/></defs>
<use href="#s4_8" stroke="#90500F" stroke-width="3.4"/>
<use href="#s4_8" stroke="#FA8C1E" stroke-width="2.6"/>
<defs><path id="s4_9" d="M1579.5 128.2h0M1570.6 135.8h0M1592.2 244.8h0M1453.4 102.2h0M1446.8 239.5h0M1469.3 272.3h0M1407.1 285.6h0M1476.6 104.6h0M1616.3 263.2h0M1511.8 319.5h0M1586.8 132.9h0M1542.1 130.7h0M1502.7 112.8h0M1602.2 132h0M1507.5 117.2h0M1452.3 182.3h0M1566.9 175.7h0M1434 149.3h0M1400.4 163.5h0M1407.2 173.6h0M1540.1 136.9h0M1547.4 226.6h0M1546.9 247.5h0M1403.6 152.9h0M1595.3 193.8h0M1492.6 304.2h0"/></defs>
<use href="#s4_9" stroke="#1E5A3E" stroke-width="3.9"/>
<use href="#s4_9" stroke="#3C9D6C" stroke-width="3.1"/>
<defs><path id="s4_10" d="M1510.7 176.1h0M1473.8 177.3h0M1395.6 207.9h0M1490.4 229.5h0M1438.1 225h0M1456 273.4h0M1444.5 289.4h0M1560.4 259.6h0M1540.8 251.2h0M1433.1 142.2h0M1574 325.8h0M1486.3 318.1h0M1575.3 154.9h0M1494.3 243.5h0M1624.1 194.9h0M1560.5 209.2h0M1381.9 195.6h0M1407.7 236.5h0M1380.4 243.9h0M1488.2 190.5h0M1592.3 216.1h0M1461.3 113.7h0M1530.8 335.8h0M1579.6 251.8h0M1482.9 244.6h0"/></defs>
<use href="#s4_10" stroke="#90500F" stroke-width="3.9"/>
<use href="#s4_10" stroke="#FA8C1E" stroke-width="3.1"/>
<defs><path id="s4_11" d="M1362.5 217.3h0M1586.6 235.9h0M1628.8 162.4h0M1451.4 301.7h0M1446.7 171.9h0M1437.8 201.1h0M1497.8 335.6h0M1442.4 297.5h0M1543.5 101.5h0M1533.1 105.1h0M1405.9 206.8h0M1470.9 305.1h0M1565.6 312.2h0M1554.1 291h0M1446.1 250.2h0M1565.1 305h0M1486 292.7h0M1482.9 132.4h0M1388.6 177.3h0M1442.3 156.6h0M1422.4 169.3h0M1419.1 142.9h0M1511 143.8h0M1413.2 168.3h0"/></defs>
<use href="#s4_11" stroke="#1E5A3E" stroke-width="4.4"/>
<use href="#s4_11" stroke="#3C9D6C" stroke-width="3.6"/>
<defs><path id="s4_12" d="M1447.8 194.7h0M1467.4 235.9h0M1493.7 263.4h0M1543.1 175.3h0M1558.4 153.1h0M1573.1 171.5h0M1582 177.3h0M1445.3 143.7h0M1484.2 174.3h0M1507.3 305.3h0M1551.5 262.9h0M1448.6 110.9h0M1578.6 270.1h0M1559.4 227.3h0M1534.1 125.1h0M1451.7 218.2h0"/></defs>
<use href="#s4_12" stroke="#90500F" stroke-width="4.4"/>
<use href="#s4_12" stroke="#FA8C1E" stroke-width="3.6"/>
<defs><path id="s4_13" d="M1480.2 164.6h0M1414.7 182.9h0M1425.4 192.1h0M1416 197.2h0M1412.7 256.3h0M1555.3 187.5h0M1479.7 311h0M1520.9 314.9h0M1523.5 291.2h0M1537 289.4h0M1516.6 284.3h0M1550.7 193.8h0M1543.5 296.1h0M1470 196.1h0M1544.3 157.9h0"/></defs>
<use href="#s4_13" stroke="#1E5A3E" stroke-width="4.9"/>
<use href="#s4_13" stroke="#3C9D6C" stroke-width="4.1"/>
<defs><path id="s4_14" d="M1491.1 212.2h0M1484.5 221.1h0M1422.9 218.1h0M1533.2 243.4h0M1487.3 114.1h0M1565.7 246.8h0M1446.8 228h0M1464.5 206.2h0"/></defs>
<use href="#s4_14" stroke="#90500F" stroke-width="4.9"/>
<use href="#s4_14" stroke="#FA8C1E" stroke-width="4.1"/>
<defs><path id="s4_15" d="M1481.4 120.5h0M1466.9 134.8h0M1559.1 271.6h0M1553.5 232.1h0M1483.2 202h0M1462.3 180.7h0M1573.3 214.6h0M1475.4 204.2h0M1460.4 216.3h0M1572.2 241.4h0"/></defs>
<use href="#s4_15" stroke="#1E5A3E" stroke-width="5.4"/>
<use href="#s4_15" stroke="#3C9D6C" stroke-width="4.6"/>
<defs><path id="s4_16" d="M1430.5 168.4h0M1526 191.3h0M1459.8 227.5h0M1506.4 242.3h0M1473.3 259.3h0M1528.9 176.8h0"/></defs>
<use href="#s4_16" stroke="#90500F" stroke-width="5.4"/>
<use href="#s4_16" stroke="#FA8C1E" stroke-width="4.6"/>
<defs><path id="s4_17" d="M1457.2 260.9h0M1559.1 283h0M1527.3 280.5h0M1506.9 164.6h0"/></defs>
<use href="#s4_17" stroke="#1E5A3E" stroke-width="5.9"/>
<use href="#s4_17" stroke="#3C9D6C" stroke-width="5.1"/>
<defs><path id="s4_18" d="M1562.9 235.9h0M1492.9 274.1h0M1477.6 255h0M1473 225h0M1494.2 295h0M1501.8 311.6h0M1506.1 258.8h0M1514.5 268.5h0"/></defs>
<use href="#s4_18" stroke="#1E5A3E" stroke-width="6.4"/>
<use href="#s4_18" stroke="#3C9D6C" stroke-width="5.6"/>
<defs><path id="s4_19" d="M1516.6 197.7h0"/></defs>
<use href="#s4_19" stroke="#90500F" stroke-width="6.4"/>
<use href="#s4_19" stroke="#FA8C1E" stroke-width="5.6"/>
<defs><path id="s4_20" d="M1501.8 199h0"/></defs>
<use href="#s4_20" stroke="#1E5A3E" stroke-width="6.9"/>
<use href="#s4_20" stroke="#3C9D6C" stroke-width="6.1"/>
<defs><path id="s4_21" d="M1414.7 231.3h0M1486 149.3h0M1503.6 176.6h0M1535.7 229.5h0"/></defs>
<use href="#s4_21" stroke="#1E5A3E" stroke-width="7.4"/>
<use href="#s4_21" stroke="#3C9D6C" stroke-width="6.6"/>
<defs><path id="s4_22" d="M1472 246.1h0M1511.2 235.4h0"/></defs>
<use href="#s4_22" stroke="#90500F" stroke-width="7.4"/>
<use href="#s4_22" stroke="#FA8C1E" stroke-width="6.6"/>
<defs><path id="s4_23" d="M1445.8 278.4h0M1571.1 225.7h0M1489.6 167.2h0M1482.7 263.9h0"/></defs>
<use href="#s4_23" stroke="#1E5A3E" stroke-width="7.9"/>
<use href="#s4_23" stroke="#3C9D6C" stroke-width="7.1"/>
<defs><path id="s4_24" d="M1503.9 270.3h0"/></defs>
<use href="#s4_24" stroke="#1E5A3E" stroke-width="8.4"/>
<use href="#s4_24" stroke="#3C9D6C" stroke-width="7.6"/>
<defs><path id="s4_25" d="M1521.7 245.6h0"/></defs>
<use href="#s4_25" stroke="#1E5A3E" stroke-width="8.9"/>
<use href="#s4_25" stroke="#3C9D6C" stroke-width="8.1"/>
<defs><path id="s4_26" d="M1537.5 270.3h0"/></defs>
<use href="#s4_26" stroke="#1E5A3E" stroke-width="9.4"/>
<use href="#s4_26" stroke="#3C9D6C" stroke-width="8.6"/>
<defs><path id="s4_27" d="M1508.2 208.4h0"/></defs>
<use href="#s4_27" stroke="#1E5A3E" stroke-width="9.9"/>
<use href="#s4_27" stroke="#3C9D6C" stroke-width="9.1"/>
<defs><path id="s4_28" d="M1483.5 278.4h0"/></defs>
<use href="#s4_28" stroke="#1E5A3E" stroke-width="11.9"/>
<use href="#s4_28" stroke="#3C9D6C" stroke-width="11.1"/>
<defs><path id="s4_29" d="M1504.4 228.3h0"/></defs>
<use href="#s4_29" stroke="#1E5A3E" stroke-width="12.4"/>
<use href="#s4_29" stroke="#3C9D6C" stroke-width="11.6"/>
<defs><path id="s4_30" d="M1518.4 213.8h0"/></defs>
<use href="#s4_30" stroke="#1E5A3E" stroke-width="14.9"/>
<use href="#s4_30" stroke="#3C9D6C" stroke-width="14.1"/>
</g>
</g>
<g fill="none">
<defs><radialGradient id="sh5" cx="1846" cy="220" r="161" gradientUnits="userSpaceOnUse"><stop offset="0" stop-color="#F01030" stop-opacity="0.4"/><stop offset="0.3" stop-color="#F02040" stop-opacity="0.28"/><stop offset="0.6" stop-color="#F06080" stop-opacity="0.1"/><stop offset="0.85" stop-color="#F8A0B0" stop-opacity="0.03"/><stop offset="1" stop-color="#fff" stop-opacity="0"/></radialGradient></defs>
<path d="M2009 220L2008 237L2004 253L1998 269L1991 284L1983 299L1973 312L1962 324L1950 336L1937 346L1924 355L1909 363L1894 369L1878 374L1862 378L1846 380L1829 380L1812 379L1795 375L1779 370L1763 362L1748 353L1735 342L1723 330L1713 316L1704 301L1697 286L1692 270L1688 253L1686 236L1686 220L1687 203L1690 186L1694 170L1700 155L1708 140L1716 126L1727 113L1739 101L1751 90L1765 81L1780 73L1796 67L1812 63L1829 61L1846 60L1862 61L1879 63L1895 67L1911 73L1926 80L1941 89L1954 99L1967 110L1978 123L1988 137L1996 153L2002 169L2007 185L2009 202Z" fill="url(#sh5)"/>
<path d="M1963 158Q1987 218 1954 273M1871 184Q1785 182 1750 259M1874 113Q1921 190 1889 275M1840 291Q1896 327 1950 288M1778 102Q1803 59 1852 63M1909 112Q1931 102 1951 114M1849 231Q1924 180 1938 91M1935 304Q1920 275 1891 259M1917 332Q1987 307 2005 235M1861 268Q1863 305 1895 322M1871 150Q1869 99 1827 69M1806 72Q1752 142 1775 226M1796 361Q1824 377 1853 363M1847 62Q1795 62 1771 108M1744 304Q1703 268 1709 213M1878 321Q1909 273 1903 216M1919 238Q1929 288 1903 331M1836 280Q1769 239 1761 161M1857 126Q1897 137 1913 175M1842 217Q1790 206 1743 232M1905 86Q1945 129 1926 184M1932 268Q1923 323 1877 356M1760 345Q1775 343 1786 332M1933 211Q1926 236 1901 244M1922 180Q1940 225 1928 272M1800 239Q1763 251 1758 290M1875 275Q1904 209 1874 144M1828 189Q1862 210 1867 250M1930 208Q1877 244 1814 235M1865 128Q1804 121 1750 149M1756 165Q1790 102 1858 83M1944 267Q1909 349 1825 378M1883 193Q1890 126 1834 87M1738 286Q1785 279 1815 242M1817 220Q1813 202 1827 190M1757 100Q1742 102 1738 117M1866 347Q1854 342 1847 332M1796 247Q1796 222 1811 202M1752 265Q1762 339 1835 356M1845 195Q1771 231 1743 309M1775 214Q1776 141 1830 90M1884 285Q1969 244 1972 150M1873 78Q1826 132 1818 203M1918 223Q1945 221 1961 244M1937 283Q1985 202 1941 118M1831 220Q1823 154 1862 100M1787 293Q1837 331 1896 310M1804 134Q1801 211 1857 264M1993 221Q1927 265 1849 251M1782 229Q1767 294 1820 337M1905 364Q1903 308 1868 265M1955 194Q1953 166 1933 147M1755 217Q1777 265 1830 269M1848 323Q1768 336 1717 272M1770 337Q1748 277 1768 217M1754 203Q1800 170 1856 170M1861 87Q1890 148 1871 213M1833 360Q1808 307 1839 257M1857 163Q1794 178 1782 242M1774 87Q1798 94 1806 118M1722 235Q1773 302 1856 285M1909 84Q1877 85 1856 109M1968 165Q1920 86 1827 87M1966 216Q1952 229 1932 228M1737 146Q1819 96 1898 148M1945 276Q1959 245 1940 217M1918 124Q1848 157 1827 231M1724 227Q1802 254 1881 228M1817 198Q1772 174 1769 123M1780 355Q1839 371 1883 329M1765 213Q1777 277 1840 295M1767 210Q1760 291 1832 329M1789 327Q1811 341 1836 339M1893 342Q1911 267 1874 199M1954 170Q1943 191 1919 194M1943 249Q1871 283 1793 265M1844 68Q1871 82 1867 113M1917 270Q1913 234 1883 212M1970 258Q1966 224 1939 202M1889 119Q1927 166 1899 220M1925 208Q1892 260 1834 281M1914 248Q1919 219 1894 205M1819 125Q1765 191 1778 276M1910 125Q1980 158 2004 231M1921 271Q1928 236 1899 215M1828 155Q1795 199 1820 248M1891 273Q1810 290 1743 241M1739 186Q1724 237 1766 270M1930 338Q1931 267 1892 208M1722 129Q1816 116 1864 197M1936 188Q1908 230 1860 247M1792 241Q1746 226 1743 178M1869 126Q1810 141 1772 189M1863 359Q1881 316 1872 270M1695 233Q1764 186 1843 215M1958 136Q1966 211 1913 266M1994 235Q1948 302 1871 325M1957 119Q1951 196 1892 247M1796 369Q1863 328 1893 256M1984 272Q1936 194 1846 179M1900 160Q1850 166 1830 212M1834 330Q1804 271 1837 213M1981 214Q1991 170 1961 138M1955 140Q1916 197 1850 217M1919 178Q1864 110 1780 134M1801 124Q1892 150 1924 240M1918 86Q1923 99 1919 111M1960 212Q1930 288 1858 324M1946 119Q1872 91 1814 144M1865 74Q1820 101 1798 149M1912 123Q1986 143 1997 219M1967 171Q1995 225 1975 282M1988 143Q1988 187 1963 223M1959 216Q1965 189 1954 165M1963 136Q1968 174 1946 206M1792 82Q1822 108 1831 147M1778 190Q1739 252 1752 323M1786 220Q1804 154 1871 140M1901 248Q1944 194 1937 126M1694 191Q1712 164 1744 168M1799 213Q1752 168 1752 104M1977 213Q1965 275 1910 307M1915 351Q1935 307 1904 271M1805 154Q1797 216 1843 257M1934 189Q1936 214 1916 229M1866 330Q1875 315 1865 300M1961 250Q1950 204 1905 190M1913 174Q1932 117 1893 72M1888 279Q1919 204 1885 131M1994 158Q1974 138 1947 133M1964 309Q1895 288 1856 228M1841 324Q1890 320 1918 281M1761 188Q1793 258 1866 279M1800 159Q1756 246 1819 320M1840 244Q1852 247 1860 238M1817 342Q1865 292 1846 225M1722 193Q1773 249 1847 234M1880 267Q1901 185 1843 123M1852 121Q1872 159 1868 201M1732 182Q1761 130 1818 111M1945 104Q1973 122 1984 154M1928 156Q1840 144 1783 212M1883 65Q1830 66 1804 112M1838 220Q1810 220 1797 195M1926 217Q1890 272 1824 280M1924 278Q1932 314 1910 343M1881 221Q1848 141 1775 96M1751 178Q1764 109 1827 79M1749 159Q1774 96 1836 66M1830 123Q1896 146 1900 215M1835 359Q1788 360 1754 329M1961 284Q1940 332 1888 341M1973 278Q1985 276 1990 265M1765 185Q1834 130 1921 138M1947 223Q1940 243 1922 255M1855 268Q1827 268 1804 253M1903 275Q1850 317 1788 290M1916 312Q1852 307 1828 248M1765 182Q1778 131 1829 117M1762 236Q1770 221 1786 217M1998 262Q1942 298 1877 284M1869 115Q1962 129 1989 220M1848 233Q1817 265 1772 265M1729 140Q1714 208 1764 257M1798 355Q1759 332 1744 289M1854 220Q1817 294 1736 317M1811 196Q1784 138 1796 74M1854 223Q1855 266 1828 300M1704 247Q1783 288 1855 236M1941 309Q1943 256 1898 227M1878 266Q1904 284 1935 279M1844 284Q1902 320 1970 306M1890 259Q1912 161 1833 100M1703 235Q1762 272 1827 250M1841 69Q1879 109 1867 163M2002 176Q1960 171 1921 191M1791 248Q1766 282 1771 324M1871 121Q1817 97 1760 116M1803 220Q1813 181 1850 165M1985 149Q1936 101 1869 115M1820 87Q1866 103 1879 149M1902 73Q1920 89 1913 112M1742 143Q1721 144 1705 156M1759 161Q1729 171 1719 201M1774 138Q1727 140 1706 182M1810 203Q1866 123 1962 144M1839 303Q1792 233 1803 149M1869 334Q1832 325 1811 294M1828 126Q1847 138 1850 160M1944 319Q1934 324 1923 322M1916 212Q1919 246 1894 270M1784 115Q1757 160 1786 203M1692 226Q1702 249 1727 254M1810 254Q1780 292 1790 339M1828 313Q1915 293 1936 206M1829 127Q1864 158 1855 204M1785 126Q1751 218 1826 281M1970 155Q1917 92 1836 79M1808 84Q1796 133 1821 176M1808 261Q1787 218 1820 183M1970 122Q1998 188 1983 259M1858 152Q1952 154 1982 242M1843 218Q1826 202 1832 179M1844 194Q1885 271 1874 357M1789 234Q1817 253 1851 250M1848 94Q1793 149 1819 222M1981 201Q1950 257 1886 249M1828 105Q1763 169 1794 255M1846 216Q1937 204 1991 279M1976 238Q1947 263 1912 246M1853 113Q1871 155 1859 199M1910 283Q1874 324 1819 323M1752 260Q1731 281 1742 309M1724 201Q1787 142 1870 167M1850 316Q1832 287 1844 256M1873 369Q1797 338 1796 256M1959 310Q1934 259 1884 233M1952 161Q1920 89 1842 82M1699 226Q1738 182 1796 191M1717 312Q1696 229 1758 169" stroke="#5A50FF" stroke-width="0.65" opacity="0.6" stroke-dasharray="4 2"/>
<path d="M1800 323Q1777 232 1839 161M1945 112Q2009 162 2006 244M1883 283Q1915 315 1901 357M1929 349Q1954 301 1924 256M1947 306Q1922 342 1880 355M1796 243Q1795 284 1833 300M1941 270Q1854 291 1793 225M1708 159Q1688 223 1720 282M1767 181Q1753 212 1773 239M1962 115Q1888 142 1849 210M1851 303Q1899 247 1871 180M1969 168Q1945 208 1900 199M1940 94Q1883 68 1826 94M1827 234Q1795 189 1813 137M1810 215Q1841 193 1873 214M1910 325Q1918 253 1859 211M1834 98Q1739 115 1712 208M1867 213Q1869 225 1861 234M1890 83Q1817 85 1770 142M1849 66Q1830 69 1822 86M1912 227Q1946 294 1898 351M1832 163Q1818 152 1800 153M1885 226Q1859 171 1799 166M1861 273Q1937 250 1948 172M1731 220Q1705 211 1703 184M1893 350Q1809 368 1740 316M1865 226Q1913 249 1932 299M1806 367Q1852 315 1855 245M1926 293Q1871 375 1776 352M1689 200Q1725 131 1799 108M1814 110Q1790 180 1822 246M1818 369Q1890 313 1884 221M1708 243Q1730 265 1760 259M1836 214Q1794 264 1810 328M1887 109Q1964 123 1985 200M1876 240Q1894 258 1891 283M1804 139Q1773 168 1773 211M1881 82Q1812 67 1764 118M1934 241Q1929 331 1852 375M1759 169Q1793 215 1847 234M1944 210Q1945 179 1929 153M1998 159Q2002 179 1990 195M1950 316Q1929 237 1866 184M1999 241Q1931 288 1849 285M1843 142Q1772 190 1744 271M1821 93Q1802 117 1815 144M1964 198Q1941 225 1907 215M1809 170Q1852 197 1867 246M1792 189Q1751 152 1747 97M1703 225Q1766 247 1830 230M1777 290Q1745 248 1749 196M1780 203Q1785 172 1815 163M1918 94Q1935 118 1924 144M1868 324Q1900 324 1925 303M1862 216Q1856 187 1828 177M1810 105Q1793 95 1777 108M1925 296Q1867 329 1808 298M1851 239Q1914 203 1916 131M1803 126Q1861 175 1864 250M1843 235Q1880 185 1866 125M1885 366Q1804 325 1774 239M1965 228Q1979 167 1948 113M1874 132Q1892 164 1878 198M1833 231Q1842 142 1920 97M1778 221Q1764 151 1802 90M1839 242Q1827 257 1830 276M1746 274Q1759 218 1816 208M1963 140Q2006 197 1974 262M1780 315Q1704 256 1726 162M1711 161Q1750 148 1780 177M1829 218Q1748 178 1757 88M1754 355Q1695 302 1695 226M1843 359Q1818 343 1820 314M1950 250Q1944 203 1901 182M1762 93Q1722 159 1741 234M1768 332Q1744 285 1774 243M1848 200Q1831 170 1798 161M1712 175Q1698 221 1732 254M1722 285Q1745 324 1790 322M1707 177Q1732 107 1805 89M1756 354Q1835 387 1897 327M1941 208Q1940 276 1889 323M1858 352Q1893 273 1877 187M1853 264Q1827 323 1773 358M1879 207Q1912 178 1909 135M1950 188Q1932 126 1871 104M1930 140Q1928 199 1873 222M1915 345Q1968 319 1967 259M1957 169Q1900 112 1821 129M1797 183Q1808 111 1865 65M1698 189Q1725 127 1782 92M1850 222Q1835 141 1762 104M1855 178Q1913 146 1978 160M1819 292Q1862 270 1857 223M1871 324Q1905 269 1898 205M1742 286Q1763 329 1811 330M1805 278Q1798 199 1847 137M1773 322Q1736 289 1732 241M1837 341Q1778 273 1803 186M1845 64Q1881 135 1868 214M1911 111Q1968 156 1970 229M1791 234Q1757 282 1784 334M1712 312Q1724 236 1790 197M1970 192Q1980 137 1946 93M1721 122Q1783 110 1831 150M1947 180Q1972 258 1936 331M1872 298Q1911 310 1938 280M1717 211Q1787 157 1867 197M1877 167Q1896 181 1895 205M1748 180Q1703 220 1698 280M1836 223Q1796 191 1807 141M1821 264Q1828 315 1865 351M1764 327Q1784 358 1821 364M1922 321Q1843 338 1791 277M1747 242Q1747 287 1777 320M1821 180Q1855 144 1903 158M1770 192Q1737 252 1746 319M1806 259Q1749 203 1772 128M1877 228Q1918 207 1936 164M1978 158Q1959 125 1922 122M1798 134Q1773 191 1792 251M1782 234Q1818 322 1909 345M1848 214Q1837 204 1822 207M1835 234Q1813 236 1794 226M1972 186Q1948 121 1891 82M1896 293Q1829 258 1809 185M1826 182Q1818 166 1800 167M1884 348Q1832 326 1818 272M1795 143Q1814 96 1864 90M1880 173Q1798 144 1735 204M1808 70Q1791 139 1838 192M1740 164Q1794 130 1851 157M2000 228Q2010 212 2000 197M1905 284Q1889 296 1871 290M1843 226Q1806 194 1819 147M1883 285Q1922 253 1913 204M1885 257Q1897 226 1884 195M1871 209Q1823 192 1778 217M1718 323Q1791 347 1847 295M1845 99Q1919 110 1966 167M1956 133Q1949 91 1910 74M1795 100Q1821 93 1846 103M1986 229Q1963 296 1895 313M1823 194Q1809 144 1761 125M1842 166Q1860 105 1810 65M1777 127Q1778 179 1817 213M1845 295Q1916 303 1965 251M1701 235Q1748 185 1812 210M1810 368Q1866 310 1856 231M1705 185Q1781 140 1864 167M1764 343Q1815 339 1834 292M1826 193Q1872 199 1887 243M1851 303Q1913 251 1935 174M1839 283Q1765 255 1758 176M1957 248Q1909 310 1832 332M1750 314Q1728 260 1762 213M1948 186Q1883 170 1831 212M1976 282Q1900 291 1836 250M1935 244Q1920 231 1900 232M1986 243Q1934 197 1865 207M1934 330Q1991 255 1941 176M1853 206Q1817 152 1752 144M1786 273Q1724 244 1714 177M1878 267Q1786 273 1718 211M1702 169Q1717 147 1744 147M1795 344Q1865 379 1925 329M1751 227Q1762 238 1777 235M1864 282Q1890 319 1936 317M1962 177Q1949 249 1878 266M1815 257Q1853 331 1936 323M1773 252Q1750 303 1781 350M1833 146Q1789 235 1855 309M1789 253Q1727 228 1702 167M1846 102Q1808 172 1839 245M1828 236Q1810 304 1845 365M1733 323Q1757 329 1778 317M1950 330Q1902 359 1846 357M1950 238Q1924 170 1851 159M1919 311Q1930 291 1927 268M1926 251Q1920 286 1887 302M1762 351Q1810 349 1828 305M1749 302Q1738 250 1778 215M1774 149Q1720 204 1709 280M1899 131Q1910 176 1880 212M1884 188Q1878 206 1859 210M1968 303Q1969 233 1926 178M1806 168Q1786 113 1829 74M1810 281Q1805 205 1855 148M1973 160Q1929 80 1837 75M1716 300Q1678 215 1728 136M1835 119Q1818 202 1850 281M1878 303Q1825 308 1796 263M1817 254Q1771 284 1776 339M1808 272Q1752 205 1764 119M1951 246Q1919 297 1860 285M1768 290Q1740 243 1742 189M1705 285Q1738 355 1814 370M2001 167Q1931 157 1869 192M1849 190Q1762 220 1758 312M1840 145Q1913 157 1947 222M1848 133Q1791 141 1767 193M1699 194Q1700 168 1721 154M1738 282Q1718 285 1705 301M1900 152Q1848 150 1808 183M2002 178Q1975 123 1923 93M1903 121Q1820 155 1807 244M1980 258Q1903 283 1846 226M1706 240Q1732 158 1815 135M1803 265Q1827 310 1877 303M1965 196Q1954 253 1910 290M1694 220Q1688 166 1725 127M1946 211Q1940 113 1846 84M1852 73Q1818 63 1797 92M1861 85Q1787 90 1737 143M1878 101Q1830 111 1818 158M1875 311Q1913 303 1937 273M1937 240Q1975 200 1963 146M1741 101Q1834 93 1898 161M1806 325Q1770 246 1794 162M1703 218Q1782 180 1866 206M1830 327Q1860 275 1847 217M1769 300Q1781 311 1797 310M1983 286Q1947 346 1878 363M1885 346Q1827 373 1771 339M1830 278Q1884 206 1880 116M1926 343Q1984 292 1997 215M1890 217Q1882 303 1813 354M1842 290Q1859 308 1884 305M1736 151Q1726 121 1749 98M1866 302Q1782 309 1712 263M1764 144Q1831 95 1908 124M2008 201Q1919 158 1839 216M1960 107Q1863 108 1828 199M1923 254Q1930 234 1919 215M1775 154Q1791 212 1851 226M1863 191Q1820 221 1807 271M1726 164Q1733 237 1784 288M1816 324Q1831 325 1837 312M1741 223Q1790 244 1839 222M1904 156Q1923 137 1950 136M1739 128Q1760 202 1827 241M1901 117Q1816 81 1732 121M1927 330Q1916 254 1857 203M1901 292Q1946 280 1970 240M1824 146Q1780 182 1790 238M1841 324Q1878 315 1886 277M1784 193Q1737 267 1776 346M1740 209Q1791 168 1856 166M1757 264Q1736 217 1756 170M1756 302Q1755 232 1818 202M1896 92Q1963 120 2003 180M1808 225Q1860 312 1960 296M1889 113Q1947 125 1980 174M1713 232Q1763 167 1845 181M1906 263Q1908 217 1867 197M1926 227Q1981 183 1960 116M1814 161Q1766 188 1753 242M1802 328Q1866 268 1882 182M1825 274Q1913 306 1978 240M1773 181Q1772 99 1846 64M1917 198Q1952 164 1945 117M1707 178Q1693 241 1735 290M1829 326Q1816 280 1836 237M1779 172Q1797 128 1843 117M1791 264Q1797 176 1877 139M1870 266Q1886 227 1858 196M1788 313Q1807 355 1853 360M1849 283Q1819 235 1833 181M1911 130Q1908 160 1884 177M1706 256Q1750 299 1812 294M1731 246Q1774 263 1818 252M1919 355Q1890 379 1853 375M1948 276Q1938 312 1900 319M1849 352Q1821 352 1805 330M1913 293Q1821 297 1754 234M1832 303Q1813 261 1841 226M1865 108Q1911 178 1892 260M1757 239Q1830 276 1909 260M1930 305Q1960 304 1982 282M1855 93Q1893 109 1907 148M1906 294Q1970 262 1988 192M1965 140Q1898 80 1817 121M1949 309Q1917 352 1865 366M1781 227Q1795 282 1851 295M1761 173Q1801 114 1872 110M1802 289Q1778 262 1785 227M1965 217Q1911 167 1838 165M1794 211Q1765 278 1796 344M1722 276Q1761 295 1797 270M1794 147Q1860 155 1896 211M1940 217Q1876 149 1789 181M1801 175Q1801 159 1809 145M1694 194Q1711 119 1781 90M1841 354Q1929 333 1980 258M1729 225Q1780 277 1851 259M1869 267Q1926 256 1940 199M1887 318Q1927 325 1958 298M1745 311Q1710 283 1711 237M1915 77Q1819 99 1797 195M1726 305Q1705 255 1738 214M1858 200Q1872 156 1916 144M1728 191Q1776 138 1848 138M1790 169Q1762 133 1765 86M1986 207Q1952 232 1909 227M1786 287Q1868 278 1898 201M1836 95Q1898 120 1924 181M1790 87Q1735 150 1749 232M1957 175Q1947 238 1891 269M1704 298Q1746 321 1785 292M1934 303Q1879 282 1850 231M1789 373Q1758 319 1783 262M1974 151Q1899 152 1838 195M1853 230Q1799 221 1764 180M1788 220Q1806 170 1858 161M1863 129Q1817 122 1792 161M1784 367Q1727 295 1773 216M1975 124Q1960 167 1918 182M1853 311Q1782 300 1745 238M1937 302Q1901 309 1869 293M1844 223Q1756 245 1693 181M1770 190Q1734 196 1724 230M1859 108Q1850 84 1826 75M1882 176Q1840 159 1797 168M1712 297Q1790 352 1880 321M1713 138Q1769 143 1799 189M1838 229Q1797 277 1734 280M1844 126Q1869 121 1890 134M1714 207Q1797 170 1880 206M1797 115Q1762 141 1765 184M1837 324Q1774 322 1729 277M1902 346Q1963 314 1973 246M1781 277Q1750 281 1732 255M1961 122Q2007 205 1948 279M1832 354Q1893 323 1899 255M1885 133Q1939 193 1913 270M1894 210Q1864 250 1816 238M1722 311Q1811 295 1856 217M1717 180Q1792 144 1873 168M1753 263Q1710 190 1760 122M1858 275Q1790 271 1760 209M1795 114Q1824 100 1850 119M1858 347Q1819 266 1838 178M1848 61Q1778 112 1767 198M1802 372Q1892 363 1916 275M1813 110Q1749 169 1727 253M1765 332Q1772 255 1832 206M1999 193Q1946 248 1874 222M1862 356Q1793 315 1787 235M1712 208Q1772 266 1856 270M1739 317Q1765 368 1822 364M1820 235Q1744 241 1713 311M1991 186Q1986 246 1940 284M1776 88Q1796 66 1825 62M1774 107Q1858 86 1913 152M1980 148Q1942 126 1904 149M1848 192Q1825 139 1856 90M1871 274Q1791 256 1747 189M1900 101Q1929 194 1867 268M1887 169Q1815 129 1737 158M1886 136Q1906 177 1882 217M1891 367Q1937 322 1924 259M1865 108Q1909 175 1881 251M1838 76Q1740 91 1719 187M1704 282Q1698 257 1717 240M1981 221Q2000 191 1978 163M1792 309Q1855 310 1884 254M1987 156Q1990 189 1970 216M1958 268Q1934 219 1879 220M1777 296Q1710 239 1724 152M1829 69Q1895 104 1901 177M1808 336Q1804 313 1819 296M1804 206Q1756 188 1733 140M1926 214Q1946 284 1909 346M1753 169Q1779 148 1813 146M1800 94Q1736 128 1713 198M1761 165Q1759 227 1806 267M1910 305Q1863 354 1796 364M1767 186Q1777 125 1837 106M1878 145Q1899 150 1912 165M1840 325Q1779 346 1721 315M1866 123Q1796 112 1748 163M1765 284Q1823 304 1872 269M1804 326Q1885 284 1902 194M1911 306Q1916 281 1897 266M1778 146Q1731 142 1695 172M1868 291Q1848 337 1799 347M1943 322Q1952 229 1879 173M1904 333Q1973 316 1991 247M1791 209Q1783 166 1821 144M1885 348Q1909 295 1872 251M1930 303Q1888 337 1838 318M1916 94Q1927 152 1903 206M1850 109Q1891 163 1864 225M1991 251Q1972 174 1913 121M2008 231Q1969 258 1922 251M1690 231Q1711 209 1741 215M1773 82Q1825 100 1843 152M1880 192Q1833 179 1791 204M1763 333Q1734 292 1759 248M1815 235Q1798 158 1855 103M1919 250Q1890 203 1835 195M1870 204Q1849 126 1778 87M1889 311Q1865 324 1839 316M1827 174Q1828 210 1849 240M1837 253Q1795 256 1769 222M1775 276Q1831 289 1875 253M1925 81Q1979 130 1960 201M1692 206Q1701 134 1758 88M1844 359Q1897 360 1917 310M1705 283Q1678 228 1711 177M1875 107Q1919 88 1953 122M1879 228Q1911 216 1917 183M1759 143Q1811 152 1827 202M1937 255Q1911 269 1885 256M1855 118Q1847 97 1863 82M1844 209Q1787 168 1717 177M1831 191Q1742 222 1725 314M1893 148Q1920 220 1866 275M1879 129Q1909 165 1890 208M1957 159Q1972 203 1940 237M1806 270Q1750 269 1730 217M1877 184Q1887 219 1862 246M1916 252Q1839 282 1770 235M1903 248Q1880 213 1840 206M1712 217Q1733 132 1807 86M1937 215Q1965 204 1970 174M1874 248Q1901 202 1882 153M1815 271Q1811 236 1842 218M1698 169Q1772 128 1852 154M1886 176Q1856 149 1820 164M1942 175Q1885 123 1815 155M1776 154Q1733 200 1759 258M1976 250Q1999 167 1930 117M1800 93Q1776 148 1812 195M1804 253Q1751 212 1739 146M1902 130Q1876 139 1862 163M1965 271Q1937 291 1907 277M1935 187Q1894 252 1817 259M1898 344Q1840 325 1825 266M1964 240Q1962 150 1895 88M1933 305Q1886 327 1839 304M1728 114Q1783 63 1856 74M1846 96Q1913 170 1868 259M1816 343Q1856 308 1837 258M1905 268Q1958 241 1979 185M1962 197Q1985 217 1985 247M1748 191Q1701 229 1716 287M1739 333Q1734 267 1791 234M1844 128Q1758 127 1692 182M1875 294Q1864 288 1863 276M1847 245Q1892 306 1968 315M1871 306Q1955 258 1959 161M1952 292Q1878 345 1789 328M1814 254Q1787 222 1793 181M1703 284Q1703 256 1726 240M1806 321Q1872 294 1882 224M1711 164Q1736 214 1793 214M1740 290Q1744 261 1769 247M1745 105Q1810 62 1875 104M1957 263Q1908 273 1862 252M1793 74Q1855 52 1910 85M1889 292Q1917 279 1921 249M1720 221Q1756 259 1808 254M1798 145Q1730 152 1714 219M1876 268Q1834 328 1760 335M1857 334Q1838 338 1823 326M1846 114Q1903 164 1884 237M1797 87Q1882 86 1912 166M1707 201Q1782 151 1870 170M1732 283Q1791 335 1870 326M1874 332Q1845 332 1825 312M1930 173Q1960 250 1909 314M1917 97Q1853 124 1845 193M1755 172Q1746 230 1793 265M1986 143Q1961 216 1888 239M1892 242Q1929 215 1920 170M1764 347Q1745 287 1781 236M1860 209Q1855 257 1813 281M1873 206Q1817 197 1786 244M1811 260Q1781 225 1797 182M1779 323Q1745 241 1800 172M1932 324Q1971 309 1983 269M1870 337Q1862 346 1850 348M1835 351Q1808 363 1784 346M1875 129Q1899 165 1888 208M1704 214Q1760 159 1838 159M1777 143Q1732 160 1720 207M1810 313Q1737 313 1700 251M1853 295Q1822 262 1840 221M1867 137Q1910 186 1898 249M1741 294Q1748 324 1779 329M1798 309Q1860 272 1874 201M1754 283Q1737 196 1779 118M1692 247Q1721 327 1792 372M1828 133Q1818 155 1831 176M1857 152Q1829 149 1805 164M1970 127Q1964 170 1921 182M1952 230Q1885 271 1807 261M1981 218Q1951 281 1884 300M1860 173Q1775 148 1715 211M1766 142Q1846 120 1919 158M1834 127Q1901 108 1966 135M1846 213Q1889 294 1840 372M1937 223Q1990 205 1992 148M1815 290Q1885 309 1933 253M1991 180Q1979 252 1925 302M1801 201Q1784 135 1821 79M1929 150Q1942 120 1921 95M1856 160Q1901 176 1914 222M1713 281Q1712 241 1740 215M1863 298Q1936 261 1946 179M1927 157Q1842 161 1782 222M1879 202Q1855 192 1831 203M1803 329Q1761 276 1780 211M1770 194Q1729 246 1763 303M1832 272Q1858 327 1919 329M1864 170Q1918 147 1975 159M1760 257Q1775 189 1837 157M1878 179Q1944 173 1995 216M1870 269Q1927 220 1938 145M1916 172Q1834 145 1774 206M1706 216Q1763 260 1824 221M1799 258Q1848 286 1904 276M1773 128Q1727 183 1748 252M1841 213Q1895 209 1931 249M1951 252Q1935 353 1836 376M1761 179Q1740 174 1721 185M1709 214Q1702 235 1715 254M1691 224Q1739 174 1807 161M1992 169Q1899 151 1832 216M1766 354Q1860 373 1915 295M1877 283Q1915 206 1861 140M1759 210Q1839 160 1927 191M1967 117Q1970 197 1910 248M1804 219Q1750 227 1734 279M1713 182Q1710 221 1738 247M1990 204Q1926 177 1863 204M1916 249Q1904 265 1884 260M1785 161Q1738 213 1746 282M1780 193Q1801 165 1836 163M1773 261Q1762 271 1749 266M1756 332Q1732 304 1729 266M1950 166Q1923 134 1883 146M1763 314Q1846 291 1895 220M1784 274Q1769 327 1811 363M1848 351Q1887 292 1885 221M1847 226Q1871 277 1927 278M1935 202Q1977 247 1954 305M1783 167Q1851 157 1885 217M1829 269Q1917 240 1949 154M1780 231Q1778 291 1811 341M1836 103Q1894 81 1937 126M1687 236Q1722 183 1786 182M1872 361Q1811 306 1806 225M1799 178Q1809 208 1836 225M1815 68Q1866 127 1861 204M1862 76Q1811 72 1786 116M1876 87Q1931 147 1939 229M1925 324Q1910 318 1906 302M1959 116Q1868 109 1798 166M1846 171Q1855 151 1876 147M1786 85Q1774 164 1829 221M1689 203Q1754 133 1848 153M1952 141Q1927 120 1895 132M1887 253Q1938 212 1945 147M1866 166Q1794 218 1781 306M1888 206Q1879 167 1843 150M1739 322Q1740 249 1788 194M1779 177Q1841 146 1893 191M1847 185Q1771 191 1729 255M1898 334Q1850 320 1835 272M1842 198Q1828 156 1860 125M1987 141Q1936 133 1894 165M1706 191Q1737 177 1766 196M1983 272Q1956 317 1905 331M1850 70Q1903 61 1942 98M1829 189Q1871 115 1956 118M1690 213Q1715 305 1808 327M1967 309Q1925 311 1908 273M1909 92Q1877 114 1870 152M1929 227Q1941 225 1946 214M1726 229Q1773 154 1862 153M1760 171Q1792 253 1877 274M1717 219Q1739 277 1802 283M1790 312Q1875 294 1892 208M1900 219Q1950 171 1932 104M1882 184Q1896 172 1898 153M1709 259Q1738 321 1798 355M1869 223Q1852 239 1830 235M1848 268Q1782 220 1757 142M1971 312Q1955 263 1904 251M1693 185Q1709 215 1743 216M1888 77Q1826 129 1833 210M1879 332Q1900 348 1922 334M1689 199Q1699 214 1717 215M1857 344Q1813 319 1820 270M1752 134Q1768 209 1842 230M1922 327Q1885 324 1857 299M1727 205Q1738 243 1778 248M1925 170Q1919 209 1886 229M1913 231Q1951 219 1979 247M1771 265Q1798 321 1857 343M1767 295Q1815 356 1892 365M1847 189Q1823 189 1804 204M1986 183Q1982 124 1935 90M1704 179Q1709 277 1799 317M1719 141Q1789 140 1822 202M1702 258Q1732 194 1793 159M1793 242Q1830 260 1867 241M1823 234Q1896 240 1950 191M1910 236Q1914 315 1861 374M1943 262Q1895 284 1852 253M1889 82Q1971 110 1996 193M1967 249Q1933 223 1890 226M1944 335Q1856 339 1795 275M1765 217Q1793 142 1870 119M1895 248Q1894 213 1869 189M1877 275Q1908 239 1887 197M1795 158Q1768 210 1806 255M1841 98Q1886 143 1893 206M1873 279Q1897 265 1897 238M1866 307Q1922 267 1938 199M1694 250Q1692 188 1744 155M1879 219Q1871 163 1829 126M1779 207Q1833 162 1902 178M1904 300Q1948 258 1924 202M1955 139Q1992 202 1968 270M1946 286Q1969 259 1954 227M1845 255Q1894 277 1939 247M1811 306Q1804 337 1827 357M1964 221Q1928 196 1891 218M1729 305Q1739 210 1830 178M1871 275Q1833 325 1771 317M1807 204Q1785 182 1754 190M1709 229Q1752 306 1838 324M1838 316Q1914 326 1979 287M1858 228Q1943 244 1958 328M1787 276Q1801 222 1854 204M1777 342Q1714 291 1711 211M1824 283Q1853 283 1868 259M1814 94Q1897 59 1966 117M1822 176Q1851 194 1853 229M1856 234Q1824 272 1777 285M1820 70Q1780 65 1752 94M1795 241Q1778 243 1766 231M1949 259Q1971 297 1950 336M1870 143Q1854 151 1848 169M1843 374Q1807 384 1780 360M1911 114Q1920 210 1838 261M1946 330Q1871 341 1814 290M1883 286Q1968 246 1968 152M1823 222Q1838 172 1880 141M2003 202Q1954 276 1866 264M1996 158Q1944 215 1867 221M1778 226Q1860 262 1944 228M1725 269Q1706 252 1714 228M1756 312Q1732 244 1773 185M1721 142Q1714 184 1744 215M1977 176Q1984 263 1908 305M1875 232Q1902 228 1919 207M1899 186Q1924 279 1845 335M1888 313Q1903 252 1872 197M1750 93Q1823 90 1877 138M1846 169Q1812 155 1777 163M1914 351Q1932 344 1942 327M1960 225Q1954 245 1935 254M1718 209Q1783 257 1857 227M1798 339Q1842 366 1892 357M1777 244Q1837 284 1899 246M1984 262Q1983 212 1942 183M1875 240Q1913 192 1888 136M1895 269Q1934 235 1927 184M1811 274Q1841 267 1857 241M1829 168Q1749 226 1762 324M1886 227Q1892 216 1885 205M2007 219Q1970 196 1927 205M1871 100Q1827 130 1820 182M1982 245Q1976 271 1952 282M1845 99Q1802 147 1799 211M1891 155Q1906 190 1892 227M1922 156Q1960 180 1963 226M1838 110Q1872 164 1846 222M1930 235Q1958 190 1952 137M1967 159Q1924 241 1832 238M1790 352Q1825 367 1859 352M1720 178Q1721 240 1761 288M1874 338Q1809 299 1812 224M1897 330Q1825 330 1798 263M1854 98Q1901 99 1937 128M1755 105Q1842 136 1855 228M1771 292Q1840 337 1917 310M1861 283Q1883 297 1909 290M1846 132Q1817 209 1842 287M1698 250Q1720 158 1813 147M1759 227Q1762 190 1797 179M1945 233Q1962 166 1930 105M1858 328Q1911 302 1936 247M1856 150Q1825 132 1790 140M1865 265Q1769 282 1707 208M1909 118Q1852 103 1814 147M1917 340Q1906 265 1847 217M1720 180Q1781 132 1853 159M1802 181Q1777 202 1771 235M1879 280Q1919 209 1885 135M1809 314Q1874 362 1949 332M1864 233Q1894 232 1908 205M1919 313Q1852 298 1841 231M1907 218Q1921 294 1883 362M1886 323Q1831 361 1766 347M1720 193Q1738 154 1782 157M1726 216Q1722 232 1729 247M1851 134Q1899 155 1903 207M1888 149Q1966 174 1993 251M1805 125Q1828 98 1864 97M1896 282Q1912 208 1860 154M1925 135Q1911 175 1874 196M1898 333Q1908 240 1832 185M1897 335Q1840 367 1775 354M1713 160Q1705 202 1741 226M1803 84Q1866 116 1881 184M1692 209Q1727 167 1781 177M1781 143Q1852 96 1930 129M1853 114Q1902 85 1948 119M1797 310Q1753 255 1789 195M1955 160Q1949 110 1908 81M1866 106Q1803 149 1802 226M1874 291Q1807 278 1772 220M1806 286Q1770 221 1808 157M1872 296Q1930 318 1980 281M1881 338Q1931 277 1898 207M1946 136Q1988 155 2001 199M1769 138Q1783 116 1809 120M1742 178Q1778 225 1838 221M1898 300Q1942 227 1910 147M1890 87Q1945 128 1966 193M1773 312Q1767 277 1795 254M1824 209Q1770 162 1784 92M1736 109Q1730 178 1775 230M1878 267Q1902 297 1891 334M1876 240Q1834 285 1775 268M1849 283Q1840 326 1803 348M1784 80Q1801 85 1806 102M1915 191Q1905 230 1869 248M1775 149Q1737 140 1702 158M1916 205Q1923 229 1904 246M1815 251Q1781 268 1783 305M1748 300Q1831 348 1909 291M1796 109Q1871 134 1878 213M1797 268Q1793 228 1822 199M1798 251Q1853 293 1922 297M1951 129Q1877 131 1841 197M1794 271Q1820 306 1864 303M1929 292Q1845 327 1778 266M1848 143Q1936 162 1977 242M1916 163Q1961 230 1934 307M1920 93Q1864 107 1830 154M1746 267Q1824 268 1878 211M1966 282Q1941 201 1865 165M1806 155Q1799 115 1760 104M1850 225Q1845 148 1778 109M1920 272Q1874 346 1791 374M1894 215Q1944 214 1969 257M1821 272Q1849 256 1852 223M1844 73Q1868 103 1851 136M1697 231Q1750 305 1841 298M1884 306Q1892 334 1920 338M1882 77Q1925 122 1904 180M1791 227Q1835 186 1890 211M1695 259Q1689 247 1696 235M1855 303Q1820 298 1813 264M1951 189Q1976 244 1964 302M1725 163Q1761 150 1789 177M1772 104Q1787 94 1805 94M1839 242Q1800 213 1786 167M1889 328Q1838 331 1811 287M1943 326Q1855 298 1817 214M1767 194Q1783 217 1810 223M1836 157Q1825 174 1829 195M1774 226Q1758 193 1767 157M1822 304Q1783 298 1756 270M1940 266Q1965 259 1980 238M1967 283Q1947 253 1912 254M1912 171Q1839 139 1765 169M1893 281Q1854 323 1800 306M1708 282Q1729 237 1778 230M1905 352Q1874 344 1869 313M1847 125Q1913 120 1950 175M1804 166Q1854 169 1885 208M1716 179Q1697 254 1749 312M1794 206Q1858 175 1925 201M1805 119Q1884 124 1947 172M1839 289Q1830 271 1840 254M1989 196Q1936 237 1873 216M1940 198Q1919 221 1888 223M1993 165Q1993 178 1981 184M1937 264Q1908 186 1827 170M1937 281Q1910 281 1895 258M1843 214Q1836 180 1811 157M1865 320Q1887 300 1880 271M1758 358Q1726 309 1753 257" stroke="#F52030" stroke-width="0.65" opacity="0.85" stroke-dasharray="12 1"/>
<path d="M1766 144l-16 35 73 0-40 68 7-66 55 9-1 7 85-10-3 58-61-17-85 16 65-19 38-37 0 49-63 3 21 79 40-10-58-45 28-20-4 25 1 38-4-56-21-46 65-4-37 19 0-9 35 55-8 43-93-14 75 32 27-11-56-23 20-52 63-38-32 61 20 44-14-37-23-23-32-6-42 38 20 6 75-13 41-9-54-41-28-17-44 39 23-3 28-64-60-42 10-7 5 47 27 39 14-5 8 88 3-63-8-23-3 0 60-27-60 37 47-35 33 44-32-18-67-29-6-21-39 61 32-38 5-35 82-20 9 91-55-42-81-27 104 0-23 54-23-44-66 44 32 10 67 42-71-33 18-27 3-26 43 24-22-20 94 18-95 9-13 80-12 31 29 2-11-90 8 15 23-25-48-52 31 39 15 63 83-26-75-8-20 49 50-26 6-91-33-17-15 47 49 3-31-70-27 11-36 60 9 76 1-65-16-21-58 31 49-29 67-23 17-49-4 29 40 72-74 21-59-11-37 3 37-67 64-41 19 91-75 5-9 28 88 7-9-45-19 22 36-8-25-6-60 45 50 0-3 12 45-20 12-15-12-19-40-4 22 16 49 25-25-84-71 30 63 40 1-60-56-33 21 30-13 43-8 45-24 49-4-27-22-86 37 27 67 6-8 36-19-52-21 78-63-22 13-29 90-20 28 37-36-50-10-83 4 72 51-59-8 47-46-43-87 22 32 21 25 31-46-50-9 33 85-5 0-30 32 66-38 56 28-55-16-47 13-39 67 17-43-39-11 60 16-48-73-21-12-4-4 33-9 49-9-53 13 0-2-9 36 31 16 41 61-50 31 67-74 22 6-66 1 70 36 23-10-32 15-1-81-14-35-19 65-33-41-42-71 15 74 32 4-46 62 39-75 10 35 9-33-11 43-2-47 11 3 41-38-68-2 49 35-49 13 49 80-14-74 27 22-7-54 24 39-72-6 85 37-39 52-56-66-21-82 4 75-21 32 3-90 12 15 90-2-99-52 18 39-13 31 29 29 14-41-42-25 48 44-34-36-29 18 60 5 22-41-23 35 26 10 21-29-42 20 17-12-36 7-27 23 45 4 44 25 45-22-21-36 52 88-19-50-15-22 53 33-58-18-6-53-43 17-46 18-23 44 17 16 9-4-10 11 44-5-51-50 41 3 77 7-79-86 9 94-2 13-20 62-16 21 47-5 23-5-1-55-30 5-55 17 82-29 64-10-20 27 23 20-74-25 8-72-30 16 34 80-6-32 18-45-34 21-70-7-22 15 2 59 23-81 14 21 49-67-19-46 43 71 0 23-64 84-15 6 65 14-27-6-9-61 45-13 11 1 58-71 6 39-52 1-43 36-23-51 40-65 44 68 3 10 33-22-29-1 15 83-29-90-17 16 33 32 17 7-101 57-6-28-60-15 78 16-38-57 30-81-3-12 30 39-26-22-42 61 38 24-16 47 59-52 21 50-22-25-75 32 6 43 44-13-61 13 79-41 7-94 10 50 24-72 35 62 0-78-14 3-81 56-7-38-57 64 8-3 66-83-4 7-52 16 30 55 18-107 2 82 8 9 94-22-15 26-81-48-64 62-47 9 44-86 24-9 20 35 50 48-6 17 72-51-21 46 9 6-34-1-46 32-55 9 51 7-5-71 25 91 6-1-70-80-1 84 12-37 60-44-41-54 50 32-19 6 30-1-44-14-12 7-7-46 55 33-58 69-19-9 38 9-26 51-30-23 76-96 3 41-39 64 7-87 11 27-25-81-9 45-38 33 56 31 61-20-80-32 54 35 41-5-68-6-92-60 7 17 67-10 39-47-56 79 14-75 12 79-17-49-3 0-35 110 1 31 66-35-53-19 37 45-30-51 52-45-32 43-36-1 56-19 18 67 20 3-35 8 48-150-47-11-1 54 12 82 9-52 52 45-55-68-27-7 61-45-64-14-3 92-9 58-28-17 41 50 46-47 44 26-59-91 11 7-22-10-57 19 49-15-60 1 62-5-74-39 31" stroke="#FF1828" stroke-width="0.6" opacity="0.7"/>
<path d="M1862 202l-46-16 53-1 18 8-12-4 12 60 10-37-16 12-41-20 46 0-34 29-41 28 24-13 10-20-18-19 12 18-13-14 0 14-12-48 52-2-15 53 39 13-5-30-4 52-5-38-27-9-9 10-29-8-6-30 63 3 10 17-5 18 12 33-50 16-9-11-20-24 14-22 14-41 18 17 31 32-40-6 56 13-25 8-13-35-31 12 23-35-4 50-7-11 16 1 21-14 18-3-24 9-32-16 2 70-31-12 45 5 44-25-6-8-49-18-3-3 14 46-5-14 44-23-46-14-7 35 40 25-17-54-20 29-5-33-13 29-16 31 8-46-6-21 3 25-3-10 31-3 53-16-6 3-45 21 26 42-34-25 11-53 44 11-32 18-65 4 12-36 14-15 0 5 11 56 13-2 25 22 14-45-44 19-25 30-4-43 61-7-2 18-43-20 9 18-11 41 28-44-49 3 12 53-14-33 17-37 13 10-46 7 0-1 97 30-41 10-5-67 0 39-2-27 21-2-34-9-30 23 53 7 30 4-21 28-14 5-35 3 3-62-1 38-9-51 2 51-2-12 33-30 56 14-26 9 12-48-19 28-38-10 42-22 12 30-18 16-36 30 24-25-4 50 9-46 30-14-37 12 17 38-28-16-3 3 16-50 26-12 8 24-45-11 11 19-10-12 6-26 32-9 12 41-48-4-25-17 40 14-2 47 3-22-49 1 57 2-31 13 1-27-42-5 30 19-11-16 5-32-13 51 53 12 17-54-41 14 46-2 32 6-61-9 20 16 0-27 13-2-66-5 12 32 37-6-38 17-27-18 47 5-21 21 41-12-16 11-24 13 7 5-20-50 15-29 31 39-2 46 43 0-4-6-6-16-29-1-21-30 32 18-14 15 23 27-64-2 22-50 24 23-20 25 3-64-32 16-8 45 11-28 59-2-33 4 26 15-56-7 56 6 38-26-55-13-9 23 29 11-29 33-12-1 21-20 29-22 4 8 8-55-51-10 32-5 3 15-25 29 32 16 19-15-29-16-43-9-2 58-12 12 9 6 10-45 20-10-21-26 42 13-1 34-36-31 30 24 11 8-37 1 9-20 7 16 28-41-11-17 0 39-7 10-16 40 42-19-29 19-1-68-3 30-15-11 9-30-23 4 10-19-9 8 12 5-14 17-14 27 3-36 29 28-42 15 14 30-23-34 70 0-34 28 8-1 8-45 7 21-54-12 12 25-11-52 8 56-11-38-2 48 31-15 10 35-5 0-8-20 17 25-12-53-30-26 21 10 10-22 31 22 29 30-7 4-11-26 33 10-10-6-7-35-37-25-11 53 6 39-39-2 15-28-1 19 38-2-24 20 32 10-4-59 26 38 6-15-39-5-40 17 43-12 36-29-11 33-4-2 8-29-14-35 4 67-5-40 11 46-6-13 7 18-6-29-40 10 21-25 13 3-11 40-10-36 2 68-10-45-24-10 14-34 33 30 10 10-9-30" stroke="#FF1020" stroke-width="0.8" opacity="0.8"/>
<g stroke-linecap="round" fill="none">
<path d="M1928.9 253.5h0M1803.2 282.3h0M1843.9 357.9h0M1804 335.7h0M1863.6 139.3h0M1865.5 294.9h0M1953.6 266h0M1723 233.5h0M1932.5 157.4h0M1826.1 221.2h0M1966.2 314.1h0M1808.3 299.6h0M1873.5 102.7h0M1837.1 246.4h0M1983.1 139.7h0" stroke="#1E5A3E" stroke-width="1"/>
<path d="M1919.6 134.8h0M1824.8 299.4h0M1915.4 182.3h0M1854.1 161.1h0M1938 302.6h0M1728.1 123.7h0M1916.1 212.3h0M1731.3 211h0M1888.8 315.6h0M1887.2 176.5h0M1890 292.5h0M1907.3 156.8h0M1918.8 292.1h0M1909 183.5h0M1828.7 161.1h0M1867 323.3h0M1945.3 290h0M1895.8 244.6h0M1843 126h0M1878.4 125.3h0M1855.4 279.8h0M1810.4 166.9h0M1728.7 326.7h0M1883.8 196.2h0M1868 224.2h0M1804.6 141.6h0M1856 292.3h0M1801.2 297.6h0M1793.9 318.8h0M1808 161.4h0M1936.8 133.9h0M1985.6 253.1h0M1709 212.1h0M1880.7 202.1h0M1880.1 284.1h0M1776.8 86.9h0M1807.3 340.4h0M1959.3 226.5h0M1784.7 127.3h0M1779.4 309.2h0M1895.9 274.4h0M1903.2 314.3h0M1983.4 192.4h0M1876.1 354.2h0M1860.9 200.9h0M1888.4 74.1h0M1849 219.1h0M1874.5 316h0M1917.8 271.1h0M1835.2 183.7h0M1920.6 351.2h0M1816.3 166.3h0M1930.7 262.4h0M1892.5 336.5h0M1806.2 314h0M1797.8 161.3h0M1842.6 252.4h0M1844.1 205.6h0M1691.6 259.6h0M1847.6 273.6h0M1784.8 139.1h0M1835.7 86.3h0M1901.1 237.6h0M1887.5 144.7h0M1853.9 277h0M1953.7 290h0M1823.3 290.9h0M1717.4 157.7h0M1764.1 272.9h0M1724.6 321.7h0M1936.3 211.5h0M1700.4 198.4h0M1806.6 205.1h0M1763.1 287.3h0M1840 249.9h0M1866.4 133.8h0M1816.2 153.3h0M1818.1 236.9h0M1827 131.2h0M1815.7 245.7h0M1954.3 207.2h0M1877.1 118.5h0M1714.3 217.4h0M1877.6 167.5h0M1883 190.7h0M1980.1 187.8h0M1758.9 177.8h0M1737.9 164.9h0M1930.4 211h0M1916.2 79h0M1813.7 257.3h0M1771 173.5h0M1998.2 205.6h0M1923.6 90.2h0M1937.7 181.2h0M1814.7 185.4h0M1989.3 164.8h0M1857.2 187.9h0M1774.8 158.6h0M1806.8 263.7h0M1866.9 356.1h0" stroke="#1E5A3E" stroke-width="1.5"/>
<path d="M1769.9 118.8h0M1815.2 145.5h0" stroke="#90500F" stroke-width="1.5"/>
<path d="M1863.2 170.1h0M1876.9 287.1h0M1752.1 222.2h0M1917.8 230h0M1920.8 254h0M1884.1 178.6h0M1765.1 104.3h0M1910.4 236.4h0M1747 126.9h0M1815.4 140.8h0M1876.1 80.2h0M1850.6 284.4h0M1854.1 316.9h0M1886.3 223.3h0M1974.3 280.2h0M1902.1 236.1h0M1831.5 329.6h0M1917.6 309.3h0M1946.7 166.2h0M1886.4 105.3h0M1923.8 290.3h0M1986.4 180.8h0M1992.1 170.7h0M1718.2 233.6h0M1799.6 238.6h0M1817.6 299.5h0M1778.8 240.4h0M1838.5 178.7h0M1921.8 264.4h0M1796.8 150.5h0M1760.5 181.8h0M1912.3 100.4h0M1861.9 100.4h0M1709.1 276.3h0M1748.2 141.3h0M1752.8 353.3h0M1821.6 278.9h0M1738.3 261.2h0M1894.9 334.2h0M1914.6 110.3h0M1928.7 242.5h0M1834.1 266.2h0M1872 287.3h0M1810.3 227.8h0M1852.8 271.1h0M1758.2 236.7h0M1808.3 100.5h0M1890.2 141h0M1767.3 112.4h0M1744.4 212.7h0M1825.1 186.1h0M1890.8 134.4h0M1920.4 172.6h0M1774 214.3h0M1833.4 135.8h0M1896.4 331h0M1845.6 246.9h0M1847.9 98.4h0M1911.4 318.2h0M1769.4 301.1h0M1825.9 228.4h0M1814.1 283.3h0M1757.3 199.4h0M1955.2 228.4h0M1762.4 106.6h0M1804.8 375.9h0M1799.7 201.8h0M1734.2 198.9h0M1853.7 122.7h0M1837.4 174.1h0M1829 181.9h0M1774.3 141.8h0M1894 150.8h0M1945.5 248.8h0M1906.8 184.1h0M1879.5 159.3h0M1946.4 270.2h0M1774.4 141.9h0M1926.6 314.1h0M1733.3 281.2h0M1701.9 254.7h0M1785 257.4h0M1821.8 96h0M1758.8 349.4h0M1820.7 372.2h0M1882.8 198.8h0M1817.9 179.2h0M1937 184.6h0M1893 179.8h0M1988.1 203.9h0M1821.7 195.5h0M1856.9 95.8h0M1880.9 310.8h0M1833.7 110.6h0M1917.4 155.6h0M1914.1 234.2h0M1801.4 175.2h0M1857.2 113.9h0M1906 335.2h0M1851.1 228.9h0M1912.8 270.2h0M1838.7 318.1h0M1756.8 102.5h0M1874.4 329.3h0" stroke="#3C9D6C" stroke-width="2"/>
<path d="M1803.1 79.2h0M1967.8 147.4h0M1833.9 116.1h0M1861.9 371.2h0M1714.4 225.6h0M1871.9 304.1h0" stroke="#FA8C1E" stroke-width="2"/>
<path d="M1849 266.4h0M1879.7 235.2h0M1841.1 219.1h0M1705.9 154.9h0M1992.8 160.2h0M1850.5 155.4h0M1725.4 224h0M1689.6 222.9h0M1966.2 186.6h0M1904 178.9h0M1793.8 113.5h0M1932.1 88.4h0M1906.9 136.5h0M1803.4 337h0M1842.4 111.8h0M1877.3 72.4h0M1748.7 213.2h0M1720.7 233.3h0M1782.8 253.9h0M1783.5 294.3h0M1801.7 287.6h0M1901.9 346.7h0M1922.7 103.3h0M1761.8 293.1h0M1873 193.7h0M2001.2 226.4h0M1842.6 267.6h0M1749.2 170h0M1943.7 108.7h0M1775.8 138.5h0M1866.5 242.9h0M1901.1 278.9h0M1781.2 201.7h0M1967.2 281.4h0M1900.6 161.6h0M1883.7 280.6h0M1714.6 193.3h0M1955.8 220.3h0M1736.6 274.2h0M1749.4 185.7h0M1822 179.9h0M1870.1 220.1h0M1829.1 115.7h0M1828.3 222h0M1969.3 293.5h0M1802.6 78.6h0M1711.4 146.8h0M1819.4 191.3h0M1824.7 232.3h0M1865.3 141.9h0M1802.5 254h0M1878.9 227.3h0M1699.8 261.9h0M1754 162.3h0M1906.5 249.4h0M1935.9 242.1h0M1741.3 168h0M1803.2 149.4h0M1983.2 276.4h0M1792 159.1h0M1903.2 115.7h0M1966.1 124.5h0M1854.7 171h0M1840.4 119.2h0M2005.8 204h0M1862.7 254.8h0M1820.1 186.1h0M1770.8 143.4h0M1991.4 152.2h0M1944.5 222h0M1753.6 145h0M1917.4 136.4h0M1965.5 192.6h0M1870.5 255.2h0M1973.9 194h0M1922.7 165.5h0M1861.8 313.9h0M1954 217.4h0M1765.6 171.9h0M1750.5 300.8h0M1758.6 137.9h0M1738 280.4h0M1848.9 132.2h0" stroke="#3C9D6C" stroke-width="2.5"/>
<path d="M1878.1 189.8h0M1937.2 318h0M1715 265.5h0M1924 219.3h0" stroke="#FA8C1E" stroke-width="2.5"/>
<defs><path id="s5_7" d="M1728.1 127.2h0M1875.5 362h0M1700.8 218.6h0M1784.6 304.2h0M1929.4 287h0M1907.1 242.8h0M1807.4 180.3h0M1952.3 255.7h0M1940.8 235h0M1952.4 167.6h0M1931.1 149.2h0M1754.3 281.9h0M1903.1 216.8h0M1764.3 224.3h0M1890.8 125.5h0M1832.8 171.1h0M1812 277.4h0"/></defs>
<use href="#s5_7" stroke="#1E5A3E" stroke-width="3.4"/>
<use href="#s5_7" stroke="#3C9D6C" stroke-width="2.6"/>
<defs><path id="s5_8" d="M1740.8 134.8h0M1973.1 167.9h0M1928 280.5h0M1942.8 287.4h0M1894.1 320.7h0M1785.9 348.5h0M1892.1 240.2h0M1845.7 271.4h0M1887.1 157.7h0M1942.3 179.8h0M1888.6 185.3h0M1793.1 163.6h0M1800.7 308.9h0M1785.2 175.9h0M1840.9 181.7h0M1899.1 225h0M1814.4 283.7h0M1933.9 238.9h0M1792 154.1h0"/></defs>
<use href="#s5_8" stroke="#1E5A3E" stroke-width="3.9"/>
<use href="#s5_8" stroke="#3C9D6C" stroke-width="3.1"/>
<defs><path id="s5_9" d="M1802.4 161.3h0M1844.2 104.8h0M1762.4 84.9h0M1762.2 121.3h0M1880.1 162.1h0M1893.4 162.1h0M1959.1 204.8h0M1935.6 260.9h0M1761.7 277.4h0M1803.2 290.2h0M1808.3 309.3h0M1909.4 212.2h0M1814.1 259.6h0M1817.7 273.6h0"/></defs>
<use href="#s5_9" stroke="#1E5A3E" stroke-width="4.4"/>
<use href="#s5_9" stroke="#3C9D6C" stroke-width="3.6"/>
<defs><path id="s5_10" d="M1822.3 154.4h0M1872.5 92h0M1883.4 102.7h0M1897.4 148.6h0M1900.7 191.9h0"/></defs>
<use href="#s5_10" stroke="#1E5A3E" stroke-width="4.9"/>
<use href="#s5_10" stroke="#3C9D6C" stroke-width="4.1"/>
<defs><path id="s5_11" d="M1792.2 281.2h0M1755.1 200.3h0M1824.8 140.9h0M1806.3 296.5h0"/></defs>
<use href="#s5_11" stroke="#1E5A3E" stroke-width="5.4"/>
<use href="#s5_11" stroke="#3C9D6C" stroke-width="4.6"/>
<defs><path id="s5_12" d="M1816.2 247.4h0M1851.8 251.2h0M1878.1 239.2h0M1771.1 226.5h0M1794 117h0"/></defs>
<use href="#s5_12" stroke="#1E5A3E" stroke-width="5.9"/>
<use href="#s5_12" stroke="#3C9D6C" stroke-width="5.1"/>
<defs><path id="s5_13" d="M1799.4 190.8h0M1868.1 277.9h0M1747.4 215.3h0M1821 107.3h0"/></defs>
<use href="#s5_13" stroke="#1E5A3E" stroke-width="6.4"/>
<use href="#s5_13" stroke="#3C9D6C" stroke-width="5.6"/>
<defs><path id="s5_14" d="M1807.5 210.4h0M1789.2 205.4h0M1778.5 181.9h0M1878.8 297.5h0M1791.7 265.2h0M1857.4 155.9h0"/></defs>
<use href="#s5_14" stroke="#1E5A3E" stroke-width="6.9"/>
<use href="#s5_14" stroke="#3C9D6C" stroke-width="6.1"/>
<defs><path id="s5_15" d="M1870.9 264.7h0M1857.7 268.3h0M1867.4 291.9h0M1833 313.6h0"/></defs>
<use href="#s5_15" stroke="#1E5A3E" stroke-width="7.4"/>
<use href="#s5_15" stroke="#3C9D6C" stroke-width="6.6"/>
<defs><path id="s5_16" d="M1816.2 202h0M1906.9 200.8h0"/></defs>
<use href="#s5_16" stroke="#1E5A3E" stroke-width="7.9"/>
<use href="#s5_16" stroke="#3C9D6C" stroke-width="7.1"/>
<defs><path id="s5_17" d="M1896.2 208.7h0"/></defs>
<use href="#s5_17" stroke="#1E5A3E" stroke-width="8.4"/>
<use href="#s5_17" stroke="#3C9D6C" stroke-width="7.6"/>
<defs><path id="s5_18" d="M1821.5 177.3h0M1851.8 197h0M1897.9 183.7h0M1880.4 270.6h0"/></defs>
<use href="#s5_18" stroke="#1E5A3E" stroke-width="8.9"/>
<use href="#s5_18" stroke="#3C9D6C" stroke-width="8.1"/>
<defs><path id="s5_19" d="M1867.4 219.9h0M1794 252.5h0M1805 198.2h0M1890.6 229h0M1889.5 263.4h0M1855.4 282h0"/></defs>
<use href="#s5_19" stroke="#1E5A3E" stroke-width="9.4"/>
<use href="#s5_19" stroke="#3C9D6C" stroke-width="8.6"/>
<defs><path id="s5_20" d="M1831.7 220.6h0M1794.5 240.2h0"/></defs>
<use href="#s5_20" stroke="#1E5A3E" stroke-width="9.9"/>
<use href="#s5_20" stroke="#3C9D6C" stroke-width="9.1"/>
<defs><path id="s5_21" d="M1897.9 254.5h0"/></defs>
<use href="#s5_21" stroke="#1E5A3E" stroke-width="10.4"/>
<use href="#s5_21" stroke="#3C9D6C" stroke-width="9.6"/>
<defs><path id="s5_22" d="M1838.9 243.6h0"/></defs>
<use href="#s5_22" stroke="#1E5A3E" stroke-width="10.9"/>
<use href="#s5_22" stroke="#3C9D6C" stroke-width="10.1"/>
<defs><path id="s5_23" d="M1875.8 199.8h0M1856.4 217.3h0M1867.9 232.1h0M1822.8 212.5h0M1814.7 232.1h0M1830.4 182.9h0"/></defs>
<use href="#s5_23" stroke="#1E5A3E" stroke-width="11.4"/>
<use href="#s5_23" stroke="#3C9D6C" stroke-width="10.6"/>
<defs><path id="s5_24" d="M1814.7 219.9h0M1794.8 227.5h0"/></defs>
<use href="#s5_24" stroke="#1E5A3E" stroke-width="11.9"/>
<use href="#s5_24" stroke="#3C9D6C" stroke-width="11.1"/>
<defs><path id="s5_25" d="M1864.8 207.9h0M1857.7 229.5h0"/></defs>
<use href="#s5_25" stroke="#1E5A3E" stroke-width="12.9"/>
<use href="#s5_25" stroke="#3C9D6C" stroke-width="12.1"/>
<defs><path id="s5_26" d="M1870.7 191.3h0"/></defs>
<use href="#s5_26" stroke="#1E5A3E" stroke-width="14.9"/>
<use href="#s5_26" stroke="#3C9D6C" stroke-width="14.1"/>
</g>
</g>
<text x="157" y="40.5" text-anchor="middle" font-weight="bold" fill="#70AD47" font-size="29.8">TP</text>
<text x="490" y="40.5" text-anchor="middle" font-weight="bold" fill="#ED7D31" font-size="29.8">CTP</text>
<text x="814.7" y="40.5" text-anchor="middle" font-weight="bold" fill="#FFC000" font-size="29.8">FP</text>
<text x="1151" y="40.5" text-anchor="middle" font-weight="bold" fill="#5B9BD5" font-size="29.8">CFP</text>
<text x="1512" y="40.5" text-anchor="middle" font-weight="bold" fill="#D17DAB" font-size="29.8">0-10 cm</text>
<text x="1855.7" y="40.5" text-anchor="middle" font-weight="bold" fill="#96D4E6" font-size="29.8">10-20 cm</text>
<path d="M1329.2 20L1329.2 382" stroke="#6E6E6E" stroke-width="1.7" stroke-dasharray="9.8 8.25" stroke-dashoffset="5.1"/>
<text x="5.5" y="35.3" font-weight="bold" font-size="50.5">A</text>
<text x="7" y="438" font-weight="bold" font-size="48">B</text>
<text x="1558" y="438" font-weight="bold" font-size="48">C</text>
<text x="1558" y="899" font-weight="bold" font-size="48">D</text>
<rect x="118" y="535" width="36.4" height="212.2" fill="#70AD47"/>
<rect x="164.8" y="448" width="36.4" height="299.2" fill="#ED7D31"/>
<rect x="211.6" y="526.8" width="36.4" height="220.4" fill="#FFC000"/>
<rect x="258.4" y="434.2" width="36.4" height="313" fill="#5B9BD5"/>
<rect x="305.2" y="690" width="36.4" height="57.2" fill="#D17DAB"/>
<rect x="352" y="650.3" width="36.4" height="96.9" fill="#96D4E6"/>
<path d="M299.6 418L299.6 763.2" stroke="#484848" stroke-width="1.6" stroke-dasharray="9.5 8.5" stroke-dashoffset="3.8"/>
<path d="M108.5 418V763.2H398" fill="none" stroke="#000" stroke-width="2.2" stroke-linejoin="miter"/>
<text transform="translate(99.7 756.5) scale(0.925 1)" text-anchor="end" font-size="27">0.00</text>
<text transform="translate(99.7 671.5) scale(0.925 1)" text-anchor="end" font-size="27">0.01</text>
<text transform="translate(99.7 586.5) scale(0.925 1)" text-anchor="end" font-size="27">0.02</text>
<text transform="translate(99.7 501.5) scale(0.925 1)" text-anchor="end" font-size="27">0.03</text>
<path d="M103.3 747h4.2M103.3 662h4.2M103.3 577h4.2M103.3 492h4.2M136.2 764.2v4.2M183 764.2v4.2M229.8 764.2v4.2M276.6 764.2v4.2M323.4 764.2v4.2M370.2 764.2v4.2" stroke="#333" stroke-width="2.1" fill="none"/>
<text transform="translate(135.7 770.2) rotate(-45) scale(0.925 1)" text-anchor="end" font-size="27" dy="0.72em">TP</text>
<text transform="translate(182.5 770.2) rotate(-45) scale(0.925 1)" text-anchor="end" font-size="27" dy="0.72em">CTP</text>
<text transform="translate(229.3 770.2) rotate(-45) scale(0.925 1)" text-anchor="end" font-size="27" dy="0.72em">FP</text>
<text transform="translate(276.1 770.2) rotate(-45) scale(0.925 1)" text-anchor="end" font-size="27" dy="0.72em">CFP</text>
<text transform="translate(327.9 768.2) rotate(-45) scale(0.925 1)" text-anchor="end" font-size="27" dy="0.72em">0-10  cm</text>
<text transform="translate(379.7 767.2) rotate(-45) scale(0.925 1)" text-anchor="end" font-size="27" dy="0.72em">10-20 cm</text>
<text transform="translate(46 590) rotate(-90) scale(0.985 1)" text-anchor="middle" font-size="30">Density</text>
<rect x="499.2" y="674.4" width="37.2" height="26.4" fill="#70AD47"/>
<rect x="547.2" y="686" width="37.2" height="14.8" fill="#ED7D31"/>
<rect x="595.2" y="678.8" width="37.2" height="22" fill="#FFC000"/>
<rect x="643.2" y="690" width="37.2" height="10.8" fill="#5B9BD5"/>
<rect x="691.2" y="441.2" width="37.2" height="259.6" fill="#D17DAB"/>
<rect x="739.2" y="434.4" width="37.2" height="266.4" fill="#96D4E6"/>
<rect x="499.2" y="710.4" width="37.2" height="41.4" fill="#70AD47"/>
<rect x="547.2" y="710.4" width="37.2" height="41.4" fill="#ED7D31"/>
<rect x="595.2" y="710.4" width="37.2" height="41.4" fill="#FFC000"/>
<rect x="643.2" y="710.4" width="37.2" height="41.4" fill="#5B9BD5"/>
<rect x="691.2" y="710.4" width="37.2" height="41.4" fill="#D17DAB"/>
<rect x="739.2" y="710.4" width="37.2" height="41.4" fill="#96D4E6"/>
<path d="M685.2 422L685.2 764.8" stroke="#484848" stroke-width="1.6" stroke-dasharray="9.5 8.5" stroke-dashoffset="3.8"/>
<path d="M489 422V764.8H786" fill="none" stroke="#000" stroke-width="2.2" stroke-linejoin="miter"/>
<text transform="translate(480.2 761.5) scale(0.925 1)" text-anchor="end" font-size="27">0.0</text>
<text transform="translate(480.2 722.5) scale(0.925 1)" text-anchor="end" font-size="27">0.5</text>
<text transform="translate(480.2 697.1) scale(0.925 1)" text-anchor="end" font-size="27">2.5</text>
<text transform="translate(480.2 648.3) scale(0.925 1)" text-anchor="end" font-size="27">3.0</text>
<text transform="translate(480.2 550.3) scale(0.925 1)" text-anchor="end" font-size="27">4.0</text>
<text transform="translate(480.2 451.9) scale(0.925 1)" text-anchor="end" font-size="27">5.0</text>
<path d="M483.8 752h4.2M483.8 713h4.2M483.8 687.6h4.2M483.8 638.8h4.2M483.8 540.8h4.2M483.8 442.4h4.2M517.8 765.8v4.2M565.8 765.8v4.2M613.8 765.8v4.2M661.8 765.8v4.2M709.8 765.8v4.2M757.8 765.8v4.2" stroke="#333" stroke-width="2.1" fill="none"/>
<text transform="translate(517.3 771.8) rotate(-45) scale(0.925 1)" text-anchor="end" font-size="27" dy="0.72em">TP</text>
<text transform="translate(565.3 771.8) rotate(-45) scale(0.925 1)" text-anchor="end" font-size="27" dy="0.72em">CTP</text>
<text transform="translate(613.3 771.8) rotate(-45) scale(0.925 1)" text-anchor="end" font-size="27" dy="0.72em">FP</text>
<text transform="translate(661.3 771.8) rotate(-45) scale(0.925 1)" text-anchor="end" font-size="27" dy="0.72em">CFP</text>
<text transform="translate(714.3 769.8) rotate(-45) scale(0.925 1)" text-anchor="end" font-size="27" dy="0.72em">0-10  cm</text>
<text transform="translate(767.3 768.8) rotate(-45) scale(0.925 1)" text-anchor="end" font-size="27" dy="0.72em">10-20 cm</text>
<text transform="translate(428 590) rotate(-90) scale(0.985 1)" text-anchor="middle" font-size="30">Average path length</text>
<rect x="486" y="700.4" width="6" height="11.2" fill="#fff"/>
<path d="M480.2 695.6l12.6 6M480.2 706.4l12.6 6.4" stroke="#000" stroke-width="2.2" fill="none"/>
<rect x="888.4" y="489.2" width="36.4" height="262.4" fill="#70AD47"/>
<rect x="935.4" y="438.4" width="36.4" height="313.2" fill="#ED7D31"/>
<rect x="982.3" y="474.4" width="36.4" height="277.2" fill="#FFC000"/>
<rect x="1029.3" y="452.8" width="36.4" height="298.8" fill="#5B9BD5"/>
<rect x="1076.2" y="549.2" width="36.4" height="202.4" fill="#D17DAB"/>
<rect x="1123.2" y="479.2" width="36.4" height="272.4" fill="#96D4E6"/>
<path d="M1070.9 422.6L1070.9 766.8" stroke="#6A6A6A" stroke-width="1.7" stroke-dasharray="9.5 8.5" stroke-dashoffset="4.6"/>
<path d="M878.8 424V766.8H1170" fill="none" stroke="#000" stroke-width="2.2" stroke-linejoin="miter"/>
<text transform="translate(870 761.1) scale(0.925 1)" text-anchor="end" font-size="27">0.0</text>
<text transform="translate(870 695.1) scale(0.925 1)" text-anchor="end" font-size="27">0.1</text>
<text transform="translate(870 629.1) scale(0.925 1)" text-anchor="end" font-size="27">0.2</text>
<text transform="translate(870 563.1) scale(0.925 1)" text-anchor="end" font-size="27">0.3</text>
<text transform="translate(870 497.1) scale(0.925 1)" text-anchor="end" font-size="27">0.4</text>
<path d="M873.6 751.6h4.2M873.6 685.6h4.2M873.6 619.6h4.2M873.6 553.6h4.2M873.6 487.6h4.2M906.6 767.8v4.2M953.6 767.8v4.2M1000.5 767.8v4.2M1047.5 767.8v4.2M1094.4 767.8v4.2M1141.4 767.8v4.2" stroke="#333" stroke-width="2.1" fill="none"/>
<text transform="translate(906.1 773.8) rotate(-45) scale(0.925 1)" text-anchor="end" font-size="27" dy="0.72em">TP</text>
<text transform="translate(953.1 773.8) rotate(-45) scale(0.925 1)" text-anchor="end" font-size="27" dy="0.72em">CTP</text>
<text transform="translate(1000 773.8) rotate(-45) scale(0.925 1)" text-anchor="end" font-size="27" dy="0.72em">FP</text>
<text transform="translate(1047 773.8) rotate(-45) scale(0.925 1)" text-anchor="end" font-size="27" dy="0.72em">CFP</text>
<text transform="translate(1098.9 771.8) rotate(-45) scale(0.925 1)" text-anchor="end" font-size="27" dy="0.72em">0-10 cm</text>
<text transform="translate(1150.9 770.8) rotate(-45) scale(0.925 1)" text-anchor="end" font-size="27" dy="0.72em">10-20 cm</text>
<text transform="translate(831 592) rotate(-90) scale(0.985 1)" text-anchor="middle" font-size="30">Transitivity</text>
<rect x="1281.2" y="512.8" width="36.4" height="240.4" fill="#70AD47"/>
<rect x="1328.2" y="520.8" width="36.4" height="232.4" fill="#ED7D31"/>
<rect x="1375.3" y="498" width="36.4" height="255.2" fill="#FFC000"/>
<rect x="1422.3" y="535.2" width="36.4" height="218" fill="#5B9BD5"/>
<rect x="1469.4" y="440" width="36.4" height="313.2" fill="#D17DAB"/>
<rect x="1516.4" y="580.8" width="36.4" height="172.4" fill="#96D4E6"/>
<path d="M1464 425L1464 768" stroke="#6A6A6A" stroke-width="1.7" stroke-dasharray="9.5 8.5" stroke-dashoffset="4.6"/>
<path d="M1271.6 425V768H1562" fill="none" stroke="#000" stroke-width="2.2" stroke-linejoin="miter"/>
<text transform="translate(1262.8 762.7) scale(0.925 1)" text-anchor="end" font-size="27">0.0</text>
<text transform="translate(1262.8 666.3) scale(0.925 1)" text-anchor="end" font-size="27">0.2</text>
<text transform="translate(1262.8 570.3) scale(0.925 1)" text-anchor="end" font-size="27">0.4</text>
<text transform="translate(1262.8 473.5) scale(0.925 1)" text-anchor="end" font-size="27">0.6</text>
<path d="M1266.4 753.2h4.2M1266.4 656.8h4.2M1266.4 560.8h4.2M1266.4 464h4.2M1299.4 769v4.2M1346.4 769v4.2M1393.5 769v4.2M1440.5 769v4.2M1487.6 769v4.2M1534.6 769v4.2" stroke="#333" stroke-width="2.1" fill="none"/>
<text transform="translate(1298.9 775) rotate(-45) scale(0.925 1)" text-anchor="end" font-size="27" dy="0.72em">TP</text>
<text transform="translate(1345.9 775) rotate(-45) scale(0.925 1)" text-anchor="end" font-size="27" dy="0.72em">CTP</text>
<text transform="translate(1393 775) rotate(-45) scale(0.925 1)" text-anchor="end" font-size="27" dy="0.72em">FP</text>
<text transform="translate(1440 775) rotate(-45) scale(0.925 1)" text-anchor="end" font-size="27" dy="0.72em">CFP</text>
<text transform="translate(1492.1 773) rotate(-45) scale(0.925 1)" text-anchor="end" font-size="27" dy="0.72em">0-10 cm</text>
<text transform="translate(1544.1 772) rotate(-45) scale(0.925 1)" text-anchor="end" font-size="27" dy="0.72em">10-20 cm</text>
<text transform="translate(1204 595) rotate(-90) scale(0.985 1)" text-anchor="middle" font-size="30">Modularity</text>
<rect x="117.6" y="1027.2" width="36.4" height="203.6" fill="#70AD47"/>
<rect x="164.5" y="956" width="36.4" height="274.8" fill="#ED7D31"/>
<rect x="211.4" y="990.4" width="36.4" height="240.4" fill="#FFC000"/>
<rect x="258.3" y="924.8" width="36.4" height="306" fill="#5B9BD5"/>
<rect x="305.2" y="1202.4" width="36.4" height="28.4" fill="#D17DAB"/>
<rect x="352.1" y="1189.2" width="36.4" height="41.6" fill="#96D4E6"/>
<path d="M135.8 1027.2V1022.4M132.3 1022.4h7M182.7 956V948.8M179.2 948.8h7M229.6 990.4V986M226.1 986h7M276.5 924.8V917.2M273 917.2h7M323.4 1202.4V1200.8M319.9 1200.8h7M370.3 1189.2V1187.2M366.8 1187.2h7" stroke="#111" stroke-width="2" fill="none"/>
<path d="M298.9 901L298.9 1246.8" stroke="#6A6A6A" stroke-width="1.7" stroke-dasharray="9.5 8.5" stroke-dashoffset="4.6"/>
<path d="M108 902.8V1246.8H398" fill="none" stroke="#000" stroke-width="2.2" stroke-linejoin="miter"/>
<text transform="translate(99.2 1240.3) scale(0.925 1)" text-anchor="end" font-size="27">0</text>
<text transform="translate(99.2 1125.5) scale(0.925 1)" text-anchor="end" font-size="27">20</text>
<text transform="translate(99.2 1011.1) scale(0.925 1)" text-anchor="end" font-size="27">40</text>
<path d="M102.8 1230.8h4.2M102.8 1116h4.2M102.8 1001.6h4.2M135.8 1247.8v4.2M182.7 1247.8v4.2M229.6 1247.8v4.2M276.5 1247.8v4.2M323.4 1247.8v4.2M370.3 1247.8v4.2" stroke="#333" stroke-width="2.1" fill="none"/>
<text transform="translate(135.3 1253.8) rotate(-45) scale(0.925 1)" text-anchor="end" font-size="27" dy="0.72em">TP</text>
<text transform="translate(182.2 1253.8) rotate(-45) scale(0.925 1)" text-anchor="end" font-size="27" dy="0.72em">CTP</text>
<text transform="translate(229.1 1253.8) rotate(-45) scale(0.925 1)" text-anchor="end" font-size="27" dy="0.72em">FP</text>
<text transform="translate(276 1253.8) rotate(-45) scale(0.925 1)" text-anchor="end" font-size="27" dy="0.72em">CFP</text>
<text transform="translate(317.9 1253.8) rotate(-45) scale(0.925 1)" text-anchor="end" font-size="27" dy="0.72em">0-10 cm</text>
<text transform="translate(372.8 1251.8) rotate(-45) scale(0.925 1)" text-anchor="end" font-size="27" dy="0.72em">10-20 cm</text>
<text transform="translate(46 1060) rotate(-90) scale(0.985 1)" text-anchor="middle" font-size="30">Degree</text>
<text x="135.8" y="1016" text-anchor="middle" font-weight="bold" font-size="23">a</text>
<text x="182.7" y="944" text-anchor="middle" font-weight="bold" font-size="23">c</text>
<text x="229.6" y="980" text-anchor="middle" font-weight="bold" font-size="23">b</text>
<text x="276.5" y="913" text-anchor="middle" font-weight="bold" font-size="23">d</text>
<text x="323.4" y="1197" text-anchor="middle" font-weight="bold" font-size="23">a</text>
<text x="370.3" y="1182" text-anchor="middle" font-weight="bold" font-size="23">b</text>
<path d="M135.8 985.2V906.8H229.6V944" fill="none" stroke="#000" stroke-width="2.1" stroke-linecap="round" stroke-dasharray="0.01 3.6"/>
<circle cx="135.8" cy="992" r="5.3" fill="#fff" stroke="#000" stroke-width="1.8"/>
<circle cx="229.6" cy="950.8" r="5.3" fill="#fff" stroke="#000" stroke-width="1.8"/>
<text x="167" y="905" text-anchor="middle" font-weight="bold" font-size="23">A</text>
<path d="M182.7 916.7V872.8H276.5V880.2" fill="none" stroke="#000" stroke-width="2.1" stroke-linecap="round" stroke-dasharray="0.01 3.6"/>
<rect x="178" y="918.8" width="9.4" height="9.4" fill="#fff" stroke="#000" stroke-width="1.8"/>
<rect x="271.8" y="882.3" width="9.4" height="9.4" fill="#fff" stroke="#000" stroke-width="1.8"/>
<text x="228" y="870" text-anchor="middle" font-weight="bold" font-size="23">B</text>
<rect x="502" y="1026.8" width="36.4" height="207.6" fill="#70AD47"/>
<rect x="548.9" y="941.6" width="36.4" height="292.8" fill="#ED7D31"/>
<rect x="595.8" y="1018.8" width="36.4" height="215.6" fill="#FFC000"/>
<rect x="642.7" y="928.4" width="36.4" height="306" fill="#5B9BD5"/>
<rect x="689.6" y="1174" width="36.4" height="60.4" fill="#D17DAB"/>
<rect x="736.5" y="1126.4" width="36.4" height="108" fill="#96D4E6"/>
<path d="M520.2 1026.8V1022.4M516.7 1022.4h7M567.1 941.6V935M563.6 935h7M614 1018.8V1014.4M610.5 1014.4h7M660.9 928.4V921.2M657.4 921.2h7M707.8 1174V1171.6M704.3 1171.6h7M754.7 1126.4V1120M751.2 1120h7" stroke="#111" stroke-width="2" fill="none"/>
<path d="M684 906L684 1250" stroke="#6A6A6A" stroke-width="1.7" stroke-dasharray="9.5 8.5" stroke-dashoffset="4.6"/>
<path d="M492 906V1250H782" fill="none" stroke="#000" stroke-width="2.2" stroke-linejoin="miter"/>
<text transform="translate(483.2 1244.3) scale(0.925 1)" text-anchor="end" font-size="27">0.00</text>
<text transform="translate(483.2 1160.7) scale(0.925 1)" text-anchor="end" font-size="27">0.01</text>
<text transform="translate(483.2 1077.5) scale(0.925 1)" text-anchor="end" font-size="27">0.02</text>
<text transform="translate(483.2 994.3) scale(0.925 1)" text-anchor="end" font-size="27">0.03</text>
<path d="M486.8 1234.8h4.2M486.8 1151.2h4.2M486.8 1068h4.2M486.8 984.8h4.2M520.2 1251v4.2M567.1 1251v4.2M614 1251v4.2M660.9 1251v4.2M707.8 1251v4.2M754.7 1251v4.2" stroke="#333" stroke-width="2.1" fill="none"/>
<text transform="translate(519.7 1257) rotate(-45) scale(0.925 1)" text-anchor="end" font-size="27" dy="0.72em">TP</text>
<text transform="translate(566.6 1257) rotate(-45) scale(0.925 1)" text-anchor="end" font-size="27" dy="0.72em">CTP</text>
<text transform="translate(613.5 1257) rotate(-45) scale(0.925 1)" text-anchor="end" font-size="27" dy="0.72em">FP</text>
<text transform="translate(660.4 1257) rotate(-45) scale(0.925 1)" text-anchor="end" font-size="27" dy="0.72em">CFP</text>
<text transform="translate(702.3 1257) rotate(-45) scale(0.925 1)" text-anchor="end" font-size="27" dy="0.72em">0-10 cm</text>
<text transform="translate(757.2 1255) rotate(-45) scale(0.925 1)" text-anchor="end" font-size="27" dy="0.72em">10-20 cm</text>
<text transform="translate(426 1074) rotate(-90) scale(0.985 1)" text-anchor="middle" font-size="30">Linkage density</text>
<text x="520.2" y="1018.5" text-anchor="middle" font-weight="bold" font-size="23">a</text>
<text x="567.1" y="931.5" text-anchor="middle" font-weight="bold" font-size="23">b</text>
<text x="614" y="1010.5" text-anchor="middle" font-weight="bold" font-size="23">a</text>
<text x="660.9" y="918.5" text-anchor="middle" font-weight="bold" font-size="23">b</text>
<text x="707.8" y="1168.5" text-anchor="middle" font-weight="bold" font-size="23">a</text>
<text x="754.7" y="1115.5" text-anchor="middle" font-weight="bold" font-size="23">b</text>
<path d="M520.2 989.2V904.4H614V980.2" fill="none" stroke="#000" stroke-width="2.1" stroke-linecap="round" stroke-dasharray="0.01 3.6"/>
<circle cx="520.2" cy="996" r="5.3" fill="#fff" stroke="#000" stroke-width="1.8"/>
<circle cx="614" cy="987" r="5.3" fill="#fff" stroke="#000" stroke-width="1.8"/>
<text x="546" y="903" text-anchor="middle" font-weight="bold" font-size="23">A</text>
<path d="M567.1 897.6V877.6H660.9V883.2" fill="none" stroke="#000" stroke-width="2.1" stroke-linecap="round" stroke-dasharray="0.01 3.6"/>
<rect x="562.4" y="899.7" width="9.4" height="9.4" fill="#fff" stroke="#000" stroke-width="1.8"/>
<rect x="656.2" y="885.3" width="9.4" height="9.4" fill="#fff" stroke="#000" stroke-width="1.8"/>
<text x="612" y="875" text-anchor="middle" font-weight="bold" font-size="23">B</text>
<rect x="888.4" y="1048" width="36.4" height="186.4" fill="#70AD47"/>
<rect x="935.4" y="1030.8" width="36.4" height="203.6" fill="#ED7D31"/>
<rect x="982.3" y="1067.6" width="36.4" height="166.8" fill="#FFC000"/>
<rect x="1029.3" y="1039.2" width="36.4" height="195.2" fill="#5B9BD5"/>
<rect x="1076.2" y="1001.2" width="36.4" height="233.2" fill="#D17DAB"/>
<rect x="1123.2" y="924.8" width="36.4" height="309.6" fill="#96D4E6"/>
<path d="M906.6 1048V1046.8M903.1 1046.8h7M953.6 1030.8V1029.6M950.1 1029.6h7M1000.5 1067.6V1066.4M997 1066.4h7M1047.5 1039.2V1038M1044 1038h7M1094.4 1001.2V999.6M1090.9 999.6h7M1141.4 924.8V921.6M1137.9 921.6h7" stroke="#111" stroke-width="2" fill="none"/>
<path d="M1070.8 903L1070.8 1250" stroke="#6A6A6A" stroke-width="1.7" stroke-dasharray="9.5 8.5" stroke-dashoffset="4.6"/>
<path d="M878.8 906V1250H1170" fill="none" stroke="#000" stroke-width="2.2" stroke-linejoin="miter"/>
<text transform="translate(870 1244.3) scale(0.925 1)" text-anchor="end" font-size="27">0</text>
<text transform="translate(870 1174.7) scale(0.925 1)" text-anchor="end" font-size="27">1</text>
<text transform="translate(870 1105.9) scale(0.925 1)" text-anchor="end" font-size="27">2</text>
<text transform="translate(870 1036.7) scale(0.925 1)" text-anchor="end" font-size="27">3</text>
<text transform="translate(870 967.9) scale(0.925 1)" text-anchor="end" font-size="27">4</text>
<path d="M873.6 1234.8h4.2M873.6 1165.2h4.2M873.6 1096.4h4.2M873.6 1027.2h4.2M873.6 958.4h4.2M906.6 1251v4.2M953.6 1251v4.2M1000.5 1251v4.2M1047.5 1251v4.2M1094.4 1251v4.2M1141.4 1251v4.2" stroke="#333" stroke-width="2.1" fill="none"/>
<text transform="translate(906.1 1257) rotate(-45) scale(0.925 1)" text-anchor="end" font-size="27" dy="0.72em">TP</text>
<text transform="translate(953.1 1257) rotate(-45) scale(0.925 1)" text-anchor="end" font-size="27" dy="0.72em">CTP</text>
<text transform="translate(1000 1257) rotate(-45) scale(0.925 1)" text-anchor="end" font-size="27" dy="0.72em">FP</text>
<text transform="translate(1047 1257) rotate(-45) scale(0.925 1)" text-anchor="end" font-size="27" dy="0.72em">CFP</text>
<text transform="translate(1088.9 1257) rotate(-45) scale(0.925 1)" text-anchor="end" font-size="27" dy="0.72em">0-10 cm</text>
<text transform="translate(1143.9 1255) rotate(-45) scale(0.925 1)" text-anchor="end" font-size="27" dy="0.72em">10-20 cm</text>
<text transform="translate(832 1068) rotate(-90) scale(0.985 1)" text-anchor="middle" font-size="30">Closeness centrality (e−04)</text>
<text x="906.6" y="1043.4" text-anchor="middle" font-weight="bold" font-size="23">b</text>
<text x="953.6" y="1025.4" text-anchor="middle" font-weight="bold" font-size="23">c</text>
<text x="1000.5" y="1062.4" text-anchor="middle" font-weight="bold" font-size="23">a</text>
<text x="1047.5" y="1034.4" text-anchor="middle" font-weight="bold" font-size="23">bc</text>
<text x="1094.4" y="995.4" text-anchor="middle" font-weight="bold" font-size="23">a</text>
<text x="1141.4" y="917.4" text-anchor="middle" font-weight="bold" font-size="23">b</text>
<path d="M906.6 1011.6V989H1000.5V1028.8" fill="none" stroke="#000" stroke-width="2.1" stroke-linecap="round" stroke-dasharray="0.01 3.6"/>
<circle cx="906.6" cy="1018.4" r="5.3" fill="#fff" stroke="#000" stroke-width="1.8"/>
<circle cx="1000.5" cy="1035.6" r="5.3" fill="#fff" stroke="#000" stroke-width="1.8"/>
<text x="940" y="986" text-anchor="middle" font-weight="bold" font-size="23">A</text>
<path d="M953.6 996.8V973.6H1047.5V1002.8" fill="none" stroke="#000" stroke-width="2.1" stroke-linecap="round" stroke-dasharray="0.01 3.6"/>
<rect x="948.9" y="998.9" width="9.4" height="9.4" fill="#fff" stroke="#000" stroke-width="1.8"/>
<rect x="1042.8" y="1004.9" width="9.4" height="9.4" fill="#fff" stroke="#000" stroke-width="1.8"/>
<text x="1001" y="971" text-anchor="middle" font-weight="bold" font-size="23">B</text>
<rect x="1283.2" y="960" width="36" height="276" fill="#70AD47"/>
<rect x="1329.9" y="990" width="36" height="246" fill="#ED7D31"/>
<rect x="1376.6" y="931.2" width="36" height="304.8" fill="#FFC000"/>
<rect x="1423.3" y="980.4" width="36" height="255.6" fill="#5B9BD5"/>
<rect x="1470" y="964.8" width="36" height="271.2" fill="#D17DAB"/>
<rect x="1516.7" y="1024.4" width="36" height="211.6" fill="#96D4E6"/>
<path d="M1301.2 960V952M1297.7 952h7M1347.9 990V983.2M1344.4 983.2h7M1394.6 931.2V922.8M1391.1 922.8h7M1441.3 980.4V974.4M1437.8 974.4h7M1488 964.8V946M1484.5 946h7M1534.7 1024.4V1005.6M1531.2 1005.6h7" stroke="#111" stroke-width="2" fill="none"/>
<path d="M1464 904L1464 1251.2" stroke="#6A6A6A" stroke-width="1.7" stroke-dasharray="9.5 8.5" stroke-dashoffset="4.6"/>
<path d="M1273.6 908V1251.2H1562" fill="none" stroke="#000" stroke-width="2.2" stroke-linejoin="miter"/>
<text transform="translate(1264.8 1245.9) scale(0.925 1)" text-anchor="end" font-size="27">0</text>
<text transform="translate(1264.8 1158.7) scale(0.925 1)" text-anchor="end" font-size="27">500</text>
<text transform="translate(1264.8 1072.3) scale(0.925 1)" text-anchor="end" font-size="27">1000</text>
<text transform="translate(1264.8 985.9) scale(0.925 1)" text-anchor="end" font-size="27">1500</text>
<path d="M1268.4 1236.4h4.2M1268.4 1149.2h4.2M1268.4 1062.8h4.2M1268.4 976.4h4.2M1301.2 1252.2v4.2M1347.9 1252.2v4.2M1394.6 1252.2v4.2M1441.3 1252.2v4.2M1488 1252.2v4.2M1534.7 1252.2v4.2" stroke="#333" stroke-width="2.1" fill="none"/>
<text transform="translate(1300.7 1258.2) rotate(-45) scale(0.925 1)" text-anchor="end" font-size="27" dy="0.72em">TP</text>
<text transform="translate(1347.4 1258.2) rotate(-45) scale(0.925 1)" text-anchor="end" font-size="27" dy="0.72em">CTP</text>
<text transform="translate(1394.1 1258.2) rotate(-45) scale(0.925 1)" text-anchor="end" font-size="27" dy="0.72em">FP</text>
<text transform="translate(1440.8 1258.2) rotate(-45) scale(0.925 1)" text-anchor="end" font-size="27" dy="0.72em">CFP</text>
<text transform="translate(1482.5 1258.2) rotate(-45) scale(0.925 1)" text-anchor="end" font-size="27" dy="0.72em">0-10 cm</text>
<text transform="translate(1537.2 1256.2) rotate(-45) scale(0.925 1)" text-anchor="end" font-size="27" dy="0.72em">10-20 cm</text>
<text transform="translate(1206 1072) rotate(-90) scale(0.985 1)" text-anchor="middle" font-size="30">Betweennes centrality</text>
<text x="1301.2" y="949" text-anchor="middle" font-weight="bold" font-size="23">c</text>
<text x="1347.9" y="980" text-anchor="middle" font-weight="bold" font-size="23">a</text>
<text x="1394.6" y="921" text-anchor="middle" font-weight="bold" font-size="23">d</text>
<text x="1441.3" y="970" text-anchor="middle" font-weight="bold" font-size="23">b</text>
<text x="1488" y="944" text-anchor="middle" font-weight="bold" font-size="23">b</text>
<text x="1534.7" y="1003" text-anchor="middle" font-weight="bold" font-size="23">a</text>
<path d="M1301.2 919.2V883.6H1394.6V887.2" fill="none" stroke="#000" stroke-width="2.1" stroke-linecap="round" stroke-dasharray="0.01 3.6"/>
<circle cx="1301.2" cy="926" r="5.3" fill="#fff" stroke="#000" stroke-width="1.8"/>
<circle cx="1394.6" cy="894" r="5.3" fill="#fff" stroke="#000" stroke-width="1.8"/>
<text x="1337" y="881" text-anchor="middle" font-weight="bold" font-size="23">B</text>
<path d="M1347.9 948.8V877.6H1441.3V935.6" fill="none" stroke="#000" stroke-width="2.1" stroke-linecap="round" stroke-dasharray="0.01 3.6"/>
<rect x="1343.2" y="950.9" width="9.4" height="9.4" fill="#fff" stroke="#000" stroke-width="1.8"/>
<rect x="1436.6" y="937.7" width="9.4" height="9.4" fill="#fff" stroke="#000" stroke-width="1.8"/>
<text x="1394" y="876" text-anchor="middle" font-weight="bold" font-size="23">A</text>
<path d="M1677.5 711.9L1683.7 713.3L1689.9 715L1696 716.8L1702.2 718.8L1708.3 720.9L1714.5 723L1720.7 725.1L1726.8 727.2L1733 729.3L1739.2 731.2L1745.3 733.1L1751.5 734.9L1757.6 736.6L1763.8 738.1L1770 739.5L1776.1 740.8L1782.3 742L1788.4 743.1L1794.6 744L1800.8 744.9L1806.9 745.6L1813.1 746.3L1819.3 746.9L1825.4 747.4L1831.6 747.9L1837.7 748.3L1843.9 748.7L1850.1 749.1L1856.2 749.5L1862.4 749.9L1868.5 750.3L1874.7 750.7L1880.9 751.1L1887 751.5L1893.2 752L1899.4 752.4L1905.5 752.9L1911.7 753.3L1917.8 753.7L1924 754.1L1930.2 754.4L1936.3 754.6L1942.5 754.6L1948.6 754.5" fill="none" stroke="#D17DAB" stroke-width="3.6" stroke-linecap="round" stroke-linejoin="round"/>
<path d="M1677.5 602.1L1683.7 610.2L1689.9 618L1696 625.4L1702.2 632.3L1708.3 638.5L1714.5 644.2L1720.7 649.4L1726.8 654L1733 658.3L1739.2 662.3L1745.3 666L1751.5 669.6L1757.6 673.1L1763.8 676.6L1770 680.1L1776.1 683.8L1782.3 687.5L1788.4 691.3L1794.6 695.2L1800.8 699.2L1806.9 703.2L1813.1 707.2L1819.3 711.2L1825.4 715.1L1831.6 718.8L1837.7 722.4L1843.9 725.7L1850.1 728.8L1856.2 731.7L1862.4 734.2L1868.5 736.5L1874.7 738.5L1880.9 740.3L1887 741.9L1893.2 743.3L1899.4 744.6L1905.5 745.9L1911.7 747L1917.8 748.1L1924 749.2L1930.2 750.2L1936.3 751L1942.5 751.4L1948.6 751.3" fill="none" stroke="#96D4E6" stroke-width="4.2" stroke-linecap="round" stroke-linejoin="round"/>
<path d="M1677 581.3L1683.8 586.4L1690.6 591.4L1697.4 596.3L1704.2 601.1L1711 606L1717.8 610.7L1724.6 615.4L1731.4 620L1738.2 624.6L1745 629.1L1751.7 633.5L1758.5 637.9L1765.3 642.3L1772.1 646.6L1778.9 650.8L1785.7 655L1792.5 659.1L1799.3 663.2L1806.1 667.2L1812.9 671.2L1819.7 675.1L1826.5 679L1833.3 682.8L1840.1 686.6L1846.9 690.3L1853.7 694L1860.5 697.6L1867.3 701.2L1874.1 704.8L1880.8 708.3L1887.6 711.7L1894.4 715.1L1901.2 718.5L1908 721.8L1914.8 725.1L1921.6 728.3L1928.4 731.5L1935.2 734.7L1942 737.8L1948.8 740.9" fill="none" stroke="#70AD47" stroke-width="4.6" stroke-linecap="round" stroke-linejoin="round"/>
<path d="M1677 557.3L1683.8 563.8L1690.6 570.1L1697.4 576.4L1704.2 582.5L1711 588.5L1717.8 594.4L1724.6 600.2L1731.4 605.9L1738.2 611.4L1745 616.9L1751.7 622.2L1758.5 627.5L1765.3 632.7L1772.1 637.7L1778.9 642.7L1785.7 647.6L1792.5 652.3L1799.3 657L1806.1 661.6L1812.9 666.1L1819.7 670.6L1826.5 674.9L1833.3 679.2L1840.1 683.4L1846.9 687.5L1853.7 691.5L1860.5 695.4L1867.3 699.3L1874.1 703.1L1880.8 706.9L1887.6 710.5L1894.4 714.1L1901.2 717.6L1908 721.1L1914.8 724.5L1921.6 727.8L1928.4 731.1L1935.2 734.3L1942 737.4L1948.8 740.5" fill="none" stroke="#FFC000" stroke-width="4.6" stroke-linecap="round" stroke-linejoin="round"/>
<path d="M1677.5 443L1683.7 458.3L1689.9 471.9L1696 484.1L1702.2 495L1708.3 504.9L1714.5 513.9L1720.7 522.1L1726.8 529.7L1733 536.7L1739.2 543.4L1745.3 549.8L1751.5 555.9L1757.6 561.9L1763.8 567.7L1770 573.5L1776.1 579.3L1782.3 585L1788.4 590.8L1794.6 596.6L1800.8 602.4L1806.9 608.3L1813.1 614.2L1819.3 620.1L1825.4 626.1L1831.6 632L1837.7 637.9L1843.9 643.8L1850.1 649.6L1856.2 655.3L1862.4 660.9L1868.5 666.4L1874.7 671.7L1880.9 677L1887 682L1893.2 687L1899.4 691.7L1905.5 696.4L1911.7 700.9L1917.8 705.3L1924 709.6L1930.2 713.9L1936.3 718.3L1942.5 722.7L1948.6 727.3" fill="none" stroke="#ED7D31" stroke-width="5.2" stroke-linecap="round" stroke-linejoin="round"/>
<path d="M1677.5 455.1L1683.7 466.4L1689.9 476.9L1696 486.8L1702.2 495.9L1708.3 504.5L1714.5 512.6L1720.7 520.3L1726.8 527.7L1733 534.7L1739.2 541.5L1745.3 548L1751.5 554.4L1757.6 560.6L1763.8 566.7L1770 572.7L1776.1 578.7L1782.3 584.6L1788.4 590.5L1794.6 596.3L1800.8 602.1L1806.9 607.9L1813.1 613.7L1819.3 619.5L1825.4 625.2L1831.6 631L1837.7 636.7L1843.9 642.4L1850.1 648L1856.2 653.6L1862.4 659.1L1868.5 664.6L1874.7 670L1880.9 675.3L1887 680.5L1893.2 685.6L1899.4 690.6L1905.5 695.5L1911.7 700.3L1917.8 704.9L1924 709.5L1930.2 713.9L1936.3 718.2L1942.5 722.4L1948.6 726.4" fill="none" stroke="#5B9BD5" stroke-width="4.6" stroke-linecap="round" stroke-linejoin="round"/>
<path d="M1664 419.5V772.2H1961.4" fill="none" stroke="#000" stroke-width="2.2" stroke-linejoin="miter"/>
<text transform="translate(1655.2 765.9) scale(0.925 1)" text-anchor="end" font-size="27">0.00</text>
<text transform="translate(1655.2 688.2) scale(0.925 1)" text-anchor="end" font-size="27">0.02</text>
<text transform="translate(1655.2 611.3) scale(0.925 1)" text-anchor="end" font-size="27">0.04</text>
<text transform="translate(1655.2 533.6) scale(0.925 1)" text-anchor="end" font-size="27">0.06</text>
<text transform="translate(1655.2 456) scale(0.925 1)" text-anchor="end" font-size="27">0.08</text>
<path d="M1658.8 756.4h4.2M1658.8 678.7h4.2M1658.8 601.8h4.2M1658.8 524.1h4.2M1658.8 446.5h4.2" stroke="#333" stroke-width="2.1" fill="none"/>
<text transform="translate(1595 592) rotate(-90) scale(0.985 1)" text-anchor="middle" font-size="30">Natural connectivity</text>
<text transform="translate(1677 800.2) scale(0.925 1)" text-anchor="middle" font-size="27">0.0</text>
<text transform="translate(1745 800.2) scale(0.925 1)" text-anchor="middle" font-size="27">0.2</text>
<text transform="translate(1812.9 800.2) scale(0.925 1)" text-anchor="middle" font-size="27">0.4</text>
<text transform="translate(1880.8 800.2) scale(0.925 1)" text-anchor="middle" font-size="27">0.6</text>
<text transform="translate(1948.8 800.2) scale(0.925 1)" text-anchor="middle" font-size="27">0.8</text>
<path d="M1677 773.2v4.2M1745 773.2v4.2M1812.9 773.2v4.2M1880.8 773.2v4.2M1948.8 773.2v4.2" stroke="#333" stroke-width="2.1" fill="none"/>
<text x="1807.5" y="831.2" text-anchor="middle" font-size="29.6">Proportion of removed edges</text>
<text x="1692.5" y="437.5" font-weight="bold" font-style="italic" font-size="23.6">Differences</text>
<text x="1692.5" y="458.3" font-weight="bold" font-style="italic" font-size="23.6">in slopes</text>
<text x="1755" y="492.5" text-anchor="middle" fill="#70AD47" font-size="23">TP</text>
<text x="1754.7" y="515" text-anchor="middle" fill="#70AD47" font-size="23">-0.050</text>
<text x="1858.6" y="493.6" text-anchor="middle" fill="#D17DAB" font-size="23">0-10 cm</text>
<text x="1859" y="515" text-anchor="middle" fill="#D17DAB" font-size="23">-0.013</text>
<text x="1818.7" y="556" text-anchor="middle" fill="#FFC000" font-size="23">FP</text>
<text x="1818.7" y="578.8" text-anchor="middle" fill="#FFC000" font-size="23">-0.055</text>
<text x="1926.5" y="570.5" text-anchor="middle" fill="#96D4E6" font-size="23">10- 20 cm</text>
<text x="1925.5" y="590.6" text-anchor="middle" fill="#96D4E6" font-size="23">-0.048</text>
<text x="1891.3" y="618.3" text-anchor="middle" fill="#5B9BD5" font-size="23">CFP</text>
<text x="1890.6" y="640.6" text-anchor="middle" fill="#5B9BD5" font-size="23">-0.083</text>
<text x="1965.4" y="684" text-anchor="middle" fill="#ED7D31" font-size="23">CTP</text>
<text x="1965.4" y="705.7" text-anchor="middle" fill="#ED7D31" font-size="23">-0.086</text>
<text x="1778.4" y="535.4" text-anchor="middle" font-weight="bold" font-size="22">&gt;</text>
<text x="1778.4" y="549.4" text-anchor="middle" font-weight="bold" font-size="22">***</text>
<text x="1881.6" y="535.4" text-anchor="middle" font-weight="bold" font-size="22">&gt;</text>
<text x="1881.6" y="549.4" text-anchor="middle" font-weight="bold" font-size="22">***</text>
<text x="1846.4" y="596.6" text-anchor="middle" font-weight="bold" font-size="22">&gt;</text>
<text x="1846.4" y="610.6" text-anchor="middle" font-weight="bold" font-size="22">***</text>
<text x="1926.5" y="660.2" text-anchor="middle" font-weight="bold" font-size="22">&gt;</text>
<text x="1926.5" y="674.2" text-anchor="middle" font-weight="bold" font-size="22">***</text>
<path d="M1870.9 904.2L1870.9 1250.6" stroke="#757575" stroke-width="1.8" stroke-dasharray="9.5 8.5" stroke-dashoffset="4.6"/>
<path d="M1699.5 922V947.2M1699.5 1019.2V1031.8M1696 922h7M1696 1031.8h7" stroke="#333" stroke-width="2.3" fill="none"/>
<rect x="1680.2" y="947.2" width="38.6" height="72" fill="#70AD47" stroke="#3d3d3d" stroke-width="2.1"/>
<path d="M1680.2 976.1L1718.8 976.1" stroke="#333" stroke-width="3.8"/>
<path d="M1748.5 1021V1033.2M1748.5 1109.7V1113.4M1745 1021h7M1745 1113.4h7" stroke="#333" stroke-width="2.3" fill="none"/>
<rect x="1729.2" y="1033.2" width="38.5" height="76.5" fill="#ED7D31" stroke="#3d3d3d" stroke-width="2.1"/>
<path d="M1729.2 1070.3L1767.7 1070.3" stroke="#333" stroke-width="3.8"/>
<path d="M1797.6 992.4V999.9M1797.6 1032.9V1036.2M1794.1 992.4h7M1794.1 1036.2h7" stroke="#333" stroke-width="2.3" fill="none"/>
<rect x="1778.5" y="999.9" width="38.2" height="33" fill="#FFC000" stroke="#3d3d3d" stroke-width="2.1"/>
<path d="M1778.5 1016.9L1816.7 1016.9" stroke="#333" stroke-width="3.8"/>
<path d="M1846.8 1010.3V1075.5M1846.8 1184.6V1209.1M1843.2 1010.3h7M1843.2 1209.1h7" stroke="#333" stroke-width="2.3" fill="none"/>
<rect x="1827.5" y="1075.5" width="38.5" height="109.1" fill="#5B9BD5" stroke="#3d3d3d" stroke-width="2.1"/>
<path d="M1827.5 1138.6L1866 1138.6" stroke="#333" stroke-width="3.8"/>
<path d="M1895.9 921.6V1027.3M1895.9 1156V1235M1892.4 921.6h7M1892.4 1235h7" stroke="#333" stroke-width="2.3" fill="none"/>
<rect x="1876.8" y="1027.3" width="38.2" height="128.7" fill="#D17DAB" stroke="#3d3d3d" stroke-width="2.1"/>
<path d="M1876.8 1081.1L1915 1081.1" stroke="#333" stroke-width="3.8"/>
<path d="M1944.9 942.4V994.7M1944.9 1033.6V1044M1941.4 942.4h7M1941.4 1044h7" stroke="#333" stroke-width="2.3" fill="none"/>
<rect x="1925.8" y="994.7" width="38.2" height="38.9" fill="#96D4E6" stroke="#3d3d3d" stroke-width="2.1"/>
<path d="M1925.8 1020.6L1964 1020.6" stroke="#333" stroke-width="3.8"/>
<path d="M1670.2 906.8V1250.6H1974" fill="none" stroke="#000" stroke-width="2.2" stroke-linejoin="miter"/>
<text transform="translate(1661.4 1239) scale(0.925 1)" text-anchor="end" font-size="27">0.2</text>
<text transform="translate(1661.4 1127.3) scale(0.925 1)" text-anchor="end" font-size="27">0.3</text>
<text transform="translate(1661.4 1015.7) scale(0.925 1)" text-anchor="end" font-size="27">0.4</text>
<path d="M1665 1229.5h4.2M1665 1117.8h4.2M1665 1006.2h4.2M1699.5 1251.6v4.2M1748.5 1251.6v4.2M1797.6 1251.6v4.2M1846.8 1251.6v4.2M1895.9 1251.6v4.2M1944.9 1251.6v4.2" stroke="#333" stroke-width="2.1" fill="none"/>
<text transform="translate(1699 1257.6) rotate(-45) scale(0.925 1)" text-anchor="end" font-size="27" dy="0.72em">TP</text>
<text transform="translate(1748 1257.6) rotate(-45) scale(0.925 1)" text-anchor="end" font-size="27" dy="0.72em">CTP</text>
<text transform="translate(1797.1 1257.6) rotate(-45) scale(0.925 1)" text-anchor="end" font-size="27" dy="0.72em">FP</text>
<text transform="translate(1846.2 1257.6) rotate(-45) scale(0.925 1)" text-anchor="end" font-size="27" dy="0.72em">CFP</text>
<text transform="translate(1890.4 1257.6) rotate(-45) scale(0.925 1)" text-anchor="end" font-size="27" dy="0.72em">0-10 cm</text>
<text transform="translate(1947.4 1255.6) rotate(-45) scale(0.925 1)" text-anchor="end" font-size="27" dy="0.72em">10-20 cm</text>
<text transform="translate(1603 1075) rotate(-90) scale(0.985 1)" text-anchor="middle" font-size="30">Microbial stability</text>
<text x="1699.5" y="918" text-anchor="middle" font-weight="bold" font-size="23">c</text>
<text x="1750.5" y="1016" text-anchor="middle" font-weight="bold" font-size="23">ab</text>
<text x="1797.6" y="988" text-anchor="middle" font-weight="bold" font-size="23">bc</text>
<text x="1846.8" y="1006" text-anchor="middle" font-weight="bold" font-size="23">a</text>
<path d="M1699.5 891.7V885.8H1797.6V956.2" fill="none" stroke="#000" stroke-width="2.1" stroke-linecap="round" stroke-dasharray="0.01 3.6"/>
<circle cx="1699.5" cy="898.5" r="5.3" fill="#fff" stroke="#000" stroke-width="1.8"/>
<circle cx="1797.6" cy="963" r="5.3" fill="#fff" stroke="#000" stroke-width="1.8"/>
<text x="1746" y="884" text-anchor="middle" font-weight="bold" font-size="23">B</text>
<path d="M1748.5 981.7V912.8H1846.8V975.7" fill="none" stroke="#000" stroke-width="2.1" stroke-linecap="round" stroke-dasharray="0.01 3.6"/>
<rect x="1743.8" y="983.8" width="9.4" height="9.4" fill="#fff" stroke="#000" stroke-width="1.8"/>
<rect x="1842" y="977.8" width="9.4" height="9.4" fill="#fff" stroke="#000" stroke-width="1.8"/>
<text x="1809" y="910" text-anchor="middle" font-weight="bold" font-size="23">A</text>
</svg></body></html>
